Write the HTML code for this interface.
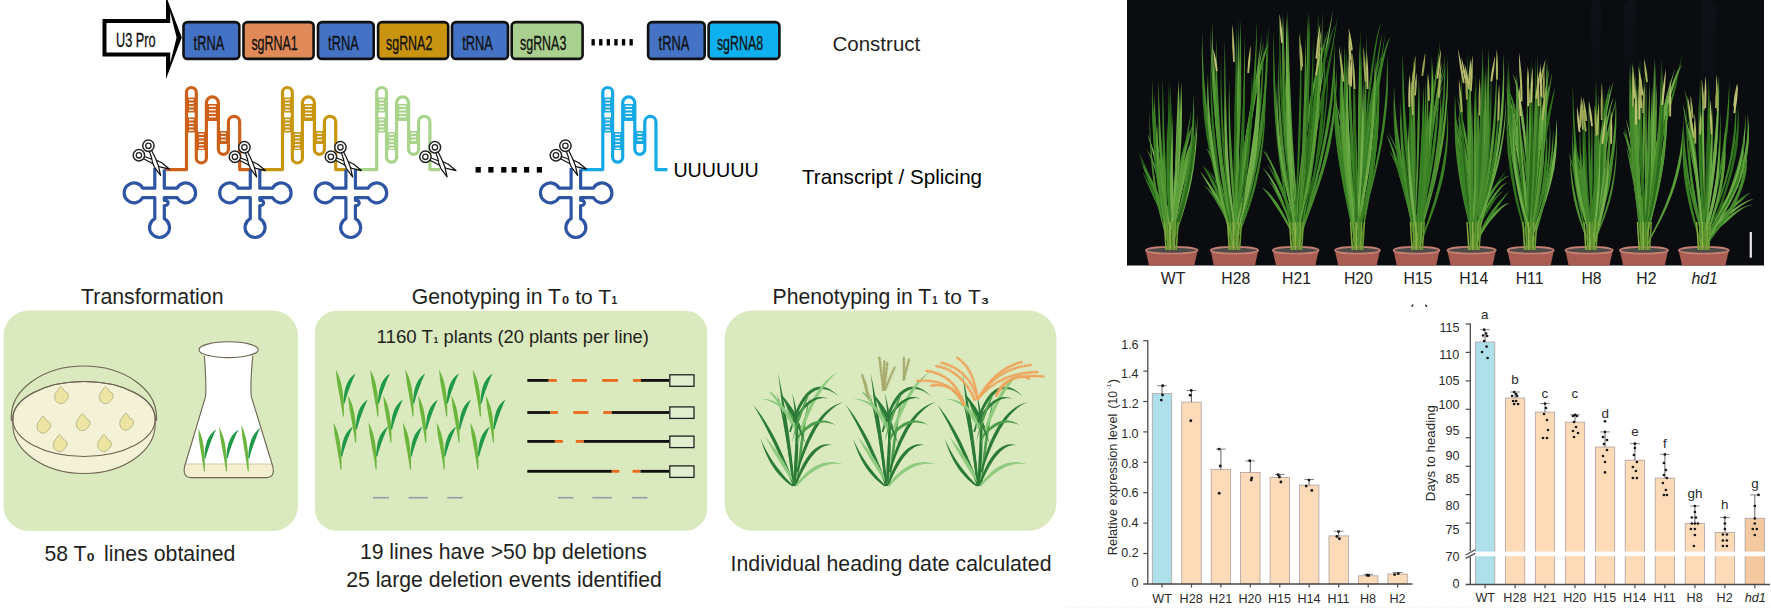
<!DOCTYPE html>
<html><head><meta charset="utf-8"><title>Figure</title>
<style>html,body{margin:0;padding:0;background:#fff;}body{width:1771px;height:610px;overflow:hidden;}svg{display:block;}</style>
</head><body>
<svg width="1771" height="610" viewBox="0 0 1771 610" font-family="'Liberation Sans', Arial, sans-serif">
<rect width="1771" height="610" fill="#fff"/>
<path d="M102.5,19 L166,19 L166,-4 L181.8,37.5 L166,79 L166,56.4 L102.5,56.4 Z" fill="#000"/>
<path d="M106.5,23 L170.2,23 L170.2,12 L176.6,37.5 L170.2,63 L170.2,52.4 L106.5,52.4 Z" fill="#fff"/>
<text x="116" y="47.2" font-size="21" fill="#111" textLength="39.6" lengthAdjust="spacingAndGlyphs" stroke="#111" stroke-width="0.35">U3 Pro</text>
<rect x="183.5" y="22.1" width="55.8" height="36.8" rx="4" ry="4" fill="#4472c4" stroke="#111" stroke-width="2.6"/>
<text x="193.6" y="49.8" font-size="21" fill="#111" textLength="30.6" lengthAdjust="spacingAndGlyphs" stroke="#111" stroke-width="0.35">tRNA</text>
<rect x="243.5" y="22.1" width="70.1" height="36.8" rx="4" ry="4" fill="#e08a5a" stroke="#111" stroke-width="2.6"/>
<text x="251.4" y="49.8" font-size="21" fill="#111" textLength="46.3" lengthAdjust="spacingAndGlyphs" stroke="#111" stroke-width="0.35">sgRNA1</text>
<rect x="318" y="22.1" width="55.7" height="36.8" rx="4" ry="4" fill="#4472c4" stroke="#111" stroke-width="2.6"/>
<text x="328.1" y="49.8" font-size="21" fill="#111" textLength="30.6" lengthAdjust="spacingAndGlyphs" stroke="#111" stroke-width="0.35">tRNA</text>
<rect x="378.1" y="22.1" width="70.1" height="36.8" rx="4" ry="4" fill="#c99510" stroke="#111" stroke-width="2.6"/>
<text x="386" y="49.8" font-size="21" fill="#111" textLength="46.3" lengthAdjust="spacingAndGlyphs" stroke="#111" stroke-width="0.35">sgRNA2</text>
<rect x="452" y="22.1" width="56" height="36.8" rx="4" ry="4" fill="#4472c4" stroke="#111" stroke-width="2.6"/>
<text x="462.2" y="49.8" font-size="21" fill="#111" textLength="30.6" lengthAdjust="spacingAndGlyphs" stroke="#111" stroke-width="0.35">tRNA</text>
<rect x="511.7" y="22.1" width="70.9" height="36.8" rx="4" ry="4" fill="#a9d08e" stroke="#111" stroke-width="2.6"/>
<text x="520" y="49.8" font-size="21" fill="#111" textLength="46.3" lengthAdjust="spacingAndGlyphs" stroke="#111" stroke-width="0.35">sgRNA3</text>
<rect x="648.1" y="22.1" width="56.6" height="36.8" rx="4" ry="4" fill="#4472c4" stroke="#111" stroke-width="2.6"/>
<text x="658.6" y="49.8" font-size="21" fill="#111" textLength="30.6" lengthAdjust="spacingAndGlyphs" stroke="#111" stroke-width="0.35">tRNA</text>
<rect x="708.6" y="22.1" width="70.8" height="36.8" rx="4" ry="4" fill="#0fb0ee" stroke="#111" stroke-width="2.6"/>
<text x="716.9" y="49.8" font-size="21" fill="#111" textLength="46.3" lengthAdjust="spacingAndGlyphs" stroke="#111" stroke-width="0.35">sgRNA8</text>
<rect x="591.5" y="39.1" width="3.3" height="6.4" fill="#000"/>
<rect x="599.1" y="39.1" width="3.3" height="6.4" fill="#000"/>
<rect x="606.7" y="39.1" width="3.3" height="6.4" fill="#000"/>
<rect x="614.3" y="39.1" width="3.3" height="6.4" fill="#000"/>
<rect x="621.9" y="39.1" width="3.3" height="6.4" fill="#000"/>
<rect x="629.5" y="39.1" width="3.3" height="6.4" fill="#000"/>
<text x="832.5" y="50.5" font-size="20.5" fill="#231f20">Construct</text>
<rect x="186.5" y="97.5" width="9.8" height="15" fill="#cd611a"/>
<rect x="189.1" y="99.1" width="4.6" height="1.3" fill="#fff"/>
<rect x="189.1" y="102.6" width="4.6" height="1.3" fill="#fff"/>
<rect x="189.1" y="106.1" width="4.6" height="1.3" fill="#fff"/>
<rect x="189.1" y="109.6" width="4.6" height="1.3" fill="#fff"/>
<rect x="186.5" y="117.5" width="9.8" height="15" fill="#cd611a"/>
<rect x="189.1" y="119.1" width="4.6" height="1.3" fill="#fff"/>
<rect x="189.1" y="122.6" width="4.6" height="1.3" fill="#fff"/>
<rect x="189.1" y="126.1" width="4.6" height="1.3" fill="#fff"/>
<rect x="189.1" y="129.6" width="4.6" height="1.3" fill="#fff"/>
<rect x="196.3" y="132" width="10.1" height="18" fill="#cd611a"/>
<rect x="198.9" y="133.6" width="4.9" height="1.3" fill="#fff"/>
<rect x="198.9" y="137.1" width="4.9" height="1.3" fill="#fff"/>
<rect x="198.9" y="140.6" width="4.9" height="1.3" fill="#fff"/>
<rect x="198.9" y="144.1" width="4.9" height="1.3" fill="#fff"/>
<rect x="198.9" y="147.6" width="4.9" height="1.3" fill="#fff"/>
<rect x="206.4" y="104" width="12" height="17" fill="#cd611a"/>
<rect x="209" y="105.6" width="6.8" height="1.3" fill="#fff"/>
<rect x="209" y="109.1" width="6.8" height="1.3" fill="#fff"/>
<rect x="209" y="112.6" width="6.8" height="1.3" fill="#fff"/>
<rect x="209" y="116.1" width="6.8" height="1.3" fill="#fff"/>
<rect x="218.4" y="131" width="10" height="13" fill="#cd611a"/>
<rect x="221" y="132.6" width="4.8" height="1.3" fill="#fff"/>
<rect x="221" y="136.1" width="4.8" height="1.3" fill="#fff"/>
<rect x="221" y="139.6" width="4.8" height="1.3" fill="#fff"/>
<path d="M164.3,169.6 H186.5 V92.4 A4.9,4.9 0 0 1 196.3,92.4 V157.9 A5,5 0 0 0 206.4,157.9 V102.9 A6,6 0 0 1 218.4,102.9 V149.3 A5,5 0 0 0 228.4,149.3 V122 A5.6,5.6 0 0 1 239.7,122 V169.6 H250.3" fill="none" stroke="#cd611a" stroke-width="3.2" stroke-linejoin="round"/>
<rect x="282.5" y="97.5" width="9.8" height="15" fill="#c8960f"/>
<rect x="285.1" y="99.1" width="4.6" height="1.3" fill="#fff"/>
<rect x="285.1" y="102.6" width="4.6" height="1.3" fill="#fff"/>
<rect x="285.1" y="106.1" width="4.6" height="1.3" fill="#fff"/>
<rect x="285.1" y="109.6" width="4.6" height="1.3" fill="#fff"/>
<rect x="282.5" y="117.5" width="9.8" height="15" fill="#c8960f"/>
<rect x="285.1" y="119.1" width="4.6" height="1.3" fill="#fff"/>
<rect x="285.1" y="122.6" width="4.6" height="1.3" fill="#fff"/>
<rect x="285.1" y="126.1" width="4.6" height="1.3" fill="#fff"/>
<rect x="285.1" y="129.6" width="4.6" height="1.3" fill="#fff"/>
<rect x="292.3" y="132" width="10.1" height="18" fill="#c8960f"/>
<rect x="294.9" y="133.6" width="4.9" height="1.3" fill="#fff"/>
<rect x="294.9" y="137.1" width="4.9" height="1.3" fill="#fff"/>
<rect x="294.9" y="140.6" width="4.9" height="1.3" fill="#fff"/>
<rect x="294.9" y="144.1" width="4.9" height="1.3" fill="#fff"/>
<rect x="294.9" y="147.6" width="4.9" height="1.3" fill="#fff"/>
<rect x="302.4" y="104" width="12.1" height="17" fill="#c8960f"/>
<rect x="305" y="105.6" width="6.9" height="1.3" fill="#fff"/>
<rect x="305" y="109.1" width="6.9" height="1.3" fill="#fff"/>
<rect x="305" y="112.6" width="6.9" height="1.3" fill="#fff"/>
<rect x="305" y="116.1" width="6.9" height="1.3" fill="#fff"/>
<rect x="314.4" y="131" width="10" height="13" fill="#c8960f"/>
<rect x="317.1" y="132.6" width="4.8" height="1.3" fill="#fff"/>
<rect x="317.1" y="136.1" width="4.8" height="1.3" fill="#fff"/>
<rect x="317.1" y="139.6" width="4.8" height="1.3" fill="#fff"/>
<path d="M259.8,169.6 H282.5 V92.4 A4.9,4.9 0 0 1 292.3,92.4 V157.9 A5,5 0 0 0 302.4,157.9 V102.9 A6,6 0 0 1 314.4,102.9 V149.3 A5,5 0 0 0 324.4,149.3 V122 A5.6,5.6 0 0 1 335.7,122 V169.6 H345.9" fill="none" stroke="#c8960f" stroke-width="3.2" stroke-linejoin="round"/>
<rect x="376.7" y="97.5" width="9.8" height="15" fill="#a8d48c"/>
<rect x="379.3" y="99.1" width="4.6" height="1.3" fill="#fff"/>
<rect x="379.3" y="102.6" width="4.6" height="1.3" fill="#fff"/>
<rect x="379.3" y="106.1" width="4.6" height="1.3" fill="#fff"/>
<rect x="379.3" y="109.6" width="4.6" height="1.3" fill="#fff"/>
<rect x="376.7" y="117.5" width="9.8" height="15" fill="#a8d48c"/>
<rect x="379.3" y="119.1" width="4.6" height="1.3" fill="#fff"/>
<rect x="379.3" y="122.6" width="4.6" height="1.3" fill="#fff"/>
<rect x="379.3" y="126.1" width="4.6" height="1.3" fill="#fff"/>
<rect x="379.3" y="129.6" width="4.6" height="1.3" fill="#fff"/>
<rect x="386.5" y="132" width="10.1" height="18" fill="#a8d48c"/>
<rect x="389.1" y="133.6" width="4.9" height="1.3" fill="#fff"/>
<rect x="389.1" y="137.1" width="4.9" height="1.3" fill="#fff"/>
<rect x="389.1" y="140.6" width="4.9" height="1.3" fill="#fff"/>
<rect x="389.1" y="144.1" width="4.9" height="1.3" fill="#fff"/>
<rect x="389.1" y="147.6" width="4.9" height="1.3" fill="#fff"/>
<rect x="396.6" y="104" width="12" height="17" fill="#a8d48c"/>
<rect x="399.2" y="105.6" width="6.8" height="1.3" fill="#fff"/>
<rect x="399.2" y="109.1" width="6.8" height="1.3" fill="#fff"/>
<rect x="399.2" y="112.6" width="6.8" height="1.3" fill="#fff"/>
<rect x="399.2" y="116.1" width="6.8" height="1.3" fill="#fff"/>
<rect x="408.6" y="131" width="10" height="13" fill="#a8d48c"/>
<rect x="411.2" y="132.6" width="4.8" height="1.3" fill="#fff"/>
<rect x="411.2" y="136.1" width="4.8" height="1.3" fill="#fff"/>
<rect x="411.2" y="139.6" width="4.8" height="1.3" fill="#fff"/>
<path d="M355.4,169.6 H376.7 V92.4 A4.9,4.9 0 0 1 386.5,92.4 V157.8 A5.1,5.1 0 0 0 396.6,157.8 V102.9 A6,6 0 0 1 408.6,102.9 V149.3 A5,5 0 0 0 418.6,149.3 V122 A5.6,5.6 0 0 1 429.9,122 V169.6 H440" fill="none" stroke="#a8d48c" stroke-width="3.2" stroke-linejoin="round"/>
<rect x="602.8" y="97.5" width="9.8" height="15" fill="#14a9e6"/>
<rect x="605.4" y="99.1" width="4.6" height="1.3" fill="#fff"/>
<rect x="605.4" y="102.6" width="4.6" height="1.3" fill="#fff"/>
<rect x="605.4" y="106.1" width="4.6" height="1.3" fill="#fff"/>
<rect x="605.4" y="109.6" width="4.6" height="1.3" fill="#fff"/>
<rect x="602.8" y="117.5" width="9.8" height="15" fill="#14a9e6"/>
<rect x="605.4" y="119.1" width="4.6" height="1.3" fill="#fff"/>
<rect x="605.4" y="122.6" width="4.6" height="1.3" fill="#fff"/>
<rect x="605.4" y="126.1" width="4.6" height="1.3" fill="#fff"/>
<rect x="605.4" y="129.6" width="4.6" height="1.3" fill="#fff"/>
<rect x="612.6" y="132" width="10.1" height="18" fill="#14a9e6"/>
<rect x="615.2" y="133.6" width="4.9" height="1.3" fill="#fff"/>
<rect x="615.2" y="137.1" width="4.9" height="1.3" fill="#fff"/>
<rect x="615.2" y="140.6" width="4.9" height="1.3" fill="#fff"/>
<rect x="615.2" y="144.1" width="4.9" height="1.3" fill="#fff"/>
<rect x="615.2" y="147.6" width="4.9" height="1.3" fill="#fff"/>
<rect x="622.7" y="104" width="12" height="17" fill="#14a9e6"/>
<rect x="625.3" y="105.6" width="6.8" height="1.3" fill="#fff"/>
<rect x="625.3" y="109.1" width="6.8" height="1.3" fill="#fff"/>
<rect x="625.3" y="112.6" width="6.8" height="1.3" fill="#fff"/>
<rect x="625.3" y="116.1" width="6.8" height="1.3" fill="#fff"/>
<rect x="634.8" y="131" width="10" height="13" fill="#14a9e6"/>
<rect x="637.4" y="132.6" width="4.8" height="1.3" fill="#fff"/>
<rect x="637.4" y="136.1" width="4.8" height="1.3" fill="#fff"/>
<rect x="637.4" y="139.6" width="4.8" height="1.3" fill="#fff"/>
<path d="M580.6,169.6 H602.8 V92.4 A4.9,4.9 0 0 1 612.6,92.4 V157.8 A5.1,5.1 0 0 0 622.7,157.8 V102.9 A6,6 0 0 1 634.8,102.9 V149.3 A5,5 0 0 0 644.8,149.3 V122 A5.6,5.6 0 0 1 656,122 V169.6 H667.4" fill="none" stroke="#14a9e6" stroke-width="3.2" stroke-linejoin="round"/>
<path d="M154.8,168 V188.2 H142.8 A9.9,9.9 0 1 0 142.8,197.6 H154.8 V218.7 A10.0,10.0 0 1 0 164.3,218.7 V205.5 h1.2 a2.6,2.6 0 0 0 0,-5.2 h-1.2 V197.6 H177 A9.9,9.9 0 1 0 177,188.2 H164.3 V169.6" fill="none" stroke="#2d55a4" stroke-width="3.2" stroke-linejoin="round"/>
<path d="M250.3,169.6 V188.2 H238.3 A9.9,9.9 0 1 0 238.3,197.6 H250.3 V218.7 A10.0,10.0 0 1 0 259.8,218.7 V205.5 h1.2 a2.6,2.6 0 0 0 0,-5.2 h-1.2 V197.6 H272.5 A9.9,9.9 0 1 0 272.5,188.2 H259.8 V169.6" fill="none" stroke="#2d55a4" stroke-width="3.2" stroke-linejoin="round"/>
<path d="M345.9,169.6 V188.2 H333.8 A9.9,9.9 0 1 0 333.8,197.6 H345.9 V218.7 A10.0,10.0 0 1 0 355.4,218.7 V205.5 h1.2 a2.6,2.6 0 0 0 0,-5.2 h-1.2 V197.6 H368.1 A9.9,9.9 0 1 0 368.1,188.2 H355.4 V169.6" fill="none" stroke="#2d55a4" stroke-width="3.2" stroke-linejoin="round"/>
<path d="M571.1,168 V188.2 H559.1 A9.9,9.9 0 1 0 559.1,197.6 H571.1 V218.7 A10.0,10.0 0 1 0 580.6,218.7 V205.5 h1.2 a2.6,2.6 0 0 0 0,-5.2 h-1.2 V197.6 H593.3 A9.9,9.9 0 1 0 593.3,188.2 H580.6 V169.6" fill="none" stroke="#2d55a4" stroke-width="3.2" stroke-linejoin="round"/>
<defs><g id="sc"><path d="M143.0,158.5 149.2,161.7 154.5,164.5 160.0,166.8 169.6,169.2 161.8,162.8 156.5,160.2 150.5,158.8 143.9,156.3Z" fill="#fff" stroke="#111" stroke-width="1.2" stroke-linejoin="round"/><path d="M149.2,150.9 151.5,157.5 152.5,162.5 154.4,167.1 160.6,175.4 158.3,165.5 156.5,160.8 154.5,156.3 151.4,150.0Z" fill="#fff" stroke="#111" stroke-width="1.2" stroke-linejoin="round"/><circle cx="148.4" cy="145.8" r="5.7" fill="#fff" stroke="#222" stroke-width="1.5"/><circle cx="148.4" cy="145.8" r="2.7" fill="#fff" stroke="#222" stroke-width="1.3"/><circle cx="138.9" cy="155.3" r="5.7" fill="#fff" stroke="#222" stroke-width="1.5"/><circle cx="138.9" cy="155.3" r="2.7" fill="#fff" stroke="#222" stroke-width="1.3"/></g></defs>
<use href="#sc" transform="translate(0,0)"/>
<use href="#sc" transform="translate(96,1.5)"/>
<use href="#sc" transform="translate(192,1.5)"/>
<use href="#sc" transform="translate(286.5,1.5)"/>
<use href="#sc" transform="translate(417,0)"/>
<rect x="475.6" y="167" width="5.2" height="5.6" fill="#000"/>
<rect x="488.3" y="167" width="5.2" height="5.6" fill="#000"/>
<rect x="501.2" y="167" width="5.2" height="5.6" fill="#000"/>
<rect x="511.6" y="167" width="5.2" height="5.6" fill="#000"/>
<rect x="524" y="167" width="5.2" height="5.6" fill="#000"/>
<rect x="536.8" y="167" width="5.2" height="5.6" fill="#000"/>
<text x="673.4" y="176.5" font-size="19.7" fill="#000">UUUUUU</text>
<text x="802" y="184.2" font-size="20.6" fill="#000">Transcript / Splicing</text>
<rect x="3.6" y="310.6" width="294.4" height="220.3" rx="25" fill="#dae9be"/>
<rect x="314.8" y="310.7" width="392.4" height="220.1" rx="22" fill="#dae9be"/>
<rect x="724.6" y="310.6" width="331.8" height="220.2" rx="28" fill="#dae9be"/>
<text x="81.1" y="303.5" font-size="21.3" fill="#231f20">Transformation</text>
<text x="411.8" y="303.7" font-size="21.2" fill="#231f20">Genotyping in T</text>
<text transform="translate(562.1,303.7) scale(1.243,1)" font-size="10.3" font-weight="bold" fill="#231f20">0</text>
<text x="575.2" y="303.7" font-size="21.1" fill="#231f20">to T</text>
<text transform="translate(611.4,303.7) scale(0.988,1)" font-size="10.3" font-weight="bold" fill="#231f20">1</text>
<text x="772.5" y="303.7" font-size="21.2" fill="#231f20">Phenotyping in T</text>
<text transform="translate(932.3,303.9) scale(0.902,1)" font-size="10.6" font-weight="bold" fill="#231f20">1</text>
<text x="944.3" y="303.7" font-size="21" fill="#231f20">to</text>
<text x="967.9" y="303.7" font-size="21" fill="#231f20">T</text>
<text transform="translate(981.3,304.1) scale(1.492,1)" font-size="8.9" font-weight="bold" fill="#231f20">3</text>
<text x="44.4" y="561.3" font-size="21.2" fill="#231f20">58 T</text>
<text transform="translate(86.8,561.3) scale(1.292,1)" font-size="10.8" font-weight="bold" fill="#231f20">0</text>
<text x="104" y="561.3" font-size="21.3" fill="#231f20">lines obtained</text>
<text x="359.9" y="559" font-size="21.2" fill="#231f20">19 lines have &gt;50 bp deletions</text>
<text x="346.2" y="586.8" font-size="21.2" fill="#231f20">25 large deletion events identified</text>
<text x="730.6" y="570.7" font-size="21.3" fill="#231f20">Individual heading date calculated</text>
<text x="376.5" y="342.9" font-size="18.7" fill="#231f20">1160 T</text>
<text transform="translate(433.7,342.9) scale(0.819,1)" font-size="9.4" font-weight="bold" fill="#231f20">1</text>
<text x="443.6" y="342.9" font-size="18.3" fill="#231f20">plants (20 plants per line)</text>
<path d="M12.8,419 A71.2,37.5 0 0 1 155.2,419 L155.2,424 A71.2,49.5 0 0 1 12.8,424 Z" fill="#f4f2d6" stroke="#6e6354" stroke-width="1.1"/>
<ellipse cx="84" cy="419" rx="71.2" ry="37.5" fill="none" stroke="#6e6354" stroke-width="1.1"/>
<path d="M11.3,421 L11.3,417 A72.6,51 0 0 1 156.5,417 L156.5,421" fill="none" stroke="#6e6354" stroke-width="1.1"/>
<path d="M60.8,386.6 63,388.7 64.5,391.4 67,392.7 68.5,395.2 68,398.2 66.1,400.7 63.5,403 60.8,403.8 57.5,402.7 55.5,400.7 54.6,397.2 55.3,393.7 57.5,390.7 59.5,387.7Z" fill="#ece4a0" stroke="#b9b98e" stroke-width="1.0" stroke-linejoin="round"/>
<path d="M105.5,386.6 107.7,388.7 109.2,391.4 111.7,392.7 113.2,395.2 112.7,398.2 110.8,400.7 108.2,403 105.5,403.8 102.2,402.7 100.2,400.7 99.3,397.2 100,393.7 102.2,390.7 104.2,387.7Z" fill="#ece4a0" stroke="#b9b98e" stroke-width="1.0" stroke-linejoin="round"/>
<path d="M43.1,416.1 45.3,418.2 46.8,420.9 49.3,422.2 50.8,424.7 50.3,427.7 48.4,430.2 45.8,432.5 43.1,433.3 39.8,432.2 37.8,430.2 36.9,426.7 37.6,423.2 39.8,420.2 41.8,417.2Z" fill="#ece4a0" stroke="#b9b98e" stroke-width="1.0" stroke-linejoin="round"/>
<path d="M82.4,413.6 84.6,415.7 86.1,418.4 88.6,419.7 90.1,422.2 89.6,425.2 87.7,427.7 85.1,430 82.4,430.8 79.1,429.7 77.1,427.7 76.2,424.2 76.9,420.7 79.1,417.7 81.1,414.7Z" fill="#ece4a0" stroke="#b9b98e" stroke-width="1.0" stroke-linejoin="round"/>
<path d="M125.9,413.1 128.1,415.2 129.6,417.9 132.1,419.2 133.6,421.7 133.1,424.7 131.2,427.2 128.6,429.5 125.9,430.3 122.6,429.2 120.6,427.2 119.7,423.7 120.4,420.2 122.6,417.2 124.6,414.2Z" fill="#ece4a0" stroke="#b9b98e" stroke-width="1.0" stroke-linejoin="round"/>
<path d="M59.5,434.5 61.7,436.6 63.2,439.3 65.7,440.6 67.2,443.1 66.7,446.1 64.8,448.6 62.2,450.9 59.5,451.7 56.2,450.6 54.2,448.6 53.3,445.1 54,441.6 56.2,438.6 58.2,435.6Z" fill="#ece4a0" stroke="#b9b98e" stroke-width="1.0" stroke-linejoin="round"/>
<path d="M103.8,434.5 106,436.6 107.5,439.3 110,440.6 111.5,443.1 111,446.1 109.1,448.6 106.5,450.9 103.8,451.7 100.5,450.6 98.5,448.6 97.6,445.1 98.3,441.6 100.5,438.6 102.5,435.6Z" fill="#ece4a0" stroke="#b9b98e" stroke-width="1.0" stroke-linejoin="round"/>
<path d="M204.4,356 C205.6,372 206.4,386 205.6,396.4 L184.6,466.5 Q182.4,477.6 191,477.6 L266.5,477.6 Q275.2,477.6 272.8,466.5 L251.2,396.4 C250.4,386 251.2,372 252.8,356 Z" fill="#fff" stroke="none"/>
<path d="M185.9,464 L271.5,464 L272.8,466.5 Q275.2,477.6 266.5,477.6 L191,477.6 Q182.4,477.6 184.6,466.5 Z" fill="#f3efcf"/>
<line x1="185.9" y1="464" x2="271.5" y2="464" stroke="#cfc9a8" stroke-width="1"/>
<path d="M204.9,471.3 204.9,467.3 204.8,463.3 204.7,459.5 204.5,455.7 204.2,452 203.8,448.3 203.4,444.7 202.8,441.2 201.9,437.8 200.9,434.5 199.6,431.4 198.3,428.3 198.3,428.3 198.5,431.6 198.6,435 198.9,438.4 199.3,441.8 199.8,445.3 200.4,448.8 201,452.4 201.6,456 202.2,459.7 202.8,463.5 203.4,467.4 203.9,471.3Z" fill="#6cb53c"/>
<path d="M205.6,458.4 206.4,455.2 207.3,452.2 208.2,449.4 209.1,446.7 210,444.2 210.9,441.8 211.7,439.5 212.6,437.4 213.4,435.3 214.3,433.3 215.2,431.4 216.2,429.5 216.2,429.5 214.4,430.7 212.7,432.2 211.1,433.9 209.7,435.8 208.4,438 207.3,440.4 206.4,443 205.7,445.7 205.2,448.6 204.8,451.7 204.6,454.9 204.4,458.2Z" fill="#1f9848"/>
<path d="M227,471.3 227,467.3 226.9,463.3 226.7,459.4 226.5,455.5 226.1,451.7 225.6,447.9 225.1,444.2 224.3,440.6 223.3,437 222.1,433.6 220.7,430.3 219.2,427 219.2,427 219.5,430.6 219.9,434.1 220.3,437.7 220.9,441.3 221.5,444.9 222.2,448.5 222.9,452.2 223.6,455.9 224.2,459.7 224.9,463.5 225.5,467.4 226,471.3Z" fill="#6cb53c"/>
<path d="M227.7,458.4 228.5,455.2 229.4,452.2 230.3,449.4 231.2,446.7 232.1,444.2 233.1,441.8 234,439.6 234.9,437.4 235.8,435.3 236.7,433.3 237.7,431.4 238.8,429.5 238.8,429.5 237,430.7 235.2,432.2 233.5,433.9 232,435.8 230.7,438 229.6,440.4 228.6,443 227.9,445.7 227.3,448.6 226.9,451.7 226.7,454.9 226.5,458.2Z" fill="#1f9848"/>
<path d="M248.7,471.3 248.7,467.3 248.6,463.2 248.5,459.2 248.2,455.3 247.9,451.3 247.4,447.4 246.9,443.5 246.2,439.6 245.3,435.7 244.1,432 242.8,428.3 241.3,424.6 241.3,424.6 241.6,428.5 241.9,432.4 242.2,436.3 242.7,440.2 243.4,444 244,447.9 244.7,451.7 245.3,455.6 245.9,459.5 246.6,463.4 247.2,467.4 247.7,471.3Z" fill="#6cb53c"/>
<path d="M249.4,458.4 250.2,455.2 251.1,452.1 252,449.2 252.9,446.5 253.8,443.9 254.8,441.4 255.7,438.9 256.6,436.6 257.5,434.3 258.4,432.1 259.3,429.9 260.4,427.8 260.4,427.8 258.6,429.3 256.8,431 255.1,433 253.6,435.1 252.3,437.5 251.2,440 250.3,442.7 249.6,445.6 249,448.5 248.6,451.7 248.4,454.9 248.2,458.2Z" fill="#1f9848"/>
<path d="M204.4,356 C205.6,372 206.4,386 205.6,396.4 L184.6,466.5 Q182.4,477.6 191,477.6 L266.5,477.6 Q275.2,477.6 272.8,466.5 L251.2,396.4 C250.4,386 251.2,372 252.8,356" fill="none" stroke="#6e6354" stroke-width="1.1"/>
<ellipse cx="228.6" cy="349.7" rx="29.6" ry="7.9" fill="#fff" stroke="#6e6354" stroke-width="1.1"/>
<path d="M343.9,416.5 343.9,412.1 343.9,407.9 343.7,403.7 343.5,399.5 343.1,395.5 342.6,391.4 342,387.5 341.2,383.7 340.2,379.9 338.9,376.3 337.4,372.9 335.8,369.5 335.8,369.5 336.1,373.2 336.5,376.9 336.9,380.7 337.5,384.4 338.2,388.2 338.9,392.1 339.6,396 340.3,399.9 341,404 341.7,408.1 342.3,412.3 342.9,416.5Z" fill="#6cb53c"/><path d="M344.6,403.6 345.5,400.2 346.4,397.1 347.4,394.1 348.3,391.3 349.3,388.7 350.2,386.2 351.1,383.9 352,381.6 352.8,379.5 353.7,377.4 354.6,375.4 355.6,373.5 355.6,373.5 353.8,374.8 352,376.3 350.4,378 348.9,380 347.6,382.3 346.5,384.8 345.6,387.5 344.8,390.3 344.3,393.4 343.9,396.6 343.6,399.9 343.4,403.4Z" fill="#1f9848"/>
<path d="M378.4,416.5 378.4,412.1 378.4,407.9 378.2,403.7 378,399.5 377.6,395.5 377.1,391.4 376.5,387.5 375.7,383.7 374.7,379.9 373.4,376.3 371.9,372.9 370.3,369.5 370.3,369.5 370.6,373.2 371,376.9 371.4,380.7 372,384.4 372.7,388.2 373.4,392.1 374.1,396 374.8,399.9 375.5,404 376.2,408.1 376.8,412.3 377.4,416.5Z" fill="#6cb53c"/><path d="M379.1,403.6 380,400.2 380.9,397.1 381.9,394.1 382.8,391.3 383.8,388.7 384.7,386.2 385.6,383.9 386.5,381.6 387.3,379.5 388.2,377.4 389.1,375.4 390.1,373.5 390.1,373.5 388.3,374.8 386.5,376.3 384.9,378 383.4,380 382.1,382.3 381,384.8 380.1,387.5 379.3,390.3 378.8,393.4 378.4,396.6 378.1,399.9 377.9,403.4Z" fill="#1f9848"/>
<path d="M413.5,416.5 413.5,412.1 413.5,407.9 413.3,403.7 413.1,399.5 412.7,395.5 412.2,391.4 411.6,387.5 410.8,383.7 409.8,379.9 408.5,376.3 407,372.9 405.4,369.5 405.4,369.5 405.7,373.2 406.1,376.9 406.5,380.7 407.1,384.4 407.8,388.2 408.5,392.1 409.2,396 409.9,399.9 410.6,404 411.3,408.1 411.9,412.3 412.5,416.5Z" fill="#6cb53c"/><path d="M414.2,403.6 415.1,400.2 416,397.1 417,394.1 417.9,391.3 418.9,388.7 419.8,386.2 420.7,383.9 421.6,381.6 422.4,379.5 423.3,377.4 424.2,375.4 425.2,373.5 425.2,373.5 423.4,374.8 421.6,376.3 420,378 418.5,380 417.2,382.3 416.1,384.8 415.2,387.5 414.4,390.3 413.9,393.4 413.5,396.6 413.2,399.9 413,403.4Z" fill="#1f9848"/>
<path d="M447.2,416.5 447.2,412.1 447.2,407.9 447,403.7 446.8,399.5 446.4,395.5 445.9,391.4 445.3,387.5 444.5,383.7 443.5,379.9 442.2,376.3 440.7,372.9 439.1,369.5 439.1,369.5 439.4,373.2 439.8,376.9 440.2,380.7 440.8,384.4 441.5,388.2 442.2,392.1 442.9,396 443.6,399.9 444.3,404 445,408.1 445.6,412.3 446.2,416.5Z" fill="#6cb53c"/><path d="M447.9,403.6 448.8,400.2 449.7,397.1 450.7,394.1 451.6,391.3 452.6,388.7 453.5,386.2 454.4,383.9 455.3,381.6 456.1,379.5 457,377.4 457.9,375.4 458.9,373.5 458.9,373.5 457.1,374.8 455.3,376.3 453.7,378 452.2,380 450.9,382.3 449.8,384.8 448.9,387.5 448.1,390.3 447.6,393.4 447.2,396.6 446.9,399.9 446.7,403.4Z" fill="#1f9848"/>
<path d="M480.9,416.5 480.9,412.1 480.9,407.9 480.7,403.7 480.5,399.5 480.1,395.5 479.6,391.4 479,387.5 478.2,383.7 477.2,379.9 475.9,376.3 474.4,372.9 472.8,369.5 472.8,369.5 473.1,373.2 473.5,376.9 473.9,380.7 474.5,384.4 475.2,388.2 475.9,392.1 476.6,396 477.3,399.9 478,404 478.7,408.1 479.3,412.3 479.9,416.5Z" fill="#6cb53c"/><path d="M481.6,403.6 482.5,400.2 483.4,397.1 484.4,394.1 485.3,391.3 486.3,388.7 487.2,386.2 488.1,383.9 489,381.6 489.8,379.5 490.7,377.4 491.6,375.4 492.6,373.5 492.6,373.5 490.8,374.8 489,376.3 487.4,378 485.9,380 484.6,382.3 483.5,384.8 482.6,387.5 481.8,390.3 481.3,393.4 480.9,396.6 480.6,399.9 480.4,403.4Z" fill="#1f9848"/>
<path d="M356.2,442.4 356.2,438 356.2,433.8 356,429.6 355.8,425.4 355.4,421.4 354.9,417.3 354.3,413.4 353.5,409.6 352.5,405.8 351.2,402.2 349.7,398.8 348.1,395.4 348.1,395.4 348.4,399.1 348.8,402.8 349.2,406.6 349.8,410.3 350.5,414.1 351.2,418 351.9,421.9 352.6,425.8 353.3,429.9 354,434 354.6,438.2 355.2,442.4Z" fill="#6cb53c"/><path d="M356.9,429.5 357.8,426.1 358.7,423 359.7,420 360.6,417.2 361.6,414.6 362.5,412.1 363.4,409.8 364.3,407.5 365.1,405.4 366,403.3 366.9,401.3 367.9,399.4 367.9,399.4 366.1,400.7 364.3,402.2 362.7,403.9 361.2,405.9 359.9,408.2 358.8,410.7 357.9,413.4 357.1,416.2 356.6,419.3 356.2,422.5 355.9,425.8 355.7,429.3Z" fill="#1f9848"/>
<path d="M391.4,442.4 391.4,438 391.4,433.8 391.2,429.6 391,425.4 390.6,421.4 390.1,417.3 389.5,413.4 388.7,409.6 387.7,405.8 386.4,402.2 384.9,398.8 383.3,395.4 383.3,395.4 383.6,399.1 384,402.8 384.4,406.6 385,410.3 385.7,414.1 386.4,418 387.1,421.9 387.8,425.8 388.5,429.9 389.2,434 389.8,438.2 390.4,442.4Z" fill="#6cb53c"/><path d="M392.1,429.5 393,426.1 393.9,423 394.9,420 395.8,417.2 396.8,414.6 397.7,412.1 398.6,409.8 399.5,407.5 400.3,405.4 401.2,403.3 402.1,401.3 403.1,399.4 403.1,399.4 401.3,400.7 399.5,402.2 397.9,403.9 396.4,405.9 395.1,408.2 394,410.7 393.1,413.4 392.3,416.2 391.8,419.3 391.4,422.5 391.1,425.8 390.9,429.3Z" fill="#1f9848"/>
<path d="M426.3,442.4 426.3,438 426.3,433.8 426.1,429.6 425.9,425.4 425.5,421.4 425,417.3 424.4,413.4 423.6,409.6 422.6,405.8 421.3,402.2 419.8,398.8 418.2,395.4 418.2,395.4 418.5,399.1 418.9,402.8 419.3,406.6 419.9,410.3 420.6,414.1 421.3,418 422,421.9 422.7,425.8 423.4,429.9 424.1,434 424.7,438.2 425.3,442.4Z" fill="#6cb53c"/><path d="M427,429.5 427.9,426.1 428.8,423 429.8,420 430.7,417.2 431.7,414.6 432.6,412.1 433.5,409.8 434.4,407.5 435.2,405.4 436.1,403.3 437,401.3 438,399.4 438,399.4 436.2,400.7 434.4,402.2 432.8,403.9 431.3,405.9 430,408.2 428.9,410.7 428,413.4 427.2,416.2 426.7,419.3 426.3,422.5 426,425.8 425.8,429.3Z" fill="#1f9848"/>
<path d="M459.5,442.4 459.5,438 459.5,433.8 459.3,429.6 459.1,425.4 458.7,421.4 458.2,417.3 457.6,413.4 456.8,409.6 455.8,405.8 454.5,402.2 453,398.8 451.4,395.4 451.4,395.4 451.7,399.1 452.1,402.8 452.5,406.6 453.1,410.3 453.8,414.1 454.5,418 455.2,421.9 455.9,425.8 456.6,429.9 457.3,434 457.9,438.2 458.5,442.4Z" fill="#6cb53c"/><path d="M460.2,429.5 461.1,426.1 462,423 463,420 463.9,417.2 464.9,414.6 465.8,412.1 466.7,409.8 467.6,407.5 468.4,405.4 469.3,403.3 470.2,401.3 471.2,399.4 471.2,399.4 469.4,400.7 467.6,402.2 466,403.9 464.5,405.9 463.2,408.2 462.1,410.7 461.2,413.4 460.4,416.2 459.9,419.3 459.5,422.5 459.2,425.8 459,429.3Z" fill="#1f9848"/>
<path d="M493.9,442.4 493.9,438 493.9,433.8 493.7,429.6 493.5,425.4 493.1,421.4 492.6,417.3 492,413.4 491.2,409.6 490.2,405.8 488.9,402.2 487.4,398.8 485.8,395.4 485.8,395.4 486.1,399.1 486.5,402.8 486.9,406.6 487.5,410.3 488.2,414.1 488.9,418 489.6,421.9 490.3,425.8 491,429.9 491.7,434 492.3,438.2 492.9,442.4Z" fill="#6cb53c"/><path d="M494.6,429.5 495.5,426.1 496.4,423 497.4,420 498.3,417.2 499.3,414.6 500.2,412.1 501.1,409.8 502,407.5 502.8,405.4 503.7,403.3 504.6,401.3 505.6,399.4 505.6,399.4 503.8,400.7 502,402.2 500.4,403.9 498.9,405.9 497.6,408.2 496.5,410.7 495.6,413.4 494.8,416.2 494.3,419.3 493.9,422.5 493.6,425.8 493.4,429.3Z" fill="#1f9848"/>
<path d="M341.5,469.4 341.5,465 341.5,460.8 341.3,456.6 341.1,452.4 340.7,448.4 340.2,444.3 339.6,440.4 338.8,436.6 337.8,432.8 336.5,429.2 335,425.8 333.4,422.4 333.4,422.4 333.7,426.1 334.1,429.8 334.5,433.6 335.1,437.3 335.8,441.1 336.5,445 337.2,448.9 337.9,452.8 338.6,456.9 339.3,461 339.9,465.2 340.5,469.4Z" fill="#6cb53c"/><path d="M342.2,456.5 343.1,453.1 344,450 345,447 345.9,444.2 346.9,441.6 347.8,439.1 348.7,436.8 349.6,434.5 350.4,432.4 351.3,430.3 352.2,428.3 353.2,426.4 353.2,426.4 351.4,427.7 349.6,429.2 348,430.9 346.5,432.9 345.2,435.2 344.1,437.7 343.2,440.4 342.4,443.2 341.9,446.3 341.5,449.5 341.2,452.8 341,456.3Z" fill="#1f9848"/>
<path d="M376.6,469.4 376.6,465 376.6,460.8 376.4,456.6 376.2,452.4 375.8,448.4 375.3,444.3 374.7,440.4 373.9,436.6 372.9,432.8 371.6,429.2 370.1,425.8 368.5,422.4 368.5,422.4 368.8,426.1 369.2,429.8 369.6,433.6 370.2,437.3 370.9,441.1 371.6,445 372.3,448.9 373,452.8 373.7,456.9 374.4,461 375,465.2 375.6,469.4Z" fill="#6cb53c"/><path d="M377.3,456.5 378.2,453.1 379.1,450 380.1,447 381,444.2 382,441.6 382.9,439.1 383.8,436.8 384.7,434.5 385.5,432.4 386.4,430.3 387.3,428.3 388.3,426.4 388.3,426.4 386.5,427.7 384.7,429.2 383.1,430.9 381.6,432.9 380.3,435.2 379.2,437.7 378.3,440.4 377.5,443.2 377,446.3 376.6,449.5 376.3,452.8 376.1,456.3Z" fill="#1f9848"/>
<path d="M411,469.4 411,465 411,460.8 410.8,456.6 410.6,452.4 410.2,448.4 409.7,444.3 409.1,440.4 408.3,436.6 407.3,432.8 406,429.2 404.5,425.8 402.9,422.4 402.9,422.4 403.2,426.1 403.6,429.8 404,433.6 404.6,437.3 405.3,441.1 406,445 406.7,448.9 407.4,452.8 408.1,456.9 408.8,461 409.4,465.2 410,469.4Z" fill="#6cb53c"/><path d="M411.7,456.5 412.6,453.1 413.5,450 414.5,447 415.4,444.2 416.4,441.6 417.3,439.1 418.2,436.8 419.1,434.5 419.9,432.4 420.8,430.3 421.7,428.3 422.7,426.4 422.7,426.4 420.9,427.7 419.1,429.2 417.5,430.9 416,432.9 414.7,435.2 413.6,437.7 412.7,440.4 411.9,443.2 411.4,446.3 411,449.5 410.7,452.8 410.5,456.3Z" fill="#1f9848"/>
<path d="M444.7,469.4 444.7,465 444.7,460.8 444.5,456.6 444.3,452.4 443.9,448.4 443.4,444.3 442.8,440.4 442,436.6 441,432.8 439.7,429.2 438.2,425.8 436.6,422.4 436.6,422.4 436.9,426.1 437.3,429.8 437.7,433.6 438.3,437.3 439,441.1 439.7,445 440.4,448.9 441.1,452.8 441.8,456.9 442.5,461 443.1,465.2 443.7,469.4Z" fill="#6cb53c"/><path d="M445.4,456.5 446.3,453.1 447.2,450 448.2,447 449.1,444.2 450.1,441.6 451,439.1 451.9,436.8 452.8,434.5 453.6,432.4 454.5,430.3 455.4,428.3 456.4,426.4 456.4,426.4 454.6,427.7 452.8,429.2 451.2,430.9 449.7,432.9 448.4,435.2 447.3,437.7 446.4,440.4 445.6,443.2 445.1,446.3 444.7,449.5 444.4,452.8 444.2,456.3Z" fill="#1f9848"/>
<path d="M478.4,469.4 478.4,465 478.4,460.8 478.2,456.6 478,452.4 477.6,448.4 477.1,444.3 476.5,440.4 475.7,436.6 474.7,432.8 473.4,429.2 471.9,425.8 470.3,422.4 470.3,422.4 470.6,426.1 471,429.8 471.4,433.6 472,437.3 472.7,441.1 473.4,445 474.1,448.9 474.8,452.8 475.5,456.9 476.2,461 476.8,465.2 477.4,469.4Z" fill="#6cb53c"/><path d="M479.1,456.5 480,453.1 480.9,450 481.9,447 482.8,444.2 483.8,441.6 484.7,439.1 485.6,436.8 486.5,434.5 487.3,432.4 488.2,430.3 489.1,428.3 490.1,426.4 490.1,426.4 488.3,427.7 486.5,429.2 484.9,430.9 483.4,432.9 482.1,435.2 481,437.7 480.1,440.4 479.3,443.2 478.8,446.3 478.4,449.5 478.1,452.8 477.9,456.3Z" fill="#1f9848"/>
<line x1="373" y1="497.7" x2="389" y2="497.7" stroke="#9a9aae" stroke-width="1.6"/>
<line x1="408.6" y1="497.7" x2="427.8" y2="497.7" stroke="#9a9aae" stroke-width="1.6"/>
<line x1="447.2" y1="497.7" x2="462.7" y2="497.7" stroke="#9a9aae" stroke-width="1.6"/>
<line x1="557.9" y1="497.7" x2="573.3" y2="497.7" stroke="#9a9aae" stroke-width="1.6"/>
<line x1="592.3" y1="497.7" x2="611.8" y2="497.7" stroke="#9a9aae" stroke-width="1.6"/>
<line x1="631.8" y1="497.7" x2="647.4" y2="497.7" stroke="#9a9aae" stroke-width="1.6"/>
<rect x="527.3" y="379" width="21.4" height="2.8" fill="#111"/>
<rect x="548.7" y="379" width="8" height="2.8" fill="#e86a1c"/>
<rect x="571.9" y="379" width="15.1" height="2.8" fill="#e86a1c"/>
<rect x="602.2" y="379" width="15.8" height="2.8" fill="#e86a1c"/>
<rect x="633" y="379" width="8" height="2.8" fill="#e86a1c"/>
<rect x="641" y="379" width="28.2" height="2.8" fill="#111"/>
<rect x="669.8" y="374.8" width="24.2" height="11.5" fill="#e2eed0" stroke="#222" stroke-width="1.3"/>
<rect x="527.3" y="411.1" width="23" height="2.8" fill="#111"/>
<rect x="550.3" y="411.1" width="7.6" height="2.8" fill="#e86a1c"/>
<rect x="573.3" y="411.1" width="15.1" height="2.8" fill="#e86a1c"/>
<rect x="603.3" y="411.1" width="8.5" height="2.8" fill="#e86a1c"/>
<rect x="611.8" y="411.1" width="57.4" height="2.8" fill="#111"/>
<rect x="669.8" y="406.9" width="24.2" height="11.5" fill="#e2eed0" stroke="#222" stroke-width="1.3"/>
<rect x="527.3" y="440" width="27.6" height="2.8" fill="#111"/>
<rect x="554.9" y="440" width="8" height="2.8" fill="#e86a1c"/>
<rect x="575.8" y="440" width="8" height="2.8" fill="#e86a1c"/>
<rect x="583.8" y="440" width="85.4" height="2.8" fill="#111"/>
<rect x="669.8" y="436.1" width="24.2" height="11.5" fill="#e2eed0" stroke="#222" stroke-width="1.3"/>
<rect x="527.3" y="469.9" width="84.5" height="2.8" fill="#111"/>
<rect x="611.8" y="469.9" width="7.6" height="2.8" fill="#e86a1c"/>
<rect x="632.5" y="469.9" width="8" height="2.8" fill="#e86a1c"/>
<rect x="640.5" y="469.9" width="28.7" height="2.8" fill="#111"/>
<rect x="669.8" y="465.9" width="24.2" height="11.5" fill="#e2eed0" stroke="#222" stroke-width="1.3"/>
<path d="M793.7,486 793.4,479.4 793,472.7 792.5,466.1 791.8,459.5 790.9,452.8 790,446.2 788.8,439.5 787.5,432.9 786.1,426.2 784.5,419.6 782.8,412.9 781,406.3 779.1,399.6 777,393 777,393 778.6,399.8 780,406.5 781.4,413.3 782.7,420 783.9,426.7 785.1,433.3 786.2,440 787.2,446.6 788.2,453.2 789.2,459.8 790.1,466.4 790.9,472.9 791.6,479.5 792.3,486Z" fill="#2b7b37"/><path d="M795.7,486.1 796.5,476.8 797.2,468 797.8,459.6 798.1,451.5 798.3,443.8 798.3,436.6 798.1,429.7 797.7,423.2 797.2,417.2 796.4,411.5 795.6,406.3 794.5,401.4 793.3,397 792,393 792,393 792.8,397.1 793.5,401.6 794.1,406.5 794.6,411.7 794.9,417.4 795.2,423.4 795.4,429.8 795.5,436.6 795.5,443.8 795.5,451.4 795.3,459.5 795.1,467.9 794.7,476.7 794.3,485.9Z" fill="#2b7b37"/><path d="M797.7,486.1 798.6,478.2 799.5,470.6 800.4,463.1 801.4,455.9 802.3,449 803.1,442.2 804,435.7 804.9,429.4 805.7,423.3 806.6,417.4 807.4,411.7 808.2,406.3 809.1,401 810,396 810,396 808.6,400.9 807.3,406.1 806,411.5 804.8,417.1 803.6,422.9 802.5,429 801.5,435.3 800.5,441.9 799.7,448.6 798.9,455.6 798.1,462.9 797.5,470.3 796.9,478 796.3,485.9Z" fill="#4f9e4c"/><path d="M780.5,395.4 782.3,398 784.1,400.5 785.8,403.2 787.5,405.8 789.2,408.5 790.8,411.1 792.4,413.9 794,416.6 795.6,419.4 797.2,422.2 798.7,425.1 800.2,428 801.6,431 803,434 803,434 802,430.8 801,427.6 799.9,424.5 798.7,421.5 797.4,418.5 796,415.5 794.6,412.6 793,409.8 791.3,407.1 789.5,404.5 787.6,401.9 785.7,399.4 783.6,396.9 781.5,394.6Z" fill="#2b7b37"/><path d="M785.5,404.2 786.3,406.6 787.2,409 788.1,411.5 789,414 789.9,416.6 790.9,419.2 792,421.9 793,424.6 794.1,427.4 795.3,430.2 796.4,433 797.6,436 798.8,439 800,442 800,442 799.2,438.8 798.4,435.7 797.6,432.7 796.7,429.7 795.9,426.7 795,423.9 794,421.1 793.1,418.4 792.1,415.8 791,413.2 789.9,410.8 788.8,408.4 787.7,406 786.5,403.8Z" fill="#4f9e4c"/><path d="M794.8,485.7 791.9,477.7 789,470.1 786,462.8 783.1,455.8 780.1,449.2 777.2,442.8 774.1,436.8 771.1,431.2 768,425.9 765,420.9 761.9,416.2 758.9,411.9 755.8,407.9 752.8,404.3 752.8,404.3 755.3,408.3 757.8,412.6 760.4,417.2 763,422 765.7,427.2 768.4,432.6 771.3,438.3 774.2,444.3 777.1,450.6 780.2,457.1 783.4,464 786.6,471.1 789.9,478.6 793.2,486.3Z" fill="#2b7b37"/><path d="M793.5,485.4 790.7,482.9 788,480.2 785.4,477.5 782.9,474.6 780.4,471.6 778,468.5 775.6,465.3 773.3,461.9 771,458.4 768.8,454.8 766.6,451 764.5,447 762.5,442.9 760.5,438.6 760.5,438.6 761.9,443.1 763.5,447.5 765.1,451.7 766.9,455.8 768.8,459.7 770.9,463.4 773.1,467 775.5,470.4 778,473.6 780.7,476.6 783.5,479.4 786.4,482 789.4,484.4 792.5,486.6Z" fill="#2b7b37"/><path d="M795.8,483.5 793.6,479.3 791.4,475.2 789.2,471.2 787.1,467.4 784.9,463.7 782.7,460.1 780.5,456.7 778.2,453.4 776,450.2 773.8,447.2 771.5,444.3 769.3,441.6 767.2,438.9 765,436.4 765,436.4 766.6,439.3 768.3,442.3 770,445.4 771.7,448.5 773.6,451.8 775.5,455.1 777.5,458.5 779.7,462 781.9,465.5 784.2,469.2 786.6,472.9 789,476.6 791.6,480.5 794.2,484.5Z" fill="#8ecb7e"/><path d="M794.8,485.9 793.9,476.5 792.9,467.4 791.9,458.4 790.9,449.7 789.8,441.1 788.7,432.8 787.5,424.6 786.3,416.7 785,408.9 783.7,401.4 782.4,394.1 781,386.9 779.6,380 778.2,373.3 778.2,373.3 779,380.1 779.9,387.1 780.7,394.3 781.6,401.7 782.6,409.3 783.5,417.1 784.6,425 785.6,433.2 786.8,441.5 788,450.1 789.2,458.8 790.5,467.7 791.9,476.8 793.2,486.1Z" fill="#2b7b37"/><path d="M790.8,432.2 793.6,423.6 796.5,416 799.5,409.4 802.6,403.7 805.8,399 808.9,395.2 812.1,392.4 815.4,390.4 818.7,389.2 822.3,388.9 826.1,389.4 830.1,390.8 834.5,393.2 839,396.6 839,396.6 834.8,392.8 830.7,389.8 826.6,387.8 822.4,386.8 818.3,386.8 814.3,387.8 810.4,389.9 806.7,393.1 803.3,397.2 800.1,402.2 797.1,408.2 794.3,415.2 791.7,423 789.2,431.8Z" fill="#2b7b37"/><path d="M796.9,445.3 799.8,437 802.8,429.3 805.7,422 808.7,415.2 811.6,408.9 814.5,403 817.4,397.6 820.3,392.7 823.2,388.2 826.1,384.1 829,380.5 831.9,377.3 834.9,374.5 838,372.2 838,372.2 834.5,374 831.1,376.3 827.7,379.2 824.3,382.6 821,386.5 817.7,391 814.6,396 811.5,401.4 808.5,407.4 805.7,413.9 802.9,420.9 800.3,428.4 797.7,436.3 795.1,444.7Z" fill="#8ecb7e"/><path d="M792.6,425.3 795.3,420.9 798,416.9 800.6,413.3 803.2,410.2 805.8,407.4 808.3,405 810.7,402.9 813.1,401.3 815.5,400 817.9,399 820.4,398.4 822.8,398.1 825.4,398.3 828,398.8 828,398.8 825.5,397.8 822.9,397.2 820.2,397 817.5,397.3 814.8,398.1 812,399.3 809.3,401 806.6,403.1 803.9,405.6 801.4,408.6 798.8,412 796.3,415.8 793.9,420.1 791.4,424.7Z" fill="#2b7b37"/><path d="M797.8,472.2 800.7,463.8 803.6,455.8 806.6,448.5 809.6,441.6 812.7,435.4 815.8,429.6 819,424.4 822.2,419.7 825.5,415.5 828.9,411.9 832.4,408.7 835.9,406 839.7,403.8 843.6,402.1 843.6,402.1 839.4,403.2 835.3,404.9 831.3,407.3 827.4,410.2 823.5,413.7 819.8,417.9 816.3,422.6 812.9,428 809.7,433.9 806.7,440.3 803.8,447.4 801.1,455 798.6,463.1 796.2,471.8Z" fill="#2b7b37"/><path d="M796.6,440.4 799.5,437 802.3,433.9 805.1,431.2 807.9,428.9 810.6,427 813.3,425.4 815.9,424.2 818.6,423.3 821.3,422.8 824,422.5 826.8,422.7 829.7,423.2 832.7,424.1 835.8,425.4 835.8,425.4 833,423.6 830.1,422.1 827.1,421.1 824.1,420.5 821.1,420.4 818,420.7 815,421.5 811.9,422.8 809,424.5 806.1,426.7 803.3,429.3 800.6,432.3 798,435.7 795.4,439.6Z" fill="#4f9e4c"/><path d="M795.8,486.3 798.5,480.1 801.1,474.4 803.8,469.3 806.4,464.7 809,460.6 811.5,457 814.1,453.9 816.6,451.3 819.1,449.2 821.6,447.5 824.1,446.2 826.8,445.4 829.6,445.1 832.5,445.3 832.5,445.3 829.6,444.5 826.7,444.2 823.6,444.5 820.6,445.4 817.6,446.9 814.6,449.1 811.7,451.7 808.9,455 806.2,458.8 803.6,463.1 801.1,468 798.7,473.4 796.4,479.3 794.2,485.7Z" fill="#2b7b37"/><path d="M796.7,486.6 800,482.9 803.3,479.7 806.6,476.7 809.8,474.1 813,471.8 816.2,469.8 819.4,468.1 822.5,466.6 825.7,465.5 828.9,464.6 832.2,464 835.5,463.7 839,463.7 842.5,464.1 842.5,464.1 839.1,463.1 835.6,462.4 832.1,462.1 828.5,462.2 825,462.7 821.4,463.6 817.9,465 814.4,466.7 811,468.9 807.7,471.5 804.5,474.4 801.3,477.7 798.3,481.4 795.3,485.4Z" fill="#8ecb7e"/><path d="M796.7,429.8 795.2,425.5 793.5,421.5 791.7,417.9 789.7,414.5 787.5,411.4 785.1,408.6 782.5,406.2 779.7,404.1 776.8,402.4 773.8,401 770.6,399.9 767.3,399.2 764,398.9 760.5,398.8 760.5,398.8 763.9,399.4 767.1,400.2 770.1,401.3 773,402.7 775.7,404.3 778.3,406.1 780.7,408.2 783.1,410.5 785.4,413.1 787.5,415.9 789.6,419.1 791.6,422.5 793.5,426.2 795.3,430.2Z" fill="#8ecb7e"/><path d="M794.6,486 795,480.8 795.5,475.6 795.9,470.2 796.3,464.7 796.7,459.1 797,453.4 797.4,447.6 797.6,441.7 797.9,435.6 798.1,429.5 798.4,423.3 798.6,417 798.8,410.5 799,404 799,404 798.4,410.5 797.7,416.9 797.1,423.2 796.6,429.4 796.1,435.5 795.6,441.5 795.1,447.4 794.8,453.2 794.4,458.9 794.1,464.5 793.9,470.1 793.7,475.5 793.5,480.8 793.4,486Z" fill="#2b7b37"/><path d="M782.5,398.3 784.3,401.6 786.1,404.8 787.9,408.1 789.6,411.3 791.4,414.6 793.1,417.9 794.8,421.2 796.4,424.6 798.1,427.9 799.7,431.3 801.3,434.7 802.9,438.1 804.5,441.5 806,445 806,445 804.9,441.4 803.7,437.8 802.5,434.2 801.2,430.6 799.8,427.1 798.3,423.7 796.7,420.3 795.1,416.9 793.4,413.6 791.6,410.3 789.6,407.1 787.7,403.9 785.6,400.8 783.5,397.7Z" fill="#2b7b37"/><path d="M807.5,395.8 806,398.6 804.6,401.5 803.3,404.5 802,407.5 800.8,410.7 799.6,413.9 798.5,417.1 797.4,420.5 796.4,423.9 795.4,427.4 794.5,431 793.6,434.6 792.8,438.3 792,442 792,442 793.2,438.4 794.4,434.8 795.7,431.3 796.9,427.9 798.1,424.5 799.3,421.1 800.5,417.9 801.7,414.6 802.9,411.5 804,408.3 805.2,405.2 806.3,402.2 807.4,399.2 808.5,396.2Z" fill="#4f9e4c"/><path d="M769.6,392.5 771.3,394.4 773,396.4 774.7,398.6 776.4,400.9 778.1,403.3 779.9,405.9 781.7,408.6 783.5,411.5 785.4,414.5 787.3,417.7 789.2,421 791.1,424.5 793.1,428.2 795,432 795,432 793.5,428 792,424.1 790.4,420.4 788.8,416.9 787.2,413.5 785.5,410.4 783.8,407.4 782,404.5 780.2,401.9 778.3,399.4 776.4,397.2 774.4,395.1 772.4,393.2 770.4,391.5Z" fill="#8ecb7e"/><path d="M886.2,486 885.9,479.4 885.5,472.7 885,466.1 884.3,459.5 883.4,452.8 882.5,446.2 881.3,439.5 880,432.9 878.6,426.2 877,419.6 875.3,412.9 873.5,406.3 871.6,399.6 869.5,393 869.5,393 871.1,399.8 872.5,406.5 873.9,413.3 875.2,420 876.4,426.7 877.6,433.3 878.7,440 879.7,446.6 880.7,453.2 881.7,459.8 882.6,466.4 883.4,472.9 884.1,479.5 884.8,486Z" fill="#2b7b37"/><path d="M888.2,486.1 889,476.8 889.7,468 890.3,459.6 890.6,451.5 890.8,443.8 890.8,436.6 890.6,429.7 890.2,423.2 889.7,417.2 888.9,411.5 888.1,406.3 887,401.4 885.8,397 884.5,393 884.5,393 885.3,397.1 886,401.6 886.6,406.5 887.1,411.7 887.4,417.4 887.7,423.4 887.9,429.8 888,436.6 888,443.8 888,451.4 887.8,459.5 887.6,467.9 887.2,476.7 886.8,485.9Z" fill="#2b7b37"/><path d="M890.2,486.1 891.1,478.2 892,470.6 892.9,463.1 893.9,455.9 894.8,449 895.6,442.2 896.5,435.7 897.4,429.4 898.2,423.3 899.1,417.4 899.9,411.7 900.7,406.3 901.6,401 902.5,396 902.5,396 901.1,400.9 899.8,406.1 898.5,411.5 897.3,417.1 896.1,422.9 895,429 894,435.3 893,441.9 892.2,448.6 891.4,455.6 890.6,462.9 890,470.3 889.4,478 888.8,485.9Z" fill="#4f9e4c"/><path d="M873,395.4 874.8,398 876.6,400.5 878.3,403.2 880,405.8 881.7,408.5 883.3,411.1 884.9,413.9 886.5,416.6 888.1,419.4 889.7,422.2 891.2,425.1 892.7,428 894.1,431 895.5,434 895.5,434 894.5,430.8 893.5,427.6 892.4,424.5 891.2,421.5 889.9,418.5 888.5,415.5 887.1,412.6 885.5,409.8 883.8,407.1 882,404.5 880.1,401.9 878.2,399.4 876.1,396.9 874,394.6Z" fill="#2b7b37"/><path d="M878,404.2 878.8,406.6 879.7,409 880.6,411.5 881.5,414 882.4,416.6 883.4,419.2 884.5,421.9 885.5,424.6 886.6,427.4 887.8,430.2 888.9,433 890.1,436 891.3,439 892.5,442 892.5,442 891.7,438.8 890.9,435.7 890.1,432.7 889.2,429.7 888.4,426.7 887.5,423.9 886.5,421.1 885.6,418.4 884.6,415.8 883.5,413.2 882.4,410.8 881.3,408.4 880.2,406 879,403.8Z" fill="#4f9e4c"/><path d="M887.3,485.7 884.4,477.7 881.5,470.1 878.5,462.8 875.6,455.8 872.6,449.2 869.7,442.8 866.6,436.8 863.6,431.2 860.5,425.9 857.5,420.9 854.4,416.2 851.4,411.9 848.3,407.9 845.3,404.3 845.3,404.3 847.8,408.3 850.3,412.6 852.9,417.2 855.5,422 858.2,427.2 860.9,432.6 863.8,438.3 866.7,444.3 869.6,450.6 872.7,457.1 875.9,464 879.1,471.1 882.4,478.6 885.7,486.3Z" fill="#2b7b37"/><path d="M886,485.4 883.2,482.9 880.5,480.2 877.9,477.5 875.4,474.6 872.9,471.6 870.5,468.5 868.1,465.3 865.8,461.9 863.5,458.4 861.3,454.8 859.1,451 857,447 855,442.9 853,438.6 853,438.6 854.4,443.1 856,447.5 857.6,451.7 859.4,455.8 861.3,459.7 863.4,463.4 865.6,467 868,470.4 870.5,473.6 873.2,476.6 876,479.4 878.9,482 881.9,484.4 885,486.6Z" fill="#2b7b37"/><path d="M888.3,483.5 886.1,479.3 883.9,475.2 881.7,471.2 879.6,467.4 877.4,463.7 875.2,460.1 873,456.7 870.7,453.4 868.5,450.2 866.3,447.2 864,444.3 861.8,441.6 859.7,438.9 857.5,436.4 857.5,436.4 859.1,439.3 860.8,442.3 862.5,445.4 864.2,448.5 866.1,451.8 868,455.1 870,458.5 872.2,462 874.4,465.5 876.7,469.2 879.1,472.9 881.5,476.6 884.1,480.5 886.7,484.5Z" fill="#8ecb7e"/><path d="M887.3,485.9 886.4,476.5 885.4,467.4 884.4,458.4 883.4,449.7 882.3,441.1 881.2,432.8 880,424.6 878.8,416.7 877.5,408.9 876.2,401.4 874.9,394.1 873.5,386.9 872.1,380 870.7,373.3 870.7,373.3 871.5,380.1 872.4,387.1 873.2,394.3 874.1,401.7 875.1,409.3 876,417.1 877.1,425 878.1,433.2 879.3,441.5 880.5,450.1 881.7,458.8 883,467.7 884.4,476.8 885.7,486.1Z" fill="#2b7b37"/><path d="M883.3,432.2 886.1,423.6 889,416 892,409.4 895.1,403.7 898.3,399 901.4,395.2 904.6,392.4 907.9,390.4 911.2,389.2 914.8,388.9 918.6,389.4 922.6,390.8 927,393.2 931.5,396.6 931.5,396.6 927.3,392.8 923.2,389.8 919.1,387.8 914.9,386.8 910.8,386.8 906.8,387.8 902.9,389.9 899.2,393.1 895.8,397.2 892.6,402.2 889.6,408.2 886.8,415.2 884.2,423 881.7,431.8Z" fill="#2b7b37"/><path d="M889.4,445.3 892.3,437 895.3,429.3 898.2,422 901.2,415.2 904.1,408.9 907,403 909.9,397.6 912.8,392.7 915.7,388.2 918.6,384.1 921.5,380.5 924.4,377.3 927.4,374.5 930.5,372.2 930.5,372.2 927,374 923.6,376.3 920.2,379.2 916.8,382.6 913.5,386.5 910.2,391 907.1,396 904,401.4 901,407.4 898.2,413.9 895.4,420.9 892.8,428.4 890.2,436.3 887.6,444.7Z" fill="#8ecb7e"/><path d="M885.1,425.3 887.8,420.9 890.5,416.9 893.1,413.3 895.7,410.2 898.3,407.4 900.8,405 903.2,402.9 905.6,401.3 908,400 910.4,399 912.9,398.4 915.3,398.1 917.9,398.3 920.5,398.8 920.5,398.8 918,397.8 915.4,397.2 912.7,397 910,397.3 907.3,398.1 904.5,399.3 901.8,401 899.1,403.1 896.4,405.6 893.9,408.6 891.3,412 888.8,415.8 886.4,420.1 883.9,424.7Z" fill="#2b7b37"/><path d="M890.3,472.2 893.2,463.8 896.1,455.8 899.1,448.5 902.1,441.6 905.2,435.4 908.3,429.6 911.5,424.4 914.7,419.7 918,415.5 921.4,411.9 924.9,408.7 928.4,406 932.2,403.8 936.1,402.1 936.1,402.1 931.9,403.2 927.8,404.9 923.8,407.3 919.9,410.2 916,413.7 912.3,417.9 908.8,422.6 905.4,428 902.2,433.9 899.2,440.3 896.3,447.4 893.6,455 891.1,463.1 888.7,471.8Z" fill="#2b7b37"/><path d="M889.1,440.4 892,437 894.8,433.9 897.6,431.2 900.4,428.9 903.1,427 905.8,425.4 908.4,424.2 911.1,423.3 913.8,422.8 916.5,422.5 919.3,422.7 922.2,423.2 925.2,424.1 928.3,425.4 928.3,425.4 925.5,423.6 922.6,422.1 919.6,421.1 916.6,420.5 913.6,420.4 910.5,420.7 907.5,421.5 904.4,422.8 901.5,424.5 898.6,426.7 895.8,429.3 893.1,432.3 890.5,435.7 887.9,439.6Z" fill="#4f9e4c"/><path d="M888.3,486.3 891,480.1 893.6,474.4 896.3,469.3 898.9,464.7 901.5,460.6 904,457 906.6,453.9 909.1,451.3 911.6,449.2 914.1,447.5 916.6,446.2 919.3,445.4 922.1,445.1 925,445.3 925,445.3 922.1,444.5 919.2,444.2 916.1,444.5 913.1,445.4 910.1,446.9 907.1,449.1 904.2,451.7 901.4,455 898.7,458.8 896.1,463.1 893.6,468 891.2,473.4 888.9,479.3 886.7,485.7Z" fill="#2b7b37"/><path d="M889.2,486.6 892.5,482.9 895.8,479.7 899.1,476.7 902.3,474.1 905.5,471.8 908.7,469.8 911.9,468.1 915,466.6 918.2,465.5 921.4,464.6 924.7,464 928,463.7 931.5,463.7 935,464.1 935,464.1 931.6,463.1 928.1,462.4 924.6,462.1 921,462.2 917.5,462.7 913.9,463.6 910.4,465 906.9,466.7 903.5,468.9 900.2,471.5 897,474.4 893.8,477.7 890.8,481.4 887.8,485.4Z" fill="#8ecb7e"/><path d="M889.2,429.8 887.7,425.5 886,421.5 884.2,417.9 882.2,414.5 880,411.4 877.6,408.6 875,406.2 872.2,404.1 869.3,402.4 866.3,401 863.1,399.9 859.8,399.2 856.5,398.9 853,398.8 853,398.8 856.4,399.4 859.6,400.2 862.6,401.3 865.5,402.7 868.2,404.3 870.8,406.1 873.2,408.2 875.6,410.5 877.9,413.1 880,415.9 882.1,419.1 884.1,422.5 886,426.2 887.8,430.2Z" fill="#8ecb7e"/><path d="M887.1,486 887.5,480.8 888,475.6 888.4,470.2 888.8,464.7 889.2,459.1 889.5,453.4 889.9,447.6 890.1,441.7 890.4,435.6 890.6,429.5 890.9,423.3 891.1,417 891.3,410.5 891.5,404 891.5,404 890.9,410.5 890.2,416.9 889.6,423.2 889.1,429.4 888.6,435.5 888.1,441.5 887.6,447.4 887.3,453.2 886.9,458.9 886.6,464.5 886.4,470.1 886.2,475.5 886,480.8 885.9,486Z" fill="#2b7b37"/><path d="M875,398.3 876.8,401.6 878.6,404.8 880.4,408.1 882.1,411.3 883.9,414.6 885.6,417.9 887.3,421.2 888.9,424.6 890.6,427.9 892.2,431.3 893.8,434.7 895.4,438.1 897,441.5 898.5,445 898.5,445 897.4,441.4 896.2,437.8 895,434.2 893.7,430.6 892.3,427.1 890.8,423.7 889.2,420.3 887.6,416.9 885.9,413.6 884.1,410.3 882.1,407.1 880.2,403.9 878.1,400.8 876,397.7Z" fill="#2b7b37"/><path d="M900,395.8 898.5,398.6 897.1,401.5 895.8,404.5 894.5,407.5 893.3,410.7 892.1,413.9 891,417.1 889.9,420.5 888.9,423.9 887.9,427.4 887,431 886.1,434.6 885.3,438.3 884.5,442 884.5,442 885.7,438.4 886.9,434.8 888.2,431.3 889.4,427.9 890.6,424.5 891.8,421.1 893,417.9 894.2,414.6 895.4,411.5 896.5,408.3 897.7,405.2 898.8,402.2 899.9,399.2 901,396.2Z" fill="#4f9e4c"/><path d="M862.1,392.5 863.8,394.4 865.5,396.4 867.2,398.6 868.9,400.9 870.6,403.3 872.4,405.9 874.2,408.6 876,411.5 877.9,414.5 879.8,417.7 881.7,421 883.6,424.5 885.6,428.2 887.5,432 887.5,432 886,428 884.5,424.1 882.9,420.4 881.3,416.9 879.7,413.5 878,410.4 876.3,407.4 874.5,404.5 872.7,401.9 870.8,399.4 868.9,397.2 866.9,395.1 864.9,393.2 862.9,391.5Z" fill="#8ecb7e"/><path d="M867.8,396 C866,388 864,380 862,374.7" fill="none" stroke="#a7ab6c" stroke-width="1.80" stroke-linecap="round"/><path d="M867.8,396 C866,388 864,380 862,374.7" fill="none" stroke="#a7ab6c" stroke-width="3.48" stroke-dasharray="1.1 1.4" opacity="0.65"/><path d="M883.3,390.2 C882,378 880.5,366 879.3,357.5" fill="none" stroke="#a7ab6c" stroke-width="1.80" stroke-linecap="round"/><path d="M883.3,390.2 C882,378 880.5,366 879.3,357.5" fill="none" stroke="#a7ab6c" stroke-width="3.48" stroke-dasharray="1.1 1.4" opacity="0.65"/><path d="M883.3,390.2 C883.5,378 884,368 884.4,360.9" fill="none" stroke="#a7ab6c" stroke-width="1.80" stroke-linecap="round"/><path d="M883.3,390.2 C883.5,378 884,368 884.4,360.9" fill="none" stroke="#a7ab6c" stroke-width="3.48" stroke-dasharray="1.1 1.4" opacity="0.65"/><path d="M884,389 C885.5,378 886.5,370 887.3,362.6" fill="none" stroke="#a7ab6c" stroke-width="1.80" stroke-linecap="round"/><path d="M884,389 C885.5,378 886.5,370 887.3,362.6" fill="none" stroke="#a7ab6c" stroke-width="3.48" stroke-dasharray="1.1 1.4" opacity="0.65"/><path d="M885,390 C889,380 892,373 894.8,367.2" fill="none" stroke="#a7ab6c" stroke-width="1.80" stroke-linecap="round"/><path d="M885,390 C889,380 892,373 894.8,367.2" fill="none" stroke="#a7ab6c" stroke-width="3.48" stroke-dasharray="1.1 1.4" opacity="0.65"/><path d="M903.9,380 C904,370 904,362 903.9,357.5" fill="none" stroke="#a7ab6c" stroke-width="1.80" stroke-linecap="round"/><path d="M903.9,380 C904,370 904,362 903.9,357.5" fill="none" stroke="#a7ab6c" stroke-width="3.48" stroke-dasharray="1.1 1.4" opacity="0.65"/><path d="M904,378 C906,370 908,364 909.1,359.2" fill="none" stroke="#a7ab6c" stroke-width="1.80" stroke-linecap="round"/><path d="M904,378 C906,370 908,364 909.1,359.2" fill="none" stroke="#a7ab6c" stroke-width="3.48" stroke-dasharray="1.1 1.4" opacity="0.65"/><path d="M869,398 C867,392 866,386 864.5,381" fill="none" stroke="#a7ab6c" stroke-width="1.80" stroke-linecap="round"/><path d="M869,398 C867,392 866,386 864.5,381" fill="none" stroke="#a7ab6c" stroke-width="3.48" stroke-dasharray="1.1 1.4" opacity="0.65"/><path d="M977.9,486 977.6,479.4 977.2,472.7 976.7,466.1 976,459.5 975.1,452.8 974.2,446.2 973,439.5 971.7,432.9 970.3,426.2 968.7,419.6 967,412.9 965.2,406.3 963.3,399.6 961.2,393 961.2,393 962.8,399.8 964.2,406.5 965.6,413.3 966.9,420 968.1,426.7 969.3,433.3 970.4,440 971.4,446.6 972.4,453.2 973.4,459.8 974.3,466.4 975.1,472.9 975.8,479.5 976.5,486Z" fill="#2b7b37"/><path d="M979.9,486.1 980.7,476.8 981.4,468 982,459.6 982.3,451.5 982.5,443.8 982.5,436.6 982.3,429.7 981.9,423.2 981.4,417.2 980.6,411.5 979.8,406.3 978.7,401.4 977.5,397 976.2,393 976.2,393 977,397.1 977.7,401.6 978.3,406.5 978.8,411.7 979.1,417.4 979.4,423.4 979.6,429.8 979.7,436.6 979.7,443.8 979.7,451.4 979.5,459.5 979.3,467.9 978.9,476.7 978.5,485.9Z" fill="#2b7b37"/><path d="M981.9,486.1 982.8,478.2 983.7,470.6 984.6,463.1 985.6,455.9 986.5,449 987.3,442.2 988.2,435.7 989.1,429.4 989.9,423.3 990.8,417.4 991.6,411.7 992.4,406.3 993.3,401 994.2,396 994.2,396 992.8,400.9 991.5,406.1 990.2,411.5 989,417.1 987.8,422.9 986.7,429 985.7,435.3 984.7,441.9 983.9,448.6 983.1,455.6 982.3,462.9 981.7,470.3 981.1,478 980.5,485.9Z" fill="#4f9e4c"/><path d="M964.7,395.4 966.5,398 968.3,400.5 970,403.2 971.7,405.8 973.4,408.5 975,411.1 976.6,413.9 978.2,416.6 979.8,419.4 981.4,422.2 982.9,425.1 984.4,428 985.8,431 987.2,434 987.2,434 986.2,430.8 985.2,427.6 984.1,424.5 982.9,421.5 981.6,418.5 980.2,415.5 978.8,412.6 977.2,409.8 975.5,407.1 973.7,404.5 971.8,401.9 969.9,399.4 967.8,396.9 965.7,394.6Z" fill="#2b7b37"/><path d="M969.7,404.2 970.5,406.6 971.4,409 972.3,411.5 973.2,414 974.1,416.6 975.1,419.2 976.2,421.9 977.2,424.6 978.3,427.4 979.5,430.2 980.6,433 981.8,436 983,439 984.2,442 984.2,442 983.4,438.8 982.6,435.7 981.8,432.7 980.9,429.7 980.1,426.7 979.2,423.9 978.2,421.1 977.3,418.4 976.3,415.8 975.2,413.2 974.1,410.8 973,408.4 971.9,406 970.7,403.8Z" fill="#4f9e4c"/><path d="M979,485.7 976.1,477.7 973.2,470.1 970.2,462.8 967.3,455.8 964.3,449.2 961.4,442.8 958.3,436.8 955.3,431.2 952.2,425.9 949.2,420.9 946.1,416.2 943.1,411.9 940,407.9 937,404.3 937,404.3 939.5,408.3 942,412.6 944.6,417.2 947.2,422 949.9,427.2 952.6,432.6 955.5,438.3 958.4,444.3 961.3,450.6 964.4,457.1 967.6,464 970.8,471.1 974.1,478.6 977.4,486.3Z" fill="#2b7b37"/><path d="M977.7,485.4 974.9,482.9 972.2,480.2 969.6,477.5 967.1,474.6 964.6,471.6 962.2,468.5 959.8,465.3 957.5,461.9 955.2,458.4 953,454.8 950.8,451 948.7,447 946.7,442.9 944.7,438.6 944.7,438.6 946.1,443.1 947.7,447.5 949.3,451.7 951.1,455.8 953,459.7 955.1,463.4 957.3,467 959.7,470.4 962.2,473.6 964.9,476.6 967.7,479.4 970.6,482 973.6,484.4 976.7,486.6Z" fill="#2b7b37"/><path d="M980,483.5 977.8,479.3 975.6,475.2 973.4,471.2 971.3,467.4 969.1,463.7 966.9,460.1 964.7,456.7 962.4,453.4 960.2,450.2 958,447.2 955.7,444.3 953.5,441.6 951.4,438.9 949.2,436.4 949.2,436.4 950.8,439.3 952.5,442.3 954.2,445.4 955.9,448.5 957.8,451.8 959.7,455.1 961.7,458.5 963.9,462 966.1,465.5 968.4,469.2 970.8,472.9 973.2,476.6 975.8,480.5 978.4,484.5Z" fill="#8ecb7e"/><path d="M979,485.9 978.1,476.5 977.1,467.4 976.1,458.4 975.1,449.7 974,441.1 972.9,432.8 971.7,424.6 970.5,416.7 969.2,408.9 967.9,401.4 966.6,394.1 965.2,386.9 963.8,380 962.4,373.3 962.4,373.3 963.2,380.1 964.1,387.1 964.9,394.3 965.8,401.7 966.8,409.3 967.7,417.1 968.8,425 969.8,433.2 971,441.5 972.2,450.1 973.4,458.8 974.7,467.7 976.1,476.8 977.4,486.1Z" fill="#2b7b37"/><path d="M975,432.2 977.8,423.6 980.7,416 983.7,409.4 986.8,403.7 990,399 993.1,395.2 996.3,392.4 999.6,390.4 1002.9,389.2 1006.5,388.9 1010.3,389.4 1014.3,390.8 1018.7,393.2 1023.2,396.6 1023.2,396.6 1019,392.8 1014.9,389.8 1010.8,387.8 1006.6,386.8 1002.5,386.8 998.5,387.8 994.6,389.9 990.9,393.1 987.5,397.2 984.3,402.2 981.3,408.2 978.5,415.2 975.9,423 973.4,431.8Z" fill="#2b7b37"/><path d="M981.1,445.3 984,437 987,429.3 989.9,422 992.9,415.2 995.8,408.9 998.7,403 1001.6,397.6 1004.5,392.7 1007.4,388.2 1010.3,384.1 1013.2,380.5 1016.1,377.3 1019.1,374.5 1022.2,372.2 1022.2,372.2 1018.7,374 1015.3,376.3 1011.9,379.2 1008.5,382.6 1005.2,386.5 1001.9,391 998.8,396 995.7,401.4 992.7,407.4 989.9,413.9 987.1,420.9 984.5,428.4 981.9,436.3 979.3,444.7Z" fill="#8ecb7e"/><path d="M976.8,425.3 979.5,420.9 982.2,416.9 984.8,413.3 987.4,410.2 990,407.4 992.5,405 994.9,402.9 997.3,401.3 999.7,400 1002.1,399 1004.6,398.4 1007,398.1 1009.6,398.3 1012.2,398.8 1012.2,398.8 1009.7,397.8 1007.1,397.2 1004.4,397 1001.7,397.3 999,398.1 996.2,399.3 993.5,401 990.8,403.1 988.1,405.6 985.6,408.6 983,412 980.5,415.8 978.1,420.1 975.6,424.7Z" fill="#2b7b37"/><path d="M982,472.2 984.9,463.8 987.8,455.8 990.8,448.5 993.8,441.6 996.9,435.4 1000,429.6 1003.2,424.4 1006.4,419.7 1009.7,415.5 1013.1,411.9 1016.6,408.7 1020.1,406 1023.9,403.8 1027.8,402.1 1027.8,402.1 1023.6,403.2 1019.5,404.9 1015.5,407.3 1011.6,410.2 1007.7,413.7 1004,417.9 1000.5,422.6 997.1,428 993.9,433.9 990.9,440.3 988,447.4 985.3,455 982.8,463.1 980.4,471.8Z" fill="#2b7b37"/><path d="M980.8,440.4 983.7,437 986.5,433.9 989.3,431.2 992.1,428.9 994.8,427 997.5,425.4 1000.1,424.2 1002.8,423.3 1005.5,422.8 1008.2,422.5 1011,422.7 1013.9,423.2 1016.9,424.1 1020,425.4 1020,425.4 1017.2,423.6 1014.3,422.1 1011.3,421.1 1008.3,420.5 1005.3,420.4 1002.2,420.7 999.2,421.5 996.1,422.8 993.2,424.5 990.3,426.7 987.5,429.3 984.8,432.3 982.2,435.7 979.6,439.6Z" fill="#4f9e4c"/><path d="M980,486.3 982.7,480.1 985.3,474.4 988,469.3 990.6,464.7 993.2,460.6 995.7,457 998.3,453.9 1000.8,451.3 1003.3,449.2 1005.8,447.5 1008.3,446.2 1011,445.4 1013.8,445.1 1016.7,445.3 1016.7,445.3 1013.8,444.5 1010.9,444.2 1007.8,444.5 1004.8,445.4 1001.8,446.9 998.8,449.1 995.9,451.7 993.1,455 990.4,458.8 987.8,463.1 985.3,468 982.9,473.4 980.6,479.3 978.4,485.7Z" fill="#2b7b37"/><path d="M980.9,486.6 984.2,482.9 987.5,479.7 990.8,476.7 994,474.1 997.2,471.8 1000.4,469.8 1003.6,468.1 1006.7,466.6 1009.9,465.5 1013.1,464.6 1016.4,464 1019.7,463.7 1023.2,463.7 1026.7,464.1 1026.7,464.1 1023.3,463.1 1019.8,462.4 1016.3,462.1 1012.7,462.2 1009.2,462.7 1005.6,463.6 1002.1,465 998.6,466.7 995.2,468.9 991.9,471.5 988.7,474.4 985.5,477.7 982.5,481.4 979.5,485.4Z" fill="#8ecb7e"/><path d="M980.9,429.8 979.4,425.5 977.7,421.5 975.9,417.9 973.9,414.5 971.7,411.4 969.3,408.6 966.7,406.2 963.9,404.1 961,402.4 958,401 954.8,399.9 951.5,399.2 948.2,398.9 944.7,398.8 944.7,398.8 948.1,399.4 951.3,400.2 954.3,401.3 957.2,402.7 959.9,404.3 962.5,406.1 964.9,408.2 967.3,410.5 969.6,413.1 971.7,415.9 973.8,419.1 975.8,422.5 977.7,426.2 979.5,430.2Z" fill="#8ecb7e"/><path d="M978.8,486 979.2,480.8 979.7,475.6 980.1,470.2 980.5,464.7 980.9,459.1 981.2,453.4 981.6,447.6 981.8,441.7 982.1,435.6 982.3,429.5 982.6,423.3 982.8,417 983,410.5 983.2,404 983.2,404 982.6,410.5 981.9,416.9 981.3,423.2 980.8,429.4 980.3,435.5 979.8,441.5 979.3,447.4 979,453.2 978.6,458.9 978.3,464.5 978.1,470.1 977.9,475.5 977.7,480.8 977.6,486Z" fill="#2b7b37"/><path d="M966.7,398.3 968.5,401.6 970.3,404.8 972.1,408.1 973.8,411.3 975.6,414.6 977.3,417.9 979,421.2 980.6,424.6 982.3,427.9 983.9,431.3 985.5,434.7 987.1,438.1 988.7,441.5 990.2,445 990.2,445 989.1,441.4 987.9,437.8 986.7,434.2 985.4,430.6 984,427.1 982.5,423.7 980.9,420.3 979.3,416.9 977.6,413.6 975.8,410.3 973.8,407.1 971.9,403.9 969.8,400.8 967.7,397.7Z" fill="#2b7b37"/><path d="M991.7,395.8 990.2,398.6 988.8,401.5 987.5,404.5 986.2,407.5 985,410.7 983.8,413.9 982.7,417.1 981.6,420.5 980.6,423.9 979.6,427.4 978.7,431 977.8,434.6 977,438.3 976.2,442 976.2,442 977.4,438.4 978.6,434.8 979.9,431.3 981.1,427.9 982.3,424.5 983.5,421.1 984.7,417.9 985.9,414.6 987.1,411.5 988.2,408.3 989.4,405.2 990.5,402.2 991.6,399.2 992.7,396.2Z" fill="#4f9e4c"/><path d="M953.8,392.5 955.5,394.4 957.2,396.4 958.9,398.6 960.6,400.9 962.3,403.3 964.1,405.9 965.9,408.6 967.7,411.5 969.6,414.5 971.5,417.7 973.4,421 975.3,424.5 977.3,428.2 979.2,432 979.2,432 977.7,428 976.2,424.1 974.6,420.4 973,416.9 971.4,413.5 969.7,410.4 968,407.4 966.2,404.5 964.4,401.9 962.5,399.4 960.6,397.2 958.6,395.1 956.6,393.2 954.6,391.5Z" fill="#8ecb7e"/><path d="M977.7,399.3 C974.3,378.7 969.7,366.1 957,357.5" fill="none" stroke="#eea55e" stroke-width="1.88" stroke-linecap="round"/><path d="M977.7,399.3 C974.3,378.7 969.7,366.1 957,357.5" fill="none" stroke="#eea55e" stroke-width="3.62" stroke-dasharray="1.1 1.4" opacity="0.65"/><path d="M977.7,399.3 C972,379.8 960.5,367.2 941,362.6" fill="none" stroke="#eea55e" stroke-width="1.88" stroke-linecap="round"/><path d="M977.7,399.3 C972,379.8 960.5,367.2 941,362.6" fill="none" stroke="#eea55e" stroke-width="3.62" stroke-dasharray="1.1 1.4" opacity="0.65"/><path d="M963.9,405.1 C958.2,384.4 944.4,373 926,370.7" fill="none" stroke="#eea55e" stroke-width="1.88" stroke-linecap="round"/><path d="M963.9,405.1 C958.2,384.4 944.4,373 926,370.7" fill="none" stroke="#eea55e" stroke-width="3.62" stroke-dasharray="1.1 1.4" opacity="0.65"/><path d="M963.9,405.1 C955.9,386.7 938.7,378.7 916.9,381" fill="none" stroke="#eea55e" stroke-width="1.88" stroke-linecap="round"/><path d="M963.9,405.1 C955.9,386.7 938.7,378.7 916.9,381" fill="none" stroke="#eea55e" stroke-width="3.62" stroke-dasharray="1.1 1.4" opacity="0.65"/><path d="M963.9,405.1 C958.2,387.9 944.4,383.3 930.7,385.6" fill="none" stroke="#eea55e" stroke-width="1.88" stroke-linecap="round"/><path d="M963.9,405.1 C958.2,387.9 944.4,383.3 930.7,385.6" fill="none" stroke="#eea55e" stroke-width="3.62" stroke-dasharray="1.1 1.4" opacity="0.65"/><path d="M975,400 C966,380 952,368 936,366" fill="none" stroke="#eea55e" stroke-width="1.88" stroke-linecap="round"/><path d="M975,400 C966,380 952,368 936,366" fill="none" stroke="#eea55e" stroke-width="3.62" stroke-dasharray="1.1 1.4" opacity="0.65"/><path d="M978.9,398.2 C990.3,378.7 1007.5,367.2 1031.6,364.9" fill="none" stroke="#eea55e" stroke-width="1.88" stroke-linecap="round"/><path d="M978.9,398.2 C990.3,378.7 1007.5,367.2 1031.6,364.9" fill="none" stroke="#eea55e" stroke-width="3.62" stroke-dasharray="1.1 1.4" opacity="0.65"/><path d="M996,395.9 C1001.8,381 1013.3,374.1 1043.7,376.4" fill="none" stroke="#eea55e" stroke-width="1.88" stroke-linecap="round"/><path d="M996,395.9 C1001.8,381 1013.3,374.1 1043.7,376.4" fill="none" stroke="#eea55e" stroke-width="3.62" stroke-dasharray="1.1 1.4" opacity="0.65"/><path d="M996,395.9 C1006.4,378.7 1019,373 1029.3,378.7" fill="none" stroke="#eea55e" stroke-width="1.88" stroke-linecap="round"/><path d="M996,395.9 C1006.4,378.7 1019,373 1029.3,378.7" fill="none" stroke="#eea55e" stroke-width="3.62" stroke-dasharray="1.1 1.4" opacity="0.65"/><path d="M981,394 C992,376 1008,365 1022,362" fill="none" stroke="#eea55e" stroke-width="1.88" stroke-linecap="round"/><path d="M981,394 C992,376 1008,365 1022,362" fill="none" stroke="#eea55e" stroke-width="3.62" stroke-dasharray="1.1 1.4" opacity="0.65"/><path d="M980,396 C995,380 1015,372 1038,372" fill="none" stroke="#eea55e" stroke-width="1.88" stroke-linecap="round"/><path d="M980,396 C995,380 1015,372 1038,372" fill="none" stroke="#eea55e" stroke-width="3.62" stroke-dasharray="1.1 1.4" opacity="0.65"/>
<rect x="1127" y="0" width="637" height="265.5" fill="#0a0c10"/>
<defs><linearGradient id="stk" x1="0" y1="0" x2="0" y2="1"><stop offset="0" stop-color="#1c2130" stop-opacity="0.9"/><stop offset="1" stop-color="#1c2130" stop-opacity="0"/></linearGradient></defs>
<rect x="1702" y="0" width="14" height="130" rx="7.0" fill="url(#stk)" opacity="0.3"/>
<rect x="1624" y="0" width="12" height="100" rx="6.0" fill="url(#stk)" opacity="0.3"/>
<rect x="1591" y="0" width="10" height="90" rx="5.0" fill="url(#stk)" opacity="0.3"/>
<path d="M1171.2,247 1171.6,241.6 1172.3,234.5 1173.4,226.1 1174.8,216.4 1176.4,205.9 1178.2,194.7 1180.2,183 1182.2,171.2 1184.3,159.4 1186.1,147.9 1187.8,136.9 1189.3,126.8 1190.6,117.6 1191.5,109.8 1191.5,109.8 1191.5,109.8 1190,117.5 1188.2,126.6 1186.3,136.7 1184.3,147.6 1182.2,159.1 1180.3,170.9 1178.4,182.7 1176.6,194.4 1174.9,205.7 1173.5,216.3 1172.2,225.9 1171.3,234.4 1170.8,241.5 1170.6,247Z" fill="#3a8024"/>
<path d="M1170.2,247 1170.5,238.8 1171.2,229.6 1172.2,219.6 1173.6,209 1175.2,198.1 1177,187.1 1179.1,176.3 1181.3,165.8 1183.6,156 1185.8,147 1188,139.1 1190.2,132.5 1192.3,127.4 1194.3,124.1 1194.3,124.1 1194.3,124.1 1191.7,127.1 1189.1,132 1186.4,138.6 1183.8,146.4 1181.3,155.4 1179.1,165.4 1177.1,175.9 1175.2,186.8 1173.5,197.9 1172.1,208.8 1170.9,219.5 1170.1,229.5 1169.6,238.8 1169.5,247Z" fill="#3a8024"/>
<path d="M1169.6,247 1169.9,242.1 1170.6,235.4 1171.7,227.2 1173.2,217.8 1174.9,207.6 1176.8,196.8 1178.9,185.7 1181.1,174.7 1183.4,164 1185.5,154 1187.6,145 1189.6,137.2 1191.4,131.1 1193.1,126.8 1193.1,126.8 1193.1,126.8 1190.9,130.8 1188.6,136.9 1186.2,144.6 1183.7,153.6 1181.3,163.6 1179.2,174.3 1177.1,185.3 1175.1,196.5 1173.4,207.3 1171.8,217.6 1170.6,227.1 1169.7,235.3 1169.1,242.1 1168.9,247Z" fill="#5a9e38"/>
<path d="M1172.5,247 1172.8,240 1173.6,231.9 1174.6,222.9 1176.1,213.1 1177.8,202.9 1179.7,192.6 1181.9,182.3 1184.2,172.4 1186.6,163 1188.9,154.4 1191.1,146.8 1193.3,140.6 1195.5,135.8 1197.6,132.8 1197.6,132.8 1197.6,132.8 1194.8,135.4 1192,140 1189.2,146.1 1186.4,153.6 1183.8,162.3 1181.5,171.8 1179.4,181.8 1177.5,192.2 1175.8,202.6 1174.3,212.9 1173.1,222.7 1172.2,231.8 1171.7,240 1171.6,247Z" fill="#5a9e38"/>
<path d="M1173.8,247 1173.6,242.3 1172.9,236 1171.8,228.4 1170.2,219.8 1168.4,210.3 1166.3,200.3 1164.1,190.1 1161.7,179.9 1159.3,169.9 1156.7,160.5 1154.1,151.9 1151.6,144.4 1149.3,138.2 1147.2,133.6 1147.2,133.6 1147.2,133.6 1148.7,138.4 1150.5,144.7 1152.6,152.3 1154.8,161 1157.1,170.5 1159.7,180.4 1162.2,190.6 1164.6,200.7 1166.9,210.6 1168.9,220 1170.6,228.6 1171.9,236.1 1172.7,242.4 1173.1,247Z" fill="#72ae4c"/>
<path d="M1171.5,247 1171.8,239.7 1172.5,231.9 1173.6,223.8 1174.9,215.3 1176.6,206.6 1178.5,197.9 1180.6,189.1 1182.9,180.4 1185.4,171.9 1187.7,163.5 1190.1,155.6 1192.5,148.1 1195,141.1 1197.3,134.7 1197.3,134.7 1197.3,134.7 1194.3,140.8 1191.4,147.6 1188.5,155 1185.7,162.9 1183,171.2 1180.7,179.8 1178.6,188.6 1176.6,197.5 1174.9,206.3 1173.4,215.1 1172.2,223.6 1171.4,231.8 1170.9,239.7 1170.8,247Z" fill="#5a9e38"/>
<path d="M1173.3,247 1173.2,242.7 1172.7,237.1 1171.8,230.4 1170.6,223 1169,214.8 1167.3,206.3 1165.2,197.6 1163,188.8 1160.7,180.3 1157.9,172.3 1155.1,164.9 1152.2,158.3 1149.2,152.9 1146.2,148.8 1146.2,148.8 1146.2,148.8 1148.5,153.2 1150.9,158.9 1153.4,165.5 1155.7,173 1158.1,181.1 1160.6,189.5 1163,198.1 1165.2,206.8 1167.2,215.2 1168.9,223.3 1170.4,230.7 1171.5,237.2 1172.2,242.7 1172.5,247Z" fill="#4c8c30"/>
<path d="M1173,247 1173.3,242.8 1173.9,237.2 1174.8,230.6 1176,223.1 1177.5,214.9 1179.1,206.3 1180.8,197.6 1182.7,188.9 1184.7,180.5 1186.3,172.5 1187.9,165.1 1189.5,158.8 1190.9,153.5 1192.1,149.6 1192.1,149.6 1192.1,149.6 1190.1,153.3 1188.1,158.4 1186,164.6 1183.9,171.9 1181.8,179.8 1180.1,188.4 1178.5,197.1 1176.9,206 1175.5,214.6 1174.3,222.8 1173.3,230.4 1172.6,237.1 1172.2,242.7 1172.1,247Z" fill="#66a742"/>
<path d="M1169.2,247 1168.9,241.8 1168.1,235.7 1166.8,229 1165,221.7 1162.9,214 1160.5,206.1 1157.9,198 1155.1,190 1152.3,182.2 1149.2,174.7 1146.2,167.8 1143.3,161.4 1140.6,155.9 1138.2,151.2 1138.2,151.2 1138.2,151.2 1140.1,156.1 1142.4,161.8 1144.9,168.3 1147.6,175.4 1150.3,182.9 1153.3,190.7 1156.2,198.6 1159,206.6 1161.5,214.4 1163.8,222 1165.7,229.2 1167.2,235.9 1168.2,241.9 1168.5,247Z" fill="#30741e"/>
<path d="M1174.3,247 1174,242.2 1173,236.8 1171.4,230.7 1169.2,224.2 1166.6,217.4 1163.8,210.3 1160.7,203 1157.5,195.7 1154.3,188.4 1150.9,181.5 1147.8,174.8 1144.8,168.6 1142.3,162.8 1140.2,157.6 1140.2,157.6 1140.2,157.6 1141.6,163 1143.6,169.1 1146,175.6 1148.7,182.5 1151.7,189.6 1155.1,196.8 1158.5,204 1161.8,211.1 1164.8,218.1 1167.6,224.8 1169.9,231.2 1171.7,237.1 1173,242.4 1173.5,247Z" fill="#30741e"/>
<path d="M1171.7,247 1171.5,241.8 1170.9,236.2 1169.8,230.1 1168.4,223.8 1166.6,217.2 1164.6,210.4 1162.3,203.7 1159.8,197 1157.3,190.5 1154.3,184.4 1151.3,178.6 1148.3,173.3 1145.4,168.6 1142.5,164.6 1142.5,164.6 1142.5,164.6 1144.6,169 1147,174 1149.5,179.5 1152,185.4 1154.6,191.7 1157.3,198 1160,204.6 1162.4,211.2 1164.7,217.8 1166.6,224.2 1168.3,230.5 1169.6,236.4 1170.4,242 1170.8,247Z" fill="#458a2c"/>
<path d="M1170.4,247 1170.2,242.1 1169.4,236.8 1168.1,231.1 1166.4,225.2 1164.4,219.1 1162.1,213 1159.7,206.8 1157.1,200.8 1154.5,194.9 1151.8,189.4 1149.2,184.2 1146.7,179.4 1144.5,175.2 1142.6,171.5 1142.6,171.5 1142.6,171.5 1144,175.4 1145.8,179.9 1147.9,184.8 1150.2,190.1 1152.7,195.8 1155.4,201.6 1158.1,207.5 1160.7,213.6 1163.1,219.6 1165.2,225.6 1167.1,231.4 1168.5,237 1169.4,242.2 1169.8,247Z" fill="#378024"/>
<path d="M1168.7,247 1168.6,240.5 1168.4,233.2 1168.1,225 1167.7,216 1167.3,206.2 1166.9,195.4 1166.4,183.8 1166,171.3 1165.5,157.9 1164.8,143.6 1164.2,128.4 1163.7,112.2 1163.2,95.1 1162.8,77 1162.8,77 1162.8,77 1162.5,95.1 1162.4,112.2 1162.5,128.4 1162.6,143.7 1162.9,158 1163.4,171.4 1164.1,183.9 1164.7,195.5 1165.4,206.3 1166,216.1 1166.6,225.1 1167.1,233.2 1167.6,240.5 1167.9,247Z" fill="#378024"/>
<path d="M1174.8,246.9 1174,241.6 1172.7,235.1 1171,227.5 1169,218.7 1166.9,208.9 1164.7,198 1162.5,186.2 1160.3,173.4 1158.4,159.7 1156.5,145.1 1154.8,129.8 1153.5,113.6 1152.7,96.6 1152.4,78.9 1152.4,78.9 1152.4,78.9 1151.9,96.6 1152,113.7 1152.7,129.9 1153.9,145.4 1155.6,160.1 1157.8,173.8 1160.2,186.6 1162.6,198.5 1165,209.3 1167.4,219.1 1169.5,227.8 1171.4,235.4 1172.9,241.8 1174,247.1Z" fill="#3a8024"/>
<path d="M1171.3,247 1171.7,241.6 1172.3,235 1173,227 1173.8,217.9 1174.6,207.8 1175.5,196.6 1176.4,184.4 1177.3,171.5 1178.1,157.7 1178.8,143.2 1179.4,128.1 1179.4,112.4 1179.1,96.2 1178.5,79.7 1178.5,79.7 1178.5,79.7 1177.8,96.2 1177.1,112.4 1176.4,128 1175.9,143.1 1175.4,157.6 1174.8,171.3 1174.1,184.3 1173.4,196.4 1172.7,207.6 1172.1,217.8 1171.5,226.9 1171,234.9 1170.6,241.6 1170.4,247Z" fill="#72ae4c"/>
<path d="M1170.7,247 1170.3,240 1169.8,232.8 1169.1,225.2 1168.3,217 1167.3,208.3 1166.4,198.7 1165.4,188.3 1164.4,176.9 1163.4,164.4 1162.1,150.6 1161,135.4 1160,118.7 1159.2,100.3 1158.5,80.1 1158.5,80.1 1158.5,80.1 1158.3,100.3 1158.4,118.7 1158.7,135.5 1159.3,150.8 1160,164.6 1161.1,177.2 1162.3,188.7 1163.6,199.1 1164.9,208.6 1166.1,217.3 1167.2,225.4 1168.2,232.9 1169,240.1 1169.6,247Z" fill="#4f9532"/>
<path d="M1170.1,247 1170.2,239.8 1170.3,232.2 1170.4,224.3 1170.5,215.7 1170.5,206.6 1170.6,196.7 1170.7,186 1170.7,174.4 1170.8,161.8 1170.4,148.1 1170.1,133.2 1169.8,117 1169.4,99.4 1168.9,80.4 1168.9,80.4 1168.9,80.4 1168.5,99.4 1168.1,117 1167.8,133.2 1167.6,148.1 1167.4,161.8 1167.5,174.4 1167.7,186 1167.9,196.7 1168.1,206.6 1168.3,215.7 1168.5,224.3 1168.7,232.3 1168.9,239.8 1169.1,247Z" fill="#30741e"/>
<path d="M1171.1,247 1171.7,240.1 1172.4,232.3 1173.4,223.7 1174.4,214.4 1175.6,204.2 1176.8,193.3 1178,181.7 1179.2,169.4 1180.2,156.3 1181.2,142.6 1181.9,128.1 1182,113 1181.8,97.3 1181.1,81 1181.1,81 1181.1,81 1180.6,97.3 1180,113 1179.2,128 1178.6,142.4 1177.8,156.2 1177,169.2 1176,181.5 1174.9,193.2 1173.9,204.1 1172.9,214.2 1172,223.6 1171.3,232.2 1170.7,240 1170.3,247Z" fill="#72ae4c"/>
<path d="M1175.1,247 1175,239.7 1174.8,231.9 1174.6,223.4 1174.3,214.4 1174,204.6 1173.7,194.3 1173.4,183.2 1173.1,171.3 1172.8,158.7 1172.5,145.3 1172,131.1 1171.5,116.1 1171.1,100.1 1170.7,83.3 1170.7,83.3 1170.7,83.3 1170.3,100.1 1170,116.1 1169.9,131.2 1169.9,145.4 1170.3,158.8 1170.8,171.4 1171.3,183.2 1171.8,194.3 1172.3,204.7 1172.8,214.4 1173.3,223.5 1173.7,231.9 1174,239.7 1174.3,247Z" fill="#30741e"/>
<path d="M1172.3,247 1172.7,241 1173.3,234.2 1173.9,226.7 1174.7,218.4 1175.5,209.3 1176.3,199.4 1177.1,188.7 1177.9,177.1 1178.7,164.8 1179.4,151.7 1179.8,137.7 1179.7,122.9 1179.5,107.3 1179,90.9 1179,90.9 1179,90.9 1178.2,107.3 1177.5,122.9 1176.6,137.6 1175.9,151.6 1175.5,164.7 1174.9,177 1174.3,188.5 1173.8,199.2 1173.2,209.1 1172.6,218.2 1172.1,226.6 1171.7,234.1 1171.4,240.9 1171.2,247Z" fill="#66a742"/>
<path d="M1174.8,246.9 1174,240.7 1172.7,234 1171.2,226.9 1169.4,219.1 1167.5,210.6 1165.4,201.4 1163.3,191.4 1161.3,180.5 1159.4,168.6 1157.6,155.7 1155.8,141.6 1154.3,126.3 1153.2,109.7 1152.4,91.7 1152.4,91.7 1152.4,91.7 1152.4,109.7 1153,126.4 1154,141.8 1155.4,155.9 1157.2,168.9 1159.3,180.9 1161.5,191.8 1163.7,201.8 1166,211 1168.1,219.4 1170,227.1 1171.7,234.3 1173.1,240.9 1174.1,247.1Z" fill="#3a8024"/>
<path d="M1173,247.1 1174,240.6 1175.5,233.6 1177.3,226.2 1179.4,218.2 1181.7,209.6 1184,200.3 1186.4,190.2 1188.6,179.3 1190.7,167.5 1192.6,154.7 1193.6,140.9 1194.2,126 1194.2,110 1193.4,92.9 1193.4,92.9 1193.4,92.9 1193.1,110 1192.3,125.9 1191,140.7 1189.3,154.3 1187.7,167 1185.8,178.8 1183.8,189.6 1181.7,199.7 1179.6,209.1 1177.5,217.8 1175.7,225.8 1174.1,233.3 1172.8,240.4 1172,246.9Z" fill="#378024"/>
<path d="M1174.4,246.9 1173.6,240.1 1172.5,232.7 1171.1,224.8 1169.4,216.3 1167.6,207.2 1165.7,197.4 1163.8,187 1161.9,175.8 1160.2,164 1158.7,151.4 1157.2,138.1 1155.9,123.9 1155.1,108.9 1154.6,92.9 1154.6,92.9 1154.6,92.9 1154.1,108.9 1154.2,124 1154.7,138.3 1155.8,151.7 1157.5,164.4 1159.4,176.3 1161.4,187.4 1163.6,197.8 1165.7,207.6 1167.7,216.6 1169.6,225.1 1171.2,233 1172.5,240.3 1173.5,247.1Z" fill="#4f9532"/>
<path d="M1170.5,247.1 1171.6,242.1 1173.1,236.3 1174.8,229.7 1176.9,222.1 1179.1,213.7 1181.4,204.5 1183.8,194.4 1186.2,183.6 1188.4,171.9 1190.4,159.4 1192,146.1 1193.1,132.1 1193.8,117.2 1193.8,101.7 1193.8,101.7 1193.8,101.7 1192.9,117.2 1191.6,131.9 1190,145.9 1188.2,159.1 1186.3,171.5 1184.3,183.2 1182.1,194.1 1179.9,204.1 1177.7,213.4 1175.6,221.8 1173.7,229.4 1172.1,236.1 1170.8,242 1169.9,246.9Z" fill="#458a2c"/>
<path d="M1174.5,247 1174.5,241.8 1174.3,235.8 1174.1,229 1173.9,221.5 1173.6,213.2 1173.3,204.1 1173,194.2 1172.8,183.6 1172.5,172.2 1172.2,160 1171.7,147 1171.3,133.2 1170.9,118.7 1170.5,103.3 1170.5,103.3 1170.5,103.3 1170.1,118.7 1169.9,133.2 1169.9,147 1169.9,160 1170.2,172.2 1170.6,183.7 1171.1,194.3 1171.5,204.2 1172,213.2 1172.4,221.5 1172.9,229.1 1173.2,235.8 1173.6,241.8 1173.8,247Z" fill="#2b6c1a"/>
<path d="M1170,246.9 1169.4,241.2 1168.6,234.9 1167.5,228.1 1166.2,220.7 1164.8,212.7 1163.3,204 1161.8,194.5 1160.4,184.3 1159.1,173.3 1157.5,161.4 1156.1,148.6 1155,134.9 1154.1,120.1 1153.5,104.2 1153.5,104.2 1153.5,104.2 1153.1,120.1 1153.3,134.9 1153.8,148.8 1154.6,161.7 1155.7,173.7 1157.3,184.8 1159,195 1160.8,204.4 1162.5,213.1 1164.2,221.1 1165.7,228.4 1167,235.2 1168.2,241.4 1169,247.1Z" fill="#378024"/>
<path d="M1168.8,246.9 1168.1,242.8 1167,237.9 1165.7,232.4 1164.1,226 1162.4,218.9 1160.7,210.8 1158.9,201.9 1157.1,191.9 1155.3,181 1153.6,169.1 1152.1,156 1150.9,141.7 1150.1,126.2 1149.6,109.5 1149.6,109.5 1149.6,109.5 1149.5,126.3 1149.9,141.8 1150.8,156.1 1151.9,169.2 1153.3,181.3 1155,192.3 1156.9,202.2 1158.9,211.2 1160.9,219.2 1162.8,226.4 1164.5,232.7 1166,238.2 1167.2,243 1168.1,247.1Z" fill="#4c8c30"/>
<path d="M1171.8,246.9 1171.2,241.3 1170.3,235 1169.2,228 1167.9,220.3 1166.4,212 1164.9,203.1 1163.4,193.6 1161.9,183.5 1160.6,172.8 1159.1,161.7 1157.7,150 1156.6,137.9 1155.8,125.2 1155.2,112.2 1155.2,112.2 1155.2,112.2 1154.9,125.3 1155.1,137.9 1155.7,150.2 1156.6,161.9 1157.8,173.2 1159.4,183.8 1161.1,193.9 1162.8,203.5 1164.5,212.4 1166.2,220.7 1167.7,228.3 1169,235.2 1170.1,241.5 1170.9,247.1Z" fill="#30741e"/>
<path d="M1172.1,247.1 1173.2,243.1 1174.8,238.3 1176.8,232.6 1179,226 1181.5,218.5 1184.1,210.1 1186.7,200.9 1189.3,190.9 1191.7,180 1193.7,168.3 1195.3,155.7 1196.6,142.3 1197.3,128.2 1197.4,113.2 1197.4,113.2 1197.4,113.2 1196.7,128.1 1195.4,142.2 1193.8,155.5 1191.8,167.9 1189.6,179.6 1187.3,190.4 1184.9,200.5 1182.5,209.7 1180.1,218 1177.8,225.6 1175.7,232.2 1173.9,238 1172.4,242.9 1171.4,246.9Z" fill="#72ae4c"/>
<path d="M1169.4,247 1169.7,242 1170,236.3 1170.4,229.8 1170.8,222.6 1171.2,214.6 1171.7,206 1172.2,196.6 1172.6,186.6 1172.9,176 1173,164.7 1172.9,152.9 1172.8,140.4 1172.6,127.4 1172.2,113.8 1172.2,113.8 1172.2,113.8 1171.9,127.4 1171.6,140.4 1171.2,152.8 1170.7,164.7 1170.3,175.9 1170,186.6 1169.8,196.6 1169.5,205.9 1169.3,214.5 1169.1,222.5 1168.9,229.7 1168.7,236.2 1168.6,242 1168.6,247Z" fill="#66a742"/>
<path d="M1172.3,247.1 1173.4,243 1174.9,238.1 1176.7,232.4 1178.7,225.8 1181,218.4 1183.3,210.3 1185.7,201.3 1188,191.6 1190.3,181.1 1192.3,169.8 1194.1,157.8 1195.2,145.1 1195.8,131.6 1195.9,117.5 1195.9,117.5 1195.9,117.5 1194.9,131.6 1193.6,144.9 1191.9,157.6 1190.2,169.5 1188.3,180.7 1186.2,191.2 1184,200.9 1181.8,209.9 1179.6,218 1177.5,225.4 1175.6,232 1173.9,237.8 1172.6,242.8 1171.7,246.9Z" fill="#30741e"/>
<path d="M1172.3,247 1172.2,242.5 1172,237.7 1171.8,232.2 1171.5,226.2 1171.1,219.6 1170.8,212.3 1170.4,204.1 1170.1,195.2 1169.8,185.3 1169.3,174.5 1168.7,162.7 1168.2,149.8 1167.8,135.7 1167.3,120.4 1167.3,120.4 1167.3,120.4 1166.8,135.7 1166.6,149.8 1166.4,162.8 1166.4,174.6 1166.6,185.5 1167.2,195.3 1167.8,204.3 1168.4,212.4 1169,219.8 1169.5,226.4 1170.1,232.4 1170.6,237.7 1171,242.6 1171.3,247Z" fill="#3a8024"/>
<path d="M1168.6,246.9 1168.3,242.7 1167.7,237.6 1166.9,231.6 1166,224.8 1165,217.3 1163.9,208.9 1162.9,200 1161.8,190.3 1160.9,180.1 1159.7,169.4 1158.7,158.2 1157.8,146.5 1157.2,134.4 1156.8,121.9 1156.8,121.9 1156.8,121.9 1156.4,134.4 1156.4,146.6 1156.7,158.3 1157.2,169.6 1157.9,180.4 1159,190.7 1160.3,200.3 1161.6,209.3 1162.9,217.6 1164.1,225.1 1165.3,231.9 1166.3,237.8 1167.1,242.9 1167.7,247.1Z" fill="#5a9e38"/>
<path d="M1174.7,246.9 1174.1,242.8 1173.1,237.8 1171.9,231.8 1170.4,225.1 1168.7,217.6 1167.1,209.3 1165.4,200.4 1163.8,190.9 1162.1,180.8 1160.5,170.2 1159.2,159.2 1158.2,147.7 1157.7,135.8 1157.5,123.6 1157.5,123.6 1157.5,123.6 1156.9,135.8 1156.9,147.8 1157.3,159.3 1158.2,170.5 1159.3,181.2 1160.9,191.4 1162.8,200.9 1164.7,209.8 1166.6,218 1168.5,225.5 1170.2,232.2 1171.7,238.1 1173,243 1173.8,247.1Z" fill="#66a742"/>
<path d="M1170.4,247 1170.8,242.5 1171.3,237.5 1172,232 1172.8,226 1173.6,219.3 1174.4,212.1 1175.3,204.1 1176.1,195.4 1176.9,185.9 1177.7,175.6 1178,164.3 1178.2,152.1 1178.1,138.9 1177.8,124.6 1177.8,124.6 1177.8,124.6 1177.2,138.9 1176.6,152.1 1175.9,164.2 1175.1,175.5 1174.6,185.8 1173.9,195.3 1173.3,204 1172.6,211.9 1171.9,219.2 1171.3,225.8 1170.7,231.8 1170.2,237.3 1169.8,242.4 1169.6,247Z" fill="#3a8024"/>
<path d="M1168.6,247.1 1169.7,243 1171.3,238.4 1173.3,233.4 1175.5,227.7 1178,221.5 1180.6,214.5 1183.2,206.8 1185.7,198.2 1188.1,188.8 1190.3,178.4 1191.8,166.9 1192.9,154.4 1193.5,140.8 1193.4,126 1193.4,126 1193.4,126 1192.6,140.8 1191.4,154.3 1189.8,166.7 1187.8,177.9 1185.8,188.3 1183.6,197.7 1181.2,206.2 1178.8,213.9 1176.4,220.9 1174.1,227.2 1172,232.9 1170.2,238.1 1168.8,242.7 1167.8,246.9Z" fill="#2b6c1a"/>
<path d="M1169,247 1169.5,243 1170.1,238.4 1170.9,233.3 1171.8,227.5 1172.7,221.1 1173.7,214.1 1174.7,206.3 1175.6,197.8 1176.5,188.6 1177.1,178.6 1177.4,167.7 1177.6,156.1 1177.5,143.5 1177.2,130.1 1177.2,130.1 1177.2,130.1 1176.8,143.5 1176.4,156 1175.7,167.7 1174.9,178.4 1174,188.4 1173.3,197.6 1172.6,206.1 1171.8,213.9 1171,220.9 1170.3,227.3 1169.6,233.1 1169,238.3 1168.5,242.9 1168.3,247Z" fill="#72ae4c"/>
<path d="M1174,247 1174,243.2 1174,238.8 1174,233.7 1173.9,228 1173.8,221.7 1173.7,214.8 1173.6,207.3 1173.5,199.3 1173.4,190.7 1173.2,181.5 1172.8,171.9 1172.4,161.6 1171.9,150.9 1171.4,139.7 1171.4,139.7 1171.4,139.7 1170.9,150.9 1170.6,161.7 1170.4,171.9 1170.2,181.6 1170.4,190.7 1170.7,199.4 1171,207.4 1171.4,214.9 1171.7,221.8 1172,228.1 1172.3,233.7 1172.6,238.8 1172.8,243.2 1173,247Z" fill="#72ae4c"/>
<path d="M1171.4,246.9 1171,242.4 1170.4,237.7 1169.5,232.8 1168.5,227.6 1167.4,222.1 1166.3,216.1 1165.2,209.5 1164,202.3 1163,194.5 1161.8,185.8 1160.7,176.3 1159.7,165.8 1159,154.3 1158.5,141.6 1158.5,141.6 1158.5,141.6 1158.1,154.3 1158.2,165.9 1158.6,176.5 1159.2,186.1 1160,194.9 1161.3,202.8 1162.6,210 1164,216.5 1165.4,222.5 1166.7,228 1167.9,233.1 1169,238 1169.9,242.6 1170.5,247.1Z" fill="#4c8c30"/>
<path d="M1168.7,247 1168.6,243.3 1168.5,239 1168.2,234.1 1167.9,228.7 1167.6,222.8 1167.2,216.4 1166.9,209.6 1166.5,202.3 1166.2,194.5 1166,186.4 1165.6,177.9 1165,169.1 1164.5,159.9 1163.9,150.5 1163.9,150.5 1163.9,150.5 1163.3,159.9 1162.9,169.1 1162.7,178 1162.9,186.5 1163.4,194.7 1163.9,202.4 1164.4,209.7 1165,216.6 1165.6,223 1166.1,228.9 1166.6,234.2 1167.1,239.1 1167.4,243.3 1167.7,247Z" fill="#4f9532"/>
<path d="M1145.8,251 L1149,265.5 L1194.3,265.5 L1197.5,251 Z" fill="#a95d52"/>
<ellipse cx="1171.7" cy="250.3" rx="25.8" ry="3.4" fill="#4d4a48" stroke="#c47f72" stroke-width="1.7"/>
<path d="M1165.3,250 L1163.5,222 L1164.9,222 L1167.1,250 Z" fill="#7fa83c"/>
<path d="M1167.3,250 L1166.3,222 L1167.7,222 L1169.1,250 Z" fill="#6a9a32"/>
<path d="M1169.3,250 L1169.1,222 L1170.5,222 L1171.1,250 Z" fill="#8cb046"/>
<path d="M1171.3,250 L1171.9,222 L1173.3,222 L1173.1,250 Z" fill="#5f922c"/>
<path d="M1173.3,250 L1174.7,222 L1176.1,222 L1175.1,250 Z" fill="#79a43a"/>
<path d="M1175.3,250 L1177.5,222 L1178.9,222 L1177.1,250 Z" fill="#6b9c34"/>
<path d="M1237.7,247 1238,233.3 1238.9,218.9 1240.2,203.8 1241.9,188.2 1243.9,172.2 1246.1,156 1248.4,139.6 1250.9,123.2 1253.3,106.9 1255.5,90.8 1257.6,75.1 1259.4,59.9 1261,45.3 1262.1,31.4 1262.1,31.4 1262.1,31.4 1260.4,45.2 1258.4,59.8 1256.2,74.9 1253.8,90.6 1251.3,106.6 1249,122.9 1246.7,139.3 1244.5,155.7 1242.5,172 1240.6,188 1239.1,203.7 1238,218.8 1237.3,233.3 1237.1,247Z" fill="#5a9e38"/>
<path d="M1233.6,247 1234,238 1235.1,226.3 1236.7,212.4 1238.8,196.7 1241.3,179.7 1244.2,161.7 1247.3,143.3 1250.6,124.9 1254.1,106.9 1257.3,89.8 1260.5,73.9 1263.5,59.8 1266.4,47.9 1269,38.6 1269,38.6 1269,38.6 1265.8,47.7 1262.4,59.6 1259,73.6 1255.4,89.4 1251.8,106.5 1248.5,124.5 1245.4,143 1242.4,161.4 1239.8,179.4 1237.4,196.5 1235.5,212.2 1234,226.2 1233.1,237.9 1232.9,247Z" fill="#2b6c1a"/>
<path d="M1235.4,247 1235.8,233.8 1236.8,219.6 1238.2,204.6 1240,188.9 1242.2,172.7 1244.6,156.3 1247.2,139.9 1250,123.7 1252.8,107.8 1255.3,92.5 1257.7,78 1260,64.4 1262,52 1263.6,41 1263.6,41 1263.6,41 1261.3,51.9 1258.8,64.2 1256,77.7 1253.2,92.1 1250.3,107.4 1247.7,123.3 1245.1,139.6 1242.7,156.1 1240.5,172.5 1238.5,188.7 1236.9,204.4 1235.6,219.5 1234.9,233.8 1234.7,247Z" fill="#5a9e38"/>
<path d="M1235.8,247 1236.2,233.2 1237.2,218.2 1238.6,202.2 1240.5,185.6 1242.8,168.5 1245.4,151.3 1248.3,134.3 1251.3,117.7 1254.5,101.8 1257.5,86.8 1260.5,73.1 1263.5,60.9 1266.3,50.4 1268.9,42 1268.9,42 1268.9,42 1265.6,50.2 1262.2,60.5 1258.7,72.6 1255.2,86.3 1251.8,101.3 1248.8,117.2 1246,133.9 1243.3,151 1240.9,168.2 1238.9,185.4 1237.2,202.1 1235.9,218.1 1235.2,233.2 1235,247Z" fill="#4f9532"/>
<path d="M1236.8,247 1237.2,238.6 1238.1,226.8 1239.5,212.4 1241.4,195.8 1243.6,177.7 1246.1,158.7 1248.8,139.3 1251.8,120.2 1254.9,102 1257.8,85.1 1260.7,70.2 1263.6,57.9 1266.4,48.8 1269,43.5 1269,43.5 1269,43.5 1265.7,48.6 1262.4,57.6 1259,69.8 1255.7,84.6 1252.4,101.5 1249.4,119.9 1246.7,139 1244.1,158.5 1241.8,177.5 1239.8,195.7 1238.2,212.3 1237,226.7 1236.2,238.5 1236.1,247Z" fill="#5a9e38"/>
<path d="M1234.2,247 1234.5,236.7 1235.4,224.7 1236.8,211.1 1238.5,196.5 1240.6,180.9 1243.1,164.8 1245.7,148.4 1248.7,132 1251.7,116 1254.6,100.5 1257.6,85.9 1260.5,72.6 1263.4,60.7 1266.1,50.6 1266.1,50.6 1266.1,50.6 1262.6,60.5 1259.2,72.2 1255.8,85.5 1252.3,100 1249.1,115.5 1246.2,131.6 1243.5,148 1241,164.5 1238.8,180.7 1236.9,196.3 1235.3,211 1234.2,224.6 1233.5,236.7 1233.3,247Z" fill="#458a2c"/>
<path d="M1232.2,247 1232.1,242.3 1231.5,236.3 1230.6,229.2 1229.4,221.3 1227.9,212.7 1226.1,203.8 1224.1,194.7 1222,185.7 1219.7,177.1 1217,169.1 1214.3,162 1211.5,156 1208.8,151.3 1206.1,148.3 1206.1,148.3 1206.1,148.3 1208.1,151.8 1210.2,156.6 1212.4,162.7 1214.7,169.9 1216.9,177.9 1219.4,186.4 1221.7,195.3 1223.9,204.3 1225.9,213.1 1227.6,221.6 1229.1,229.5 1230.2,236.5 1231,242.4 1231.3,247Z" fill="#4f9532"/>
<path d="M1233.5,247 1233.3,242.1 1232.5,236.5 1231.3,230.3 1229.5,223.6 1227.5,216.7 1225.1,209.6 1222.5,202.5 1219.7,195.5 1216.9,188.8 1213.7,182.6 1210.6,176.9 1207.6,172 1204.8,168 1202.1,165 1202.1,165 1202.1,165 1204.1,168.4 1206.5,172.7 1209.1,177.8 1211.7,183.5 1214.5,189.8 1217.5,196.4 1220.4,203.3 1223.2,210.3 1225.8,217.3 1228,224.1 1229.9,230.6 1231.4,236.7 1232.3,242.2 1232.7,247Z" fill="#30741e"/>
<path d="M1232.5,247 1232.3,241.9 1231.8,236.4 1230.9,230.6 1229.6,224.6 1228.1,218.4 1226.2,212.1 1224.2,205.8 1221.9,199.5 1219.4,193.2 1216.6,187.1 1213.6,181.3 1210.5,175.7 1207.4,170.4 1204.3,165.5 1204.3,165.5 1204.3,165.5 1206.8,170.7 1209.4,176.2 1212,182 1214.6,188 1217.1,194.2 1219.7,200.3 1222.1,206.5 1224.4,212.8 1226.4,218.9 1228.1,225 1229.6,230.9 1230.7,236.5 1231.4,241.9 1231.7,247Z" fill="#378024"/>
<path d="M1235.9,247 1235.7,242.8 1235.1,237.9 1234.1,232.2 1232.7,226.1 1231.1,219.5 1229.1,212.7 1226.9,205.9 1224.6,199.1 1222,192.5 1219.2,186.4 1216.3,180.9 1213.3,176 1210.4,172.1 1207.6,169.1 1207.6,169.1 1207.6,169.1 1209.9,172.5 1212.3,176.7 1214.8,181.6 1217.3,187.3 1219.8,193.4 1222.5,199.9 1225,206.5 1227.3,213.3 1229.5,220 1231.3,226.4 1232.9,232.5 1234,238.1 1234.8,242.9 1235.1,247Z" fill="#2b6c1a"/>
<path d="M1236.8,247 1236.6,242.2 1235.5,236.8 1233.9,231.1 1231.7,225 1229.1,218.8 1226.2,212.4 1223,206.1 1219.6,199.8 1216.2,193.8 1212.6,188.2 1209.1,183.1 1205.8,178.5 1202.8,174.4 1200.2,171.2 1200.2,171.2 1200.2,171.2 1202.2,174.9 1204.7,179.2 1207.5,184.1 1210.6,189.5 1213.9,195.2 1217.4,201.1 1220.9,207.2 1224.3,213.4 1227.4,219.6 1230.2,225.7 1232.5,231.5 1234.3,237.1 1235.5,242.3 1236,247Z" fill="#66a742"/>
<path d="M1233.8,247 1233.7,242.9 1233,238.4 1231.9,233.5 1230.5,228.4 1228.7,223 1226.6,217.6 1224.3,212.3 1221.7,207.1 1219,202.1 1216,197.5 1212.9,193.5 1209.7,190 1206.6,187.2 1203.5,185.2 1203.5,185.2 1203.5,185.2 1206.2,187.7 1208.9,190.7 1211.6,194.4 1214.3,198.6 1217,203.2 1219.8,208.1 1222.5,213.1 1225,218.3 1227.2,223.6 1229.1,228.8 1230.7,233.9 1232,238.6 1232.8,243 1233.1,247Z" fill="#458a2c"/>
<path d="M1237.8,247 1237.9,238.6 1238,229.4 1238.2,219.3 1238.4,208.3 1238.6,196.1 1238.7,182.7 1238.9,167.9 1239.1,151.7 1239.2,133.8 1239,114.3 1238.9,92.9 1238.7,69.5 1238.5,44.1 1238.2,16.5 1238.2,16.5 1238.2,16.5 1237.9,44.1 1237.7,69.5 1237.5,92.9 1237.2,114.3 1237,133.8 1236.9,151.7 1236.9,167.9 1236.9,182.7 1236.9,196.1 1236.9,208.3 1236.9,219.3 1237,229.4 1237,238.6 1237.1,247Z" fill="#4f9532"/>
<path d="M1232.8,247 1233.3,239.5 1233.9,230.1 1234.7,219.1 1235.6,206.4 1236.5,192.4 1237.5,177 1238.5,160.4 1239.4,142.7 1240.3,124 1241.1,104.4 1241.2,84.1 1241.2,63.2 1240.9,41.7 1240.3,19.9 1240.3,19.9 1240.3,19.9 1239.8,41.7 1239.2,63.2 1238.5,84 1237.6,104.3 1237,123.9 1236.4,142.5 1235.7,160.2 1235,176.8 1234.3,192.2 1233.6,206.3 1232.9,218.9 1232.4,230 1232,239.4 1231.8,247Z" fill="#458a2c"/>
<path d="M1233.4,247 1232.7,237.9 1231.5,227.9 1230.1,217 1228.4,205.1 1226.5,192.2 1224.6,178.2 1222.6,163 1220.7,146.7 1218.8,129.1 1216.9,110.2 1215.2,90 1213.8,68.3 1212.8,45.1 1212.1,20.4 1212.1,20.4 1212.1,20.4 1212,45.1 1212.4,68.3 1213.3,90.1 1214.5,110.4 1216,129.4 1218,147 1220.1,163.4 1222.3,178.5 1224.5,192.5 1226.6,205.4 1228.5,217.2 1230.2,228.1 1231.6,238 1232.6,247Z" fill="#72ae4c"/>
<path d="M1235.5,247 1236.5,237.7 1237.9,227.2 1239.5,215.5 1241.4,202.6 1243.4,188.7 1245.5,173.8 1247.7,157.8 1249.9,140.9 1251.9,123.1 1253.7,104.3 1255.4,84.7 1256.3,64.2 1256.8,43 1256.7,21.1 1256.7,21.1 1256.7,21.1 1255.8,43 1254.5,64.1 1253,84.5 1251.5,104.1 1249.8,122.8 1247.9,140.7 1245.9,157.6 1243.9,173.6 1241.9,188.5 1240,202.5 1238.3,215.3 1236.8,227 1235.6,237.6 1234.8,247Z" fill="#378024"/>
<path d="M1235.6,247.1 1237.1,238.1 1239.2,228.4 1241.7,217.8 1244.7,206.2 1247.9,193.7 1251.2,180.1 1254.6,165.3 1257.9,149.2 1261,131.8 1263.8,113 1265.9,92.8 1267.5,70.9 1268.3,47.5 1268.3,22.4 1268.3,22.4 1268.3,22.4 1267.5,47.5 1266.1,70.9 1264.1,92.6 1261.6,112.8 1258.9,131.5 1256,148.9 1252.8,164.9 1249.6,179.7 1246.4,193.4 1243.4,205.9 1240.6,217.5 1238.2,228.1 1236.3,237.9 1235,246.9Z" fill="#30741e"/>
<path d="M1232.8,247 1233.1,238.8 1233.4,229.6 1233.8,219.4 1234.2,208.2 1234.7,195.8 1235.2,182.2 1235.7,167.3 1236.2,151.2 1236.7,133.7 1237.1,114.8 1237.1,94.4 1237,72.5 1236.8,49 1236.3,23.8 1236.3,23.8 1236.3,23.8 1235.8,49 1235.4,72.5 1234.8,94.4 1234.3,114.8 1234.1,133.7 1233.8,151.2 1233.5,167.3 1233.2,182.1 1232.9,195.7 1232.6,208.1 1232.4,219.4 1232.2,229.6 1232,238.8 1232,247Z" fill="#2b6c1a"/>
<path d="M1236.5,246.9 1235.5,239.5 1234.1,230.5 1232.4,220.1 1230.3,208.2 1228.1,195 1225.8,180.5 1223.4,164.9 1221.1,148.1 1218.8,130.3 1216.5,111.6 1214.5,91.9 1212.8,71.4 1211.5,50.2 1210.6,28.2 1210.6,28.2 1210.6,28.2 1210.7,50.2 1211.4,71.5 1212.6,92.1 1214.2,111.8 1216.1,130.6 1218.5,148.5 1221.1,165.2 1223.7,180.9 1226.2,195.3 1228.7,208.5 1230.9,220.3 1232.9,230.8 1234.5,239.7 1235.7,247.1Z" fill="#4f9532"/>
<path d="M1236.4,247.1 1237.9,240.8 1239.9,233.3 1242.4,224.6 1245.3,214.5 1248.4,203.1 1251.6,190.3 1254.9,176 1258.1,160.2 1261.1,142.8 1263.7,123.7 1265.5,102.9 1266.8,80.3 1267.3,56 1267,29.9 1267,29.9 1267,29.9 1266.2,56 1264.9,80.2 1262.9,102.6 1260.4,123.3 1257.9,142.3 1255.2,159.7 1252.3,175.5 1249.2,189.8 1246.2,202.6 1243.4,214 1240.7,224.1 1238.5,232.9 1236.7,240.5 1235.4,246.9Z" fill="#418629"/>
<path d="M1233.4,246.9 1232.1,239.5 1230.3,231 1228,221.3 1225.3,210.4 1222.4,198.3 1219.4,185 1216.3,170.4 1213.3,154.5 1210.6,137.4 1208.2,118.8 1205.9,99 1204,77.8 1202.8,55.1 1202.2,31 1202.2,31 1202.2,31 1201.8,55.1 1202.3,77.9 1203.4,99.2 1205.3,119.2 1207.9,137.8 1210.9,155 1214.1,170.8 1217.3,185.4 1220.6,198.7 1223.7,210.8 1226.6,221.6 1229.1,231.3 1231.1,239.7 1232.5,247.1Z" fill="#458a2c"/>
<path d="M1238.1,247 1238.2,237.9 1238.3,228.1 1238.4,217.7 1238.5,206.5 1238.6,194.4 1238.8,181.4 1238.9,167.4 1239,152.3 1239.1,136 1239.3,118.5 1239.4,99.6 1239.1,79.4 1238.7,57.6 1238.2,34.3 1238.2,34.3 1238.2,34.3 1237.8,57.6 1237.4,79.4 1237,99.6 1237,118.5 1237.1,136 1237.1,152.3 1237.1,167.4 1237.1,181.4 1237.2,194.4 1237.2,206.5 1237.2,217.7 1237.2,228.1 1237.3,237.9 1237.3,247Z" fill="#66a742"/>
<path d="M1236.2,247 1236.7,240.7 1237.4,233 1238.2,224 1239.1,213.6 1240.1,201.8 1241.1,188.7 1242.1,174.3 1243.1,158.4 1243.9,141.3 1244.4,122.7 1244.8,102.9 1245,81.7 1245,59.1 1244.7,35.3 1244.7,35.3 1244.7,35.3 1244.2,59.1 1243.6,81.6 1242.9,102.8 1242,122.6 1241,141.1 1240.2,158.3 1239.5,174.1 1238.7,188.6 1237.9,201.7 1237.2,213.5 1236.6,223.9 1236,232.9 1235.6,240.6 1235.3,247Z" fill="#418629"/>
<path d="M1232.6,247 1232,240.6 1231.1,232.8 1230,223.6 1228.6,213 1227.1,201.1 1225.6,187.9 1224,173.4 1222.5,157.6 1221.1,140.6 1219.8,122.3 1218.6,102.8 1217.5,82.1 1216.7,60.3 1216.2,37.2 1216.2,37.2 1216.2,37.2 1215.8,60.3 1215.9,82.2 1216.4,102.9 1217.4,122.5 1218.8,140.8 1220.4,157.8 1222.1,173.6 1223.8,188.1 1225.5,201.3 1227.2,213.2 1228.7,223.7 1230,232.9 1231.1,240.7 1231.9,247Z" fill="#458a2c"/>
<path d="M1231.5,247 1231.3,239.8 1231,231.3 1230.6,221.7 1230.1,210.8 1229.6,198.8 1229,185.6 1228.5,171.3 1227.9,155.8 1227.4,139.2 1226.8,121.5 1226.1,102.7 1225.6,82.9 1225.2,62 1224.8,40 1224.8,40 1224.8,40 1224.4,62 1224.3,82.9 1224.4,102.8 1224.6,121.6 1224.9,139.3 1225.6,155.9 1226.4,171.3 1227.1,185.7 1227.9,198.9 1228.6,210.9 1229.2,221.7 1229.8,231.4 1230.3,239.8 1230.7,247Z" fill="#4c8c30"/>
<path d="M1234.9,247.1 1236.2,238.1 1238.1,228.5 1240.4,218.3 1243,207.3 1245.9,195.5 1248.9,182.8 1251.9,169.1 1254.8,154.4 1257.6,138.6 1259.7,121.6 1261.4,103.4 1262.7,83.8 1263.4,62.9 1263.3,40.6 1263.3,40.6 1263.3,40.6 1262.4,62.9 1261.1,83.7 1259.2,103.1 1256.9,121.3 1254.2,138.1 1251.6,153.9 1248.9,168.5 1246.2,182.2 1243.5,194.9 1240.9,206.8 1238.6,217.9 1236.5,228.2 1234.9,237.9 1233.8,246.9Z" fill="#378024"/>
<path d="M1235.6,247.1 1236.7,240.1 1238.4,232.3 1240.4,223.5 1242.7,213.8 1245.2,203 1247.8,191.1 1250.5,178 1253,163.7 1255.4,148.1 1257.4,131.1 1258.8,112.7 1259.8,92.9 1260.2,71.5 1259.9,48.6 1259.9,48.6 1259.9,48.6 1259.4,71.5 1258.4,92.8 1256.8,112.5 1254.9,130.8 1252.8,147.7 1250.6,163.3 1248.2,177.6 1245.8,190.7 1243.4,202.6 1241.1,213.4 1239,223.2 1237.2,232 1235.7,239.9 1234.8,246.9Z" fill="#5a9e38"/>
<path d="M1232.6,247.1 1233.9,239.9 1235.7,232.1 1238,223.3 1240.5,213.6 1243.4,203 1246.3,191.2 1249.2,178.3 1252,164.2 1254.6,148.8 1256.5,132 1257.9,113.8 1258.8,94 1258.9,72.8 1258.2,49.9 1258.2,49.9 1258.2,49.9 1258.1,72.8 1257.3,94 1255.9,113.6 1253.9,131.7 1251.5,148.3 1249.2,163.7 1246.6,177.8 1243.9,190.7 1241.3,202.4 1238.7,213.2 1236.3,222.9 1234.3,231.7 1232.7,239.7 1231.7,246.9Z" fill="#72ae4c"/>
<path d="M1233.9,247 1233.2,239.2 1232.1,230.9 1230.8,222.1 1229.3,212.6 1227.6,202.2 1225.8,190.9 1224.1,178.5 1222.3,165 1220.7,150.1 1219.3,133.8 1217.9,115.9 1216.5,96.4 1215.4,75 1214.5,51.6 1214.5,51.6 1214.5,51.6 1214.1,75 1214.3,96.5 1214.9,116.1 1216.2,134.1 1217.8,150.4 1219.7,165.3 1221.6,178.9 1223.6,191.3 1225.6,202.5 1227.5,212.9 1229.2,222.3 1230.8,231.1 1232,239.3 1232.9,247Z" fill="#4f9532"/>
<path d="M1235.3,247 1234.7,240.7 1233.9,233.4 1232.9,225.1 1231.7,215.8 1230.3,205.4 1228.9,193.9 1227.6,181.2 1226.2,167.3 1225,152.2 1223.9,135.8 1222.8,118.1 1221.9,99 1221.3,78.6 1221,56.6 1221,56.6 1221,56.6 1220.6,78.6 1220.6,99.1 1221,118.2 1221.7,135.9 1222.9,152.4 1224.3,167.5 1225.8,181.4 1227.4,194.1 1228.9,205.6 1230.4,216 1231.7,225.3 1232.9,233.5 1233.9,240.8 1234.6,247Z" fill="#30741e"/>
<path d="M1231.9,246.9 1231.1,241.2 1230,234.3 1228.4,226.3 1226.7,217.1 1224.8,206.7 1222.8,195.1 1220.8,182.4 1218.8,168.5 1217,153.5 1215.3,137.3 1213.6,120 1212.3,101.5 1211.3,81.9 1210.7,61.2 1210.7,61.2 1210.7,61.2 1210.4,82 1210.7,101.6 1211.5,120.2 1212.7,137.5 1214.5,153.8 1216.5,168.8 1218.7,182.7 1220.9,195.4 1223.1,207 1225.2,217.4 1227.1,226.6 1228.8,234.6 1230.2,241.4 1231.1,247.1Z" fill="#30741e"/>
<path d="M1237.3,246.9 1235.9,240.9 1233.9,233.7 1231.3,225.2 1228.3,215.5 1225.1,204.7 1221.7,192.8 1218.2,179.9 1214.9,165.9 1211.8,151.1 1209.1,135.4 1206.5,118.9 1204.4,101.6 1203,83.6 1202.4,64.8 1202.4,64.8 1202.4,64.8 1202.1,83.6 1202.8,101.7 1204.2,119.2 1206.4,135.8 1209.3,151.6 1212.6,166.5 1216.1,180.4 1219.8,193.3 1223.4,205.2 1226.8,216 1230,225.6 1232.7,234 1234.9,241.2 1236.5,247.1Z" fill="#30741e"/>
<path d="M1232.1,247 1232.7,240.2 1233.6,232.4 1234.6,223.6 1235.8,213.9 1237.1,203.2 1238.5,191.6 1239.9,179.1 1241.2,165.8 1242.5,151.7 1243.6,136.7 1244.3,121 1244.6,104.6 1244.7,87.5 1244.3,69.7 1244.3,69.7 1244.3,69.7 1243.8,87.4 1243,104.5 1242,120.9 1240.9,136.6 1240,151.5 1238.9,165.6 1237.8,178.9 1236.6,191.4 1235.4,203 1234.3,213.7 1233.3,223.5 1232.4,232.3 1231.7,240.1 1231.3,247Z" fill="#2b6c1a"/>
<path d="M1237.7,247 1238.4,241 1239.4,233.6 1240.6,225.1 1241.9,215.5 1243.4,204.8 1244.9,193.1 1246.5,180.5 1248,167.1 1249.5,152.9 1250.8,137.9 1251.8,122.4 1252.3,106.2 1252.4,89.5 1252,72.5 1252,72.5 1252,72.5 1251.4,89.5 1250.5,106.1 1249.4,122.2 1248.4,137.8 1247.3,152.7 1246,166.9 1244.6,180.3 1243.2,192.9 1241.9,204.6 1240.5,215.3 1239.3,225 1238.3,233.5 1237.5,240.9 1236.9,247Z" fill="#30741e"/>
<path d="M1233.8,246.9 1232.8,241.4 1231.3,234.5 1229.3,226.3 1227,216.9 1224.6,206.3 1222,194.6 1219.4,182 1216.9,168.4 1214.7,154.1 1212.7,139 1210.7,123.3 1209.2,107 1208.3,90.2 1208,72.9 1208,72.9 1208,72.9 1207.2,90.2 1207.2,107.1 1208,123.5 1209.3,139.4 1211.5,154.6 1214,169 1216.7,182.5 1219.6,195.2 1222.4,206.8 1225.1,217.3 1227.6,226.7 1229.8,234.9 1231.5,241.7 1232.8,247.1Z" fill="#66a742"/>
<path d="M1235.2,247 1235.5,241.4 1235.8,234.8 1236.2,227 1236.6,218.3 1237,208.4 1237.5,197.6 1237.9,185.7 1238.4,172.9 1238.8,159 1238.9,144.2 1238.9,128.4 1238.8,111.7 1238.6,94 1238.2,75.4 1238.2,75.4 1238.2,75.4 1237.7,94 1237.3,111.7 1236.8,128.4 1236.3,144.2 1235.8,159 1235.6,172.8 1235.4,185.7 1235.2,197.5 1234.9,208.4 1234.7,218.2 1234.5,227 1234.4,234.7 1234.3,241.4 1234.3,247Z" fill="#4f9532"/>
<path d="M1237.6,247 1237.3,240.3 1236.9,232.7 1236.4,224.3 1235.8,215.1 1235.1,205.1 1234.3,194.3 1233.6,182.7 1232.9,170.3 1232.1,157.2 1231.3,143.2 1230.5,128.5 1229.9,113.1 1229.5,96.8 1229.2,79.8 1229.2,79.8 1229.2,79.8 1228.8,96.8 1228.7,113.1 1228.8,128.6 1229.1,143.3 1229.5,157.3 1230.3,170.5 1231.2,182.9 1232.2,194.5 1233.1,205.3 1234,215.3 1234.9,224.4 1235.7,232.8 1236.3,240.3 1236.7,247Z" fill="#4f9532"/>
<path d="M1235,247.1 1236.5,242.4 1238.4,236.9 1240.9,230.5 1243.7,223.3 1246.8,215 1250,205.8 1253.2,195.4 1256.3,183.9 1259.1,171.1 1261.5,157.1 1263.4,141.7 1264.8,125 1265.5,106.9 1265.3,87.2 1265.3,87.2 1265.3,87.2 1264.8,106.8 1263.6,124.9 1261.8,141.5 1259.5,156.8 1256.8,170.7 1253.9,183.3 1251,194.8 1248,205.1 1245,214.4 1242.2,222.7 1239.6,230 1237.3,236.5 1235.5,242.1 1234.3,246.9Z" fill="#3a8024"/>
<path d="M1235.1,247.1 1236.2,241.2 1237.8,234.7 1239.8,227.4 1242,219.3 1244.4,210.4 1247,200.7 1249.6,190.2 1252.1,178.8 1254.5,166.6 1256.4,153.4 1257.9,139.4 1259,124.4 1259.6,108.5 1259.5,91.7 1259.5,91.7 1259.5,91.7 1258.7,108.5 1257.5,124.3 1255.9,139.1 1253.8,153.1 1251.7,166.1 1249.5,178.3 1247.2,189.7 1244.9,200.2 1242.6,209.9 1240.3,218.8 1238.3,227 1236.6,234.4 1235.2,241 1234.2,246.9Z" fill="#72ae4c"/>
<path d="M1237.3,247 1236.9,240.7 1236.3,234.2 1235.5,227.3 1234.5,219.9 1233.5,211.9 1232.4,203.1 1231.3,193.5 1230.2,182.9 1229.2,171.2 1228.3,158.4 1227.2,144.2 1226.2,128.6 1225.5,111.4 1224.9,92.5 1224.9,92.5 1224.9,92.5 1224.5,111.4 1224.4,128.6 1224.7,144.3 1225.2,158.6 1226.2,171.5 1227.4,183.2 1228.7,193.8 1230,203.4 1231.4,212.2 1232.6,220.2 1233.8,227.6 1234.9,234.4 1235.7,240.9 1236.3,247Z" fill="#72ae4c"/>
<path d="M1234.9,61.8 1234.7,57.1 1234.6,52.4 1234.5,47.7 1234.2,43 1233.8,38.4 1233.4,33.7 1232.9,29 1232.4,24.3 1232.4,24.3 1232.4,24.3 1232.2,29 1232.2,33.7 1232.2,38.4 1232.2,43.1 1232.3,47.8 1232.6,52.5 1232.9,57.2 1233.1,61.9Z" fill="#b8bd6c"/>
<path d="M1217.7,70.9 1217.3,68.1 1217,65.3 1216.6,62.5 1216.1,59.7 1215.4,56.9 1214.8,54.1 1214.1,51.4 1213.3,48.6 1213.3,48.6 1213.3,48.6 1213.4,51.5 1213.6,54.3 1213.8,57.2 1214.1,60 1214.5,62.8 1215,65.6 1215.5,68.4 1216,71.2Z" fill="#c2c278"/>
<path d="M1249.1,73 1249.4,69.5 1249.8,66.1 1250.1,62.6 1250.4,59.1 1250.5,55.6 1250.6,52.1 1250.6,48.6 1250.6,45.1 1250.6,45.1 1250.6,45.1 1250,48.5 1249.4,52 1248.9,55.4 1248.4,58.9 1248,62.4 1247.8,65.9 1247.5,69.4 1247.3,72.9Z" fill="#b8bd6c"/>
<path d="M1210.7,251 L1213.9,265.5 L1255,265.5 L1258.2,251 Z" fill="#a95d52"/>
<ellipse cx="1234.5" cy="250.3" rx="23.7" ry="3.4" fill="#4d4a48" stroke="#c47f72" stroke-width="1.7"/>
<path d="M1228.6,250 L1226.8,222 L1228.2,222 L1230.4,250 Z" fill="#7fa83c"/>
<path d="M1230.6,250 L1229.6,222 L1231,222 L1232.4,250 Z" fill="#6a9a32"/>
<path d="M1232.6,250 L1232.4,222 L1233.8,222 L1234.4,250 Z" fill="#8cb046"/>
<path d="M1234.6,250 L1235.2,222 L1236.6,222 L1236.4,250 Z" fill="#5f922c"/>
<path d="M1236.6,250 L1238,222 L1239.4,222 L1238.4,250 Z" fill="#79a43a"/>
<path d="M1238.6,250 L1240.8,222 L1242.2,222 L1240.4,250 Z" fill="#6b9c34"/>
<path d="M1297.8,247 1298.3,237.6 1299.4,225.6 1301.2,211.2 1303.5,194.9 1306.1,177 1309.2,157.9 1312.4,138.1 1315.9,117.9 1319.4,97.7 1322.6,77.8 1325.6,58.7 1328.4,40.7 1331,24.2 1333.1,9.6 1333.1,9.6 1333.1,9.6 1330.2,24 1327,40.4 1323.6,58.3 1320.1,77.4 1316.5,97.2 1313.2,117.5 1310,137.7 1306.9,157.6 1304.1,176.7 1301.7,194.6 1299.6,211 1298.1,225.4 1297.2,237.6 1296.9,247Z" fill="#72ae4c"/>
<path d="M1296.7,247 1297.3,237.4 1298.8,225.2 1301,211 1303.8,195.1 1307.2,177.7 1310.9,159.3 1314.9,140.2 1319,120.7 1323.2,101.2 1326.9,82 1330.3,63.6 1333.3,46.2 1335.8,30.2 1337.6,15.9 1337.6,15.9 1337.6,15.9 1335,30 1331.9,45.9 1328.4,63.2 1324.4,81.6 1320.3,100.6 1316.4,120.1 1312.5,139.7 1308.8,158.8 1305.2,177.3 1302.1,194.8 1299.5,210.8 1297.5,225.1 1296.2,237.3 1295.8,247Z" fill="#2b6c1a"/>
<path d="M1296.3,247 1296.8,235.1 1298.1,220.4 1300,203.4 1302.4,184.6 1305.3,164.7 1308.6,144.1 1312.2,123.5 1316,103.3 1320,84.3 1323.6,66.7 1327.2,51.3 1330.6,38.6 1333.7,29.1 1336.5,23.3 1336.5,23.3 1336.5,23.3 1333.1,28.8 1329.4,38.2 1325.5,50.9 1321.5,66.2 1317.5,83.7 1313.8,102.9 1310.1,123.1 1306.7,143.8 1303.6,164.4 1300.9,184.4 1298.6,203.2 1296.9,220.3 1295.9,235.1 1295.6,247Z" fill="#2b6c1a"/>
<path d="M1298.2,247 1298.6,235.7 1299.6,221.6 1301.1,205.3 1303.1,187.2 1305.4,168 1308,148 1310.8,128 1313.8,108.2 1316.9,89.4 1319.8,72 1322.6,56.4 1325.3,43.4 1327.7,33.2 1329.8,26.6 1329.8,26.6 1329.8,26.6 1327.1,33.1 1324.3,43.1 1321.3,56.2 1318.1,71.7 1315,89.1 1312,108 1309.2,127.7 1306.5,147.8 1304,167.8 1301.8,187.1 1300,205.2 1298.7,221.5 1297.9,235.6 1297.6,247Z" fill="#30741e"/>
<path d="M1295.7,247 1296.1,235.1 1297,221.8 1298.5,207.3 1300.4,191.8 1302.8,175.4 1305.5,158.6 1308.5,141.4 1311.9,124.1 1315.4,107 1318.9,90.1 1322.5,73.8 1326.1,58.3 1329.8,43.9 1333.4,30.6 1333.4,30.6 1333.4,30.6 1329.2,43.7 1325,58 1320.9,73.4 1316.9,89.7 1313.1,106.5 1309.7,123.7 1306.5,141 1303.7,158.3 1301.1,175.2 1299,191.6 1297.2,207.1 1295.9,221.7 1295.2,235.1 1295,247Z" fill="#2b6c1a"/>
<path d="M1295.7,247 1296,233.2 1296.9,217.9 1298.3,201.5 1300.1,184.3 1302.2,166.5 1304.6,148.5 1307.3,130.6 1310.3,113.1 1313.3,96.4 1316.2,80.6 1319.1,66.2 1322,53.5 1324.8,42.8 1327.4,34.2 1327.4,34.2 1327.4,34.2 1324.1,42.5 1320.7,53.2 1317.2,65.8 1313.9,80.2 1310.6,95.9 1307.7,112.7 1305,130.2 1302.5,148.2 1300.3,166.2 1298.4,184.1 1296.8,201.4 1295.7,217.9 1295,233.2 1294.8,247Z" fill="#4f9532"/>
<path d="M1297,247 1296.8,242.8 1296,237.4 1294.7,231 1293,223.8 1290.9,216 1288.5,207.8 1285.8,199.3 1283,190.8 1280,182.3 1276.7,174.2 1273.4,166.6 1270.1,159.7 1267,153.6 1264,148.7 1264,148.7 1264,148.7 1266.5,153.9 1269.2,160.1 1272.1,167.2 1275,174.9 1278,183 1281.1,191.4 1284.1,199.9 1286.9,208.3 1289.5,216.5 1291.7,224.2 1293.6,231.3 1295,237.6 1296,242.9 1296.3,247Z" fill="#30741e"/>
<path d="M1299.3,247 1299,242.5 1298,236.6 1296.4,229.5 1294.2,221.5 1291.6,212.8 1288.6,203.8 1285.4,194.6 1282,185.6 1278.6,177 1275,169.2 1271.4,162.3 1268.1,156.7 1265,152.5 1262.4,150.2 1262.4,150.2 1262.4,150.2 1264.5,152.9 1267.1,157.3 1270,163 1273.2,170 1276.5,177.9 1280,186.4 1283.6,195.3 1286.9,204.4 1290,213.3 1292.8,221.9 1295.2,229.8 1297,236.8 1298.2,242.6 1298.6,247Z" fill="#4f9532"/>
<path d="M1299.2,247 1299,241.6 1298.2,235.7 1296.9,229.4 1295.2,222.9 1293,216.1 1290.6,209.3 1288,202.5 1285.2,195.8 1282.3,189.3 1279.2,183.3 1276.1,177.6 1273.1,172.5 1270.3,168 1267.6,164.3 1267.6,164.3 1267.6,164.3 1269.7,168.3 1272.1,173 1274.7,178.3 1277.5,184.1 1280.3,190.3 1283.3,196.7 1286.2,203.3 1289,209.9 1291.6,216.7 1293.8,223.3 1295.7,229.7 1297.2,235.9 1298.1,241.7 1298.5,247Z" fill="#378024"/>
<path d="M1294,247 1293.8,241.8 1293.1,236 1292,229.8 1290.4,223.3 1288.5,216.6 1286.3,209.7 1283.9,203 1281.2,196.4 1278.4,190.1 1275.3,184.3 1272.1,179 1268.9,174.5 1265.7,170.8 1262.7,168 1262.7,168 1262.7,168 1265.2,171.2 1267.9,175.2 1270.7,179.9 1273.5,185.3 1276.3,191.1 1279.2,197.3 1282,203.7 1284.6,210.4 1287,217.1 1289,223.7 1290.7,230.1 1292.1,236.2 1292.9,241.9 1293.3,247Z" fill="#66a742"/>
<path d="M1298.5,247 1298.3,244 1297.6,240.2 1296.4,235.8 1294.8,230.8 1292.9,225.3 1290.6,219.6 1288.2,213.7 1285.6,207.8 1282.9,202 1279.9,196.5 1276.9,191.5 1274,186.9 1271.2,183 1268.5,180 1268.5,180 1268.5,180 1270.6,183.4 1273,187.5 1275.5,192.2 1278.2,197.5 1280.8,203 1283.7,208.7 1286.4,214.5 1289,220.3 1291.4,225.9 1293.5,231.2 1295.2,236.2 1296.6,240.5 1297.4,244.2 1297.8,247Z" fill="#458a2c"/>
<path d="M1296.7,246.9 1296.4,243.8 1295.4,239.8 1293.9,235.2 1291.8,230.1 1289.3,224.7 1286.5,219.1 1283.5,213.5 1280.3,208 1277.1,202.8 1273.6,198.2 1270.3,194.2 1267.1,191 1264.2,188.7 1261.8,187.6 1261.8,187.6 1261.8,187.6 1263.7,189.3 1266,192 1268.7,195.5 1271.6,199.7 1274.6,204.4 1278,209.4 1281.3,214.7 1284.5,220.2 1287.5,225.6 1290.2,230.8 1292.4,235.7 1294.1,240.2 1295.3,244 1295.8,247.1Z" fill="#4f9532"/>
<path d="M1296.8,247 1298,237.5 1299.6,227.4 1301.7,216.6 1304.1,204.9 1306.6,192.2 1309.3,178.3 1312,163.3 1314.7,146.8 1317.2,128.7 1319.1,109 1320.7,87.4 1321.8,63.9 1322.4,38.4 1322.3,10.7 1322.3,10.7 1322.3,10.7 1321.6,38.4 1320.5,63.9 1318.9,87.3 1316.8,108.7 1314.5,128.4 1312.2,146.4 1309.8,162.9 1307.3,178 1304.8,191.8 1302.5,204.5 1300.3,216.3 1298.4,227.2 1297,237.4 1296,247Z" fill="#72ae4c"/>
<path d="M1298.9,247 1299.4,240 1300.2,230.9 1301.1,220 1302.1,207.4 1303.3,193.2 1304.4,177.5 1305.6,160.4 1306.7,142 1307.7,122.4 1308.4,101.8 1308.7,80.2 1308.8,57.8 1308.7,34.8 1308.1,11.1 1308.1,11.1 1308.1,11.1 1307.7,34.8 1307.1,57.8 1306.4,80.2 1305.4,101.7 1304.5,122.3 1303.7,141.8 1302.8,160.2 1301.9,177.3 1301,193.1 1300.1,207.3 1299.4,219.9 1298.7,230.8 1298.2,239.9 1297.9,247Z" fill="#458a2c"/>
<path d="M1300.1,247 1299.7,237.3 1299,226.7 1298.2,215.2 1297.3,202.7 1296.2,189.2 1295.1,174.7 1294,158.9 1292.9,142 1291.9,123.7 1291,104.2 1290.1,83.3 1289.2,60.9 1288.4,37 1287.7,11.5 1287.7,11.5 1287.7,11.5 1287.3,37 1287.3,60.9 1287.5,83.4 1288.2,104.3 1289.3,123.9 1290.5,142.1 1291.8,159.1 1293.1,174.8 1294.4,189.4 1295.6,202.9 1296.8,215.3 1297.8,226.8 1298.6,237.3 1299.2,247Z" fill="#5a9e38"/>
<path d="M1296.2,247.1 1297.3,238.4 1298.9,228.3 1300.8,216.8 1303,203.9 1305.5,189.7 1308,174.3 1310.5,157.6 1312.9,139.8 1315.1,120.9 1317,100.9 1318.5,80 1319,58 1318.9,35.3 1318,11.7 1318,11.7 1318,11.7 1317.7,35.3 1316.9,58 1315.5,79.8 1314.1,100.7 1312.4,120.6 1310.4,139.5 1308.2,157.3 1305.9,174 1303.5,189.4 1301.3,203.6 1299.3,216.5 1297.5,228.1 1296.2,238.3 1295.3,246.9Z" fill="#3a8024"/>
<path d="M1300.4,246.9 1299.7,238.6 1298.5,229.3 1297,218.7 1295.3,207.1 1293.4,194.1 1291.4,179.9 1289.4,164.4 1287.5,147.4 1285.7,129 1283.8,109.1 1282.2,87.6 1281,64.4 1280.2,39.5 1279.9,12.9 1279.9,12.9 1279.9,12.9 1279.3,39.5 1279.4,64.4 1280.1,87.7 1281.1,109.3 1282.5,129.3 1284.4,147.7 1286.6,164.7 1288.8,180.3 1291.1,194.5 1293.2,207.4 1295.2,219 1297,229.5 1298.4,238.8 1299.4,247.1Z" fill="#2b6c1a"/>
<path d="M1295.7,247 1296.4,239.1 1297.3,229.6 1298.4,218.7 1299.7,206.3 1301.1,192.5 1302.6,177.4 1304,161 1305.5,143.4 1306.9,124.5 1308.1,104.5 1309.2,83.3 1309.7,61.1 1309.8,37.9 1309.6,13.7 1309.6,13.7 1309.6,13.7 1308.8,37.9 1307.8,61.1 1306.7,83.2 1305.7,104.4 1304.6,124.4 1303.4,143.2 1302.1,160.9 1300.8,177.3 1299.5,192.4 1298.3,206.2 1297.2,218.6 1296.2,229.5 1295.5,239 1294.9,247Z" fill="#2b6c1a"/>
<path d="M1298.2,247 1297.7,237.7 1296.9,227.6 1295.9,216.6 1294.7,204.7 1293.4,191.6 1292.1,177.4 1290.7,162 1289.3,145.3 1288,127.2 1286.9,107.7 1285.6,86.7 1284.4,64.1 1283.4,39.8 1282.5,13.7 1282.5,13.7 1282.5,13.7 1282.2,39.8 1282.3,64.2 1282.7,86.8 1283.6,107.9 1285,127.5 1286.5,145.5 1288.1,162.2 1289.7,177.6 1291.3,191.8 1292.8,204.9 1294.2,216.8 1295.5,227.8 1296.5,237.8 1297.2,247Z" fill="#72ae4c"/>
<path d="M1298.3,247 1297.9,238.4 1297.3,228.6 1296.5,217.6 1295.6,205.3 1294.5,191.8 1293.4,177 1292.3,161.1 1291.3,143.8 1290.4,125.4 1289.6,105.7 1288.7,84.8 1287.8,62.6 1287.2,39.3 1286.7,14.7 1286.7,14.7 1286.7,14.7 1286,39.3 1285.8,62.7 1285.9,84.8 1286.4,105.8 1287.4,125.5 1288.6,144 1289.9,161.2 1291.2,177.2 1292.5,192 1293.7,205.5 1294.9,217.7 1295.9,228.8 1296.8,238.5 1297.4,247Z" fill="#72ae4c"/>
<path d="M1295.7,247 1295.3,239.3 1294.7,230.2 1293.8,219.8 1292.9,208 1291.8,194.8 1290.7,180.3 1289.5,164.4 1288.4,147.1 1287.5,128.6 1286.3,108.6 1285.3,87.4 1284.5,64.8 1283.9,40.9 1283.6,15.7 1283.6,15.7 1283.6,15.7 1283,40.9 1282.9,64.9 1283.2,87.5 1283.7,108.8 1284.4,128.7 1285.6,147.3 1286.9,164.6 1288.3,180.4 1289.7,195 1291,208.1 1292.2,219.9 1293.3,230.3 1294.2,239.4 1294.8,247Z" fill="#72ae4c"/>
<path d="M1299.6,247 1300,238.8 1300.6,229.6 1301.4,219.3 1302.3,207.9 1303.2,195.3 1304.2,181.4 1305.2,166.2 1306.1,149.6 1307,131.6 1307.8,112 1308.4,90.8 1308.5,67.9 1308.3,43.3 1307.7,16.9 1307.7,16.9 1307.7,16.9 1307.3,43.3 1306.7,67.9 1306,90.7 1305.5,111.9 1304.9,131.5 1304.1,149.5 1303.4,166.1 1302.5,181.3 1301.7,195.2 1300.9,207.8 1300.2,219.2 1299.6,229.5 1299.1,238.7 1298.8,247Z" fill="#4f9532"/>
<path d="M1296.9,247 1297.6,239.7 1298.5,230.6 1299.6,219.8 1300.8,207.3 1302.2,193.4 1303.6,178.1 1305,161.6 1306.4,143.9 1307.7,125.3 1308.8,105.9 1309.3,85.6 1309.6,64.8 1309.5,43.5 1309,21.8 1309,21.8 1309,21.8 1308.6,43.5 1307.9,64.8 1307,85.6 1305.9,105.7 1305,125.2 1303.9,143.8 1302.7,161.4 1301.5,177.9 1300.3,193.2 1299.2,207.2 1298.1,219.6 1297.2,230.5 1296.5,239.7 1296.1,247Z" fill="#30741e"/>
<path d="M1293.6,247 1293.3,237.6 1292.8,227.3 1292.2,216.2 1291.4,204.2 1290.6,191.2 1289.8,177.1 1288.9,162.1 1288.1,145.9 1287.2,128.5 1286.2,109.9 1285.4,90.1 1284.6,68.9 1284.1,46.4 1283.7,22.5 1283.7,22.5 1283.7,22.5 1283.4,46.4 1283.4,69 1283.7,90.1 1284.1,110 1284.7,128.6 1285.6,146 1286.6,162.2 1287.7,177.3 1288.8,191.3 1289.8,204.3 1290.7,216.3 1291.6,227.4 1292.3,237.6 1292.8,247Z" fill="#2b6c1a"/>
<path d="M1294.4,247 1294.8,238.2 1295.3,228.7 1296,218.3 1296.7,207.1 1297.5,194.8 1298.3,181.5 1299.1,167.1 1299.9,151.4 1300.7,134.4 1301.1,116 1301.4,96.1 1301.4,74.7 1301.2,51.6 1300.8,26.8 1300.8,26.8 1300.8,26.8 1300.5,51.6 1300.1,74.7 1299.6,96.1 1298.9,115.9 1298.3,134.3 1297.8,151.3 1297.2,167 1296.5,181.4 1295.9,194.7 1295.3,207 1294.7,218.3 1294.2,228.6 1293.9,238.2 1293.7,247Z" fill="#30741e"/>
<path d="M1299.9,247.1 1301.1,240.6 1302.8,232.9 1305,223.9 1307.4,213.6 1310.1,202 1312.9,188.9 1315.7,174.5 1318.4,158.5 1320.9,141.1 1323,122 1324.3,101.4 1325.2,79.1 1325.3,55.2 1324.6,29.6 1324.6,29.6 1324.6,29.6 1324.4,55.2 1323.5,79.1 1322.1,101.2 1320.1,121.8 1318.1,140.7 1315.8,158.2 1313.4,174.1 1310.8,188.5 1308.2,201.6 1305.7,213.2 1303.5,223.6 1301.5,232.6 1300,240.4 1299,246.9Z" fill="#2b6c1a"/>
<path d="M1294,247 1293.3,239.3 1292.1,230.9 1290.6,221.7 1288.9,211.5 1287,200.3 1285.1,187.8 1283.1,174 1281.2,158.8 1279.4,141.9 1277.9,123.4 1276.5,103.1 1275.1,80.8 1274.2,56.4 1273.7,29.8 1273.7,29.8 1273.7,29.8 1273.2,56.4 1273.3,80.8 1274,103.2 1275.3,123.6 1277,142.2 1279,159 1281.1,174.3 1283.2,188.1 1285.3,200.6 1287.4,211.8 1289.3,221.9 1290.9,231.1 1292.3,239.4 1293.2,247Z" fill="#3a8024"/>
<path d="M1295.6,247.1 1296.7,240.3 1298.4,231.9 1300.5,221.8 1302.9,210.3 1305.5,197.3 1308.2,183.1 1310.9,167.6 1313.5,151 1316,133.3 1318.1,114.7 1319.8,95.3 1320.4,75 1320.4,54.2 1319.6,32.8 1319.6,32.8 1319.6,32.8 1319.1,54.2 1318,75 1316.5,95.1 1314.9,114.4 1313,133 1310.8,150.6 1308.4,167.2 1305.9,182.7 1303.4,197 1301.1,209.9 1298.9,221.5 1297,231.6 1295.5,240.1 1294.6,246.9Z" fill="#30741e"/>
<path d="M1299.9,247.1 1300.8,239.8 1302.2,231.6 1303.9,222.2 1305.8,211.6 1307.9,199.9 1310,186.9 1312.2,172.6 1314.4,157 1316.3,140.1 1318.1,121.8 1319.3,102 1319.9,80.8 1320.1,58.1 1319.6,33.8 1319.6,33.8 1319.6,33.8 1318.9,58.1 1317.9,80.7 1316.5,101.8 1314.9,121.5 1313.3,139.8 1311.6,156.7 1309.7,172.3 1307.7,186.5 1305.8,199.5 1303.9,211.3 1302.2,221.9 1300.8,231.3 1299.6,239.7 1298.9,246.9Z" fill="#418629"/>
<path d="M1298.5,247 1299,238.6 1299.6,229.5 1300.3,219.5 1301.2,208.6 1302.1,196.7 1303,183.8 1303.9,169.8 1304.8,154.6 1305.6,138.1 1306.1,120.3 1306.3,101.2 1306.3,80.6 1306,58.5 1305.4,34.9 1305.4,34.9 1305.4,34.9 1305,58.5 1304.5,80.6 1303.9,101.2 1303.1,120.3 1302.4,138 1301.8,154.4 1301.1,169.6 1300.5,183.7 1299.8,196.6 1299.2,208.5 1298.6,219.4 1298.1,229.4 1297.7,238.6 1297.5,247Z" fill="#4c8c30"/>
<path d="M1299.7,247 1300.4,238.6 1301.3,229.1 1302.5,218.6 1303.7,207 1305.2,194.4 1306.6,180.8 1308.1,166.2 1309.6,150.5 1311,133.9 1312,116.2 1312.7,97.5 1313.2,77.9 1313.5,57.2 1313.3,35.6 1313.3,35.6 1313.3,35.6 1312.6,57.2 1311.7,77.8 1310.7,97.4 1309.4,116 1308.1,133.7 1306.9,150.3 1305.7,165.9 1304.4,180.6 1303.2,194.2 1302,206.8 1300.9,218.4 1300,229 1299.3,238.5 1298.8,247Z" fill="#2b6c1a"/>
<path d="M1294.6,247.1 1296.1,238.9 1298.4,230.1 1301.2,220.6 1304.5,210.3 1308,199.1 1311.7,186.9 1315.4,173.6 1318.9,159.1 1322.1,143.3 1324.6,126.1 1326.6,107.4 1327.9,87.1 1328.3,65.2 1327.7,41.6 1327.7,41.6 1327.7,41.6 1327.8,65.2 1326.9,87.1 1325.3,107.2 1322.9,125.8 1320,142.9 1316.8,158.6 1313.5,173.1 1310,186.4 1306.5,198.6 1303.1,209.9 1300,220.2 1297.4,229.8 1295.3,238.7 1293.9,246.9Z" fill="#2b6c1a"/>
<path d="M1299.4,247.1 1301.1,239.5 1303.4,230.5 1306.2,220.2 1309.4,208.7 1313,196.1 1316.7,182.4 1320.4,167.7 1324,152 1327.4,135.5 1330.4,118.1 1332.5,100 1334,81.2 1334.8,61.9 1334.5,42 1334.5,42 1334.5,42 1333.8,61.8 1332.3,81.1 1330.2,99.7 1327.4,117.7 1324.5,135 1321.3,151.5 1317.9,167.1 1314.4,181.9 1311,195.6 1307.7,208.3 1304.6,219.8 1302,230.1 1299.9,239.2 1298.5,246.9Z" fill="#458a2c"/>
<path d="M1295.1,247.1 1296.2,240.7 1297.9,233.3 1299.9,224.8 1302.2,215.2 1304.7,204.3 1307.3,192.2 1310,178.7 1312.6,163.9 1315,147.6 1317.3,129.8 1318.8,110.5 1319.8,89.6 1320.2,67 1319.9,42.7 1319.9,42.7 1319.9,42.7 1319.1,66.9 1317.8,89.5 1316.1,110.3 1314,129.5 1312.1,147.2 1309.9,163.5 1307.5,178.3 1305.1,191.7 1302.7,203.9 1300.4,214.8 1298.3,224.5 1296.5,233 1295.1,240.5 1294.1,246.9Z" fill="#5a9e38"/>
<path d="M1300,247 1299.4,238.8 1298.4,229.7 1297.2,219.6 1295.8,208.6 1294.2,196.7 1292.5,183.8 1290.9,170 1289.3,155.3 1287.9,139.7 1286.3,123.1 1285,105.6 1284.1,87.2 1283.5,67.8 1283.3,47.5 1283.3,47.5 1283.3,47.5 1282.6,67.8 1282.6,87.2 1283,105.7 1283.8,123.3 1284.9,139.9 1286.6,155.6 1288.4,170.3 1290.3,184.1 1292.2,197 1294,208.9 1295.6,219.8 1297.1,229.8 1298.3,238.9 1299.1,247Z" fill="#458a2c"/>
<path d="M1295.7,247 1295.4,238.6 1295,229.6 1294.4,219.8 1293.7,209.3 1292.9,198 1292.1,185.8 1291.3,172.9 1290.5,159.1 1289.7,144.4 1288.7,128.8 1287.9,112.2 1287.2,94.7 1286.7,76.2 1286.4,56.7 1286.4,56.7 1286.4,56.7 1286,76.2 1286,94.7 1286.2,112.3 1286.6,128.8 1287.1,144.5 1288,159.2 1289,173 1290,186 1291,198.1 1292,209.4 1292.9,219.9 1293.7,229.7 1294.4,238.7 1294.9,247Z" fill="#66a742"/>
<path d="M1299.8,246.9 1299,241.3 1297.8,234.6 1296.3,226.9 1294.5,218.1 1292.6,208.2 1290.6,197 1288.5,184.6 1286.6,170.9 1284.8,155.9 1283,139.5 1281.4,121.6 1280,102.3 1279.2,81.4 1278.7,58.9 1278.7,58.9 1278.7,58.9 1278.2,81.4 1278.3,102.3 1279,121.8 1280.1,139.7 1281.7,156.2 1283.7,171.3 1285.9,185 1288.2,197.4 1290.5,208.6 1292.6,218.5 1294.6,227.3 1296.4,234.9 1297.8,241.5 1298.8,247.1Z" fill="#4c8c30"/>
<path d="M1298,247.1 1299.7,240.2 1302.1,232.7 1305.1,224.4 1308.5,215.3 1312.2,205.3 1316,194.4 1319.9,182.4 1323.8,169.4 1327.5,155.2 1330.8,139.8 1333.4,123.2 1335.4,105.2 1336.7,85.9 1337.1,65.1 1337.1,65.1 1337.1,65.1 1335.9,85.8 1334,105 1331.4,122.9 1328.3,139.4 1325,154.6 1321.5,168.8 1317.9,181.8 1314.1,193.7 1310.5,204.7 1307,214.8 1303.8,224 1301,232.3 1298.8,240 1297.2,246.9Z" fill="#4c8c30"/>
<path d="M1299.6,246.9 1298.7,239.9 1297.4,232.3 1295.6,224.1 1293.6,215.3 1291.4,205.8 1289.1,195.5 1286.9,184.5 1284.7,172.6 1282.7,159.7 1280.9,145.9 1279.3,131 1278,115 1277.3,97.8 1277.2,79.3 1277.2,79.3 1277.2,79.3 1276.5,97.8 1276.6,115.1 1277.2,131.2 1278.4,146.2 1280.3,160.1 1282.5,173 1284.9,184.9 1287.4,195.9 1289.8,206.2 1292.2,215.6 1294.4,224.4 1296.3,232.5 1297.8,240 1298.9,247.1Z" fill="#66a742"/>
<path d="M1295.7,247.1 1297.5,241.3 1300.1,234.2 1303.3,226.1 1307,217 1311,206.9 1315.2,195.9 1319.4,184.1 1323.5,171.5 1327.3,158.3 1330.5,144.3 1332.9,129.8 1334.5,114.9 1335.3,99.6 1334.8,84 1334.8,84 1334.8,84 1334.3,99.5 1332.9,114.7 1330.7,129.5 1327.7,143.8 1324.3,157.5 1320.8,170.7 1316.9,183.3 1313,195.1 1309,206.2 1305.2,216.3 1301.7,225.5 1298.7,233.8 1296.4,240.9 1294.8,246.9Z" fill="#458a2c"/>
<path d="M1316.9,75.6 1317.5,72 1318.1,68.3 1318.8,64.6 1319.3,60.9 1319.7,57.1 1320,53.4 1320.4,49.7 1320.6,45.9 1320.6,45.9 1320.6,45.9 1319.7,49.6 1318.9,53.2 1318.1,56.9 1317.3,60.6 1316.7,64.2 1316.2,68 1315.6,71.7 1315.1,75.4Z" fill="#b8bd6c"/>
<path d="M1302.3,70.3 1302.1,65.6 1301.9,61 1301.7,56.4 1301.4,51.7 1301,47.1 1300.5,42.5 1300,37.9 1299.4,33.3 1299.4,33.3 1299.4,33.3 1299.3,37.9 1299.3,42.6 1299.4,47.2 1299.4,51.9 1299.6,56.5 1299.9,61.1 1300.2,65.7 1300.5,70.4Z" fill="#9aa854"/>
<path d="M1317.2,58.8 1317.7,54.5 1318.3,50.1 1318.8,45.8 1319.3,41.4 1319.5,37 1319.8,32.6 1320,28.3 1320.2,23.9 1320.2,23.9 1320.2,23.9 1319.4,28.2 1318.6,32.5 1317.9,36.8 1317.2,41.2 1316.7,45.5 1316.3,49.9 1315.9,54.3 1315.4,58.6Z" fill="#c2c278"/>
<path d="M1303,66.7 1302.9,63.7 1302.8,60.8 1302.7,57.8 1302.5,54.9 1302.1,51.9 1301.7,49 1301.3,46.1 1300.8,43.1 1300.8,43.1 1300.8,43.1 1300.6,46.1 1300.6,49.1 1300.5,52 1300.5,55 1300.6,57.9 1300.8,60.9 1301.1,63.8 1301.3,66.8Z" fill="#a9b45e"/>
<path d="M1318.5,59.4 1319,55.7 1319.5,52.1 1320,48.4 1320.4,44.8 1320.7,41.1 1320.9,37.4 1321.1,33.7 1321.2,30 1321.2,30 1321.2,30 1320.4,33.7 1319.7,37.3 1319.1,40.9 1318.4,44.5 1317.9,48.2 1317.6,51.9 1317.2,55.5 1316.8,59.2Z" fill="#9aa854"/>
<path d="M1282.9,42.9 1282.7,39.2 1282.4,35.6 1282.2,31.9 1281.8,28.3 1281.3,24.7 1280.7,21.1 1280.2,17.5 1279.5,13.9 1279.5,13.9 1279.5,13.9 1279.5,17.5 1279.6,21.2 1279.7,24.8 1279.8,28.5 1280,32.1 1280.4,35.8 1280.8,39.4 1281.2,43Z" fill="#c2c278"/>
<path d="M1272.8,251 L1276,265.5 L1315.4,265.5 L1318.6,251 Z" fill="#a95d52"/>
<ellipse cx="1295.7" cy="250.3" rx="22.9" ry="3.4" fill="#4d4a48" stroke="#c47f72" stroke-width="1.7"/>
<path d="M1290.6,250 L1288.8,222 L1290.2,222 L1292.4,250 Z" fill="#7fa83c"/>
<path d="M1292.6,250 L1291.6,222 L1293,222 L1294.4,250 Z" fill="#6a9a32"/>
<path d="M1294.6,250 L1294.4,222 L1295.8,222 L1296.4,250 Z" fill="#8cb046"/>
<path d="M1296.6,250 L1297.2,222 L1298.6,222 L1298.4,250 Z" fill="#5f922c"/>
<path d="M1298.6,250 L1300,222 L1301.4,222 L1300.4,250 Z" fill="#79a43a"/>
<path d="M1300.6,250 L1302.8,222 L1304.2,222 L1302.4,250 Z" fill="#6b9c34"/>
<path d="M1357.9,247 1358.2,235.7 1358.9,221.3 1359.9,204.3 1361.3,185.3 1363,164.9 1364.9,143.8 1367,122.6 1369.2,101.9 1371.6,82.3 1373.7,64.3 1375.9,48.7 1377.9,36 1379.9,26.9 1381.8,21.8 1381.8,21.8 1381.8,21.8 1379.4,26.7 1376.9,35.8 1374.4,48.5 1371.9,64.1 1369.4,82 1367.3,101.7 1365.2,122.4 1363.3,143.7 1361.5,164.8 1360,185.2 1358.8,204.2 1357.9,221.2 1357.4,235.7 1357.2,247Z" fill="#30741e"/>
<path d="M1360.2,247 1360.5,238.5 1361.4,227.4 1362.6,214.2 1364.3,199.2 1366.2,182.7 1368.4,165.2 1370.7,147 1373.2,128.5 1375.7,110.1 1377.9,92.1 1380.1,74.9 1382.1,58.9 1383.9,44.5 1385.3,32.1 1385.3,32.1 1385.3,32.1 1383.3,44.5 1381.1,58.8 1378.7,74.7 1376.2,91.9 1373.6,109.8 1371.3,128.3 1369,146.8 1366.8,165 1364.8,182.5 1363,199 1361.5,214.1 1360.4,227.4 1359.8,238.5 1359.6,247Z" fill="#3a8024"/>
<path d="M1358.5,247 1358.9,237.5 1359.8,225 1361,210 1362.7,193 1364.6,174.6 1366.8,155.4 1369.1,135.8 1371.5,116.3 1373.9,97.6 1376.1,80.2 1378,64.5 1379.8,51.1 1381.3,40.6 1382.4,33.5 1382.4,33.5 1382.4,33.5 1380.6,40.5 1378.6,50.9 1376.4,64.2 1374,79.9 1371.5,97.3 1369.2,116.1 1367,135.5 1364.9,155.2 1362.9,174.5 1361.2,192.9 1359.7,209.9 1358.6,224.9 1358,237.5 1357.8,247Z" fill="#3a8024"/>
<path d="M1357.2,247 1357.6,233.5 1358.6,218.4 1360,201.8 1361.9,184.3 1364.2,166.2 1366.8,147.8 1369.7,129.6 1372.8,111.9 1376.1,95.1 1379.1,79.4 1382.1,65.4 1385.1,53.3 1388,43.6 1390.7,36.6 1390.7,36.6 1390.7,36.6 1387.3,43.3 1383.8,52.9 1380.2,64.9 1376.7,78.9 1373.2,94.5 1370.2,111.4 1367.3,129.2 1364.7,147.5 1362.3,165.9 1360.2,184.1 1358.5,201.7 1357.3,218.3 1356.5,233.5 1356.3,247Z" fill="#458a2c"/>
<path d="M1359.2,247 1359.6,235.4 1360.7,221.2 1362.2,205.1 1364.2,187.4 1366.5,168.8 1369.2,149.6 1372,130.4 1375,111.7 1378,94 1380.7,77.8 1383.2,63.6 1385.6,51.8 1387.6,43.1 1389.2,37.8 1389.2,37.8 1389.2,37.8 1386.9,42.8 1384.2,51.5 1381.4,63.2 1378.3,77.4 1375.2,93.6 1372.4,111.3 1369.7,130.1 1367,149.3 1364.6,168.5 1362.5,187.2 1360.7,204.9 1359.4,221.1 1358.6,235.3 1358.4,247Z" fill="#378024"/>
<path d="M1357.1,247 1357.4,234.9 1358.1,221.1 1359.2,205.8 1360.6,189.5 1362.3,172.6 1364.3,155.4 1366.5,138.4 1368.8,121.8 1371.3,106.1 1373.6,91.6 1375.9,78.8 1378.2,68 1380.5,59.5 1382.6,53.7 1382.6,53.7 1382.6,53.7 1379.9,59.3 1377.2,67.7 1374.5,78.5 1371.8,91.3 1369.2,105.8 1366.9,121.5 1364.7,138.1 1362.7,155.2 1360.9,172.4 1359.3,189.4 1358.1,205.7 1357.1,221 1356.6,234.9 1356.4,247Z" fill="#378024"/>
<path d="M1356.6,247 1356.6,238 1356.3,227.9 1355.7,216.9 1354.9,205.2 1353.9,193 1352.8,180.5 1351.6,167.9 1350.2,155.5 1348.8,143.4 1347.1,131.8 1345.3,121 1343.5,111.2 1341.8,102.5 1340,95.2 1340,95.2 1340,95.2 1341,102.7 1342.1,111.4 1343.4,121.3 1344.7,132.2 1346,143.7 1347.6,155.8 1349.2,168.2 1350.7,180.7 1352,193.2 1353.2,205.3 1354.2,217 1355,228 1355.5,238 1355.8,247Z" fill="#30741e"/>
<path d="M1360.2,247 1360.1,238.9 1359.7,229.3 1359.1,218.5 1358.2,206.8 1357,194.4 1355.7,181.8 1354.3,169 1352.7,156.5 1351,144.5 1349.1,133.3 1347,123.2 1345,114.5 1342.9,107.4 1340.9,102.4 1340.9,102.4 1340.9,102.4 1342.3,107.6 1343.9,114.8 1345.6,123.5 1347.2,133.7 1348.9,144.9 1350.7,156.8 1352.5,169.3 1354.1,182 1355.5,194.6 1356.8,206.9 1357.9,218.6 1358.7,229.3 1359.3,238.9 1359.5,247Z" fill="#378024"/>
<path d="M1356.8,247 1356.8,239.5 1356.5,230.9 1355.9,221.4 1355.2,211.1 1354.3,200.2 1353.2,188.9 1352,177.4 1350.7,165.8 1349.3,154.2 1347.7,143 1345.9,132.2 1344.2,122 1342.4,112.6 1340.6,104.2 1340.6,104.2 1340.6,104.2 1341.7,112.7 1343,122.2 1344.3,132.4 1345.6,143.3 1347,154.5 1348.5,166 1350,177.6 1351.4,189.1 1352.7,200.4 1353.8,211.2 1354.7,221.5 1355.4,231 1355.9,239.5 1356.1,247Z" fill="#378024"/>
<path d="M1357.4,247 1357.2,240.1 1356.7,231.2 1355.8,220.7 1354.6,209 1353.1,196.5 1351.5,183.4 1349.7,170.2 1347.9,157.3 1346,145 1343.9,133.6 1341.9,123.7 1340,115.4 1338.2,109.2 1336.7,105.5 1336.7,105.5 1336.7,105.5 1337.6,109.4 1338.8,115.7 1340.3,124 1341.9,134 1343.7,145.3 1345.7,157.6 1347.8,170.5 1349.7,183.6 1351.5,196.7 1353.1,209.2 1354.5,220.8 1355.6,231.3 1356.3,240.1 1356.6,247Z" fill="#66a742"/>
<path d="M1356.7,247 1356.6,239.5 1356,231.2 1355,222.1 1353.8,212.5 1352.2,202.4 1350.5,192.1 1348.7,181.6 1346.8,171.2 1344.8,160.9 1342.7,150.9 1340.6,141.4 1338.6,132.6 1336.9,124.4 1335.3,117.1 1335.3,117.1 1335.3,117.1 1336.1,124.5 1337.3,132.8 1338.8,141.8 1340.4,151.4 1342.2,161.4 1344.4,171.6 1346.5,182.1 1348.5,192.5 1350.4,202.7 1352.2,212.7 1353.6,222.3 1354.8,231.3 1355.5,239.6 1355.9,247Z" fill="#4c8c30"/>
<path d="M1358.2,247 1358.1,239.5 1357.7,231.1 1357.1,221.9 1356.2,212.1 1355.1,201.9 1353.7,191.4 1352.2,180.9 1350.5,170.4 1348.7,160.2 1346.6,150.6 1344.3,141.5 1341.9,133.3 1339.5,126.1 1336.9,120.1 1336.9,120.1 1336.9,120.1 1338.8,126.3 1340.8,133.6 1342.7,141.9 1344.6,151 1346.4,160.7 1348.4,170.8 1350.3,181.2 1352,191.7 1353.5,202.1 1354.8,212.2 1355.8,222 1356.7,231.2 1357.2,239.6 1357.5,247Z" fill="#458a2c"/>
<path d="M1358.4,247 1358.6,238.5 1358.9,228.9 1359.3,218.2 1359.7,206.5 1360.1,193.7 1360.5,179.9 1360.9,164.9 1361.3,148.8 1361.7,131.7 1361.8,113.4 1361.7,93.9 1361.5,73.4 1361.2,51.7 1360.8,28.8 1360.8,28.8 1360.8,28.8 1360.3,51.7 1359.9,73.4 1359.4,93.9 1358.9,113.3 1358.5,131.6 1358.3,148.8 1358.2,164.9 1358,179.8 1357.8,193.7 1357.7,206.5 1357.5,218.2 1357.4,228.9 1357.4,238.4 1357.4,247Z" fill="#2b6c1a"/>
<path d="M1355.9,247 1356.5,237.8 1357.3,228 1358.3,217.5 1359.3,206.3 1360.5,194.3 1361.7,181.4 1362.9,167.5 1364.1,152.4 1365.1,136.2 1365.8,118.7 1366.3,99.8 1366.6,79.5 1366.7,57.7 1366.5,34.2 1366.5,34.2 1366.5,34.2 1365.8,57.7 1365,79.5 1364.1,99.7 1363,118.5 1361.8,136 1360.9,152.2 1359.9,167.2 1359,181.2 1358.1,194.1 1357.2,206.2 1356.4,217.4 1355.7,227.9 1355.2,237.7 1354.9,247Z" fill="#418629"/>
<path d="M1360,247 1359.6,240.4 1359.1,232.2 1358.4,222.4 1357.5,211.2 1356.6,198.6 1355.6,184.7 1354.6,169.6 1353.7,153.3 1352.8,135.9 1352,117.5 1351.1,98.2 1350.2,78 1349.5,57 1348.9,35.2 1348.9,35.2 1348.9,35.2 1348.6,57 1348.6,78 1348.9,98.3 1349.5,117.6 1350.5,136 1351.6,153.4 1352.7,169.7 1353.8,184.9 1355,198.8 1356.1,211.3 1357.1,222.5 1358,232.3 1358.7,240.4 1359.2,247Z" fill="#5a9e38"/>
<path d="M1358.6,247 1358.8,238.7 1359,229.6 1359.2,219.7 1359.4,209 1359.7,197.3 1359.9,184.6 1360.2,170.9 1360.5,156.2 1360.7,140.2 1360.9,123.1 1361,104.8 1360.7,85.1 1360.3,64.1 1359.7,41.6 1359.7,41.6 1359.7,41.6 1359.1,64.1 1358.6,85.1 1358.1,104.7 1358,123.1 1358,140.2 1357.9,156.1 1357.9,170.9 1357.8,184.6 1357.8,197.3 1357.7,208.9 1357.7,219.7 1357.7,229.6 1357.7,238.7 1357.7,247Z" fill="#4f9532"/>
<path d="M1354.8,247 1354.5,239.1 1354,230.5 1353.3,221.2 1352.5,211 1351.6,200 1350.7,187.9 1349.7,174.7 1348.8,160.4 1348,144.7 1347.2,127.8 1346.5,109.3 1345.7,89.3 1345,67.7 1344.6,44.3 1344.6,44.3 1344.6,44.3 1344.2,67.7 1344.2,89.3 1344.5,109.4 1345.1,127.8 1346,144.9 1347,160.5 1348,174.9 1349.1,188 1350.2,200.1 1351.2,211.1 1352.2,221.3 1353,230.6 1353.7,239.1 1354.2,247Z" fill="#4f9532"/>
<path d="M1356.6,247 1356.1,240 1355.4,232.3 1354.4,223.8 1353.3,214.4 1352.1,203.9 1350.8,192.3 1349.4,179.5 1348.1,165.3 1346.9,149.7 1345.4,132.5 1344,113.7 1342.8,93 1341.9,70.4 1341.1,45.8 1341.1,45.8 1341.1,45.8 1340.9,70.5 1341.1,93.1 1341.6,113.8 1342.4,132.7 1343.4,150 1344.9,165.7 1346.4,179.8 1348,192.7 1349.6,204.2 1351.1,214.7 1352.5,224 1353.8,232.5 1354.8,240.1 1355.5,247Z" fill="#72ae4c"/>
<path d="M1357.7,247 1357.3,239 1356.6,230.2 1355.7,220.5 1354.7,209.9 1353.5,198.3 1352.3,185.8 1351.1,172.3 1350,157.7 1348.9,142 1347.9,125.2 1346.9,107.3 1346,88.1 1345.3,67.8 1344.8,46.1 1344.8,46.1 1344.8,46.1 1344.3,67.8 1344.4,88.2 1344.7,107.4 1345.3,125.3 1346.5,142.2 1347.7,157.8 1349.1,172.4 1350.5,186 1351.8,198.5 1353.2,210 1354.4,220.6 1355.5,230.3 1356.3,239.1 1357,247Z" fill="#378024"/>
<path d="M1359.8,247 1359.4,238.9 1358.6,230.3 1357.6,221.1 1356.5,211.2 1355.2,200.4 1353.9,188.6 1352.6,175.8 1351.4,161.9 1350.2,146.7 1349.3,130.1 1348.4,112 1347.4,92.4 1346.7,71.1 1346.2,47.9 1346.2,47.9 1346.2,47.9 1345.6,71.1 1345.4,92.4 1345.7,112.1 1346.5,130.2 1347.7,146.9 1349,162.1 1350.5,176.1 1352,188.9 1353.5,200.6 1354.9,211.4 1356.2,221.3 1357.4,230.5 1358.3,239 1359,247Z" fill="#30741e"/>
<path d="M1355.8,247.1 1357.3,240.4 1359.4,232.4 1362.1,223 1365.2,212.4 1368.5,200.6 1372,187.7 1375.5,173.7 1378.9,158.8 1382,143 1384.6,126.4 1386.7,109.1 1387.8,91 1387.9,72.4 1387.1,53.3 1387.1,53.3 1387.1,53.3 1386.9,72.4 1386,90.9 1384.3,108.8 1382.3,126.1 1379.8,142.7 1376.9,158.4 1373.7,173.3 1370.4,187.3 1367.1,200.2 1363.9,212 1360.9,222.7 1358.4,232.1 1356.4,240.2 1355.1,246.9Z" fill="#418629"/>
<path d="M1354.7,247 1355.7,240.5 1357.1,233.2 1358.8,225.1 1360.7,216.2 1362.8,206.2 1365,195 1367.2,182.7 1369.4,169.1 1371.4,154 1373,137.4 1374.3,119.2 1375.2,99.3 1375.7,77.6 1375.7,54.1 1375.7,54.1 1375.7,54.1 1375.1,77.6 1374.1,99.3 1372.7,119.1 1371,137.2 1369.1,153.7 1367.2,168.7 1365.2,182.4 1363.2,194.7 1361.2,205.8 1359.3,215.9 1357.5,224.9 1356,233 1354.8,240.3 1354,247Z" fill="#72ae4c"/>
<path d="M1359,247 1359.3,240.9 1359.6,234 1359.9,226.1 1360.3,217.2 1360.7,207.2 1361.1,196 1361.5,183.5 1361.9,169.7 1362.2,154.5 1362.2,137.8 1362.2,119.5 1362,99.6 1361.8,77.9 1361.5,54.5 1361.5,54.5 1361.5,54.5 1361,77.9 1360.6,99.6 1360.1,119.5 1359.6,137.8 1359.1,154.5 1358.9,169.7 1358.8,183.5 1358.6,195.9 1358.4,207.1 1358.3,217.2 1358.2,226.1 1358.1,234 1358.1,240.9 1358.1,247Z" fill="#418629"/>
<path d="M1357.4,247 1356.5,239.9 1355.2,231.7 1353.6,222.4 1351.7,211.9 1349.6,200.4 1347.4,187.9 1345.3,174.3 1343.1,159.8 1341.1,144.4 1339.3,128.2 1337.5,111.1 1336,93.2 1334.9,74.6 1334.3,55.2 1334.3,55.2 1334.3,55.2 1334.2,74.6 1334.7,93.3 1335.7,111.2 1337,128.4 1339,144.7 1341.2,160.1 1343.5,174.6 1345.8,188.1 1348.1,200.7 1350.4,212.2 1352.4,222.6 1354.2,231.9 1355.7,240.1 1356.7,247Z" fill="#4f9532"/>
<path d="M1356.1,247 1355.8,240.1 1355.4,232.4 1354.8,223.8 1354.1,214.3 1353.3,203.7 1352.5,192.1 1351.7,179.4 1350.9,165.6 1350.2,150.6 1349.3,134.4 1348.5,116.9 1347.9,98.1 1347.5,78 1347.2,56.4 1347.2,56.4 1347.2,56.4 1346.7,78 1346.6,98.2 1346.7,117 1347.1,134.5 1347.5,150.7 1348.4,165.7 1349.4,179.6 1350.4,192.2 1351.5,203.8 1352.4,214.4 1353.4,223.9 1354.2,232.5 1354.8,240.2 1355.3,247Z" fill="#72ae4c"/>
<path d="M1361.5,246.9 1360.8,239.3 1359.7,230.6 1358.4,221 1356.8,210.4 1355,198.9 1353.2,186.6 1351.4,173.5 1349.6,159.5 1348,144.8 1346.5,129.3 1344.9,113.2 1343.6,96.3 1342.7,78.8 1342.1,60.6 1342.1,60.6 1342.1,60.6 1341.6,78.8 1341.7,96.4 1342.3,113.3 1343.2,129.6 1344.8,145.1 1346.6,159.9 1348.7,173.9 1350.7,187 1352.8,199.3 1354.8,210.7 1356.6,221.2 1358.2,230.8 1359.5,239.4 1360.5,247.1Z" fill="#4f9532"/>
<path d="M1355.3,247 1356.2,239.4 1357.5,230.6 1359.1,220.9 1361,210.3 1363,198.7 1365.1,186.3 1367.2,173 1369.3,159 1371.2,144.2 1372.9,128.8 1374.3,112.6 1375,95.9 1375.2,78.6 1374.8,60.8 1374.8,60.8 1374.8,60.8 1374.4,78.6 1373.5,95.8 1372.2,112.5 1370.9,128.6 1369.3,144 1367.5,158.8 1365.6,172.8 1363.6,186.1 1361.7,198.5 1359.8,210.1 1358.1,220.8 1356.6,230.5 1355.4,239.3 1354.6,247Z" fill="#66a742"/>
<path d="M1360.7,247 1360.6,240.1 1360.3,232.6 1360,224.3 1359.6,215.1 1359.1,205.1 1358.6,194.2 1358.1,182.2 1357.6,169.2 1357.2,155 1356.4,139.6 1355.6,122.9 1354.9,104.9 1354.4,85.5 1353.8,64.6 1353.8,64.6 1353.8,64.6 1353.4,85.5 1353.3,104.9 1353.3,123 1353.4,139.7 1353.7,155.1 1354.4,169.3 1355.2,182.4 1355.9,194.3 1356.7,205.3 1357.4,215.3 1358.1,224.4 1358.7,232.6 1359.3,240.2 1359.7,247Z" fill="#4c8c30"/>
<path d="M1361.4,247.1 1362.3,239.7 1363.5,231.6 1365,222.7 1366.7,213 1368.6,202.5 1370.5,191.1 1372.5,178.7 1374.4,165.5 1376.2,151.3 1377.8,136.1 1378.7,119.8 1379.2,102.5 1379.3,84.2 1378.8,64.8 1378.8,64.8 1378.8,64.8 1378.2,84.2 1377.3,102.5 1376,119.6 1374.5,135.8 1373.2,150.9 1371.6,165.1 1369.9,178.4 1368.2,190.7 1366.5,202.1 1364.9,212.7 1363.4,222.4 1362.1,231.4 1361.1,239.6 1360.4,246.9Z" fill="#458a2c"/>
<path d="M1359.4,246.9 1358.5,240.2 1357,232.9 1355.2,224.8 1353.1,215.9 1350.8,206.1 1348.4,195.4 1346,183.7 1343.6,170.9 1341.5,157 1339.5,141.8 1337.6,125.3 1336,107.4 1334.8,88 1334.2,67.1 1334.2,67.1 1334.2,67.1 1333.6,88.1 1333.9,107.5 1334.7,125.5 1336.1,142.2 1338.3,157.5 1340.7,171.5 1343.3,184.3 1345.9,196 1348.6,206.7 1351.1,216.4 1353.5,225.2 1355.5,233.2 1357.2,240.5 1358.4,247.1Z" fill="#3a8024"/>
<path d="M1357.8,246.9 1357.1,241.6 1356.2,235.4 1354.9,228.2 1353.4,220 1351.8,210.6 1350.2,200.2 1348.5,188.5 1346.9,175.6 1345.4,161.4 1344.2,145.8 1342.8,128.8 1341.7,110.2 1341,90.2 1340.6,68.5 1340.6,68.5 1340.6,68.5 1339.8,90.2 1339.7,110.3 1340,128.9 1340.8,146 1342.2,161.7 1343.9,176 1345.8,188.9 1347.7,200.6 1349.6,211 1351.5,220.3 1353.2,228.5 1354.7,235.7 1355.9,241.8 1356.7,247.1Z" fill="#3a8024"/>
<path d="M1356,247 1355.5,241 1354.7,234.2 1353.6,226.5 1352.4,217.8 1351.1,208.2 1349.7,197.5 1348.3,185.7 1346.9,172.9 1345.7,158.9 1344.6,143.7 1343.6,127.4 1342.5,109.8 1341.7,90.9 1341.1,70.7 1341.1,70.7 1341.1,70.7 1340.6,90.9 1340.6,109.8 1341,127.5 1342.1,143.9 1343.4,159.1 1344.8,173.1 1346.3,186 1347.9,197.7 1349.5,208.4 1350.9,218.1 1352.3,226.7 1353.5,234.4 1354.5,241.2 1355.2,247Z" fill="#4f9532"/>
<path d="M1356.1,247 1356.5,241.8 1357,235.8 1357.7,228.9 1358.4,221.1 1359.2,212.3 1360,202.3 1360.9,191.3 1361.7,179 1362.5,165.4 1363.2,150.5 1363.6,134.2 1363.7,116.4 1363.6,97.1 1363.2,76.2 1363.2,76.2 1363.2,76.2 1362.6,97.1 1362,116.4 1361.3,134.1 1360.6,150.4 1360.1,165.3 1359.5,178.9 1358.9,191.1 1358.2,202.2 1357.5,212.1 1356.9,221 1356.4,228.8 1355.9,235.7 1355.5,241.8 1355.3,247Z" fill="#72ae4c"/>
<path d="M1357.9,247 1358.8,240.5 1360,233.3 1361.6,225.4 1363.3,216.8 1365.2,207.3 1367.2,197 1369.3,185.8 1371.2,173.5 1373,160.3 1374.7,146 1375.8,130.5 1376.4,113.8 1376.6,96 1376.2,76.8 1376.2,76.8 1376.2,76.8 1375.7,96 1374.9,113.8 1373.6,130.4 1372.2,145.7 1370.7,160 1369.1,173.2 1367.3,185.4 1365.5,196.7 1363.6,207 1361.9,216.5 1360.3,225.2 1358.9,233.1 1357.8,240.4 1357.1,247Z" fill="#378024"/>
<path d="M1355,247.1 1356.1,241.3 1357.8,234.9 1359.8,227.6 1362.1,219.5 1364.6,210.6 1367.2,200.6 1369.8,189.7 1372.4,177.7 1374.7,164.5 1376.4,150.1 1377.9,134.5 1378.8,117.6 1379.3,99.4 1379,79.7 1379,79.7 1379,79.7 1378.3,99.3 1377.2,117.5 1375.6,134.3 1373.6,149.8 1371.3,164 1369.1,177.1 1366.8,189.1 1364.5,200 1362.2,210 1359.9,219 1357.9,227.1 1356.2,234.5 1354.8,241 1353.9,246.9Z" fill="#3a8024"/>
<path d="M1361.1,247 1360.8,241.3 1360.2,234.4 1359.5,226.4 1358.7,217.3 1357.7,207.2 1356.8,196.2 1355.8,184.2 1354.8,171.5 1353.9,158 1353,143.7 1352,128.9 1351.2,113.5 1350.6,97.5 1350.1,81.1 1350.1,81.1 1350.1,81.1 1349.8,97.5 1349.8,113.5 1350.1,129 1350.6,143.9 1351.4,158.1 1352.5,171.7 1353.6,184.4 1354.8,196.4 1356,207.4 1357.1,217.5 1358.1,226.5 1359,234.5 1359.8,241.4 1360.3,247Z" fill="#378024"/>
<path d="M1355.5,246.9 1354.7,239.8 1353.5,231.8 1352,223.1 1350.3,213.6 1348.4,203.5 1346.4,192.6 1344.4,181.1 1342.4,168.9 1340.7,156 1339.1,142.4 1337.8,128.3 1336.5,113.5 1335.5,98.1 1334.9,82.1 1334.9,82.1 1334.9,82.1 1334.2,98.1 1334.3,113.6 1334.8,128.5 1336.3,142.7 1338.1,156.3 1340,169.2 1342.2,181.5 1344.4,193 1346.6,203.9 1348.6,214 1350.6,223.4 1352.3,232 1353.6,239.9 1354.6,247.1Z" fill="#3a8024"/>
<path d="M1357,247 1357,240.3 1357,233.2 1357,225.4 1356.9,217 1356.8,207.9 1356.7,198 1356.6,187.3 1356.5,175.6 1356.5,163 1356.4,149.3 1356.2,134.5 1355.8,118.5 1355.4,101.2 1354.9,82.6 1354.9,82.6 1354.9,82.6 1354.5,101.2 1354.2,118.5 1354,134.5 1354,149.3 1354.3,163 1354.5,175.7 1354.8,187.3 1355,198.1 1355.3,207.9 1355.5,217 1355.7,225.4 1356,233.2 1356.1,240.3 1356.3,247Z" fill="#2b6c1a"/>
<path d="M1355.3,247 1355.1,239.8 1354.7,232.2 1354.1,224.2 1353.5,215.6 1352.8,206.4 1352,196.5 1351.3,185.8 1350.5,174.4 1349.9,162 1349,148.7 1348.2,134.3 1347.5,118.9 1347,102.2 1346.5,84.3 1346.5,84.3 1346.5,84.3 1346,102.2 1345.8,118.9 1345.8,134.4 1346.1,148.8 1346.6,162.2 1347.5,174.6 1348.5,186.1 1349.5,196.7 1350.5,206.6 1351.5,215.8 1352.4,224.3 1353.2,232.4 1353.8,239.9 1354.3,247Z" fill="#66a742"/>
<path d="M1355.3,247 1354.9,240.6 1354.2,233.4 1353.4,225.5 1352.4,216.8 1351.4,207.4 1350.3,197.1 1349.1,186.2 1348,174.4 1347,161.9 1346.1,148.6 1345.2,134.5 1344.1,119.7 1343.3,104.1 1342.6,87.7 1342.6,87.7 1342.6,87.7 1342.2,104.1 1342.2,119.8 1342.5,134.7 1343.3,148.8 1344.4,162.1 1345.6,174.6 1346.9,186.4 1348.2,197.4 1349.5,207.6 1350.8,217 1352,225.7 1353,233.6 1353.8,240.7 1354.4,247Z" fill="#5a9e38"/>
<path d="M1351.3,59.8 1351.1,56.6 1351,53.4 1350.9,50.2 1350.7,47 1350.3,43.8 1349.9,40.7 1349.4,37.5 1348.9,34.3 1348.9,34.3 1348.9,34.3 1348.7,37.5 1348.7,40.7 1348.6,43.9 1348.6,47.1 1348.8,50.3 1349,53.5 1349.3,56.7 1349.5,59.9Z" fill="#c2c278"/>
<path d="M1344.4,81.4 1343.9,76.9 1343.4,72.4 1342.8,68 1342.2,63.5 1341.4,59.1 1340.7,54.7 1339.8,50.3 1338.9,45.9 1338.9,45.9 1338.9,45.9 1339.2,50.4 1339.5,54.9 1339.8,59.3 1340.2,63.8 1340.7,68.3 1341.4,72.7 1342,77.1 1342.6,81.6Z" fill="#a9b45e"/>
<path d="M1366.4,81.7 1366.2,77.3 1366,72.8 1365.8,68.4 1365.5,64 1365,59.6 1364.5,55.2 1364,50.8 1363.4,46.4 1363.4,46.4 1363.4,46.4 1363.3,50.9 1363.4,55.3 1363.4,59.7 1363.4,64.1 1363.7,68.6 1364,73 1364.3,77.4 1364.6,81.8Z" fill="#9aa854"/>
<path d="M1352.8,50.3 1352.5,47.5 1352.1,44.7 1351.8,41.9 1351.3,39.2 1350.7,36.4 1350.1,33.6 1349.4,30.9 1348.7,28.2 1348.7,28.2 1348.7,28.2 1348.7,31 1348.9,33.8 1349.1,36.6 1349.3,39.5 1349.7,42.3 1350.1,45 1350.6,47.8 1351.1,50.6Z" fill="#b8bd6c"/>
<path d="M1368.5,88.9 1368.4,84.2 1368.4,79.5 1368.3,74.8 1368.2,70.2 1367.9,65.5 1367.6,60.8 1367.2,56.1 1366.8,51.5 1366.8,51.5 1366.8,51.5 1366.6,56.1 1366.4,60.8 1366.3,65.5 1366.2,70.2 1366.2,74.9 1366.4,79.5 1366.5,84.2 1366.7,88.9Z" fill="#b8bd6c"/>
<path d="M1351.9,86.5 1352,82.1 1352.1,77.7 1352.2,73.4 1352.2,69 1352,64.7 1351.8,60.3 1351.6,55.9 1351.3,51.6 1351.3,51.6 1351.3,51.6 1350.9,55.9 1350.6,60.3 1350.4,64.6 1350.1,69 1350,73.4 1350.1,77.7 1350.1,82.1 1350.1,86.4Z" fill="#c2c278"/>
<path d="M1350.1,84.5 1350.2,80.7 1350.3,76.9 1350.4,73.1 1350.4,69.2 1350.2,65.4 1350,61.6 1349.8,57.8 1349.5,54 1349.5,54 1349.5,54 1349.1,57.8 1348.8,61.6 1348.6,65.4 1348.3,69.2 1348.2,73 1348.3,76.9 1348.3,80.7 1348.3,84.5Z" fill="#b8bd6c"/>
<path d="M1355.5,88.9 1355.3,84.3 1355,79.7 1354.8,75.1 1354.5,70.5 1354,66 1353.5,61.4 1353,56.8 1352.3,52.2 1352.3,52.2 1352.3,52.2 1352.3,56.9 1352.3,61.5 1352.4,66.1 1352.5,70.6 1352.7,75.2 1353,79.8 1353.4,84.4 1353.7,89Z" fill="#a9b45e"/>
<path d="M1335,251 L1338.2,265.5 L1376.7,265.5 L1379.9,251 Z" fill="#a95d52"/>
<ellipse cx="1357.5" cy="250.3" rx="22.4" ry="3.4" fill="#4d4a48" stroke="#c47f72" stroke-width="1.7"/>
<path d="M1351.6,250 L1349.8,222 L1351.2,222 L1353.4,250 Z" fill="#7fa83c"/>
<path d="M1353.6,250 L1352.6,222 L1354,222 L1355.4,250 Z" fill="#6a9a32"/>
<path d="M1355.6,250 L1355.4,222 L1356.8,222 L1357.4,250 Z" fill="#8cb046"/>
<path d="M1357.6,250 L1358.2,222 L1359.6,222 L1359.4,250 Z" fill="#5f922c"/>
<path d="M1359.6,250 L1361,222 L1362.4,222 L1361.4,250 Z" fill="#79a43a"/>
<path d="M1361.6,250 L1363.8,222 L1365.2,222 L1363.4,250 Z" fill="#6b9c34"/>
<path d="M1417.3,247 1417.7,234.8 1418.5,221.5 1419.8,207.4 1421.3,192.5 1423.2,177.1 1425.3,161.3 1427.5,145.2 1429.9,129.2 1432.2,113.2 1434.2,97.4 1436.1,82.1 1437.8,67.4 1439.2,53.4 1440.2,40.4 1440.2,40.4 1440.2,40.4 1438.5,53.3 1436.6,67.2 1434.4,81.9 1432.1,97.1 1429.8,112.8 1427.6,128.8 1425.5,145 1423.4,161 1421.5,176.9 1419.8,192.3 1418.4,207.2 1417.4,221.4 1416.7,234.7 1416.6,247Z" fill="#3a8024"/>
<path d="M1418.4,247 1418.6,237.9 1419.2,227.1 1420.1,214.8 1421.2,201.4 1422.6,186.9 1424.2,171.7 1426,156 1427.9,140.1 1430,124.1 1432,108.4 1434.1,93 1436.2,78.4 1438.3,64.7 1440.4,52.2 1440.4,52.2 1440.4,52.2 1437.7,64.6 1435.1,78.2 1432.6,92.8 1430.2,108.1 1427.9,123.8 1425.9,139.8 1424.1,155.8 1422.5,171.5 1421.1,186.8 1419.9,201.3 1418.9,214.8 1418.2,227 1417.8,237.9 1417.7,247Z" fill="#418629"/>
<path d="M1420.3,247 1420.7,238 1421.4,227.2 1422.6,214.9 1424,201.5 1425.7,187.1 1427.6,172 1429.7,156.6 1431.9,141 1434.1,125.6 1436,110.6 1437.9,96.3 1439.5,83 1441,70.9 1442.2,60.3 1442.2,60.3 1442.2,60.3 1440.3,70.8 1438.3,82.8 1436.1,96 1433.9,110.3 1431.6,125.2 1429.6,140.7 1427.6,156.3 1425.7,171.8 1424,186.9 1422.5,201.3 1421.2,214.8 1420.3,227.1 1419.7,237.9 1419.6,247Z" fill="#5a9e38"/>
<path d="M1417.4,247 1417.7,239.5 1418.5,229.7 1419.8,218 1421.4,204.8 1423.3,190.4 1425.6,175.1 1428,159.3 1430.5,143.3 1433.2,127.4 1435.7,111.9 1438.1,97.3 1440.5,83.8 1442.7,71.7 1444.7,61.5 1444.7,61.5 1444.7,61.5 1442.1,71.6 1439.3,83.5 1436.5,97 1433.7,111.6 1430.8,127 1428.3,142.9 1425.9,159 1423.7,174.8 1421.7,190.2 1419.9,204.6 1418.5,217.9 1417.4,229.6 1416.8,239.4 1416.6,247Z" fill="#5a9e38"/>
<path d="M1415.9,247 1416.3,238.3 1417.2,227.5 1418.5,214.8 1420.3,200.7 1422.4,185.6 1424.9,169.9 1427.5,153.9 1430.3,138 1433.3,122.7 1436.1,108.2 1438.8,95 1441.5,83.4 1444.1,73.9 1446.4,66.8 1446.4,66.8 1446.4,66.8 1443.5,73.7 1440.6,83.2 1437.5,94.6 1434.4,107.8 1431.3,122.3 1428.5,137.7 1425.8,153.6 1423.3,169.7 1421.1,185.4 1419.1,200.6 1417.5,214.7 1416.3,227.4 1415.5,238.3 1415.3,247Z" fill="#4c8c30"/>
<path d="M1417,247 1417.4,236.7 1418.3,224.9 1419.6,211.9 1421.4,198.1 1423.4,183.8 1425.7,169.3 1428.2,154.9 1430.7,141 1433.4,127.8 1435.7,115.7 1437.9,105.1 1439.9,96.1 1441.7,89.3 1443.1,84.7 1443.1,84.7 1443.1,84.7 1440.9,89 1438.5,95.7 1435.9,104.6 1433.2,115.2 1430.5,127.3 1428.1,140.5 1425.7,154.5 1423.5,168.9 1421.4,183.5 1419.6,197.9 1418.1,211.8 1417,224.8 1416.3,236.6 1416.1,247Z" fill="#4c8c30"/>
<path d="M1420,247 1419.9,239.8 1419.2,231.9 1418,223.4 1416.5,214.4 1414.6,205 1412.4,195.5 1409.9,186 1407.1,176.5 1404.2,167.3 1401,158.6 1397.6,150.4 1394.1,143 1390.7,136.3 1387.2,130.7 1387.2,130.7 1387.2,130.7 1390.2,136.6 1393.2,143.4 1396.3,151 1399.3,159.2 1402.3,168 1405.3,177.1 1408.2,186.5 1410.8,195.9 1413.2,205.4 1415.2,214.6 1416.9,223.6 1418.2,232 1419.1,239.9 1419.4,247Z" fill="#3a8024"/>
<path d="M1415.9,247 1415.7,242.3 1415.1,236.2 1414.1,228.9 1412.6,220.6 1410.9,211.6 1408.8,202 1406.5,192.2 1404.1,182.3 1401.5,172.5 1398.5,163.1 1395.4,154.4 1392.3,146.5 1389.3,139.6 1386.3,134 1386.3,134 1386.3,134 1388.6,139.9 1391.1,146.9 1393.8,155 1396.4,163.8 1399,173.2 1401.8,182.9 1404.4,192.7 1406.9,202.5 1409.1,212 1411.1,220.9 1412.7,229.1 1413.9,236.3 1414.8,242.4 1415.1,247Z" fill="#5a9e38"/>
<path d="M1415.7,247 1415.5,242.3 1414.8,236.3 1413.6,229.2 1412.1,221.1 1410.3,212.4 1408.2,203.2 1405.9,193.7 1403.5,184.2 1401,175 1398.4,166.2 1395.7,158 1393.2,150.8 1390.9,144.6 1388.8,139.7 1388.8,139.7 1388.8,139.7 1390.4,144.8 1392.3,151.1 1394.4,158.5 1396.6,166.7 1399,175.5 1401.6,184.8 1404.2,194.2 1406.6,203.6 1408.8,212.7 1410.8,221.4 1412.5,229.4 1413.8,236.5 1414.7,242.4 1415.1,247Z" fill="#458a2c"/>
<path d="M1417.4,247 1417.2,241.5 1416.5,235.3 1415.3,228.3 1413.8,220.9 1412,213.1 1410,205 1407.8,196.7 1405.5,188.4 1403.2,180.2 1400.7,172.3 1398.3,164.7 1396,157.6 1394,151.1 1392.3,145.4 1392.3,145.4 1392.3,145.4 1393.4,151.3 1395,157.9 1396.8,165.2 1398.8,172.8 1401,180.8 1403.5,189 1406,197.2 1408.3,205.4 1410.5,213.5 1412.5,221.2 1414.2,228.6 1415.5,235.4 1416.3,241.6 1416.7,247Z" fill="#4c8c30"/>
<path d="M1420.4,247 1420.2,242.9 1419.5,237.7 1418.4,231.6 1416.9,224.6 1415.1,217 1413,209 1410.8,200.6 1408.4,192.2 1406,183.8 1403.3,175.7 1400.6,167.9 1398.1,160.8 1395.7,154.4 1393.5,148.8 1393.5,148.8 1393.5,148.8 1395,154.6 1396.9,161.2 1399,168.5 1401.3,176.3 1403.6,184.5 1406.2,192.8 1408.8,201.2 1411.2,209.5 1413.5,217.4 1415.4,225 1417.1,231.8 1418.4,237.9 1419.3,243 1419.6,247Z" fill="#30741e"/>
<path d="M1415.2,247 1415.1,240.4 1414.5,233.2 1413.6,225.5 1412.4,217.4 1410.9,209.1 1409.1,200.8 1407.2,192.6 1405,184.6 1402.7,176.9 1400,169.9 1397.2,163.5 1394.4,158 1391.5,153.4 1388.7,150.1 1388.7,150.1 1388.7,150.1 1390.9,153.9 1393.1,158.6 1395.4,164.3 1397.7,170.7 1400,177.8 1402.5,185.3 1404.8,193.2 1407,201.3 1409,209.6 1410.7,217.7 1412.1,225.7 1413.2,233.3 1414,240.5 1414.3,247Z" fill="#30741e"/>
<path d="M1418.4,247 1417.9,239.6 1417.1,231.3 1416.1,222.2 1414.9,212.1 1413.6,201 1412.2,189 1410.8,175.9 1409.4,161.7 1408.2,146.4 1406.8,130 1405.4,112.4 1404.3,93.6 1403.4,73.5 1402.7,52 1402.7,52 1402.7,52 1402.3,73.5 1402.4,93.6 1402.9,112.5 1403.6,130.2 1404.8,146.7 1406.3,162 1408,176.2 1409.6,189.3 1411.3,201.3 1412.8,212.3 1414.3,222.4 1415.6,231.5 1416.6,239.7 1417.4,247Z" fill="#378024"/>
<path d="M1414.5,247 1414.6,240.3 1414.7,232.9 1414.9,224.7 1415,215.6 1415.1,205.4 1415.2,194.1 1415.3,181.6 1415.4,167.9 1415.3,152.7 1415,136.1 1414.7,118 1414.4,98.1 1414.1,76.6 1413.6,53.2 1413.6,53.2 1413.6,53.2 1413.2,76.6 1412.8,98.1 1412.6,118 1412.3,136.1 1412.1,152.7 1412,167.9 1412.2,181.6 1412.4,194.1 1412.6,205.4 1412.7,215.6 1412.9,224.7 1413.1,233 1413.3,240.3 1413.4,247Z" fill="#30741e"/>
<path d="M1420.2,247 1421.3,238.6 1423,229.5 1425,219.7 1427.4,209.1 1429.9,197.7 1432.6,185.4 1435.2,172.3 1437.8,158.3 1440.3,143.4 1442.4,127.4 1444,110.5 1444.9,92.5 1445.3,73.4 1444.8,53.2 1444.8,53.2 1444.8,53.2 1444.3,73.4 1443.3,92.4 1441.7,110.3 1439.9,127.1 1438,143 1435.7,158 1433.3,172 1430.8,185.1 1428.3,197.3 1425.9,208.8 1423.8,219.4 1421.9,229.3 1420.4,238.5 1419.4,247Z" fill="#3a8024"/>
<path d="M1416.1,247 1416.9,239.5 1418,231.4 1419.5,222.5 1421.1,212.8 1422.9,202.2 1424.7,190.6 1426.6,178 1428.3,164.2 1430,149.3 1431.3,133.1 1432.1,115.5 1432.6,96.6 1432.5,76.1 1431.9,54.1 1431.9,54.1 1431.9,54.1 1431.8,76.1 1431.2,96.5 1430.2,115.4 1428.9,132.9 1427.7,149.1 1426.2,164 1424.6,177.7 1422.9,190.4 1421.3,201.9 1419.7,212.6 1418.2,222.3 1417,231.2 1416,239.4 1415.3,247Z" fill="#418629"/>
<path d="M1416.5,247.1 1418,241.5 1420,234.5 1422.6,226.3 1425.6,216.8 1428.8,206 1432.1,194 1435.5,180.8 1438.7,166.3 1441.8,150.8 1444.4,134 1446.3,116.1 1447.6,97.1 1448.1,77 1447.7,55.9 1447.7,55.9 1447.7,55.9 1447.3,77 1446.1,97 1444.3,115.9 1441.9,133.6 1439.2,150.3 1436.4,165.9 1433.3,180.3 1430.2,193.5 1427,205.5 1424,216.3 1421.3,225.9 1418.9,234.2 1417,241.2 1415.7,246.9Z" fill="#5a9e38"/>
<path d="M1414.5,247 1414.6,241.3 1414.6,234.5 1414.6,226.5 1414.6,217.3 1414.6,207 1414.6,195.4 1414.5,182.5 1414.5,168.5 1414.5,153.1 1414.4,136.5 1414.1,118.6 1413.8,99.4 1413.5,78.9 1413.2,57 1413.2,57 1413.2,57 1412.9,78.9 1412.6,99.4 1412.5,118.6 1412.3,136.5 1412.3,153.1 1412.5,168.5 1412.6,182.5 1412.8,195.4 1413,207 1413.2,217.3 1413.4,226.5 1413.5,234.5 1413.7,241.3 1413.8,247Z" fill="#4f9532"/>
<path d="M1420.6,247 1421.2,241.5 1422,234.9 1423,227.2 1424.2,218.2 1425.4,208 1426.8,196.6 1428.1,183.9 1429.3,170 1430.5,154.7 1431.5,138 1432.1,120 1432.3,100.6 1432.3,79.8 1431.9,57.6 1431.9,57.6 1431.9,57.6 1431.4,79.8 1430.8,100.6 1429.9,119.9 1428.9,137.9 1428,154.5 1427,169.8 1425.9,183.7 1424.8,196.4 1423.7,207.8 1422.6,218 1421.6,227 1420.8,234.8 1420.2,241.4 1419.8,247Z" fill="#418629"/>
<path d="M1416.6,247 1417.4,239.4 1418.6,230.9 1420,221.5 1421.6,211.2 1423.4,200.1 1425.3,188 1427.1,175.1 1428.9,161.4 1430.5,146.8 1432,131.5 1432.8,115.3 1433.2,98.3 1433.1,80.5 1432.5,62.1 1432.5,62.1 1432.5,62.1 1432.1,80.5 1431.4,98.2 1430.3,115.1 1429,131.2 1427.8,146.6 1426.4,161.1 1424.8,174.8 1423.1,187.7 1421.5,199.8 1419.9,211 1418.5,221.3 1417.3,230.8 1416.3,239.3 1415.7,247Z" fill="#66a742"/>
<path d="M1419.8,247 1420.5,239.4 1421.5,230.8 1422.7,221.3 1424.1,211 1425.6,199.8 1427.2,187.8 1428.8,175.1 1430.3,161.6 1431.7,147.4 1432.8,132.5 1433.5,117 1434,100.9 1434,84.2 1433.5,67.1 1433.5,67.1 1433.5,67.1 1433.3,84.2 1432.7,100.9 1431.8,116.9 1430.7,132.4 1429.5,147.2 1428.2,161.4 1426.9,174.9 1425.5,187.6 1424.1,199.6 1422.7,210.8 1421.5,221.2 1420.4,230.7 1419.6,239.3 1419.1,247Z" fill="#378024"/>
<path d="M1418.2,247 1418.7,241.6 1419.5,234.9 1420.4,227 1421.4,217.9 1422.5,207.8 1423.7,196.5 1424.9,184.2 1426,171 1427,156.8 1427.8,141.7 1428.2,125.7 1428.3,109 1428.2,91.6 1427.7,73.4 1427.7,73.4 1427.7,73.4 1427.3,91.6 1426.8,109 1426.1,125.7 1425.1,141.5 1424.3,156.6 1423.5,170.8 1422.6,184 1421.6,196.3 1420.7,207.6 1419.8,217.8 1418.9,226.9 1418.2,234.8 1417.7,241.5 1417.4,247Z" fill="#4c8c30"/>
<path d="M1414.3,247 1414.2,241.6 1414.1,235.4 1413.9,228.5 1413.6,220.6 1413.3,211.7 1413,201.8 1412.7,190.7 1412.4,178.5 1412.2,164.9 1412,150 1411.7,133.6 1411.1,115.7 1410.7,96.2 1410.2,75 1410.2,75 1410.2,75 1409.5,96.2 1409.2,115.7 1409,133.6 1409.2,150 1409.6,165 1410,178.5 1410.5,190.8 1411,201.9 1411.5,211.8 1412,220.7 1412.4,228.5 1412.8,235.5 1413.2,241.6 1413.4,247Z" fill="#30741e"/>
<path d="M1414.5,247 1414.8,239.4 1415.2,231.1 1415.6,222 1416.2,212.3 1416.7,201.8 1417.3,190.6 1417.9,178.7 1418.4,166.1 1418.9,152.8 1419.4,138.8 1419.7,124.1 1419.6,108.7 1419.4,92.6 1418.9,75.9 1418.9,75.9 1418.9,75.9 1418.5,92.6 1418,108.7 1417.5,124 1417.2,138.7 1416.9,152.7 1416.5,166 1416.1,178.6 1415.7,190.5 1415.2,201.7 1414.8,212.2 1414.5,222 1414.2,231 1413.9,239.4 1413.8,247Z" fill="#4f9532"/>
<path d="M1416.9,247.1 1417.9,240.6 1419.4,233 1421.1,224.4 1423.1,214.9 1425.3,204.4 1427.6,193.1 1429.9,180.9 1432.1,167.9 1434.3,154.2 1436.2,139.8 1437.5,124.7 1438.5,109 1439.1,92.8 1439.1,76.1 1439.1,76.1 1439.1,76.1 1438.2,92.7 1437,108.9 1435.3,124.5 1433.4,139.4 1431.5,153.8 1429.6,167.5 1427.5,180.5 1425.4,192.7 1423.4,204 1421.4,214.6 1419.6,224.1 1418.1,232.8 1416.8,240.4 1416,246.9Z" fill="#378024"/>
<path d="M1420.8,247 1421.2,241.6 1421.6,234.8 1422.2,226.8 1422.8,217.5 1423.4,207.2 1424.1,195.9 1424.8,183.7 1425.5,170.7 1426.1,156.9 1426.2,142.5 1426.3,127.6 1426.3,112.2 1426.2,96.4 1425.7,80.4 1425.7,80.4 1425.7,80.4 1425.3,96.4 1424.8,112.2 1424.2,127.5 1423.6,142.4 1422.9,156.8 1422.5,170.6 1422.1,183.6 1421.6,195.8 1421.2,207.1 1420.8,217.4 1420.4,226.7 1420.2,234.7 1419.9,241.5 1419.8,247Z" fill="#418629"/>
<path d="M1420.8,246.9 1419.8,239.8 1418.3,232.1 1416.4,223.7 1414.3,214.8 1411.9,205.2 1409.4,195 1406.9,184 1404.5,172.3 1402.1,159.9 1400,146.6 1398,132.6 1396.2,117.7 1394.8,101.9 1393.9,85.2 1393.9,85.2 1393.9,85.2 1393.8,101.9 1394.5,117.8 1395.6,132.9 1397.3,147 1399.6,160.3 1402.1,172.8 1404.8,184.5 1407.5,195.4 1410.2,205.7 1412.7,215.2 1415.1,224.1 1417.1,232.3 1418.8,240 1420,247.1Z" fill="#4c8c30"/>
<path d="M1418.7,247 1419.1,241.5 1419.5,234.9 1420.1,227.1 1420.7,218.3 1421.4,208.5 1422.1,197.8 1422.8,186.2 1423.4,173.8 1424,160.6 1424.6,146.8 1424.6,132.3 1424.4,117.2 1424,101.6 1423.4,85.5 1423.4,85.5 1423.4,85.5 1422.9,101.6 1422.3,117.1 1421.7,132.2 1421,146.7 1420.7,160.5 1420.3,173.7 1419.9,186.1 1419.5,197.6 1419,208.4 1418.6,218.2 1418.3,227 1417.9,234.8 1417.7,241.5 1417.6,247Z" fill="#378024"/>
<path d="M1415.1,247 1415.2,241.9 1415.3,235.5 1415.3,228 1415.4,219.4 1415.4,209.8 1415.4,199.2 1415.5,187.8 1415.5,175.5 1415.6,162.5 1415.6,148.8 1415.5,134.5 1415.1,119.6 1414.8,104.2 1414.4,88.5 1414.4,88.5 1414.4,88.5 1413.9,104.2 1413.6,119.6 1413.3,134.5 1413.2,148.8 1413.3,162.5 1413.4,175.5 1413.6,187.8 1413.7,199.2 1413.8,209.8 1414,219.4 1414.1,228 1414.2,235.5 1414.3,241.9 1414.4,247Z" fill="#418629"/>
<path d="M1415.8,247.1 1417,240.9 1418.7,234.4 1420.7,227.3 1423.1,219.7 1425.6,211.3 1428.3,202.2 1431,192.1 1433.7,181.1 1436.1,169 1438.3,155.8 1439.9,141.2 1440.9,125.3 1441.3,108.1 1440.9,89.3 1440.9,89.3 1440.9,89.3 1440.2,108 1439.1,125.2 1437.4,141 1435.4,155.4 1433.4,168.5 1431.2,180.6 1428.8,191.6 1426.3,201.6 1423.8,210.8 1421.4,219.2 1419.3,226.9 1417.4,234.1 1415.9,240.7 1414.9,246.9Z" fill="#4c8c30"/>
<path d="M1415.6,247 1415.6,240.8 1415.4,234 1415.2,226.4 1415,218.2 1414.7,209.3 1414.4,199.6 1414.1,189.2 1413.9,178.1 1413.6,166.2 1413.1,153.6 1412.6,140.2 1412.2,126.1 1411.8,111.1 1411.5,95.3 1411.5,95.3 1411.5,95.3 1411.2,111.1 1411,126.1 1411,140.3 1411.1,153.7 1411.2,166.3 1411.6,178.2 1412.1,189.3 1412.5,199.7 1413,209.3 1413.5,218.3 1413.9,226.5 1414.3,234 1414.7,240.8 1414.9,247Z" fill="#458a2c"/>
<path d="M1416.1,246.9 1415.5,242.2 1414.7,236.4 1413.6,229.6 1412.4,221.9 1411,213.2 1409.6,203.7 1408.1,193.3 1406.7,182 1405.3,169.9 1403.8,157.1 1402.5,143.4 1401.4,129 1400.6,113.9 1400,98.1 1400,98.1 1400,98.1 1399.9,113.9 1400.2,129.1 1400.8,143.5 1401.7,157.3 1402.8,170.2 1404.3,182.3 1405.9,193.6 1407.6,204 1409.2,213.5 1410.8,222.2 1412.2,229.9 1413.5,236.6 1414.5,242.3 1415.3,247.1Z" fill="#4c8c30"/>
<path d="M1418.8,246.9 1417.9,240.5 1416.5,233.6 1414.8,226.1 1412.8,218.1 1410.6,209.4 1408.3,200.1 1406,190.1 1403.7,179.4 1401.6,168 1399.6,155.8 1397.8,142.8 1396.1,129 1394.7,114.3 1393.7,98.7 1393.7,98.7 1393.7,98.7 1393.6,114.4 1394.2,129.2 1395.3,143.1 1397.1,156.2 1399.2,168.4 1401.6,179.9 1404,190.6 1406.5,200.5 1409,209.8 1411.3,218.4 1413.5,226.4 1415.4,233.9 1416.9,240.7 1418,247.1Z" fill="#378024"/>
<path d="M1415.2,247 1415.7,242.2 1416.2,236.2 1416.9,229.2 1417.7,221.1 1418.6,212 1419.5,202.1 1420.4,191.4 1421.3,180 1422.1,167.8 1422.8,155.1 1423.1,141.8 1423.3,128.1 1423.4,114 1423.1,99.6 1423.1,99.6 1423.1,99.6 1422.6,114 1422,128.1 1421.2,141.8 1420.4,155 1419.7,167.7 1419,179.8 1418.3,191.3 1417.6,202 1416.9,211.9 1416.2,220.9 1415.6,229 1415.1,236.1 1414.7,242.1 1414.4,247Z" fill="#378024"/>
<path d="M1421.2,246.9 1420.5,241.9 1419.4,236.1 1418.1,229.6 1416.5,222.4 1414.8,214.4 1413.1,205.6 1411.2,196 1409.5,185.6 1407.6,174.2 1405.8,162 1404.1,148.7 1402.7,134.5 1401.6,119.2 1400.8,102.9 1400.8,102.9 1400.8,102.9 1400.8,119.3 1401.3,134.6 1402.2,148.9 1403.4,162.2 1404.9,174.6 1406.7,186 1408.7,196.5 1410.7,206.1 1412.8,214.9 1414.7,222.8 1416.5,230 1418.1,236.4 1419.3,242.1 1420.3,247.1Z" fill="#2b6c1a"/>
<path d="M1420.5,247.1 1421.8,242.4 1423.7,237 1426,230.7 1428.7,223.6 1431.7,215.7 1434.8,207 1437.8,197.5 1440.8,187.1 1443.5,175.9 1445.5,163.9 1447,151 1448,137.4 1448.2,122.9 1447.5,107.7 1447.5,107.7 1447.5,107.7 1447.3,122.9 1446.5,137.3 1445,150.8 1442.9,163.5 1440.5,175.3 1437.9,186.4 1435.2,196.7 1432.4,206.3 1429.6,215 1426.9,223 1424.4,230.1 1422.3,236.5 1420.6,242.1 1419.5,246.9Z" fill="#3a8024"/>
<path d="M1414.6,247.1 1415.8,242.6 1417.6,237.1 1419.7,230.7 1422.2,223.5 1424.9,215.4 1427.7,206.5 1430.6,196.9 1433.3,186.5 1435.9,175.5 1437.9,163.8 1439.5,151.5 1440.6,138.7 1441.1,125.4 1440.7,111.6 1440.7,111.6 1440.7,111.6 1440.3,125.3 1439.2,138.6 1437.7,151.3 1435.6,163.4 1433.2,175 1430.9,185.9 1428.4,196.3 1425.7,205.9 1423.1,214.8 1420.6,223 1418.3,230.3 1416.4,236.7 1414.8,242.3 1413.8,246.9Z" fill="#4c8c30"/>
<path d="M1416.1,247 1415.6,241.9 1414.8,236.3 1413.8,230.1 1412.7,223.3 1411.4,215.8 1410.1,207.6 1408.8,198.7 1407.5,189 1406.3,178.5 1405.1,167.2 1403.9,155.1 1402.8,142 1402,128 1401.5,113 1401.5,113 1401.5,113 1401.2,128 1401.4,142.1 1401.9,155.2 1402.6,167.4 1403.8,178.8 1405.2,189.3 1406.7,199 1408.2,207.9 1409.7,216.1 1411.2,223.5 1412.5,230.3 1413.6,236.5 1414.6,242 1415.3,247Z" fill="#458a2c"/>
<path d="M1419.9,247 1420.4,241.5 1421.1,235.3 1421.9,228.5 1422.8,221 1423.7,212.8 1424.8,204.1 1425.8,194.8 1426.8,185 1427.7,174.6 1428.5,163.8 1429,152.5 1429.2,140.8 1429.2,128.7 1428.8,116.3 1428.8,116.3 1428.8,116.3 1428.4,128.7 1427.8,140.8 1427.1,152.4 1426.3,163.7 1425.6,174.5 1424.9,184.8 1424,194.6 1423.2,203.9 1422.3,212.7 1421.5,220.8 1420.7,228.3 1420.1,235.2 1419.6,241.5 1419.3,247Z" fill="#3a8024"/>
<path d="M1418.7,247 1418.4,242.6 1417.9,237.8 1417.3,232.6 1416.5,226.7 1415.7,220.3 1414.9,213.1 1414,205.3 1413.2,196.6 1412.3,187 1411.2,176.5 1410.3,165 1409.5,152.4 1408.8,138.7 1408.3,123.7 1408.3,123.7 1408.3,123.7 1408,138.7 1408,152.5 1408.3,165.1 1408.7,176.7 1409.3,187.3 1410.2,196.9 1411.3,205.6 1412.4,213.5 1413.5,220.6 1414.6,227 1415.6,232.8 1416.5,238 1417.2,242.7 1417.7,247Z" fill="#72ae4c"/>
<path d="M1410.1,107.1 1410.2,103 1410.3,98.9 1410.4,94.8 1410.4,90.7 1410.3,86.6 1410.1,82.5 1409.9,78.4 1409.6,74.3 1409.6,74.3 1409.6,74.3 1409.2,78.4 1408.9,82.5 1408.6,86.6 1408.4,90.7 1408.3,94.8 1408.3,98.9 1408.4,102.9 1408.4,107Z" fill="#c2c278"/>
<path d="M1413.6,106.1 1413.6,101.6 1413.7,97.1 1413.7,92.6 1413.7,88.2 1413.5,83.7 1413.2,79.2 1413,74.7 1412.6,70.2 1412.6,70.2 1412.6,70.2 1412.3,74.7 1412.1,79.2 1411.8,83.7 1411.6,88.2 1411.6,92.6 1411.7,97.1 1411.7,101.6 1411.8,106.1Z" fill="#9aa854"/>
<path d="M1413.7,114.9 1413.6,110.4 1413.5,106 1413.4,101.5 1413.1,97.1 1412.7,92.6 1412.3,88.2 1411.9,83.8 1411.4,79.3 1411.4,79.3 1411.4,79.3 1411.2,83.8 1411.2,88.2 1411.1,92.7 1411.1,97.2 1411.2,101.6 1411.5,106.1 1411.7,110.5 1412,115Z" fill="#a9b45e"/>
<path d="M1413.8,89.6 1414.2,85.3 1414.6,80.9 1415,76.6 1415.3,72.3 1415.4,67.9 1415.5,63.6 1415.6,59.2 1415.5,54.9 1415.5,54.9 1415.5,54.9 1414.9,59.2 1414.3,63.5 1413.8,67.8 1413.2,72.1 1412.8,76.4 1412.6,80.8 1412.3,85.1 1412,89.4Z" fill="#a9b45e"/>
<path d="M1429.8,100.7 1429.8,97.3 1429.7,93.9 1429.6,90.4 1429.5,87 1429.1,83.5 1428.8,80.1 1428.4,76.7 1427.9,73.3 1427.9,73.3 1427.9,73.3 1427.7,76.7 1427.6,80.2 1427.5,83.6 1427.4,87.1 1427.5,90.5 1427.7,93.9 1427.9,97.4 1428.1,100.8Z" fill="#a9b45e"/>
<path d="M1423.2,76 1423.6,73.1 1424.1,70.2 1424.5,67.3 1424.8,64.4 1425,61.5 1425.1,58.6 1425.3,55.7 1425.3,52.7 1425.3,52.7 1425.3,52.7 1424.6,55.6 1424,58.4 1423.4,61.3 1422.8,64.2 1422.4,67.1 1422.1,70 1421.7,72.9 1421.4,75.8Z" fill="#9aa854"/>
<path d="M1415.9,95.6 1416.1,92.7 1416.4,89.9 1416.6,87 1416.8,84.1 1416.8,81.2 1416.7,78.4 1416.7,75.5 1416.5,72.6 1416.5,72.6 1416.5,72.6 1416,75.4 1415.6,78.3 1415.2,81.1 1414.7,84 1414.5,86.9 1414.4,89.7 1414.2,92.6 1414.1,95.5Z" fill="#a9b45e"/>
<path d="M1439.6,97.6 1439.9,93.2 1440.2,88.8 1440.5,84.4 1440.7,80 1440.8,75.6 1440.8,71.2 1440.8,66.7 1440.7,62.3 1440.7,62.3 1440.7,62.3 1440.2,66.7 1439.6,71.1 1439.2,75.5 1438.7,79.9 1438.4,84.3 1438.2,88.7 1438,93.1 1437.8,97.5Z" fill="#a9b45e"/>
<path d="M1438.3,78.7 1438.8,75 1439.3,71.3 1439.8,67.7 1440.2,64 1440.4,60.3 1440.7,56.6 1440.9,52.9 1441,49.2 1441,49.2 1441,49.2 1440.2,52.8 1439.5,56.4 1438.8,60.1 1438.2,63.7 1437.7,67.4 1437.3,71.1 1436.9,74.8 1436.5,78.5Z" fill="#b8bd6c"/>
<path d="M1393.6,251 L1396.8,265.5 L1436.2,265.5 L1439.4,251 Z" fill="#a95d52"/>
<ellipse cx="1416.5" cy="250.3" rx="22.9" ry="3.4" fill="#4d4a48" stroke="#c47f72" stroke-width="1.7"/>
<path d="M1411.4,250 L1409.6,222 L1411,222 L1413.2,250 Z" fill="#7fa83c"/>
<path d="M1413.4,250 L1412.4,222 L1413.8,222 L1415.2,250 Z" fill="#6a9a32"/>
<path d="M1415.4,250 L1415.2,222 L1416.6,222 L1417.2,250 Z" fill="#8cb046"/>
<path d="M1417.4,250 L1418,222 L1419.4,222 L1419.2,250 Z" fill="#5f922c"/>
<path d="M1419.4,250 L1420.8,222 L1422.2,222 L1421.2,250 Z" fill="#79a43a"/>
<path d="M1421.4,250 L1423.6,222 L1425,222 L1423.2,250 Z" fill="#6b9c34"/>
<path d="M1477,247 1476.9,237 1476.5,226.2 1475.8,214.7 1474.9,202.8 1473.7,190.6 1472.4,178.3 1470.9,166 1469.2,154 1467.5,142.2 1465.4,131.1 1463.2,120.6 1461.1,111 1458.8,102.5 1456.6,95.1 1456.6,95.1 1456.6,95.1 1458.2,102.6 1459.9,111.3 1461.7,120.9 1463.4,131.4 1465.2,142.6 1467.1,154.3 1468.9,166.3 1470.6,178.5 1472.1,190.8 1473.5,203 1474.6,214.8 1475.4,226.2 1476,237 1476.2,247Z" fill="#4f9532"/>
<path d="M1476.4,247 1476.3,239.9 1476,231.9 1475.4,223.1 1474.6,213.7 1473.6,203.7 1472.4,193.4 1471.1,182.9 1469.6,172.2 1468.1,161.6 1466.1,151.3 1464,141.2 1461.9,131.7 1459.8,122.7 1457.6,114.5 1457.6,114.5 1457.6,114.5 1459,122.9 1460.6,131.9 1462.2,141.6 1463.8,151.7 1465.3,162.1 1467.1,172.6 1468.8,183.2 1470.3,193.7 1471.7,203.9 1472.9,213.8 1473.9,223.2 1474.7,232 1475.3,239.9 1475.5,247Z" fill="#4f9532"/>
<path d="M1475.5,247 1475.4,241.4 1474.9,234.1 1474.1,225.2 1473,215.2 1471.7,204.2 1470.1,192.7 1468.5,180.9 1466.7,169.2 1464.9,157.8 1462.8,147.1 1460.7,137.3 1458.7,128.8 1456.8,121.9 1455,116.8 1455,116.8 1455,116.8 1456,122.1 1457.3,129.1 1458.7,137.7 1460.3,147.5 1462,158.3 1464,169.6 1466,181.3 1467.9,193 1469.7,204.5 1471.2,215.4 1472.6,225.4 1473.6,234.2 1474.3,241.5 1474.6,247Z" fill="#458a2c"/>
<path d="M1474.3,247 1474.2,239.8 1473.8,231.7 1473.1,223 1472.2,213.7 1471,204 1469.6,194.1 1468.1,184.1 1466.5,174 1464.7,164.1 1462.7,154.6 1460.6,145.5 1458.5,136.9 1456.4,129.1 1454.3,122.1 1454.3,122.1 1454.3,122.1 1455.7,129.3 1457.2,137.2 1458.8,145.8 1460.5,155 1462.2,164.6 1464.1,174.4 1465.9,184.4 1467.6,194.4 1469.2,204.3 1470.6,213.9 1471.7,223.1 1472.6,231.8 1473.2,239.8 1473.5,247Z" fill="#5a9e38"/>
<path d="M1472.6,247 1472.6,241.8 1472.3,235.2 1471.7,227.4 1471,218.6 1470,209.1 1469,199.2 1467.8,189.1 1466.6,179.1 1465.3,169.3 1463.8,160.2 1462.3,151.8 1460.8,144.5 1459.4,138.6 1458,134.2 1458,134.2 1458,134.2 1458.8,138.7 1459.8,144.7 1460.9,152.1 1462,160.4 1463.3,169.6 1464.7,179.3 1466.1,189.3 1467.4,199.4 1468.6,209.3 1469.7,218.7 1470.6,227.5 1471.3,235.3 1471.8,241.9 1472,247Z" fill="#30741e"/>
<path d="M1477.3,247 1477.2,242.4 1476.8,236.5 1476,229.6 1474.9,221.9 1473.5,213.5 1471.9,204.5 1470.2,195.3 1468.3,185.9 1466.4,176.5 1464,167.3 1461.6,158.6 1459.3,150.4 1456.9,143 1454.6,136.5 1454.6,136.5 1454.6,136.5 1456.1,143.2 1457.9,150.8 1459.7,159.1 1461.6,167.9 1463.6,177.1 1465.7,186.4 1467.8,195.8 1469.8,204.9 1471.6,213.8 1473.1,222.2 1474.4,229.8 1475.5,236.7 1476.1,242.4 1476.5,247Z" fill="#4c8c30"/>
<path d="M1472.1,247 1472.5,243 1473.4,238.4 1474.9,233.3 1476.8,227.7 1479,221.8 1481.6,215.6 1484.5,209.4 1487.6,203.1 1490.8,197 1494,190.9 1497.2,185.2 1500.3,179.8 1503.4,174.9 1506.3,170.6 1506.3,170.6 1506.3,170.6 1502.9,174.6 1499.4,179.2 1495.8,184.3 1492.3,190 1488.9,195.9 1485.7,202.2 1482.8,208.6 1480,215 1477.6,221.2 1475.5,227.3 1473.7,233 1472.4,238.2 1471.7,242.9 1471.4,247Z" fill="#2b6c1a"/>
<path d="M1472.8,247 1473.2,242.2 1474.1,236.8 1475.6,230.9 1477.5,224.7 1479.8,218.3 1482.5,211.9 1485.5,205.6 1488.8,199.6 1492.2,193.9 1495.6,188.7 1499,184.1 1502.5,180.3 1506.1,177.4 1509.7,175.4 1509.7,175.4 1509.7,175.4 1505.7,176.7 1501.7,179.3 1497.7,182.9 1493.8,187.3 1490,192.5 1486.6,198.4 1483.5,204.6 1480.7,211.1 1478.1,217.7 1476,224.2 1474.2,230.6 1473,236.6 1472.2,242.1 1472,247Z" fill="#458a2c"/>
<path d="M1471.9,247 1472.3,243.5 1473.4,239.2 1475.1,234.3 1477.3,228.8 1479.9,223 1482.8,217.1 1486.1,211.1 1489.5,205.4 1492.9,199.9 1496.2,194.8 1499.4,190.4 1502.4,186.7 1505.3,184 1507.8,182.3 1507.8,182.3 1507.8,182.3 1504.9,183.4 1501.6,185.8 1498.1,189.3 1494.5,193.6 1490.8,198.5 1487.4,204.2 1484.2,210.1 1481.1,216.2 1478.3,222.3 1475.8,228.2 1473.8,233.8 1472.3,238.9 1471.4,243.4 1471.1,247Z" fill="#4f9532"/>
<path d="M1477,247 1477.3,243.7 1478.2,240.2 1479.6,236.5 1481.4,232.6 1483.6,228.5 1486,224.3 1488.7,220.1 1491.7,215.8 1494.8,211.6 1497.7,207.3 1500.7,203 1503.7,198.8 1506.6,194.8 1509.3,191 1509.3,191 1509.3,191 1505.9,194.3 1502.6,197.9 1499.1,201.8 1495.7,205.8 1492.4,209.9 1489.5,214.3 1486.7,218.8 1484.1,223.2 1481.8,227.5 1479.8,231.8 1478.2,235.9 1477,239.9 1476.2,243.6 1476.1,247Z" fill="#418629"/>
<path d="M1471.8,247.1 1472.2,244.7 1473.2,241.6 1474.7,237.6 1476.7,233 1479,228.1 1481.6,222.9 1484.5,217.6 1487.5,212.4 1490.6,207.5 1493.4,202.8 1496.2,198.7 1498.8,195.4 1501.3,192.9 1503.5,191.3 1503.5,191.3 1503.5,191.3 1500.8,192.3 1497.9,194.4 1494.8,197.6 1491.6,201.5 1488.3,206.1 1485.4,211.2 1482.5,216.5 1479.8,222 1477.3,227.3 1475.2,232.4 1473.4,237.1 1472,241.2 1471.2,244.5 1471,246.9Z" fill="#2b6c1a"/>
<path d="M1476.9,247 1477.3,244.4 1478.3,241.4 1479.7,238 1481.6,234.2 1483.9,230.4 1486.4,226.4 1489.2,222.5 1492.3,218.7 1495.4,215.2 1498.4,211.8 1501.3,208.8 1504.3,206.2 1507.1,204.3 1509.9,203 1509.9,203 1509.9,203 1506.8,203.6 1503.6,205.1 1500.2,207.3 1496.8,210.1 1493.4,213.4 1490.3,217.2 1487.4,221.2 1484.7,225.3 1482.3,229.4 1480.1,233.5 1478.4,237.4 1477.1,241 1476.3,244.2 1476.1,247Z" fill="#5a9e38"/>
<path d="M1471.8,247 1472.4,240.2 1473.2,232.2 1474.3,222.9 1475.5,212.4 1476.7,200.7 1478.1,187.8 1479.4,173.8 1480.7,158.8 1481.8,142.6 1482.6,125.4 1483,107.1 1483.2,87.8 1483,67.6 1482.3,46.4 1482.3,46.4 1482.3,46.4 1482,67.6 1481.4,87.8 1480.6,107 1479.6,125.2 1478.6,142.4 1477.6,158.6 1476.6,173.6 1475.6,187.6 1474.5,200.5 1473.5,212.2 1472.5,222.7 1471.7,232 1471.1,240.1 1470.8,247Z" fill="#3a8024"/>
<path d="M1476.4,247 1477,241.1 1477.9,233.7 1479.1,225 1480.3,215 1481.7,203.6 1483.1,191 1484.5,177.1 1485.9,162.1 1487.2,145.9 1488.4,128.5 1489,110 1489.2,90.5 1489.1,70 1488.4,48.5 1488.4,48.5 1488.4,48.5 1487.8,70 1487,90.5 1486,109.9 1485,128.3 1484.1,145.7 1483,161.9 1481.9,176.9 1480.7,190.7 1479.5,203.4 1478.3,214.7 1477.3,224.8 1476.4,233.6 1475.8,241 1475.3,247Z" fill="#4c8c30"/>
<path d="M1476.7,247 1476.5,240.1 1476,232.2 1475.4,223.3 1474.7,213.4 1473.9,202.3 1473.1,190.2 1472.2,176.9 1471.4,162.4 1470.7,146.8 1469.7,129.9 1468.8,111.9 1468.1,92.6 1467.6,72 1467.2,50 1467.2,50 1467.2,50 1466.8,72 1466.7,92.6 1466.8,111.9 1467.2,130 1467.7,146.9 1468.6,162.6 1469.6,177 1470.7,190.3 1471.8,202.5 1472.8,213.5 1473.8,223.5 1474.6,232.4 1475.3,240.2 1475.8,247Z" fill="#2b6c1a"/>
<path d="M1476.4,247.1 1477.7,240.2 1479.5,232.4 1481.8,223.7 1484.5,214 1487.4,203.2 1490.4,191.3 1493.4,178.4 1496.3,164.2 1499,148.9 1501.3,132.3 1503.1,114.4 1504,95.2 1504.2,74.6 1503.5,52.7 1503.5,52.7 1503.5,52.7 1503.2,74.6 1502.1,95.1 1500.5,114.2 1498.6,132 1496.5,148.5 1494,163.8 1491.3,177.9 1488.5,190.9 1485.7,202.8 1483,213.6 1480.5,223.3 1478.3,232.1 1476.7,240 1475.6,246.9Z" fill="#66a742"/>
<path d="M1474.6,247 1474.5,239.3 1474.3,230.6 1474,220.8 1473.7,210 1473.3,198.3 1472.9,185.6 1472.5,172 1472.1,157.6 1471.8,142.3 1471.5,126.3 1471.2,109.5 1470.7,92 1470.1,73.8 1469.6,54.9 1469.6,54.9 1469.6,54.9 1469.1,73.8 1468.8,92 1468.7,109.5 1469.1,126.3 1469.6,142.4 1470.1,157.7 1470.7,172.1 1471.2,185.7 1471.8,198.3 1472.3,210.1 1472.8,220.9 1473.2,230.6 1473.6,239.4 1473.9,247Z" fill="#2b6c1a"/>
<path d="M1473,247 1473.7,240.1 1474.7,232.4 1475.8,224 1477.1,214.7 1478.5,204.6 1480,193.5 1481.5,181.4 1482.9,168.1 1484.3,153.8 1485.5,138.2 1486.3,121.3 1486.6,103.1 1486.5,83.4 1486,62.3 1486,62.3 1486,62.3 1485.5,83.4 1484.7,103 1483.7,121.2 1482.7,138 1481.7,153.6 1480.5,167.9 1479.3,181.1 1478,193.2 1476.7,204.3 1475.5,214.5 1474.4,223.8 1473.4,232.2 1472.7,239.9 1472.2,247Z" fill="#2b6c1a"/>
<path d="M1472.7,247 1472.7,239.8 1472.7,231.4 1472.6,222 1472.5,211.5 1472.4,200 1472.3,187.7 1472.2,174.4 1472.1,160.4 1472,145.6 1471.9,130.1 1471.4,114 1471,97.4 1470.6,80.2 1470.1,62.5 1470.1,62.5 1470.1,62.5 1469.6,80.2 1469.3,97.4 1469.1,114 1468.9,130.2 1469.2,145.6 1469.5,160.4 1469.8,174.5 1470.1,187.7 1470.4,200.1 1470.8,211.5 1471.1,222 1471.3,231.4 1471.6,239.8 1471.8,247Z" fill="#4f9532"/>
<path d="M1472.5,247 1473.1,241.5 1473.9,234.8 1474.8,227.1 1475.9,218.2 1477.1,208.2 1478.3,197 1479.5,184.6 1480.7,171.1 1481.8,156.3 1482.8,140.3 1483.3,123 1483.6,104.5 1483.6,84.7 1483.2,63.7 1483.2,63.7 1483.2,63.7 1482.7,84.7 1482,104.5 1481.1,123 1480,140.2 1479.1,156.1 1478.2,170.9 1477.2,184.4 1476.2,196.8 1475.2,208 1474.2,218 1473.3,226.9 1472.6,234.7 1472,241.4 1471.6,247Z" fill="#30741e"/>
<path d="M1476.4,247.1 1477.2,241.6 1478.3,235.1 1479.6,227.7 1481.1,219.1 1482.8,209.5 1484.5,198.6 1486.2,186.6 1487.9,173.3 1489.2,158.7 1490.2,142.7 1491,125.4 1491.4,106.7 1491.5,86.5 1491,64.8 1491,64.8 1491,64.8 1490.7,86.5 1490.1,106.7 1489.2,125.3 1487.9,142.6 1486.5,158.5 1485,173 1483.6,186.3 1482.1,198.3 1480.6,209.1 1479.2,218.8 1478,227.4 1476.9,234.9 1476,241.4 1475.5,246.9Z" fill="#30741e"/>
<path d="M1473.5,247 1473.1,239.6 1472.4,231.8 1471.6,223.6 1470.6,214.7 1469.5,205.1 1468.4,194.7 1467.3,183.3 1466.2,170.8 1465.2,157.1 1464.4,142 1463.3,125.5 1462.5,107.4 1462,87.6 1461.7,65.9 1461.7,65.9 1461.7,65.9 1461.1,87.6 1461,107.4 1461.2,125.6 1461.6,142.2 1462.6,157.3 1463.8,171 1465.1,183.5 1466.4,194.9 1467.7,205.3 1469,214.9 1470.2,223.7 1471.2,231.9 1472,239.7 1472.6,247Z" fill="#2b6c1a"/>
<path d="M1475.5,247.1 1476.5,241 1477.9,234 1479.6,226.1 1481.5,217.2 1483.6,207.3 1485.8,196.4 1488,184.3 1490.2,171.1 1492.3,156.8 1494.1,141.2 1495.4,124.4 1496.3,106.2 1496.7,86.8 1496.6,66 1496.6,66 1496.6,66 1495.8,86.8 1494.6,106.2 1493.1,124.2 1491.2,140.9 1489.5,156.4 1487.7,170.8 1485.7,183.9 1483.7,196 1481.7,206.9 1479.8,216.9 1478.1,225.8 1476.6,233.7 1475.4,240.8 1474.6,246.9Z" fill="#4f9532"/>
<path d="M1477.7,247 1478.2,241.1 1478.8,234.3 1479.5,226.7 1480.3,218.2 1481.2,208.6 1482.1,198 1483,186.4 1483.9,173.6 1484.7,159.6 1485.4,144.4 1485.7,127.9 1485.8,110 1485.7,90.8 1485.2,70.1 1485.2,70.1 1485.2,70.1 1484.8,90.8 1484.3,110 1483.7,127.8 1482.9,144.3 1482.3,159.5 1481.7,173.5 1481,186.3 1480.2,197.9 1479.5,208.5 1478.8,218 1478.2,226.6 1477.6,234.3 1477.2,241 1477,247Z" fill="#66a742"/>
<path d="M1477.2,247 1477.6,240.8 1478.2,233.4 1478.9,225.1 1479.6,215.6 1480.4,205.2 1481.3,193.8 1482.1,181.5 1483,168.3 1483.7,154.2 1484.1,139.2 1484.4,123.4 1484.6,106.8 1484.6,89.5 1484.3,71.5 1484.3,71.5 1484.3,71.5 1483.9,89.5 1483.4,106.8 1482.8,123.4 1482.1,139.1 1481.2,154.1 1480.6,168.2 1479.9,181.4 1479.3,193.7 1478.6,205.1 1478,215.5 1477.5,225 1477,233.4 1476.7,240.7 1476.4,247Z" fill="#418629"/>
<path d="M1473.7,247 1473.9,241.6 1474.2,235 1474.5,227.2 1474.8,218.3 1475.1,208.3 1475.5,197.2 1475.9,185.1 1476.2,172 1476.6,157.9 1476.9,142.8 1477.1,126.9 1476.8,110.2 1476.4,92.5 1475.9,74.1 1475.9,74.1 1475.9,74.1 1475.2,92.5 1474.6,110.1 1474.1,126.9 1473.9,142.8 1473.8,157.8 1473.6,171.9 1473.5,185 1473.3,197.1 1473.2,208.2 1473,218.3 1472.9,227.2 1472.8,235 1472.7,241.6 1472.7,247Z" fill="#2b6c1a"/>
<path d="M1474.5,247 1474.9,240.1 1475.5,232.9 1476.3,225.3 1477.1,217.1 1477.9,208.1 1478.9,198.4 1479.8,187.8 1480.7,176.1 1481.4,163.3 1481.8,149.1 1482,133.6 1482.1,116.6 1482,98 1481.6,77.7 1481.6,77.7 1481.6,77.7 1481.1,98 1480.6,116.6 1479.9,133.6 1479.1,149 1478.2,163.1 1477.6,175.9 1477,187.6 1476.3,198.2 1475.7,208 1475,216.9 1474.5,225.1 1474,232.8 1473.7,240.1 1473.5,247Z" fill="#3a8024"/>
<path d="M1476.2,247.1 1476.9,241.6 1477.8,235 1479,227.3 1480.4,218.6 1481.8,208.9 1483.3,198.3 1484.9,186.7 1486.3,174.2 1487.7,160.9 1488.7,146.7 1489.3,131.8 1489.5,116.2 1489.4,99.9 1488.8,83 1488.8,83 1488.8,83 1488.4,99.9 1487.8,116.1 1486.8,131.7 1485.7,146.5 1484.5,160.6 1483.4,173.9 1482.2,186.4 1480.9,198 1479.7,208.6 1478.4,218.4 1477.3,227.1 1476.4,234.8 1475.7,241.4 1475.2,246.9Z" fill="#458a2c"/>
<path d="M1473.6,247.1 1474.8,240.6 1476.5,233.6 1478.6,226 1481.1,217.7 1483.7,208.8 1486.4,199 1489.2,188.5 1491.9,177.2 1494.4,164.9 1496.3,151.6 1497.7,137.3 1498.6,122 1498.9,105.5 1498.4,88 1498.4,88 1498.4,88 1498,105.5 1497.1,121.9 1495.6,137.1 1493.7,151.2 1491.5,164.4 1489.2,176.6 1486.8,188 1484.3,198.5 1481.7,208.2 1479.3,217.2 1477.1,225.5 1475.2,233.2 1473.7,240.4 1472.7,246.9Z" fill="#378024"/>
<path d="M1472.4,247 1473.1,241.1 1474.2,234.5 1475.5,227.1 1477,218.9 1478.6,209.9 1480.3,200.1 1482,189.4 1483.6,177.8 1485.1,165.3 1486.4,151.8 1487.5,137.4 1487.9,122 1487.7,105.5 1487,88.1 1487,88.1 1487,88.1 1486.6,105.5 1485.9,121.9 1484.9,137.3 1484,151.6 1482.8,165.1 1481.5,177.5 1480,189.1 1478.5,199.8 1477,209.7 1475.5,218.7 1474.2,226.9 1473.1,234.3 1472.2,241 1471.6,247Z" fill="#4c8c30"/>
<path d="M1475.5,247 1475.5,242.2 1475.6,236.7 1475.7,230.2 1475.8,222.9 1475.9,214.6 1475.9,205.3 1476,194.9 1476.1,183.5 1476.1,170.8 1476.2,157 1476.2,141.9 1475.8,125.5 1475.5,107.8 1474.9,88.7 1474.9,88.7 1474.9,88.7 1474.4,107.8 1474,125.5 1473.7,141.9 1473.7,157 1473.8,170.8 1473.9,183.5 1474,194.9 1474.1,205.3 1474.2,214.6 1474.3,222.9 1474.4,230.2 1474.5,236.7 1474.6,242.2 1474.7,247Z" fill="#4f9532"/>
<path d="M1471.5,247 1471.5,240.1 1471.4,232.9 1471.3,225.3 1471.2,217.2 1471,208.5 1470.9,199.1 1470.7,188.9 1470.6,177.9 1470.5,165.9 1470.4,153 1470.1,138.9 1469.7,123.6 1469.3,107.1 1468.8,89.2 1468.8,89.2 1468.8,89.2 1468.3,107.1 1468,123.6 1467.7,138.9 1467.8,153 1468.1,166 1468.4,177.9 1468.7,188.9 1469.1,199.1 1469.4,208.5 1469.7,217.2 1470,225.3 1470.3,233 1470.5,240.1 1470.7,247Z" fill="#4f9532"/>
<path d="M1473.5,247 1474,241.1 1474.6,234.3 1475.4,226.8 1476.2,218.4 1477.2,209.3 1478.1,199.3 1479.1,188.6 1480.1,177.1 1481,164.8 1481.6,151.8 1482,137.9 1482.3,123.3 1482.3,107.9 1482.1,91.7 1482.1,91.7 1482.1,91.7 1481.5,107.9 1480.9,123.2 1480.1,137.8 1479.2,151.6 1478.4,164.7 1477.7,177 1476.9,188.5 1476.1,199.2 1475.4,209.1 1474.6,218.3 1474,226.6 1473.4,234.2 1473,241 1472.7,247Z" fill="#30741e"/>
<path d="M1475,246.9 1474.3,241.3 1473.2,235.1 1471.8,228.4 1470.3,221 1468.5,212.9 1466.7,203.9 1464.9,194.1 1463.1,183.3 1461.4,171.5 1459.9,158.6 1458.5,144.6 1457,129.3 1455.9,112.6 1455,94.4 1455,94.4 1455,94.4 1454.5,112.6 1454.7,129.4 1455.3,144.8 1456.6,159 1458.3,172 1460.2,183.8 1462.2,194.6 1464.3,204.4 1466.4,213.3 1468.3,221.4 1470.1,228.8 1471.7,235.4 1473,241.5 1474,247.1Z" fill="#418629"/>
<path d="M1471.7,247.1 1473.2,240.8 1475.4,233.8 1478.1,226.1 1481.2,217.7 1484.5,208.6 1488,198.9 1491.6,188.4 1495,177.3 1498.3,165.4 1501,152.8 1503.2,139.6 1504.9,125.7 1505.9,111.1 1506.1,95.8 1506.1,95.8 1506.1,95.8 1505.3,111 1503.8,125.5 1501.7,139.3 1499.1,152.5 1496.1,164.9 1492.9,176.7 1489.7,187.8 1486.3,198.3 1483,208.1 1479.8,217.2 1476.9,225.7 1474.4,233.4 1472.4,240.5 1471,246.9Z" fill="#66a742"/>
<path d="M1473,247 1472.5,241.6 1471.8,235.5 1470.9,228.7 1469.8,221.1 1468.7,212.8 1467.5,203.7 1466.2,193.8 1465,183.2 1463.9,171.7 1462.8,159.5 1461.6,146.5 1460.6,132.7 1459.8,118 1459.2,102.5 1459.2,102.5 1459.2,102.5 1459.1,118 1459.3,132.7 1459.8,146.6 1460.5,159.7 1461.7,172 1463,183.4 1464.3,194.1 1465.7,203.9 1467.1,213 1468.4,221.3 1469.7,228.9 1470.7,235.7 1471.6,241.7 1472.3,247Z" fill="#458a2c"/>
<path d="M1471.7,247 1472.1,240.9 1472.6,234.1 1473.2,226.6 1473.9,218.4 1474.7,209.5 1475.5,200 1476.3,189.9 1477.1,179.3 1477.8,168 1478.5,156.2 1478.8,143.9 1478.8,131.1 1478.7,117.9 1478.4,104.2 1478.4,104.2 1478.4,104.2 1477.8,117.9 1477.1,131.1 1476.4,143.9 1475.6,156.1 1475.1,167.9 1474.6,179.1 1474,189.8 1473.4,199.9 1472.8,209.4 1472.2,218.2 1471.7,226.5 1471.3,234 1471,240.8 1470.8,247Z" fill="#66a742"/>
<path d="M1472.5,247 1472.6,241.5 1472.7,235.2 1472.8,228 1472.9,220.1 1473.1,211.4 1473.2,202.1 1473.3,192 1473.4,181.4 1473.5,170.1 1473.5,158.3 1473.2,146 1472.9,133.2 1472.5,120 1472.1,106.3 1472.1,106.3 1472.1,106.3 1471.6,120 1471.2,133.2 1470.9,146 1470.6,158.3 1470.6,170.1 1470.7,181.4 1470.8,192 1470.9,202.1 1471,211.4 1471.1,220.1 1471.2,228 1471.3,235.2 1471.4,241.5 1471.5,247Z" fill="#418629"/>
<path d="M1476.1,247 1476.3,241.3 1476.5,235.3 1476.8,228.7 1477.1,221.7 1477.4,214.1 1477.8,205.8 1478.1,196.8 1478.4,187.1 1478.7,176.6 1479,165.2 1478.9,152.8 1478.6,139.5 1478.2,125.1 1477.6,109.5 1477.6,109.5 1477.6,109.5 1477,125.1 1476.5,139.5 1476,152.8 1475.7,165.1 1475.7,176.5 1475.6,187.1 1475.5,196.8 1475.4,205.7 1475.3,214 1475.2,221.6 1475.1,228.7 1475.1,235.2 1475.1,241.3 1475.1,247Z" fill="#458a2c"/>
<path d="M1474.3,246.9 1473.8,242.9 1473,238 1472.1,232.2 1471,225.6 1469.7,218.1 1468.4,209.7 1467.1,200.4 1465.9,190.3 1464.7,179.3 1463.6,167.5 1462.3,154.8 1461.3,141.2 1460.5,126.7 1459.9,111.4 1459.9,111.4 1459.9,111.4 1459.5,126.8 1459.5,141.3 1459.9,154.9 1460.6,167.7 1461.7,179.6 1463.1,190.6 1464.6,200.8 1466.2,210 1467.7,218.4 1469.1,225.9 1470.5,232.5 1471.7,238.2 1472.6,243.1 1473.3,247.1Z" fill="#378024"/>
<path d="M1492.2,81.6 1492.7,78.4 1493.2,75.2 1493.7,72 1494.2,68.8 1494.4,65.6 1494.7,62.4 1494.9,59.2 1495,55.9 1495,55.9 1495,55.9 1494.2,59.1 1493.5,62.2 1492.8,65.4 1492.2,68.5 1491.6,71.7 1491.2,74.9 1490.8,78.1 1490.4,81.3Z" fill="#b8bd6c"/>
<path d="M1499.3,120.5 1499.4,115.9 1499.6,111.3 1499.7,106.7 1499.8,102.1 1499.6,97.5 1499.5,92.9 1499.3,88.3 1499.1,83.7 1499.1,83.7 1499.1,83.7 1498.7,88.3 1498.3,92.9 1498,97.5 1497.7,102.1 1497.6,106.7 1497.6,111.3 1497.5,115.9 1497.5,120.5Z" fill="#a9b45e"/>
<path d="M1480.4,115.5 1480.5,110.7 1480.6,106 1480.7,101.2 1480.6,96.5 1480.5,91.8 1480.3,87 1480,82.3 1479.7,77.5 1479.7,77.5 1479.7,77.5 1479.4,82.3 1479.1,87 1478.8,91.7 1478.6,96.5 1478.5,101.2 1478.6,106 1478.6,110.7 1478.6,115.5Z" fill="#9aa854"/>
<path d="M1497.9,79.5 1497.9,75.7 1498,71.9 1498,68.1 1497.9,64.3 1497.7,60.5 1497.5,56.7 1497.2,52.9 1496.8,49.2 1496.8,49.2 1496.8,49.2 1496.5,52.9 1496.3,56.7 1496.1,60.5 1495.9,64.3 1495.9,68.1 1495.9,71.9 1496,75.7 1496.1,79.5Z" fill="#a9b45e"/>
<path d="M1467.5,84.3 1466.9,80.9 1466.3,77.5 1465.7,74.2 1465,70.8 1464.1,67.5 1463.3,64.2 1462.4,60.9 1461.4,57.6 1461.4,57.6 1461.4,57.6 1461.7,61 1462.1,64.4 1462.6,67.8 1463,71.2 1463.6,74.6 1464.3,77.9 1465.1,81.3 1465.8,84.6Z" fill="#c2c278"/>
<path d="M1462.7,111.8 1462.4,107.7 1462.1,103.6 1461.8,99.4 1461.4,95.3 1460.8,91.2 1460.2,87.1 1459.6,83 1458.9,78.9 1458.9,78.9 1458.9,78.9 1458.9,83 1459,87.2 1459.2,91.3 1459.3,95.5 1459.7,99.6 1460.1,103.7 1460.5,107.9 1460.9,112Z" fill="#a9b45e"/>
<path d="M1464.6,83 1463.9,78.6 1463.2,74.3 1462.6,69.9 1461.8,65.6 1460.9,61.3 1459.9,57 1458.9,52.7 1457.9,48.4 1457.9,48.4 1457.9,48.4 1458.3,52.8 1458.8,57.2 1459.3,61.6 1459.8,65.9 1460.5,70.3 1461.3,74.6 1462.1,78.9 1462.9,83.3Z" fill="#b8bd6c"/>
<path d="M1469.5,86.7 1469.9,83.3 1470.2,79.9 1470.6,76.4 1470.9,73 1470.9,69.5 1471,66.1 1471.1,62.6 1471,59.1 1471,59.1 1471,59.1 1470.4,62.5 1469.8,66 1469.3,69.4 1468.8,72.8 1468.5,76.2 1468.3,79.7 1468,83.1 1467.8,86.6Z" fill="#b8bd6c"/>
<path d="M1467.6,99.5 1467.6,95.7 1467.7,91.9 1467.7,88.1 1467.6,84.3 1467.3,80.5 1467,76.7 1466.7,72.9 1466.3,69.1 1466.3,69.1 1466.3,69.1 1466,72.9 1465.8,76.7 1465.7,80.5 1465.5,84.3 1465.5,88.2 1465.6,92 1465.8,95.8 1465.9,99.6Z" fill="#9aa854"/>
<path d="M1471.7,91.2 1472,86.7 1472.3,82.2 1472.6,77.7 1472.7,73.2 1472.7,68.7 1472.7,64.1 1472.7,59.6 1472.5,55.1 1472.5,55.1 1472.5,55.1 1472,59.6 1471.5,64.1 1471.1,68.6 1470.7,73.1 1470.4,77.6 1470.3,82.1 1470.1,86.6 1470,91.1Z" fill="#b8bd6c"/>
<path d="M1469.8,89.1 1469.3,85.9 1468.9,82.7 1468.4,79.5 1467.8,76.4 1467.1,73.2 1466.3,70 1465.5,66.9 1464.7,63.8 1464.7,63.8 1464.7,63.8 1464.9,67 1465.2,70.2 1465.5,73.5 1465.8,76.7 1466.3,79.9 1466.9,83.1 1467.5,86.3 1468.1,89.4Z" fill="#b8bd6c"/>
<path d="M1447.4,251 L1450.6,265.5 L1492.6,265.5 L1495.8,251 Z" fill="#a95d52"/>
<ellipse cx="1471.6" cy="250.3" rx="24.2" ry="3.4" fill="#4d4a48" stroke="#c47f72" stroke-width="1.7"/>
<path d="M1468.1,250 L1466.3,222 L1467.7,222 L1469.9,250 Z" fill="#7fa83c"/>
<path d="M1470.1,250 L1469.1,222 L1470.5,222 L1471.9,250 Z" fill="#6a9a32"/>
<path d="M1472.1,250 L1471.9,222 L1473.3,222 L1473.9,250 Z" fill="#8cb046"/>
<path d="M1474.1,250 L1474.7,222 L1476.1,222 L1475.9,250 Z" fill="#5f922c"/>
<path d="M1476.1,250 L1477.5,222 L1478.9,222 L1477.9,250 Z" fill="#79a43a"/>
<path d="M1478.1,250 L1480.3,222 L1481.7,222 L1479.9,250 Z" fill="#6b9c34"/>
<path d="M1529.3,247 1529.6,237.2 1530.4,225.5 1531.5,212.3 1533,197.9 1534.6,182.8 1536.5,167.2 1538.5,151.4 1540.6,136 1542.7,121.1 1544.4,107.1 1546,94.4 1547.5,83.4 1548.6,74.3 1549.4,67.6 1549.4,67.6 1549.4,67.6 1548,74.2 1546.3,83.2 1544.4,94.2 1542.4,106.8 1540.3,120.8 1538.4,135.7 1536.5,151.2 1534.7,167 1533,182.6 1531.5,197.8 1530.2,212.2 1529.3,225.4 1528.7,237.1 1528.6,247Z" fill="#66a742"/>
<path d="M1529.8,247 1530.1,237.3 1530.9,226.1 1532.1,213.7 1533.6,200.3 1535.4,186.2 1537.4,171.6 1539.6,156.9 1541.9,142.3 1544.2,128.1 1546.2,114.4 1548,101.7 1549.8,90.1 1551.3,79.9 1552.4,71.4 1552.4,71.4 1552.4,71.4 1550.5,79.8 1548.5,89.9 1546.3,101.4 1543.9,114.1 1541.6,127.7 1539.5,142 1537.4,156.6 1535.4,171.4 1533.6,185.9 1532,200.1 1530.7,213.5 1529.7,226 1529.1,237.3 1529,247Z" fill="#4c8c30"/>
<path d="M1533.1,247 1533.1,236.9 1532.7,224.7 1532,211 1531.1,196.1 1530,180.4 1528.7,164.4 1527.2,148.5 1525.5,133 1523.8,118.4 1521.6,105.2 1519.4,93.8 1517.1,84.5 1514.8,77.7 1512.5,74.1 1512.5,74.1 1512.5,74.1 1514.1,78 1515.8,84.8 1517.5,94.1 1519.3,105.6 1521,118.8 1523,133.3 1524.8,148.7 1526.5,164.6 1528.1,180.6 1529.4,196.2 1530.6,211.1 1531.4,224.8 1532,236.9 1532.3,247Z" fill="#72ae4c"/>
<path d="M1530,247 1530.3,239.9 1531,230.3 1532.2,218.7 1533.6,205.6 1535.2,191.3 1537,176.3 1539,161.1 1541,146.1 1543,131.7 1544.7,118.4 1546.2,106.6 1547.6,96.7 1548.7,89.2 1549.4,84.5 1549.4,84.5 1549.4,84.5 1548,89.1 1546.4,96.5 1544.6,106.3 1542.6,118.1 1540.6,131.4 1538.7,145.8 1536.9,160.8 1535.1,176.1 1533.5,191.1 1532,205.4 1530.8,218.6 1529.9,230.2 1529.4,239.8 1529.2,247Z" fill="#72ae4c"/>
<path d="M1528.7,247 1528.6,236.8 1528,226 1527.2,214.8 1526,203.2 1524.6,191.2 1522.9,179.1 1521.1,166.9 1519.2,154.6 1517.2,142.4 1514.9,130.4 1512.7,118.6 1510.5,107.1 1508.4,96 1506.3,85.4 1506.3,85.4 1506.3,85.4 1507.7,96.1 1509.3,107.3 1511,118.8 1512.9,130.7 1514.8,142.8 1517,155 1519.1,167.2 1521.1,179.4 1522.9,191.5 1524.5,203.3 1525.9,214.9 1526.9,226.1 1527.6,236.8 1527.9,247Z" fill="#72ae4c"/>
<path d="M1531.8,247 1532.1,237.8 1532.9,227.3 1534.1,215.8 1535.6,203.4 1537.4,190.4 1539.4,177.1 1541.6,163.6 1543.8,150.4 1546.2,137.5 1548.2,125.2 1550.1,113.8 1551.9,103.5 1553.5,94.6 1554.8,87.3 1554.8,87.3 1554.8,87.3 1552.9,94.5 1550.8,103.3 1548.5,113.5 1546.2,124.8 1543.8,137.1 1541.6,150 1539.6,163.3 1537.6,176.8 1535.7,190.1 1534.1,203.2 1532.8,215.6 1531.8,227.2 1531.2,237.8 1531,247Z" fill="#458a2c"/>
<path d="M1532.8,247 1532.6,236.3 1532.1,224.2 1531.2,211 1529.9,197 1528.3,182.6 1526.5,168 1524.5,153.6 1522.3,139.8 1520,126.8 1517.3,115.2 1514.6,105 1511.8,96.8 1509.1,90.8 1506.4,87.5 1506.4,87.5 1506.4,87.5 1508.4,91.1 1510.6,97.2 1512.9,105.5 1515.2,115.7 1517.4,127.4 1519.9,140.2 1522.3,154 1524.5,168.3 1526.5,182.8 1528.3,197.2 1529.8,211.1 1530.9,224.3 1531.6,236.4 1532,247Z" fill="#378024"/>
<path d="M1528.9,247 1529.3,238.6 1530.1,229.2 1531.4,218.8 1533,207.7 1534.9,195.9 1537.1,183.7 1539.5,171.2 1542,158.6 1544.6,145.9 1546.9,133.3 1549.2,121 1551.4,109.2 1553.4,98 1555.2,87.5 1555.2,87.5 1555.2,87.5 1552.6,97.8 1550,108.9 1547.3,120.6 1544.5,132.8 1541.8,145.3 1539.4,158.1 1537.1,170.8 1534.9,183.4 1533,195.6 1531.3,207.4 1529.9,218.6 1528.8,229.1 1528.2,238.6 1528,247Z" fill="#2b6c1a"/>
<path d="M1527.7,247 1527.6,238.2 1527.2,227.8 1526.5,216.2 1525.5,203.7 1524.3,190.4 1523,176.8 1521.4,163.1 1519.7,149.6 1517.9,136.5 1515.8,124.3 1513.6,113.1 1511.4,103.2 1509.2,94.9 1507,88.6 1507,88.6 1507,88.6 1508.5,95.1 1510.3,103.4 1512,113.4 1513.8,124.6 1515.6,136.9 1517.5,149.9 1519.4,163.4 1521.1,177 1522.7,190.6 1524.1,203.8 1525.2,216.3 1526.1,227.9 1526.7,238.2 1527,247Z" fill="#66a742"/>
<path d="M1532.7,247 1532.5,240.6 1531.9,232.2 1530.9,222.1 1529.6,210.7 1528,198.2 1526.1,185.1 1524,171.6 1521.8,158.1 1519.5,144.8 1516.9,132.2 1514.2,120.5 1511.6,110.1 1509,101.2 1506.6,94.3 1506.6,94.3 1506.6,94.3 1508.4,101.4 1510.4,110.3 1512.6,120.8 1514.8,132.6 1517.1,145.2 1519.6,158.4 1522,171.9 1524.3,185.4 1526.3,198.5 1528.1,210.9 1529.7,222.2 1530.8,232.3 1531.6,240.6 1531.9,247Z" fill="#4c8c30"/>
<path d="M1532.9,247 1533.2,237.3 1533.8,226.6 1534.7,215.1 1535.9,203 1537.4,190.5 1539,177.9 1540.8,165.4 1542.8,153.2 1544.8,141.4 1546.6,130.3 1548.4,120.1 1550.1,111.1 1551.8,103.3 1553.4,97.1 1553.4,97.1 1553.4,97.1 1551,103.1 1548.7,110.7 1546.4,119.7 1544.1,129.9 1541.9,140.9 1540,152.8 1538.3,165.1 1536.7,177.7 1535.3,190.3 1534.1,202.8 1533.1,214.9 1532.4,226.5 1532,237.2 1532,247Z" fill="#2b6c1a"/>
<path d="M1530.3,247 1530.2,240.2 1529.8,231.8 1529,222.1 1527.9,211.4 1526.7,199.9 1525.3,187.9 1523.8,175.6 1522.2,163.3 1520.7,151.2 1518.9,139.6 1517.1,128.7 1515.5,118.8 1514.1,110.1 1512.8,102.8 1512.8,102.8 1512.8,102.8 1513.4,110.1 1514.3,118.9 1515.5,128.9 1516.8,139.9 1518.3,151.5 1520,163.6 1521.8,175.9 1523.5,188.2 1525.1,200.1 1526.5,211.6 1527.7,222.2 1528.7,231.9 1529.3,240.2 1529.6,247Z" fill="#66a742"/>
<path d="M1527.7,247 1528.2,240.1 1528.9,232.1 1529.8,223 1530.8,212.8 1531.8,201.5 1533,189.2 1534.1,175.8 1535.2,161.5 1536.2,146.1 1537.1,129.8 1537.7,112.6 1537.9,94.4 1537.9,75.3 1537.6,55.4 1537.6,55.4 1537.6,55.4 1537.1,75.3 1536.5,94.4 1535.8,112.5 1534.9,129.7 1534.1,146 1533.3,161.4 1532.3,175.7 1531.4,189 1530.4,201.4 1529.5,212.6 1528.7,222.9 1528,232 1527.4,240.1 1527,247Z" fill="#5a9e38"/>
<path d="M1530.2,247 1531,240.2 1532.2,232.1 1533.6,222.7 1535.2,212.1 1536.9,200.4 1538.8,187.7 1540.6,173.9 1542.5,159.3 1544.2,143.8 1545.5,127.5 1546.6,110.5 1547.4,92.8 1547.9,74.6 1547.9,55.8 1547.9,55.8 1547.9,55.8 1547.2,74.6 1546.3,92.7 1545,110.4 1543.5,127.3 1541.8,143.6 1540.2,159 1538.6,173.7 1536.9,187.4 1535.3,200.2 1533.7,211.9 1532.3,222.5 1531.1,231.9 1530.1,240.1 1529.4,247Z" fill="#30741e"/>
<path d="M1533.3,247 1533.6,240.6 1533.8,232.9 1534.2,224 1534.5,213.9 1534.9,202.7 1535.3,190.4 1535.6,177 1536,162.6 1536.3,147.2 1536.3,130.8 1536.3,113.5 1536.2,95.3 1536.1,76.3 1535.8,56.4 1535.8,56.4 1535.8,56.4 1535.4,76.3 1535,95.3 1534.6,113.5 1534.2,130.8 1533.7,147.2 1533.5,162.6 1533.3,177 1533.2,190.4 1533,202.7 1532.8,213.9 1532.7,223.9 1532.6,232.8 1532.5,240.5 1532.5,247Z" fill="#2b6c1a"/>
<path d="M1528.9,247 1529.1,241 1529.4,233.5 1529.7,224.7 1530,214.6 1530.3,203.3 1530.7,190.9 1531,177.3 1531.4,162.8 1531.7,147.3 1531.7,131 1531.7,113.9 1531.6,96 1531.4,77.5 1531.1,58.4 1531.1,58.4 1531.1,58.4 1530.7,77.5 1530.3,96 1529.9,113.8 1529.5,131 1529.1,147.3 1528.9,162.8 1528.8,177.3 1528.7,190.8 1528.5,203.3 1528.4,214.6 1528.3,224.7 1528.2,233.5 1528.1,241 1528.1,247Z" fill="#3a8024"/>
<path d="M1532.7,246.9 1531.8,240.9 1530.5,233.5 1528.8,224.9 1526.8,215.1 1524.7,204.1 1522.4,191.9 1520.1,178.6 1517.9,164.3 1515.8,149 1514,132.7 1512.1,115.5 1510.5,97.4 1509.3,78.4 1508.6,58.6 1508.6,58.6 1508.6,58.6 1508.3,78.4 1508.8,97.5 1509.7,115.7 1511.1,133 1513.2,149.3 1515.5,164.7 1517.9,179 1520.4,192.3 1522.8,204.4 1525.2,215.4 1527.4,225.2 1529.2,233.8 1530.8,241.1 1531.9,247.1Z" fill="#30741e"/>
<path d="M1532.3,247 1533,240.6 1534,232.8 1535.2,223.7 1536.6,213.4 1538.1,201.9 1539.6,189.4 1541.2,175.9 1542.8,161.6 1544.2,146.3 1545.5,130.3 1546.4,113.6 1547,96.3 1547.2,78.5 1547,60.2 1547,60.2 1547,60.2 1546.4,78.5 1545.6,96.3 1544.6,113.5 1543.3,130.2 1542.2,146.2 1540.9,161.4 1539.5,175.8 1538.1,189.2 1536.7,201.7 1535.3,213.2 1534.1,223.5 1533.1,232.6 1532.2,240.5 1531.7,247Z" fill="#2b6c1a"/>
<path d="M1532.5,247 1533.3,239.3 1534.3,230.7 1535.5,221.2 1536.9,210.8 1538.4,199.5 1540,187.4 1541.6,174.4 1543.1,160.7 1544.6,146.2 1545.7,131 1546.5,115 1547,98.3 1547.2,80.9 1547,62.9 1547,62.9 1547,62.9 1546.3,80.9 1545.5,98.2 1544.4,114.8 1543.1,130.8 1541.8,146 1540.5,160.5 1539.2,174.2 1537.8,187.1 1536.5,199.3 1535.2,210.5 1534,221 1533,230.6 1532.2,239.2 1531.7,247Z" fill="#66a742"/>
<path d="M1531,246.9 1530.1,240.6 1528.8,233.2 1527.2,224.7 1525.2,215.2 1523.1,204.7 1520.9,193.2 1518.6,180.7 1516.5,167.2 1514.4,152.8 1512.3,137.4 1510.5,121.1 1509.1,103.8 1508.2,85.6 1507.7,66.4 1507.7,66.4 1507.7,66.4 1507.5,85.6 1507.9,103.8 1508.8,121.2 1510.2,137.6 1511.9,153.1 1514,167.6 1516.4,181.1 1518.9,193.6 1521.3,205.1 1523.6,215.6 1525.8,225 1527.6,233.4 1529.2,240.8 1530.2,247.1Z" fill="#418629"/>
<path d="M1531.2,246.9 1530.4,241.7 1529.2,235.6 1527.7,228.5 1525.9,220.4 1523.9,211.2 1521.9,200.9 1519.8,189.4 1517.8,176.6 1515.8,162.5 1513.7,147 1511.9,130 1510.4,111.5 1509.3,91.4 1508.5,69.6 1508.5,69.6 1508.5,69.6 1508.5,91.4 1509.1,111.6 1510,130.2 1511.4,147.2 1513,162.9 1515,177 1517.3,189.9 1519.6,201.4 1521.9,211.7 1524.1,220.8 1526.1,228.9 1527.8,235.9 1529.3,241.9 1530.3,247.1Z" fill="#3a8024"/>
<path d="M1533.8,246.9 1533.2,240.7 1532.3,233.3 1531.1,224.8 1529.8,215.2 1528.4,204.6 1526.8,193 1525.3,180.5 1523.8,167.2 1522.4,153.2 1521.2,138.4 1520.2,123 1518.9,107.1 1517.8,90.6 1516.9,73.6 1516.9,73.6 1516.9,73.6 1516.2,90.6 1516.2,107.2 1516.6,123.2 1517.9,138.7 1519.3,153.5 1521,167.6 1522.7,180.9 1524.4,193.3 1526.2,204.9 1527.9,215.5 1529.4,225 1530.8,233.5 1531.9,240.9 1532.7,247.1Z" fill="#66a742"/>
<path d="M1528.9,247 1529.5,240.4 1530.4,233.2 1531.4,225.4 1532.6,216.8 1533.9,207.5 1535.3,197.3 1536.6,186.1 1538,173.9 1539.3,160.6 1540.4,146.1 1541.3,130.3 1541.6,113.2 1541.6,94.6 1541.3,74.6 1541.3,74.6 1541.3,74.6 1540.4,94.6 1539.5,113.1 1538.3,130.1 1537.4,145.9 1536.4,160.4 1535.3,173.6 1534.2,185.8 1533.1,197 1531.9,207.2 1530.8,216.6 1529.8,225.2 1529,233 1528.3,240.3 1527.9,247Z" fill="#5a9e38"/>
<path d="M1533.4,246.9 1532.4,240.6 1531,233.7 1529.2,226.3 1527.1,218.3 1524.8,209.4 1522.4,199.7 1519.9,189 1517.5,177.2 1515.2,164.2 1512.9,149.8 1510.8,134.1 1509.1,116.8 1507.7,97.8 1506.9,77 1506.9,77 1506.9,77 1507,97.8 1507.7,116.9 1509,134.3 1510.6,150.1 1512.7,164.6 1515.1,177.6 1517.8,189.5 1520.4,200.2 1523,209.9 1525.5,218.7 1527.8,226.7 1529.8,234 1531.4,240.8 1532.6,247.1Z" fill="#4f9532"/>
<path d="M1529.5,247 1530,241.3 1530.7,234.9 1531.5,227.6 1532.5,219.6 1533.5,210.5 1534.5,200.5 1535.6,189.5 1536.6,177.3 1537.6,164 1538.2,149.4 1538.6,133.5 1538.8,116.2 1538.9,97.5 1538.6,77.4 1538.6,77.4 1538.6,77.4 1538,97.5 1537.2,116.2 1536.4,133.4 1535.4,149.2 1534.3,163.8 1533.6,177.1 1532.8,189.3 1532,200.3 1531.2,210.3 1530.5,219.4 1529.8,227.5 1529.2,234.7 1528.8,241.2 1528.5,247Z" fill="#30741e"/>
<path d="M1530.6,247 1530.8,240.1 1531.1,232.2 1531.4,223.5 1531.7,214 1532.1,203.7 1532.4,192.6 1532.8,180.7 1533.1,168.2 1533.3,155 1533.4,141.1 1533.3,126.6 1533.3,111.5 1533.1,95.9 1532.8,79.7 1532.8,79.7 1532.8,79.7 1532.5,95.9 1532.3,111.5 1531.9,126.6 1531.6,141.1 1531.2,154.9 1530.9,168.1 1530.7,180.7 1530.6,192.5 1530.4,203.6 1530.2,214 1530.1,223.5 1530,232.2 1529.9,240 1529.9,247Z" fill="#30741e"/>
<path d="M1529.7,247 1530.1,240.8 1530.6,233.6 1531.1,225.4 1531.8,216.4 1532.4,206.5 1533.1,195.8 1533.9,184.3 1534.6,172.2 1535.2,159.3 1535.8,145.9 1536.4,131.8 1536.3,117.2 1536.1,102.2 1535.6,86.6 1535.6,86.6 1535.6,86.6 1534.9,102.1 1534.2,117.2 1533.5,131.8 1533.1,145.8 1532.7,159.2 1532.2,172.1 1531.7,184.2 1531.2,195.7 1530.7,206.4 1530.2,216.3 1529.7,225.3 1529.3,233.5 1529,240.7 1528.9,247Z" fill="#4c8c30"/>
<path d="M1531.6,247 1531.7,241.3 1531.7,234.6 1531.8,226.8 1531.8,218.1 1531.9,208.5 1531.9,198 1531.9,186.8 1531.9,174.7 1531.9,161.9 1531.5,148.5 1531.1,134.4 1530.8,119.7 1530.4,104.5 1529.9,88.8 1529.9,88.8 1529.9,88.8 1529.5,104.5 1529.1,119.7 1528.9,134.4 1528.6,148.5 1528.5,162 1528.6,174.7 1528.8,186.8 1529.1,198.1 1529.4,208.5 1529.6,218.1 1529.9,226.8 1530.1,234.6 1530.3,241.3 1530.5,247Z" fill="#4f9532"/>
<path d="M1528.4,247 1528.5,240 1528.5,232.5 1528.6,224.2 1528.6,215.3 1528.7,205.8 1528.7,195.7 1528.8,184.9 1528.8,173.5 1528.9,161.4 1528.8,148.8 1528.5,135.5 1528.1,121.6 1527.7,107.1 1527.3,92 1527.3,92 1527.3,92 1526.8,107.1 1526.5,121.6 1526.2,135.5 1526,148.8 1526,161.4 1526.2,173.5 1526.4,184.9 1526.5,195.7 1526.7,205.8 1526.9,215.3 1527,224.2 1527.2,232.5 1527.3,240.1 1527.5,247Z" fill="#458a2c"/>
<path d="M1528.5,247 1528.2,241.1 1527.6,234.4 1527,226.7 1526.2,218.1 1525.3,208.7 1524.4,198.6 1523.5,187.6 1522.6,176 1521.7,163.6 1520.6,150.7 1519.7,137.1 1519,122.9 1518.4,108.2 1517.9,93 1517.9,93 1517.9,93 1517.7,108.2 1517.8,123 1518.2,137.2 1518.7,150.8 1519.4,163.8 1520.3,176.2 1521.4,187.8 1522.5,198.7 1523.6,208.9 1524.7,218.3 1525.6,226.8 1526.5,234.5 1527.2,241.2 1527.8,247Z" fill="#30741e"/>
<path d="M1529.7,247 1530.4,241.6 1531.4,235.2 1532.6,227.8 1534,219.6 1535.5,210.5 1537.1,200.6 1538.7,189.9 1540.2,178.4 1541.7,166.1 1543,153.1 1544.1,139.3 1544.6,124.9 1544.7,109.9 1544.3,94.2 1544.3,94.2 1544.3,94.2 1543.8,109.9 1542.9,124.9 1541.9,139.2 1540.9,152.9 1539.8,165.9 1538.4,178.2 1537,189.7 1535.6,200.4 1534.1,210.3 1532.8,219.4 1531.5,227.7 1530.4,235 1529.6,241.5 1529,247Z" fill="#5a9e38"/>
<path d="M1532.9,246.9 1532.1,240.9 1530.9,234.3 1529.3,227.1 1527.5,219.3 1525.5,210.8 1523.4,201.6 1521.4,191.6 1519.4,180.8 1517.6,169.2 1516.1,156.6 1514.9,143.2 1513.7,128.8 1512.9,113.3 1512.6,96.7 1512.6,96.7 1512.6,96.7 1511.8,113.3 1511.7,128.8 1512.2,143.4 1513.6,156.9 1515.3,169.5 1517.2,181.2 1519.4,192 1521.6,202 1523.9,211.2 1526,219.7 1528,227.4 1529.7,234.6 1531.1,241.1 1532.1,247.1Z" fill="#458a2c"/>
<path d="M1528.2,247 1528.5,242.7 1528.9,237.6 1529.3,231.6 1529.8,224.7 1530.3,216.9 1530.9,208.2 1531.4,198.3 1531.9,187.5 1532.4,175.5 1532.6,162.4 1532.6,148.1 1532.5,132.6 1532.3,115.8 1532,97.7 1532,97.7 1532,97.7 1531.5,115.8 1531,132.6 1530.5,148.1 1529.9,162.3 1529.3,175.4 1529,187.4 1528.8,198.2 1528.5,208 1528.2,216.8 1527.9,224.6 1527.6,231.5 1527.4,237.5 1527.3,242.7 1527.3,247Z" fill="#2b6c1a"/>
<path d="M1529.6,246.9 1528.7,242.7 1527.5,237.8 1526,232 1524.2,225.4 1522.2,217.9 1520.1,209.5 1518,200.2 1516,190 1514.1,178.7 1512.3,166.4 1510.9,153.1 1509.2,138.7 1507.9,123.2 1506.9,106.6 1506.9,106.6 1506.9,106.6 1506.5,123.3 1506.8,138.9 1507.7,153.4 1509.4,166.8 1511.3,179.1 1513.5,190.4 1515.7,200.7 1518,210.1 1520.3,218.4 1522.4,225.9 1524.4,232.4 1526.2,238.1 1527.6,243 1528.6,247.1Z" fill="#30741e"/>
<path d="M1531.3,247 1532,241.6 1532.9,235.6 1534.1,229.1 1535.4,222 1536.8,214.2 1538.3,205.7 1539.8,196.4 1541.2,186.4 1542.6,175.5 1543.8,163.8 1544.4,151.1 1544.7,137.5 1544.6,122.9 1544.1,107.3 1544.1,107.3 1544.1,107.3 1543.7,122.9 1543,137.5 1542.1,151 1540.9,163.6 1539.9,175.3 1538.8,186.1 1537.5,196.1 1536.2,205.3 1534.9,213.8 1533.7,221.7 1532.6,228.8 1531.6,235.4 1530.9,241.5 1530.4,247Z" fill="#4c8c30"/>
<path d="M1533.6,246.9 1532.8,241.8 1531.6,236.3 1530.1,230.4 1528.4,224 1526.5,217 1524.5,209.5 1522.5,201.2 1520.6,192.1 1518.8,182.1 1516.9,171.3 1515.4,159.3 1514.2,146.3 1513.5,132 1513.2,116.3 1513.2,116.3 1513.2,116.3 1512.8,132 1513,146.3 1513.7,159.5 1514.8,171.5 1516.3,182.6 1518.2,192.6 1520.3,201.7 1522.5,210 1524.7,217.6 1526.8,224.4 1528.8,230.8 1530.5,236.6 1531.8,242 1532.8,247.1Z" fill="#72ae4c"/>
<path d="M1527.8,247.1 1528.9,242.4 1530.4,237.2 1532.4,231.5 1534.6,225.1 1537,218 1539.5,210.3 1542,201.8 1544.5,192.5 1546.7,182.3 1548.3,171.3 1549.5,159.3 1550.3,146.4 1550.4,132.5 1549.7,117.6 1549.7,117.6 1549.7,117.6 1549.7,132.5 1549.1,146.3 1547.9,159.1 1546.3,171 1544.3,181.9 1542.3,192 1540.1,201.2 1537.7,209.8 1535.4,217.5 1533.2,224.6 1531.1,231.1 1529.4,236.9 1528,242.2 1527.1,246.9Z" fill="#418629"/>
<path d="M1529,247.1 1530.3,243 1532.2,237.9 1534.5,232 1537.2,225.2 1540.2,217.6 1543.2,209.1 1546.3,200 1549.2,190.1 1552,179.6 1554.4,168.4 1556,156.6 1556.9,144.2 1557.1,131.4 1556.4,118.2 1556.4,118.2 1556.4,118.2 1555.9,131.4 1554.8,144.1 1553,156.2 1550.9,167.8 1548.8,178.9 1546.3,189.3 1543.6,199.2 1540.8,208.3 1538,216.8 1535.3,224.5 1532.9,231.4 1530.7,237.4 1529.1,242.6 1528,246.9Z" fill="#72ae4c"/>
<path d="M1529.9,247.1 1530.7,242.5 1531.9,237.5 1533.4,231.9 1535,225.7 1536.9,218.9 1538.8,211.6 1540.7,203.5 1542.5,194.8 1544.2,185.4 1545.7,175.3 1546.9,164.4 1547.3,152.8 1547.3,140.3 1546.6,127.1 1546.6,127.1 1546.6,127.1 1546.2,140.3 1545.5,152.7 1544.4,164.2 1543.4,175 1542.1,185.1 1540.6,194.5 1538.9,203.1 1537.1,211.2 1535.4,218.6 1533.7,225.4 1532.2,231.6 1530.9,237.2 1529.8,242.3 1529.2,246.9Z" fill="#378024"/>
<path d="M1533.3,247.1 1534.3,242.4 1535.6,237 1537.2,231 1539.1,224.3 1541.1,217 1543.2,209.2 1545.3,200.8 1547.4,191.9 1549.4,182.6 1551,172.7 1552.1,162.4 1553,151.7 1553.4,140.6 1553.3,129.3 1553.3,129.3 1553.3,129.3 1552.5,140.6 1551.4,151.5 1550,162.1 1548.3,172.3 1546.4,182 1544.7,191.4 1542.8,200.3 1540.9,208.7 1539.1,216.5 1537.3,223.8 1535.6,230.6 1534.2,236.7 1533.1,242.1 1532.4,246.9Z" fill="#458a2c"/>
<path d="M1543.3,120.6 1543.8,116.6 1544.3,112.6 1544.7,108.6 1545.1,104.6 1545.3,100.5 1545.5,96.5 1545.6,92.4 1545.7,88.3 1545.7,88.3 1545.7,88.3 1544.9,92.3 1544.3,96.3 1543.7,100.3 1543.1,104.3 1542.6,108.4 1542.3,112.4 1541.9,116.4 1541.6,120.5Z" fill="#a9b45e"/>
<path d="M1521.4,116 1521.3,112.3 1521.2,108.5 1521.1,104.7 1521,101 1520.6,97.2 1520.2,93.4 1519.8,89.7 1519.4,85.9 1519.4,85.9 1519.4,85.9 1519.2,89.7 1519.1,93.5 1519,97.3 1518.9,101 1519,104.8 1519.2,108.6 1519.4,112.3 1519.6,116.1Z" fill="#c2c278"/>
<path d="M1541.7,81.7 1542.4,78.9 1543,76.1 1543.6,73.3 1544.2,70.4 1544.6,67.6 1544.9,64.7 1545.3,61.8 1545.5,59 1545.5,59 1545.5,59 1544.6,61.7 1543.8,64.5 1543,67.3 1542.2,70 1541.6,72.8 1541,75.7 1540.5,78.5 1540,81.3Z" fill="#9aa854"/>
<path d="M1528.8,94.9 1528.8,91.3 1528.9,87.7 1529,84 1528.9,80.4 1528.7,76.8 1528.5,73.2 1528.2,69.6 1527.9,65.9 1527.9,65.9 1527.9,65.9 1527.5,69.6 1527.3,73.2 1527.1,76.8 1526.9,80.4 1526.8,84.1 1526.9,87.7 1527,91.3 1527,94.9Z" fill="#9aa854"/>
<path d="M1522.3,88.1 1522.1,83.6 1521.8,79.1 1521.6,74.6 1521.2,70.1 1520.7,65.7 1520.2,61.2 1519.6,56.7 1519,52.2 1519,52.2 1519,52.2 1519,56.8 1519,61.3 1519.1,65.8 1519.2,70.3 1519.5,74.8 1519.8,79.3 1520.2,83.8 1520.6,88.3Z" fill="#a9b45e"/>
<path d="M1529,106.3 1529.1,101.8 1529.1,97.3 1529.2,92.8 1529.1,88.3 1528.9,83.8 1528.7,79.3 1528.5,74.8 1528.1,70.2 1528.1,70.2 1528.1,70.2 1527.8,74.8 1527.5,79.3 1527.3,83.8 1527.1,88.3 1527.1,92.8 1527.1,97.3 1527.2,101.8 1527.2,106.3Z" fill="#c2c278"/>
<path d="M1539.8,106.3 1539.6,101.9 1539.5,97.5 1539.4,93.2 1539.1,88.8 1538.7,84.5 1538.3,80.2 1537.9,75.8 1537.4,71.5 1537.4,71.5 1537.4,71.5 1537.2,75.8 1537.2,80.2 1537.1,84.6 1537.1,88.9 1537.2,93.3 1537.5,97.6 1537.7,102 1538,106.3Z" fill="#a9b45e"/>
<path d="M1542.2,96.7 1542.1,92.5 1542,88.3 1541.9,84.1 1541.7,79.9 1541.3,75.7 1540.9,71.5 1540.5,67.3 1540,63.2 1540,63.2 1540,63.2 1539.9,67.4 1539.8,71.6 1539.7,75.8 1539.6,80 1539.8,84.2 1540,88.4 1540.2,92.6 1540.4,96.8Z" fill="#c2c278"/>
<path d="M1530.3,103 1530.1,99.8 1529.9,96.6 1529.7,93.4 1529.4,90.2 1528.9,87 1528.5,83.8 1528,80.6 1527.4,77.4 1527.4,77.4 1527.4,77.4 1527.3,80.7 1527.3,83.9 1527.3,87.1 1527.4,90.3 1527.6,93.5 1527.9,96.7 1528.2,99.9 1528.5,103.1Z" fill="#9aa854"/>
<path d="M1532.1,102.4 1532.3,98 1532.5,93.6 1532.7,89.1 1532.9,84.7 1532.8,80.3 1532.7,75.8 1532.7,71.4 1532.5,67 1532.5,67 1532.5,67 1532,71.4 1531.6,75.8 1531.2,80.2 1530.8,84.6 1530.6,89.1 1530.5,93.5 1530.4,97.9 1530.3,102.4Z" fill="#c2c278"/>
<path d="M1522.5,101.3 1522.5,98.2 1522.4,95 1522.4,91.8 1522.2,88.6 1521.9,85.4 1521.6,82.2 1521.2,79 1520.8,75.8 1520.8,75.8 1520.8,75.8 1520.6,79 1520.4,82.2 1520.3,85.4 1520.2,88.6 1520.3,91.8 1520.4,95 1520.6,98.2 1520.8,101.4Z" fill="#b8bd6c"/>
<path d="M1537,98.7 1537.6,95 1538.2,91.3 1538.8,87.5 1539.2,83.8 1539.6,80 1539.9,76.2 1540.1,72.4 1540.3,68.6 1540.3,68.6 1540.3,68.6 1539.5,72.3 1538.7,76.1 1537.9,79.8 1537.2,83.5 1536.7,87.2 1536.2,91 1535.7,94.7 1535.3,98.5Z" fill="#b8bd6c"/>
<path d="M1544.3,98.4 1544.4,94.5 1544.6,90.6 1544.7,86.6 1544.8,82.7 1544.7,78.8 1544.5,74.8 1544.4,70.9 1544.1,67 1544.1,67 1544.1,67 1543.7,70.9 1543.4,74.8 1543,78.7 1542.7,82.6 1542.6,86.6 1542.6,90.5 1542.5,94.4 1542.5,98.4Z" fill="#9aa854"/>
<path d="M1507.5,251 L1510.7,265.5 L1550.6,265.5 L1553.8,251 Z" fill="#a95d52"/>
<ellipse cx="1530.7" cy="250.3" rx="23.1" ry="3.4" fill="#4d4a48" stroke="#c47f72" stroke-width="1.7"/>
<path d="M1523.9,250 L1522.1,222 L1523.5,222 L1525.7,250 Z" fill="#7fa83c"/>
<path d="M1525.9,250 L1524.9,222 L1526.3,222 L1527.7,250 Z" fill="#6a9a32"/>
<path d="M1527.9,250 L1527.7,222 L1529.1,222 L1529.7,250 Z" fill="#8cb046"/>
<path d="M1529.9,250 L1530.5,222 L1531.9,222 L1531.7,250 Z" fill="#5f922c"/>
<path d="M1531.9,250 L1533.3,222 L1534.7,222 L1533.7,250 Z" fill="#79a43a"/>
<path d="M1533.9,250 L1536.1,222 L1537.5,222 L1535.7,250 Z" fill="#6b9c34"/>
<path d="M1589.9,247 1590.2,239.8 1590.9,230.4 1592,219.1 1593.4,206.3 1595.1,192.5 1597,177.9 1599.1,163 1601.4,148.1 1603.8,133.7 1605.9,120 1608,107.6 1610.1,96.7 1612,87.7 1613.8,81.1 1613.8,81.1 1613.8,81.1 1611.3,87.6 1608.8,96.4 1606.3,107.2 1603.7,119.7 1601.2,133.3 1599.1,147.8 1597,162.7 1595.1,177.6 1593.4,192.3 1591.9,206.2 1590.7,219 1589.8,230.3 1589.3,239.8 1589.1,247Z" fill="#66a742"/>
<path d="M1588.5,247 1588.9,240.4 1589.6,231.8 1590.8,221.3 1592.3,209.4 1594.1,196.4 1596.1,182.6 1598.2,168.3 1600.4,153.9 1602.6,139.7 1604.5,126 1606.4,113.2 1608,101.5 1609.4,91.4 1610.4,83.1 1610.4,83.1 1610.4,83.1 1608.8,91.3 1607,101.4 1605,112.9 1602.8,125.7 1600.6,139.4 1598.5,153.6 1596.5,168 1594.5,182.3 1592.7,196.2 1591.1,209.2 1589.7,221.2 1588.7,231.7 1588.1,240.4 1587.9,247Z" fill="#3a8024"/>
<path d="M1592.2,247 1592.4,239.8 1593,230.5 1593.7,219.6 1594.7,207.2 1596,193.9 1597.3,179.9 1598.9,165.6 1600.5,151.3 1602.3,137.3 1603.9,124.1 1605.5,111.9 1607.1,101.1 1608.6,92 1610.1,85 1610.1,85 1610.1,85 1608,91.9 1605.9,100.9 1603.9,111.6 1601.9,123.8 1600,137 1598.4,151 1596.9,165.4 1595.5,179.7 1594.3,193.8 1593.3,207.1 1592.5,219.5 1591.9,230.5 1591.5,239.8 1591.5,247Z" fill="#4f9532"/>
<path d="M1591.2,247 1591.5,240.6 1592.3,231.9 1593.4,221.1 1594.8,208.8 1596.5,195.3 1598.4,181.2 1600.4,166.9 1602.6,152.8 1604.9,139.4 1607,127.1 1609,116.3 1610.8,107.4 1612.6,101 1614.1,97.4 1614.1,97.4 1614.1,97.4 1612,100.8 1609.8,107.2 1607.5,116 1605.2,126.7 1602.8,139.1 1600.7,152.5 1598.7,166.7 1596.8,181 1595,195.1 1593.5,208.6 1592.2,221 1591.3,231.8 1590.7,240.6 1590.6,247Z" fill="#66a742"/>
<path d="M1593.1,247 1593.4,237.7 1594.1,227.7 1595.2,216.9 1596.5,205.7 1598.1,194 1600,182.2 1602,170.4 1604.2,158.6 1606.5,147.2 1608.6,136.1 1610.7,125.5 1612.7,115.7 1614.7,106.8 1616.5,98.8 1616.5,98.8 1616.5,98.8 1614,106.6 1611.5,115.4 1608.9,125.1 1606.4,135.6 1603.9,146.6 1601.8,158.2 1599.8,170 1598,181.9 1596.3,193.8 1594.9,205.5 1593.8,216.8 1592.9,227.6 1592.4,237.7 1592.3,247Z" fill="#4f9532"/>
<path d="M1589,247 1589.4,239.6 1590.1,231.2 1591.3,222 1592.7,212.1 1594.4,201.8 1596.4,191.3 1598.4,180.8 1600.6,170.5 1602.9,160.7 1604.8,151.4 1606.6,143 1608.4,135.6 1609.9,129.5 1611.1,124.8 1611.1,124.8 1611.1,124.8 1609.1,129.3 1607,135.3 1604.8,142.5 1602.4,150.9 1600.1,160.1 1598.1,170 1596.1,180.3 1594.2,190.9 1592.5,201.5 1591,211.8 1589.8,221.8 1588.8,231.1 1588.3,239.6 1588.2,247Z" fill="#418629"/>
<path d="M1594.3,247 1594.1,240.6 1593.7,233.5 1592.8,226 1591.7,218.1 1590.4,210 1588.9,201.7 1587.2,193.3 1585.5,184.9 1583.7,176.7 1581.6,168.8 1579.6,161.3 1577.6,154.3 1575.7,147.9 1573.9,142.1 1573.9,142.1 1573.9,142.1 1575.1,148 1576.6,154.6 1578.1,161.7 1579.8,169.3 1581.6,177.2 1583.5,185.4 1585.5,193.6 1587.3,202 1589,210.2 1590.4,218.4 1591.7,226.2 1592.7,233.6 1593.3,240.6 1593.6,247Z" fill="#378024"/>
<path d="M1592.1,247 1591.9,242.2 1591.3,236.4 1590.2,229.8 1588.9,222.5 1587.2,214.7 1585.3,206.7 1583.3,198.5 1581.2,190.3 1579,182.4 1576.6,174.9 1574.3,168 1572,161.8 1570,156.6 1568.1,152.5 1568.1,152.5 1568.1,152.5 1569.5,156.8 1571.1,162.2 1572.9,168.4 1574.9,175.4 1577,182.9 1579.4,190.8 1581.6,198.9 1583.8,207 1585.8,215 1587.6,222.8 1589.2,230 1590.3,236.5 1591.1,242.3 1591.5,247Z" fill="#378024"/>
<path d="M1593.9,247 1593.8,242.8 1593.4,237.5 1592.6,231.2 1591.6,224.2 1590.4,216.6 1589,208.7 1587.4,200.5 1585.7,192.3 1584,184.4 1581.9,176.9 1579.8,169.9 1577.8,163.8 1575.8,158.6 1573.9,154.6 1573.9,154.6 1573.9,154.6 1575.1,158.9 1576.5,164.2 1578,170.4 1579.6,177.4 1581.3,185 1583.2,192.9 1585.1,201 1586.9,209.1 1588.5,217 1590,224.5 1591.2,231.5 1592.1,237.7 1592.8,242.9 1593.1,247Z" fill="#72ae4c"/>
<path d="M1590.6,247 1590.5,242 1590,236.5 1589.2,230.6 1588.1,224.4 1586.8,217.9 1585.3,211.3 1583.7,204.6 1582.1,197.8 1580.4,191 1578.5,184.4 1576.8,178 1575.1,171.8 1573.6,165.9 1572.3,160.4 1572.3,160.4 1572.3,160.4 1573,166 1574,172.1 1575.3,178.4 1576.7,184.9 1578.2,191.6 1580,198.3 1581.8,205 1583.6,211.7 1585.2,218.3 1586.7,224.7 1588,230.8 1588.9,236.6 1589.6,242 1589.9,247Z" fill="#5a9e38"/>
<path d="M1588.9,247 1588.8,243.4 1588.5,238.5 1587.9,232.4 1587.1,225.3 1586.2,217.7 1585,209.6 1583.8,201.4 1582.4,193.4 1581,185.7 1579.3,178.7 1577.5,172.6 1575.7,167.6 1574,164.1 1572.3,162.4 1572.3,162.4 1572.3,162.4 1573.5,164.4 1574.8,168 1576.2,172.9 1577.6,179.1 1579,186.1 1580.6,193.7 1582.1,201.7 1583.5,209.9 1584.8,217.9 1585.9,225.5 1586.8,232.5 1587.6,238.6 1588.1,243.5 1588.3,247Z" fill="#418629"/>
<path d="M1592,247 1591.9,242.1 1591.4,236.4 1590.5,230.2 1589.3,223.6 1587.9,216.7 1586.3,209.6 1584.6,202.6 1582.8,195.8 1580.9,189.2 1578.9,183.3 1576.9,177.9 1575,173.3 1573.2,169.7 1571.7,167.2 1571.7,167.2 1571.7,167.2 1572.7,169.9 1574,173.7 1575.5,178.4 1577.2,183.8 1579,189.8 1580.9,196.3 1582.9,203.1 1584.8,210 1586.5,217 1588.1,223.8 1589.4,230.4 1590.4,236.6 1591.1,242.1 1591.4,247Z" fill="#458a2c"/>
<path d="M1592.9,247 1593.2,242 1593.5,236.1 1593.9,229.1 1594.3,221.1 1594.7,212 1595.2,201.9 1595.7,190.7 1596.1,178.3 1596.5,164.8 1596.9,150.1 1596.9,134.2 1596.8,117.1 1596.5,98.7 1596,79.1 1596,79.1 1596,79.1 1595.5,98.7 1595,117.1 1594.5,134.2 1594.1,150.1 1593.9,164.7 1593.7,178.2 1593.4,190.6 1593.1,201.8 1592.9,212 1592.6,221 1592.4,229 1592.2,236 1592.1,242 1592,247Z" fill="#378024"/>
<path d="M1593.4,246.9 1592.7,242 1591.5,236.2 1590.1,229.7 1588.4,222.2 1586.6,213.8 1584.7,204.3 1582.8,193.8 1580.9,182.1 1579.2,169.2 1577.6,155 1576,139.5 1574.6,122.6 1573.5,104.2 1572.8,84.2 1572.8,84.2 1572.8,84.2 1572.7,104.2 1573.1,122.7 1573.9,139.7 1575.2,155.3 1577,169.5 1578.9,182.4 1580.9,194.1 1583,204.7 1585.1,214.1 1587.1,222.5 1588.9,229.9 1590.5,236.5 1591.8,242.1 1592.7,247.1Z" fill="#378024"/>
<path d="M1593.7,247 1594.2,241.6 1595,235.3 1595.9,228.2 1597,220.2 1598.1,211.3 1599.3,201.5 1600.5,190.8 1601.7,179.1 1602.8,166.5 1603.5,152.9 1604,138.3 1604.3,122.8 1604.4,106.2 1604.1,88.6 1604.1,88.6 1604.1,88.6 1603.5,106.2 1602.8,122.7 1601.9,138.2 1600.9,152.8 1599.8,166.3 1599,178.9 1598,190.5 1597,201.2 1596.1,211 1595.2,220 1594.4,228 1593.7,235.2 1593.1,241.5 1592.8,247Z" fill="#30741e"/>
<path d="M1593.2,247 1593.6,241.8 1594,235.7 1594.6,228.8 1595.2,220.9 1595.9,212.2 1596.6,202.6 1597.3,192.2 1597.9,180.8 1598.6,168.5 1599.1,155.2 1599.4,141.1 1599.4,126 1599.2,110 1598.7,93 1598.7,93 1598.7,93 1598.3,110 1597.9,126 1597.4,141 1596.9,155.2 1596.5,168.4 1596,180.7 1595.5,192.1 1595,202.6 1594.4,212.1 1593.9,220.9 1593.4,228.7 1593,235.7 1592.7,241.7 1592.5,247Z" fill="#378024"/>
<path d="M1594.6,247 1595.2,241.3 1596,234.7 1596.9,227.4 1598,219.3 1599.2,210.4 1600.4,200.7 1601.7,190.2 1602.9,178.9 1604.1,166.9 1605.2,154 1605.9,140.3 1606.3,125.8 1606.4,110.4 1606.1,94.3 1606.1,94.3 1606.1,94.3 1605.4,110.4 1604.6,125.7 1603.6,140.1 1602.7,153.8 1601.8,166.7 1600.8,178.7 1599.7,190 1598.6,200.5 1597.6,210.2 1596.6,219.1 1595.6,227.3 1594.9,234.6 1594.2,241.2 1593.8,247Z" fill="#30741e"/>
<path d="M1593.7,247 1594,242.1 1594.3,236.4 1594.7,230 1595.1,222.8 1595.6,214.6 1596.1,205.6 1596.5,195.6 1597,184.6 1597.4,172.5 1597.5,159.3 1597.5,145 1597.4,129.5 1597.2,112.7 1596.7,94.7 1596.7,94.7 1596.7,94.7 1596.4,112.7 1596,129.5 1595.5,145 1595.1,159.3 1594.6,172.4 1594.3,184.5 1594.1,195.5 1593.8,205.5 1593.6,214.5 1593.4,222.7 1593.1,229.9 1593,236.4 1592.9,242.1 1592.8,247Z" fill="#3a8024"/>
<path d="M1593.4,247 1593.3,241.2 1593.1,234.6 1592.9,227.4 1592.6,219.4 1592.3,210.6 1592,201.1 1591.6,190.9 1591.3,179.9 1590.9,168.1 1590.4,155.4 1589.9,142 1589.5,127.8 1589.2,112.7 1588.9,96.8 1588.9,96.8 1588.9,96.8 1588.5,112.7 1588.4,127.8 1588.4,142.1 1588.4,155.5 1588.6,168.1 1589,179.9 1589.5,191 1590,201.2 1590.6,210.7 1591.1,219.4 1591.6,227.4 1592,234.7 1592.4,241.2 1592.6,247Z" fill="#3a8024"/>
<path d="M1592.4,247 1592.2,242.5 1591.8,236.9 1591.3,230.4 1590.7,222.9 1590,214.3 1589.3,204.9 1588.6,194.4 1587.9,183.1 1587.2,170.9 1586.7,157.8 1585.9,143.9 1585.2,129.2 1584.6,113.6 1584.1,97.3 1584.1,97.3 1584.1,97.3 1583.7,113.6 1583.6,129.2 1583.6,144 1584,158 1584.7,171.1 1585.6,183.3 1586.5,194.6 1587.4,205 1588.3,214.5 1589.1,223 1589.9,230.5 1590.6,237.1 1591.2,242.6 1591.6,247Z" fill="#2b6c1a"/>
<path d="M1591,247.1 1592.3,241.7 1594,235.3 1596.1,227.9 1598.6,219.6 1601.3,210.5 1604.1,200.6 1606.9,189.9 1609.6,178.5 1612.1,166.4 1614.1,153.6 1615.5,140.3 1616.3,126.5 1616.4,112.3 1615.7,97.6 1615.7,97.6 1615.7,97.6 1615.4,112.2 1614.6,126.4 1613.1,140.1 1611.2,153.2 1609.1,165.8 1606.9,177.9 1604.4,189.3 1601.9,200 1599.3,210 1596.8,219.1 1594.6,227.5 1592.6,234.9 1591.1,241.4 1590.1,246.9Z" fill="#4f9532"/>
<path d="M1591.5,247.1 1592.5,242.2 1593.8,236.4 1595.5,229.7 1597.4,222.1 1599.5,213.7 1601.6,204.4 1603.8,194.4 1605.9,183.6 1607.8,172.1 1609.3,159.9 1610.3,147 1610.8,133.5 1610.8,119.4 1610.1,104.9 1610.1,104.9 1610.1,104.9 1609.9,119.4 1609.2,133.4 1608,146.8 1606.5,159.6 1604.9,171.7 1603.2,183.2 1601.4,193.9 1599.4,204 1597.5,213.2 1595.6,221.7 1594,229.4 1592.5,236.1 1591.4,242 1590.6,246.9Z" fill="#4c8c30"/>
<path d="M1591.7,247.1 1592.5,242.2 1593.6,236.6 1595,230.2 1596.5,223.1 1598.1,215.2 1599.9,206.5 1601.6,197 1603.2,186.6 1604.7,175.3 1605.7,163.2 1606.4,150.1 1606.7,136.2 1606.7,121.3 1606.1,105.5 1606.1,105.5 1606.1,105.5 1605.8,121.3 1605.1,136.1 1604.1,150 1602.9,162.9 1601.4,175 1600,186.2 1598.7,196.5 1597.2,206 1595.8,214.8 1594.4,222.7 1593.1,229.9 1592.1,236.3 1591.2,242 1590.7,246.9Z" fill="#72ae4c"/>
<path d="M1590.9,247 1591.1,242.9 1591.2,237.9 1591.4,231.9 1591.6,225 1591.9,217.2 1592.1,208.5 1592.3,198.9 1592.5,188.5 1592.8,177.1 1592.7,164.9 1592.6,151.9 1592.5,138 1592.3,123.2 1592,107.6 1592,107.6 1592,107.6 1591.7,123.2 1591.4,138 1591.1,151.9 1590.8,164.9 1590.5,177.1 1590.5,188.4 1590.4,198.9 1590.4,208.5 1590.3,217.2 1590.3,225 1590.2,231.9 1590.2,237.8 1590.2,242.9 1590.2,247Z" fill="#3a8024"/>
<path d="M1589.8,247.1 1590.6,241.7 1591.7,235.9 1593.1,229.4 1594.7,222.3 1596.4,214.6 1598.2,206.3 1600,197.2 1601.7,187.4 1603.3,176.9 1604.8,165.6 1605.8,153.6 1606.1,140.7 1606.1,127 1605.4,112.4 1605.4,112.4 1605.4,112.4 1604.7,126.9 1603.8,140.6 1602.6,153.3 1601.4,165.3 1600.2,176.5 1598.8,187 1597.3,196.7 1595.7,205.8 1594.2,214.2 1592.7,221.9 1591.4,229.1 1590.2,235.6 1589.3,241.5 1588.7,246.9Z" fill="#4f9532"/>
<path d="M1592.8,247 1592.5,242.7 1592.1,237.8 1591.4,232.2 1590.7,226 1589.9,219.1 1589.1,211.4 1588.2,203 1587.4,193.8 1586.7,183.7 1585.7,172.8 1584.8,161.1 1584,148.4 1583.5,134.8 1583,120.1 1583,120.1 1583,120.1 1582.6,134.8 1582.6,148.4 1582.8,161.2 1583.2,173 1583.7,183.9 1584.7,194 1585.8,203.2 1586.8,211.7 1587.9,219.3 1588.9,226.2 1589.9,232.4 1590.7,237.9 1591.4,242.8 1591.9,247Z" fill="#418629"/>
<path d="M1593.7,247 1594.2,242.7 1594.9,237.8 1595.7,232.2 1596.7,226 1597.7,219.1 1598.7,211.5 1599.8,203.1 1600.8,194 1601.8,184.1 1602.7,173.3 1603,161.8 1603.2,149.3 1603.2,136 1602.8,121.8 1602.8,121.8 1602.8,121.8 1602.2,136 1601.6,149.3 1600.7,161.6 1599.8,173.2 1599,183.9 1598.3,193.8 1597.5,202.9 1596.6,211.2 1595.8,218.9 1595,225.8 1594.2,232.1 1593.6,237.6 1593.2,242.6 1592.9,247Z" fill="#3a8024"/>
<path d="M1592.8,246.9 1592.4,242.8 1591.7,238.1 1590.8,232.8 1589.8,226.8 1588.6,220.2 1587.4,212.9 1586.2,204.9 1585.1,196 1583.9,186.4 1582.6,175.9 1581.6,164.5 1580.8,152.2 1580.3,138.8 1580.1,124.5 1580.1,124.5 1580.1,124.5 1579.6,138.8 1579.6,152.2 1579.9,164.6 1580.4,176.1 1581.2,186.7 1582.3,196.4 1583.7,205.2 1585.2,213.3 1586.6,220.6 1588,227.2 1589.3,233.1 1590.4,238.3 1591.3,243 1592,247.1Z" fill="#418629"/>
<path d="M1588.3,247 1587.7,241.9 1586.8,236.3 1585.6,230.3 1584.3,223.8 1582.9,216.8 1581.3,209.2 1579.8,201.1 1578.3,192.4 1577,183 1575.8,173 1574.5,162.4 1573.5,151 1572.7,138.9 1572.3,126 1572.3,126 1572.3,126 1572,138.9 1572.1,151.1 1572.6,162.5 1573.5,173.3 1574.8,183.3 1576.4,192.7 1578,201.4 1579.7,209.6 1581.4,217.1 1583,224.1 1584.5,230.6 1585.8,236.5 1586.8,242 1587.6,247Z" fill="#3a8024"/>
<path d="M1591.2,247.1 1591.9,242.8 1592.8,237.7 1593.9,231.9 1595.1,225.3 1596.5,218 1597.9,210.1 1599.3,201.5 1600.6,192.4 1601.7,182.6 1602.5,172.4 1603,161.7 1603.3,150.5 1603.3,139 1602.8,127.2 1602.8,127.2 1602.8,127.2 1602.3,139 1601.7,150.5 1600.8,161.5 1599.6,172.1 1598.4,182.3 1597.2,191.9 1596.2,201.1 1595.1,209.6 1594,217.6 1592.9,224.9 1592,231.5 1591.1,237.4 1590.5,242.6 1590.1,246.9Z" fill="#30741e"/>
<path d="M1591.6,247 1592,243.7 1592.6,239.6 1593.3,234.8 1594,229.3 1594.8,223 1595.7,216 1596.5,208.2 1597.4,199.6 1598.1,190.3 1598.3,180.2 1598.5,169.4 1598.5,157.8 1598.3,145.5 1597.8,132.4 1597.8,132.4 1597.8,132.4 1597.3,145.5 1596.8,157.8 1596.2,169.3 1595.5,180.1 1594.6,190.1 1594.1,199.4 1593.5,207.9 1593,215.7 1592.4,222.7 1591.9,229.1 1591.4,234.6 1591,239.5 1590.7,243.6 1590.5,247Z" fill="#418629"/>
<path d="M1589.9,247.1 1591,243 1592.6,238.4 1594.6,233.2 1596.8,227.4 1599.2,221 1601.7,213.9 1604.3,206.3 1606.8,198 1609.1,189.1 1610.8,179.5 1612.2,169.3 1613.2,158.4 1613.7,146.9 1613.5,134.8 1613.5,134.8 1613.5,134.8 1612.9,146.9 1611.8,158.3 1610.3,169 1608.4,179.1 1606.2,188.5 1604,197.3 1601.8,205.6 1599.5,213.2 1597.2,220.3 1595,226.7 1593,232.6 1591.3,237.9 1589.9,242.7 1589,246.9Z" fill="#418629"/>
<path d="M1593,246.9 1592.3,243.2 1591.2,238.6 1589.8,233.4 1588.2,227.5 1586.5,220.9 1584.7,213.7 1582.9,205.8 1581.1,197.4 1579.5,188.4 1578,178.8 1576.7,168.7 1575.5,158.1 1574.7,147 1574.2,135.4 1574.2,135.4 1574.2,135.4 1573.8,147 1574,158.2 1574.6,168.9 1575.9,179.1 1577.5,188.7 1579.3,197.8 1581.2,206.2 1583.2,214.1 1585.2,221.3 1587,227.8 1588.8,233.7 1590.3,238.9 1591.5,243.3 1592.3,247.1Z" fill="#5a9e38"/>
<path d="M1594.1,247.1 1595.2,242.8 1596.7,238.3 1598.5,233.4 1600.5,228.1 1602.8,222.3 1605.2,216 1607.6,209.1 1609.9,201.5 1612,193.1 1613.7,183.8 1615.1,173.7 1616.2,162.7 1616.7,150.6 1616.7,137.5 1616.7,137.5 1616.7,137.5 1616.2,150.6 1615.2,162.6 1613.8,173.5 1612,183.5 1610,192.6 1607.9,200.9 1605.7,208.5 1603.5,215.5 1601.3,221.8 1599.2,227.6 1597.3,233 1595.7,237.9 1594.4,242.6 1593.5,246.9Z" fill="#4c8c30"/>
<path d="M1592.5,247 1592.9,243.5 1593.5,239.5 1594.2,234.8 1595,229.6 1595.9,223.7 1596.8,217.3 1597.7,210.2 1598.6,202.4 1599.3,194 1599.7,185 1600,175.2 1600.1,164.9 1600.1,153.8 1599.7,142.1 1599.7,142.1 1599.7,142.1 1599.4,153.8 1599.1,164.8 1598.5,175.2 1597.8,184.8 1597,193.8 1596.3,202.2 1595.6,209.9 1594.9,217 1594.2,223.5 1593.5,229.4 1592.9,234.7 1592.4,239.3 1592,243.4 1591.8,247Z" fill="#72ae4c"/>
<path d="M1593.6,246.9 1593,242.7 1591.9,238.1 1590.6,233.1 1589.1,227.7 1587.4,221.8 1585.7,215.4 1584,208.4 1582.3,201 1580.8,192.9 1579.5,184.2 1578,175 1576.8,165 1575.9,154.3 1575.4,142.8 1575.4,142.8 1575.4,142.8 1574.7,154.3 1574.7,165.1 1575.1,175.3 1575.9,184.7 1577.5,193.5 1579.3,201.6 1581.2,209.1 1583.2,216.1 1585.2,222.4 1587.1,228.3 1588.9,233.6 1590.4,238.5 1591.7,243 1592.6,247.1Z" fill="#66a742"/>
<path d="M1592.6,247 1592.3,243.9 1591.9,240.3 1591.3,236.1 1590.6,231.3 1589.9,225.9 1589.1,219.8 1588.3,213.1 1587.5,205.6 1586.8,197.5 1586.1,188.7 1585.4,179.2 1584.6,169 1583.9,157.9 1583.3,146.1 1583.3,146.1 1583.3,146.1 1583,158 1582.9,169 1583.1,179.3 1583.6,188.9 1584.4,197.8 1585.3,205.9 1586.3,213.3 1587.3,220 1588.2,226.1 1589.2,231.6 1590,236.3 1590.8,240.5 1591.4,244.1 1591.8,247Z" fill="#4c8c30"/>
<path d="M1589.9,246.9 1589.2,244 1588.1,240.5 1586.7,236.4 1585.1,231.6 1583.4,226.2 1581.5,220.2 1579.7,213.6 1577.9,206.4 1576.1,198.6 1574.4,190.2 1572.8,181.3 1571.6,171.7 1570.7,161.5 1570.3,150.7 1570.3,150.7 1570.3,150.7 1570.1,161.5 1570.5,171.8 1571.3,181.5 1572.4,190.6 1573.8,199.1 1575.7,206.9 1577.7,214.2 1579.7,220.8 1581.8,226.8 1583.7,232.1 1585.5,236.8 1587.1,240.9 1588.3,244.3 1589.2,247.1Z" fill="#4f9532"/>
<path d="M1591.7,247 1591.4,243.4 1591,239.2 1590.3,234.5 1589.6,229.3 1588.8,223.6 1588,217.4 1587.1,210.7 1586.3,203.6 1585.5,196 1584.8,188.1 1583.8,179.8 1583,171.1 1582.3,162.1 1581.8,152.8 1581.8,152.8 1581.8,152.8 1581.4,162.2 1581.4,171.2 1581.6,179.9 1581.9,188.3 1582.8,196.3 1583.8,203.9 1584.8,211 1585.9,217.7 1586.9,223.9 1587.9,229.6 1588.9,234.8 1589.7,239.4 1590.4,243.5 1590.9,247Z" fill="#458a2c"/>
<path d="M1594.5,247.1 1595.2,243.6 1596.2,239.6 1597.4,235.2 1598.7,230.3 1600.2,224.9 1601.7,219.1 1603.3,212.8 1604.8,206 1606.1,198.8 1607.1,191 1607.9,182.9 1608.4,174.3 1608.7,165.3 1608.5,155.8 1608.5,155.8 1608.5,155.8 1607.8,165.2 1606.8,174.1 1605.7,182.6 1604.4,190.6 1602.9,198.2 1601.6,205.4 1600.3,212.1 1599,218.5 1597.8,224.3 1596.6,229.8 1595.5,234.7 1594.6,239.3 1593.9,243.3 1593.4,246.9Z" fill="#72ae4c"/>
<path d="M1602.6,119.9 1602.6,115.2 1602.7,110.5 1602.8,105.8 1602.8,101 1602.6,96.3 1602.4,91.6 1602.2,86.9 1601.8,82.2 1601.8,82.2 1601.8,82.2 1601.5,86.9 1601.2,91.6 1601,96.3 1600.7,101 1600.7,105.8 1600.7,110.5 1600.8,115.2 1600.8,119.9Z" fill="#9aa854"/>
<path d="M1597.3,135.9 1597.2,132 1597,128.1 1596.8,124.2 1596.6,120.3 1596.2,116.4 1595.7,112.5 1595.3,108.7 1594.7,104.8 1594.7,104.8 1594.7,104.8 1594.6,108.7 1594.5,112.6 1594.5,116.5 1594.5,120.4 1594.7,124.3 1595,128.2 1595.3,132.1 1595.6,136Z" fill="#9aa854"/>
<path d="M1612,143.8 1612.1,139.7 1612.2,135.6 1612.3,131.6 1612.3,127.5 1612.1,123.5 1611.9,119.4 1611.7,115.3 1611.4,111.3 1611.4,111.3 1611.4,111.3 1611,115.3 1610.7,119.4 1610.5,123.4 1610.2,127.5 1610.2,131.6 1610.2,135.6 1610.2,139.7 1610.2,143.8Z" fill="#b8bd6c"/>
<path d="M1587.2,120.9 1586.9,118 1586.6,115 1586.2,112.1 1585.8,109.2 1585.2,106.3 1584.6,103.4 1584,100.5 1583.2,97.6 1583.2,97.6 1583.2,97.6 1583.3,100.5 1583.4,103.5 1583.6,106.5 1583.8,109.4 1584.1,112.4 1584.6,115.3 1585,118.2 1585.5,121.1Z" fill="#a9b45e"/>
<path d="M1592.9,126.1 1592.5,122.9 1592.2,119.7 1591.9,116.6 1591.5,113.4 1590.9,110.3 1590.2,107.1 1589.6,104 1588.9,100.9 1588.9,100.9 1588.9,100.9 1588.9,104.1 1589.1,107.3 1589.2,110.5 1589.4,113.6 1589.8,116.8 1590.2,120 1590.7,123.1 1591.1,126.3Z" fill="#c2c278"/>
<path d="M1586.7,131.2 1586.1,126.7 1585.6,122.3 1585.1,117.8 1584.4,113.3 1583.6,108.9 1582.8,104.5 1582,100 1581,95.6 1581,95.6 1581,95.6 1581.3,100.1 1581.6,104.6 1582,109.1 1582.4,113.6 1583,118.1 1583.6,122.5 1584.3,127 1584.9,131.4Z" fill="#9aa854"/>
<path d="M1583.9,129.6 1583.7,125.6 1583.5,121.6 1583.3,117.7 1583,113.7 1582.5,109.8 1582,105.8 1581.5,101.9 1580.9,97.9 1580.9,97.9 1580.9,97.9 1580.8,101.9 1580.8,105.9 1580.9,109.9 1580.9,113.9 1581.2,117.8 1581.5,121.8 1581.8,125.7 1582.1,129.7Z" fill="#9aa854"/>
<path d="M1581,127.4 1581.2,124 1581.4,120.6 1581.6,117.2 1581.7,113.7 1581.6,110.3 1581.6,106.9 1581.5,103.4 1581.3,100 1581.3,100 1581.3,100 1580.8,103.4 1580.4,106.8 1580,110.2 1579.7,113.6 1579.5,117.1 1579.4,120.5 1579.3,123.9 1579.2,127.4Z" fill="#a9b45e"/>
<path d="M1598.2,135.1 1598.4,131.1 1598.7,127 1598.9,123 1599,119 1599,114.9 1598.9,110.9 1598.8,106.8 1598.7,102.8 1598.7,102.8 1598.7,102.8 1598.2,106.8 1597.7,110.8 1597.4,114.9 1597,118.9 1596.8,122.9 1596.7,126.9 1596.6,131 1596.5,135Z" fill="#a9b45e"/>
<path d="M1580.3,132 1580.1,128.8 1579.8,125.5 1579.6,122.3 1579.2,119.1 1578.7,115.9 1578.2,112.7 1577.6,109.5 1577,106.3 1577,106.3 1577,106.3 1576.9,109.6 1577,112.8 1577.1,116.1 1577.2,119.3 1577.5,122.5 1577.8,125.7 1578.2,128.9 1578.6,132.1Z" fill="#c2c278"/>
<path d="M1603.2,143.9 1603.7,140.4 1604.1,136.8 1604.6,133.2 1604.9,129.6 1605.1,126 1605.3,122.4 1605.5,118.7 1605.6,115.1 1605.6,115.1 1605.6,115.1 1604.8,118.7 1604.2,122.2 1603.5,125.8 1602.9,129.4 1602.5,133 1602.1,136.6 1601.8,140.1 1601.4,143.7Z" fill="#c2c278"/>
<path d="M1565.5,251 L1568.7,265.5 L1609.5,265.5 L1612.7,251 Z" fill="#a95d52"/>
<ellipse cx="1589.1" cy="250.3" rx="23.6" ry="3.4" fill="#4d4a48" stroke="#c47f72" stroke-width="1.7"/>
<path d="M1585.1,250 L1583.3,222 L1584.7,222 L1586.9,250 Z" fill="#7fa83c"/>
<path d="M1587.1,250 L1586.1,222 L1587.5,222 L1588.9,250 Z" fill="#6a9a32"/>
<path d="M1589.1,250 L1588.9,222 L1590.3,222 L1590.9,250 Z" fill="#8cb046"/>
<path d="M1591.1,250 L1591.7,222 L1593.1,222 L1592.9,250 Z" fill="#5f922c"/>
<path d="M1593.1,250 L1594.5,222 L1595.9,222 L1594.9,250 Z" fill="#79a43a"/>
<path d="M1595.1,250 L1597.3,222 L1598.7,222 L1596.9,250 Z" fill="#6b9c34"/>
<path d="M1641.8,247 1642.3,235.1 1643.7,222.4 1645.8,208.9 1648.5,194.9 1651.7,180.4 1655.3,165.6 1659.2,150.7 1663.2,135.8 1667.2,121 1670.8,106.5 1674.3,92.3 1677.4,78.7 1680,65.9 1682,53.9 1682,53.9 1682,53.9 1679.4,65.7 1676.3,78.5 1672.8,92 1669,106 1665,120.5 1661.1,135.3 1657.3,150.3 1653.6,165.2 1650.2,180.1 1647.2,194.6 1644.6,208.7 1642.7,222.2 1641.5,235.1 1641.1,247Z" fill="#2b6c1a"/>
<path d="M1642.7,247 1643.2,236.7 1644.4,224.3 1646.3,210 1648.8,194.4 1651.7,177.9 1654.9,161 1658.5,144.1 1662.3,127.6 1666.2,112.1 1669.9,97.8 1673.4,85.4 1676.8,75.1 1679.9,67.5 1682.7,63 1682.7,63 1682.7,63 1679.3,67.2 1675.7,74.7 1671.8,84.8 1667.8,97.2 1663.8,111.5 1660,127.1 1656.4,143.6 1653,160.6 1649.9,177.6 1647.2,194.2 1645,209.8 1643.3,224.1 1642.2,236.7 1641.9,247Z" fill="#66a742"/>
<path d="M1642.5,247 1642.9,239 1644,228.6 1645.6,216.2 1647.7,202.2 1650.3,187 1653.3,171.1 1656.6,154.8 1660.2,138.6 1664,122.8 1667.7,107.8 1671.4,94 1675.2,81.9 1678.9,71.8 1682.6,64.2 1682.6,64.2 1682.6,64.2 1678.3,71.5 1674,81.4 1669.7,93.5 1665.5,107.2 1661.4,122.1 1657.8,138 1654.4,154.4 1651.3,170.7 1648.5,186.7 1646.1,202 1644.2,216 1642.8,228.5 1641.9,238.9 1641.7,247Z" fill="#72ae4c"/>
<path d="M1645.8,247 1646.2,236.2 1647,224.2 1648.2,211.3 1649.8,197.6 1651.8,183.4 1654,168.9 1656.5,154.3 1659.2,139.8 1662.1,125.7 1664.7,112.1 1667.5,99.2 1670.2,87.4 1672.9,76.7 1675.4,67.4 1675.4,67.4 1675.4,67.4 1672.2,76.5 1668.9,87 1665.7,98.8 1662.5,111.6 1659.5,125.2 1656.8,139.4 1654.3,153.9 1652,168.6 1650,183.2 1648.2,197.4 1646.8,211.2 1645.8,224.1 1645.2,236.2 1645,247Z" fill="#66a742"/>
<path d="M1644.1,247 1644.5,239.7 1645.4,230.8 1646.7,220.6 1648.5,209.1 1650.7,196.7 1653.2,183.5 1656,169.8 1659.1,155.8 1662.3,141.8 1665.5,127.7 1668.7,114 1671.9,100.8 1675.1,88.4 1678.3,77 1678.3,77 1678.3,77 1674.4,88.2 1670.6,100.5 1666.8,113.5 1663.2,127.2 1659.7,141.1 1656.6,155.3 1653.8,169.4 1651.2,183.1 1648.9,196.4 1646.9,208.8 1645.3,220.4 1644.1,230.7 1643.4,239.7 1643.3,247Z" fill="#30741e"/>
<path d="M1643.1,247 1643.5,237.6 1644.6,226.8 1646.3,214.8 1648.4,202.1 1651,188.7 1653.8,175 1656.9,161.2 1660.2,147.5 1663.6,134.3 1666.7,121.7 1669.6,110 1672.4,99.5 1675,90.5 1677.1,83.1 1677.1,83.1 1677.1,83.1 1674.3,90.2 1671.2,99.2 1667.9,109.6 1664.5,121.1 1661,133.7 1657.9,147 1654.8,160.7 1651.9,174.6 1649.2,188.4 1646.8,201.8 1644.9,214.6 1643.4,226.6 1642.5,237.5 1642.3,247Z" fill="#378024"/>
<path d="M1645.8,247 1645.8,241.6 1645.4,234.7 1644.8,226.7 1643.9,217.6 1642.8,207.7 1641.5,197.2 1640,186.4 1638.4,175.3 1636.7,164.4 1634.6,153.7 1632.4,143.5 1630.2,133.9 1627.9,125.3 1625.6,117.9 1625.6,117.9 1625.6,117.9 1627.2,125.5 1629,134.2 1630.7,143.8 1632.5,154.1 1634.2,164.8 1636.1,175.7 1637.9,186.7 1639.6,197.5 1641,207.9 1642.3,217.8 1643.4,226.8 1644.3,234.8 1644.8,241.6 1645.1,247Z" fill="#72ae4c"/>
<path d="M1643.9,247 1643.9,242 1643.5,235.8 1642.9,228.4 1642,220 1640.9,210.9 1639.6,201.3 1638.1,191.2 1636.6,180.9 1634.9,170.7 1632.9,160.6 1630.7,150.9 1628.6,141.8 1626.4,133.3 1624.2,125.9 1624.2,125.9 1624.2,125.9 1625.7,133.5 1627.3,142 1628.9,151.3 1630.5,161 1632.2,171.2 1634.1,181.4 1635.8,191.6 1637.5,201.6 1639,211.2 1640.3,220.2 1641.4,228.5 1642.2,235.9 1642.8,242.1 1643.1,247Z" fill="#3a8024"/>
<path d="M1644.5,247 1644.5,240.8 1644,233.4 1643.3,225.1 1642.3,216 1641,206.4 1639.6,196.4 1637.9,186.3 1636.2,176.3 1634.4,166.5 1632.2,157.3 1630,148.7 1627.8,141 1625.6,134.4 1623.5,129.1 1623.5,129.1 1623.5,129.1 1624.9,134.6 1626.5,141.3 1628.2,149.1 1630,157.7 1631.8,167 1633.8,176.8 1635.7,186.7 1637.5,196.8 1639.2,206.7 1640.6,216.2 1641.9,225.2 1642.8,233.5 1643.4,240.8 1643.7,247Z" fill="#418629"/>
<path d="M1646.7,247 1646.6,239.8 1646.1,231.5 1645.2,222.4 1644,212.6 1642.5,202.4 1640.8,192 1638.9,181.8 1636.9,171.8 1634.7,162.3 1632.3,153.7 1629.8,146 1627.4,139.6 1625,134.7 1622.7,131.6 1622.7,131.6 1622.7,131.6 1624.3,135.1 1626.1,140.1 1628,146.6 1630,154.3 1632.1,162.9 1634.4,172.3 1636.6,182.2 1638.7,192.4 1640.6,202.7 1642.3,212.8 1643.8,222.5 1644.9,231.6 1645.6,239.9 1645.9,247Z" fill="#4f9532"/>
<path d="M1646.6,247 1646.6,240.3 1646.2,233.1 1645.6,225.7 1644.7,217.9 1643.6,210 1642.3,202 1640.9,193.9 1639.3,185.9 1637.7,177.9 1635.7,170.2 1633.7,162.8 1631.7,155.7 1629.6,149 1627.5,142.8 1627.5,142.8 1627.5,142.8 1629,149.2 1630.6,156 1632.3,163.2 1633.9,170.7 1635.6,178.4 1637.4,186.3 1639.1,194.3 1640.7,202.3 1642.1,210.2 1643.4,218.1 1644.4,225.8 1645.2,233.2 1645.7,240.3 1646,247Z" fill="#30741e"/>
<path d="M1646.7,247 1646.6,243.1 1646.1,238.1 1645.4,232.1 1644.3,225.4 1643.1,217.9 1641.6,209.9 1640,201.6 1638.3,193.1 1636.6,184.6 1634.5,176.2 1632.4,168.2 1630.4,160.5 1628.4,153.5 1626.5,147.3 1626.5,147.3 1626.5,147.3 1627.6,153.7 1629,160.9 1630.5,168.6 1632.1,176.8 1633.8,185.2 1635.7,193.7 1637.7,202.1 1639.5,210.4 1641.1,218.3 1642.6,225.7 1643.9,232.4 1644.8,238.3 1645.5,243.2 1645.8,247Z" fill="#458a2c"/>
<path d="M1644.5,247 1645.3,240 1646.5,232.4 1647.9,224.2 1649.5,215.2 1651.2,205.3 1653.1,194.4 1654.9,182.4 1656.7,169.1 1658.4,154.5 1659.6,138.3 1660.6,120.6 1661.2,101.1 1661.5,79.8 1661.3,56.5 1661.3,56.5 1661.3,56.5 1660.7,79.8 1659.9,101.1 1658.7,120.5 1657.2,138.1 1655.6,154.2 1654.2,168.8 1652.6,182.1 1651,194.1 1649.4,205 1647.8,214.9 1646.4,224 1645.2,232.2 1644.3,239.9 1643.7,247Z" fill="#418629"/>
<path d="M1641.9,247 1642.6,239.4 1643.6,230.8 1644.9,221.3 1646.3,210.8 1647.8,199.3 1649.4,187 1651,173.8 1652.5,159.6 1653.9,144.6 1654.8,128.7 1655.4,112 1655.6,94.4 1655.5,76 1654.8,56.9 1654.8,56.9 1654.8,56.9 1654.5,76 1653.9,94.4 1653,111.9 1651.8,128.5 1650.5,144.3 1649.4,159.3 1648.1,173.5 1646.8,186.7 1645.5,199.1 1644.2,210.5 1643,221 1642.1,230.6 1641.3,239.3 1640.8,247Z" fill="#5a9e38"/>
<path d="M1647.6,247 1647.4,240.3 1647,232.9 1646.6,224.7 1646,215.7 1645.4,205.7 1644.7,194.7 1644,182.6 1643.4,169.3 1642.7,154.7 1642.2,138.7 1641.3,121.2 1640.4,102.2 1639.7,81.5 1639,59.1 1639,59.1 1639,59.1 1638.6,81.5 1638.5,102.2 1638.5,121.3 1638.8,138.8 1639.5,154.8 1640.4,169.5 1641.3,182.8 1642.2,194.9 1643.1,205.9 1644,215.8 1644.8,224.8 1645.5,233 1646.1,240.3 1646.6,247Z" fill="#458a2c"/>
<path d="M1645.1,247 1645,240.7 1644.9,233.4 1644.7,225.2 1644.4,216.1 1644.2,205.8 1643.9,194.5 1643.6,182 1643.3,168.4 1642.8,153.6 1642.3,137.4 1641.8,120 1641.3,101.2 1640.9,81 1640.6,59.3 1640.6,59.3 1640.6,59.3 1640.2,81 1640.1,101.2 1640.1,120 1640.1,137.5 1640.3,153.6 1640.6,168.5 1641.1,182.1 1641.6,194.6 1642.2,205.9 1642.7,216.1 1643.2,225.3 1643.6,233.5 1644,240.7 1644.3,247Z" fill="#30741e"/>
<path d="M1645.8,247 1645.4,240.1 1644.6,232.1 1643.7,223 1642.6,212.9 1641.4,201.7 1640.1,189.5 1638.9,176.4 1637.7,162.4 1636.6,147.5 1635.6,131.8 1634.9,115.2 1634,97.8 1633.4,79.7 1633,60.9 1633,60.9 1633,60.9 1632.4,79.7 1632.2,97.9 1632.4,115.3 1633.3,131.9 1634.4,147.7 1635.7,162.6 1637,176.6 1638.4,189.7 1639.9,201.9 1641.2,213 1642.5,223.1 1643.6,232.2 1644.5,240.2 1645.1,247Z" fill="#3a8024"/>
<path d="M1645.3,247 1645.8,239.7 1646.5,231.9 1647.3,223.7 1648.2,214.9 1649.2,205.3 1650.3,194.8 1651.3,183.2 1652.3,170.5 1653.3,156.4 1654.2,140.9 1654.7,123.8 1654.9,104.9 1654.7,84.2 1654.2,61.4 1654.2,61.4 1654.2,61.4 1653.7,84.2 1653,104.9 1652.2,123.7 1651.5,140.8 1650.8,156.3 1650,170.3 1649.2,183.1 1648.3,194.6 1647.5,205.1 1646.7,214.8 1645.9,223.6 1645.3,231.8 1644.8,239.6 1644.5,247Z" fill="#458a2c"/>
<path d="M1644.3,247 1643.9,241.1 1643.3,234 1642.4,225.6 1641.4,216.2 1640.4,205.5 1639.2,193.8 1638.1,180.9 1637,167 1636.1,152 1635.3,136 1634.4,119 1633.5,101.1 1632.8,82.2 1632.4,62.3 1632.4,62.3 1632.4,62.3 1631.6,82.2 1631.3,101.1 1631.3,119.1 1631.9,136.2 1633,152.2 1634.2,167.2 1635.5,181.1 1636.8,194 1638.2,205.8 1639.5,216.4 1640.7,225.8 1641.8,234.1 1642.6,241.2 1643.3,247Z" fill="#458a2c"/>
<path d="M1641.6,247 1641.2,240.2 1640.6,232.5 1639.8,223.7 1638.8,213.8 1637.8,203 1636.7,191.2 1635.6,178.4 1634.6,164.7 1633.7,150 1632.9,134.4 1632.2,117.9 1631.3,100.5 1630.7,82.2 1630.1,63 1630.1,63 1630.1,63 1629.4,82.2 1629.2,100.5 1629.3,118 1630.1,134.5 1631.1,150.2 1632.2,164.9 1633.4,178.6 1634.7,191.4 1636,203.2 1637.2,214 1638.3,223.8 1639.3,232.6 1640.1,240.3 1640.7,247Z" fill="#418629"/>
<path d="M1645.5,247 1645.9,240.5 1646.6,233.3 1647.4,225.5 1648.3,216.9 1649.2,207.3 1650.2,196.8 1651.2,185.2 1652.2,172.3 1653.1,158.2 1653.8,142.6 1654.2,125.5 1654.4,106.8 1654.4,86.4 1654.1,64.2 1654.1,64.2 1654.1,64.2 1653.7,86.4 1653.2,106.8 1652.5,125.5 1651.6,142.5 1650.8,158.1 1650.1,172.2 1649.3,185 1648.5,196.7 1647.6,207.2 1646.8,216.7 1646.1,225.4 1645.5,233.2 1645.1,240.4 1644.8,247Z" fill="#72ae4c"/>
<path d="M1646.4,247 1647.2,239.6 1648.3,232 1649.7,223.9 1651.3,215.3 1653.1,206.1 1654.9,196 1656.7,184.9 1658.5,172.7 1660.1,159.3 1661.5,144.5 1662.6,128.2 1662.9,110.2 1662.8,90.5 1662.2,68.8 1662.2,68.8 1662.2,68.8 1661.7,90.5 1661,110.2 1659.8,128.1 1658.8,144.3 1657.5,159 1656.1,172.4 1654.5,184.6 1652.9,195.6 1651.3,205.8 1649.7,215.1 1648.3,223.7 1647.1,231.8 1646.2,239.5 1645.5,247Z" fill="#4f9532"/>
<path d="M1642.7,247 1642.5,239.5 1642.2,231.8 1641.8,223.8 1641.3,215.3 1640.8,206.2 1640.3,196.3 1639.7,185.6 1639.2,173.7 1638.7,160.7 1638.3,146.4 1637.7,130.5 1637,113.1 1636.3,93.9 1635.7,72.7 1635.7,72.7 1635.7,72.7 1635.1,93.9 1634.9,113.1 1634.9,130.6 1635.2,146.5 1635.9,160.8 1636.6,173.9 1637.3,185.7 1638.1,196.5 1638.8,206.4 1639.6,215.5 1640.2,223.9 1640.8,231.9 1641.3,239.6 1641.7,247Z" fill="#66a742"/>
<path d="M1642.1,247 1642.2,241.4 1642.5,234.5 1642.7,226.2 1643,216.8 1643.4,206.3 1643.7,194.7 1644,182.1 1644.3,168.6 1644.6,154.4 1644.9,139.4 1645,123.7 1644.8,107.5 1644.6,90.7 1644.1,73.6 1644.1,73.6 1644.1,73.6 1643.7,90.7 1643.3,107.5 1642.9,123.7 1642.7,139.3 1642.6,154.3 1642.4,168.6 1642.2,182.1 1642.1,194.6 1641.9,206.2 1641.7,216.8 1641.6,226.2 1641.5,234.5 1641.4,241.4 1641.4,247Z" fill="#5a9e38"/>
<path d="M1646.1,247 1646.2,240.3 1646.3,233.2 1646.4,225.5 1646.6,217.2 1646.7,208.2 1646.8,198.3 1646.9,187.4 1647,175.5 1647.2,162.5 1647,148.1 1646.8,132.4 1646.6,115.2 1646.4,96.5 1646.1,76 1646.1,76 1646.1,76 1645.7,96.5 1645.5,115.2 1645.2,132.4 1645,148.1 1644.8,162.5 1644.9,175.5 1645,187.4 1645,198.3 1645.1,208.1 1645.1,217.2 1645.2,225.5 1645.3,233.2 1645.3,240.3 1645.4,247Z" fill="#4f9532"/>
<path d="M1643.7,247 1644.1,239.7 1644.5,232 1645,223.8 1645.6,215 1646.3,205.7 1646.9,195.6 1647.6,184.7 1648.3,172.9 1648.9,160.2 1649.5,146.5 1650,131.6 1650,115.6 1649.9,98.3 1649.6,79.6 1649.6,79.6 1649.6,79.6 1649,98.3 1648.3,115.6 1647.7,131.6 1647.3,146.4 1646.9,160.2 1646.4,172.9 1645.9,184.6 1645.4,195.5 1644.8,205.6 1644.3,214.9 1643.9,223.7 1643.5,231.9 1643.2,239.6 1643.1,247Z" fill="#4c8c30"/>
<path d="M1646.8,247 1647.6,240.5 1648.7,233.2 1650.1,225.3 1651.7,216.5 1653.4,206.9 1655.1,196.5 1657,185.3 1658.7,173.1 1660.4,160 1661.9,146 1663.1,130.9 1663.7,114.9 1664,97.8 1663.7,79.7 1663.7,79.7 1663.7,79.7 1663,97.8 1661.9,114.8 1660.6,130.8 1659.3,145.7 1657.9,159.7 1656.4,172.8 1654.8,185 1653.2,196.2 1651.6,206.6 1650.1,216.2 1648.7,225 1647.5,233.1 1646.6,240.4 1645.9,247Z" fill="#2b6c1a"/>
<path d="M1643.3,247 1644,241.7 1644.9,235.2 1646.1,227.4 1647.4,218.6 1648.8,208.7 1650.3,197.8 1651.7,186 1653.2,173.4 1654.5,160 1655.7,145.9 1656.5,131.1 1656.8,115.8 1656.8,100 1656.3,83.7 1656.3,83.7 1656.3,83.7 1655.7,99.9 1654.9,115.7 1653.8,131 1652.8,145.7 1651.8,159.7 1650.7,173.1 1649.4,185.8 1648.2,197.5 1646.9,208.4 1645.7,218.4 1644.6,227.2 1643.6,235 1642.9,241.6 1642.4,247Z" fill="#5a9e38"/>
<path d="M1643.5,247 1643.3,241 1643,234 1642.6,225.8 1642.1,216.7 1641.6,206.6 1641,195.7 1640.5,183.9 1640,171.4 1639.5,158.2 1639.1,144.3 1638.8,129.9 1638.1,115 1637.6,99.6 1637,83.8 1637,83.8 1637,83.8 1636.4,99.6 1636.1,115 1636,130 1636.5,144.4 1637.1,158.3 1637.7,171.5 1638.4,184 1639.1,195.8 1639.9,206.7 1640.6,216.8 1641.2,225.9 1641.8,234 1642.3,241.1 1642.6,247Z" fill="#4f9532"/>
<path d="M1642,247 1642.5,241.7 1643.2,235.4 1644.1,228 1645.1,219.6 1646.1,210.2 1647.3,199.9 1648.4,188.6 1649.5,176.5 1650.6,163.5 1651.5,149.6 1652.3,134.9 1652.6,119.4 1652.6,103.2 1652.2,86.2 1652.2,86.2 1652.2,86.2 1651.5,103.1 1650.7,119.4 1649.8,134.8 1649,149.5 1648.2,163.3 1647.4,176.3 1646.4,188.5 1645.5,199.7 1644.5,210.1 1643.6,219.4 1642.8,227.9 1642.1,235.3 1641.6,241.6 1641.2,247Z" fill="#66a742"/>
<path d="M1645.7,247.1 1646.8,240.6 1648.3,233.4 1650.2,225.4 1652.3,216.7 1654.6,207.2 1657,196.9 1659.4,186 1661.7,174.3 1663.9,162 1665.4,149 1666.6,135.3 1667.3,121 1667.5,106.2 1667,90.8 1667,90.8 1667,90.8 1666.5,106.2 1665.6,120.9 1664.2,135.1 1662.4,148.6 1660.4,161.5 1658.5,173.8 1656.4,185.4 1654.3,196.4 1652.2,206.6 1650.2,216.2 1648.3,225 1646.7,233.1 1645.5,240.4 1644.7,246.9Z" fill="#66a742"/>
<path d="M1646.7,247 1646.3,241 1645.7,234.5 1644.9,227.5 1644,219.8 1643.1,211.4 1642,202.2 1641,192.3 1639.9,181.4 1639,169.7 1638.1,157 1637,143.3 1636,128.4 1635.1,112.4 1634.4,95.2 1634.4,95.2 1634.4,95.2 1634.1,112.5 1634.2,128.5 1634.5,143.4 1635.1,157.2 1636.1,170 1637.3,181.7 1638.5,192.5 1639.8,202.5 1641.1,211.6 1642.3,220 1643.4,227.7 1644.3,234.7 1645.1,241.1 1645.7,247Z" fill="#4f9532"/>
<path d="M1644.3,247.1 1645.2,240.9 1646.3,234.5 1647.8,227.6 1649.4,220.2 1651.2,212.2 1653.1,203.4 1655,193.9 1656.8,183.5 1658.5,172.1 1660,159.6 1661.3,146 1661.7,131.1 1661.7,114.9 1661.1,97.4 1661.1,97.4 1661.1,97.4 1660.4,114.9 1659.4,131 1658.2,145.8 1657.1,159.3 1655.8,171.7 1654.3,183.1 1652.7,193.5 1651,203 1649.3,211.8 1647.7,219.8 1646.3,227.3 1645,234.2 1644,240.8 1643.4,246.9Z" fill="#418629"/>
<path d="M1644.6,247 1644.1,242.3 1643.3,236.4 1642.3,229.4 1641.1,221.4 1639.8,212.4 1638.4,202.6 1637,191.8 1635.7,180.3 1634.4,168.1 1633.1,155.3 1631.9,141.9 1631,127.9 1630.4,113.5 1630.1,98.7 1630.1,98.7 1630.1,98.7 1629.8,113.5 1629.9,128 1630.4,142 1631.1,155.5 1632.1,168.4 1633.5,180.6 1635,192.1 1636.5,202.8 1638.1,212.7 1639.6,221.7 1641,229.6 1642.2,236.6 1643.2,242.4 1643.9,247Z" fill="#418629"/>
<path d="M1646.8,247 1646.7,241.5 1646.5,235.1 1646.1,227.9 1645.7,219.8 1645.3,211 1644.8,201.5 1644.3,191.2 1643.9,180.3 1643.4,168.8 1642.7,156.7 1642,144.1 1641.5,131 1641,117.4 1640.6,103.3 1640.6,103.3 1640.6,103.3 1640.2,117.4 1640,131 1640,144.2 1640.2,156.8 1640.4,168.9 1641,180.5 1641.7,191.4 1642.4,201.6 1643.1,211.2 1643.8,220 1644.5,228 1645,235.2 1645.5,241.6 1645.9,247Z" fill="#30741e"/>
<path d="M1643.8,247.1 1644.7,242.8 1646,237.6 1647.5,231.4 1649.3,224.3 1651.2,216.3 1653.2,207.5 1655.2,197.8 1657.2,187.4 1659,176.3 1660.6,164.6 1661.5,152.1 1662,139.1 1662,125.5 1661.3,111.5 1661.3,111.5 1661.3,111.5 1660.8,125.5 1659.9,139 1658.7,151.9 1657.2,164.2 1655.8,175.9 1654.3,187 1652.6,197.4 1650.8,207 1649,215.8 1647.4,223.9 1645.8,231 1644.5,237.3 1643.5,242.6 1642.8,246.9Z" fill="#2b6c1a"/>
<path d="M1644.8,247 1645.2,242.8 1645.7,237.9 1646.3,232.3 1646.9,225.9 1647.7,218.7 1648.4,210.7 1649.2,201.9 1649.9,192.2 1650.6,181.5 1650.9,169.9 1651.1,157.4 1651.2,143.8 1651.2,129.2 1650.9,113.5 1650.9,113.5 1650.9,113.5 1650.4,129.2 1649.8,143.8 1649.2,157.3 1648.4,169.8 1647.6,181.4 1647.1,192 1646.6,201.7 1646.1,210.6 1645.5,218.6 1645.1,225.7 1644.6,232.2 1644.3,237.8 1644,242.7 1643.8,247Z" fill="#30741e"/>
<path d="M1643.9,247.1 1644.9,242 1646.3,236.5 1648,230.4 1650,223.8 1652.1,216.5 1654.4,208.6 1656.6,199.9 1658.8,190.5 1660.9,180.2 1662.8,169 1664.4,156.9 1665.3,143.8 1665.7,129.7 1665.5,114.6 1665.5,114.6 1665.5,114.6 1664.7,129.7 1663.6,143.7 1662.1,156.7 1660.6,168.7 1658.9,179.8 1657,190.1 1654.9,199.5 1652.8,208.2 1650.7,216.2 1648.8,223.5 1646.9,230.1 1645.4,236.2 1644.1,241.8 1643.3,246.9Z" fill="#4f9532"/>
<path d="M1646.8,247.2 1648.4,243.5 1650.7,239 1653.5,233.8 1656.7,227.8 1660.3,221 1664,213.5 1667.7,205.2 1671.4,196.2 1674.8,186.4 1677.9,175.8 1680.4,164.5 1682.1,152.5 1682.9,139.7 1682.8,126.3 1682.8,126.3 1682.8,126.3 1681.8,139.7 1680.1,152.2 1677.8,164 1675.2,175.1 1672.3,185.6 1669,195.3 1665.6,204.3 1662.1,212.6 1658.6,220.2 1655.2,227 1652.2,233.1 1649.5,238.4 1647.4,243 1646,246.8Z" fill="#5a9e38"/>
<path d="M1646.4,246.9 1645.9,243.4 1645.1,239.1 1644.1,234.1 1643,228.3 1641.7,221.8 1640.4,214.6 1639.1,206.6 1637.8,197.9 1636.6,188.5 1635.5,178.4 1634.3,167.6 1633.4,156.1 1632.7,143.8 1632.3,130.8 1632.3,130.8 1632.3,130.8 1631.9,143.8 1632,156.1 1632.4,167.8 1633,178.7 1634.2,188.8 1635.5,198.3 1637,207 1638.5,214.9 1640,222.2 1641.5,228.6 1642.8,234.4 1644,239.3 1644.9,243.6 1645.6,247.1Z" fill="#4c8c30"/>
<path d="M1636.8,124.8 1636.9,120.2 1636.9,115.5 1637,110.9 1636.9,106.2 1636.7,101.6 1636.5,97 1636.2,92.3 1635.9,87.7 1635.9,87.7 1635.9,87.7 1635.5,92.3 1635.3,97 1635.1,101.6 1634.9,106.2 1634.9,110.9 1634.9,115.5 1635,120.2 1635.1,124.8Z" fill="#c2c278"/>
<path d="M1640.2,119.5 1640.3,115.3 1640.3,111.1 1640.4,106.9 1640.4,102.7 1640.2,98.4 1639.9,94.2 1639.7,90 1639.4,85.8 1639.4,85.8 1639.4,85.8 1639,90 1638.8,94.2 1638.5,98.4 1638.3,102.6 1638.3,106.9 1638.3,111.1 1638.4,115.3 1638.4,119.5Z" fill="#c2c278"/>
<path d="M1647.9,82.1 1647.6,79.1 1647.3,76.1 1647,73.2 1646.6,70.2 1646,67.3 1645.4,64.4 1644.8,61.5 1644.1,58.6 1644.1,58.6 1644.1,58.6 1644.1,61.6 1644.2,64.5 1644.4,67.5 1644.5,70.5 1644.8,73.4 1645.3,76.4 1645.7,79.3 1646.1,82.3Z" fill="#a9b45e"/>
<path d="M1671.1,116.4 1671.1,111.7 1671.2,107 1671.2,102.4 1671.2,97.7 1671,93 1670.7,88.4 1670.5,83.7 1670.1,79 1670.1,79 1670.1,79 1669.8,83.7 1669.5,88.4 1669.3,93 1669.1,97.7 1669.1,102.4 1669.2,107.1 1669.3,111.7 1669.3,116.4Z" fill="#b8bd6c"/>
<path d="M1663.1,105.1 1663.6,100.5 1664.1,95.9 1664.7,91.3 1665.1,86.7 1665.3,82.1 1665.6,77.4 1665.8,72.8 1666,68.2 1666,68.2 1666,68.2 1665.2,72.7 1664.4,77.3 1663.7,81.9 1663.1,86.5 1662.5,91.1 1662.1,95.7 1661.7,100.3 1661.3,105Z" fill="#c2c278"/>
<path d="M1642.2,108.1 1642,103.6 1641.7,99.2 1641.5,94.8 1641.2,90.3 1640.7,85.9 1640.2,81.5 1639.7,77.1 1639,72.7 1639,72.7 1639,72.7 1639,77.1 1639,81.6 1639.1,86 1639.2,90.5 1639.4,94.9 1639.7,99.3 1640.1,103.7 1640.4,108.2Z" fill="#b8bd6c"/>
<path d="M1633.7,106.6 1633.8,102.2 1633.9,97.8 1634,93.5 1634,89.1 1633.9,84.7 1633.7,80.4 1633.5,76 1633.2,71.6 1633.2,71.6 1633.2,71.6 1632.8,76 1632.5,80.4 1632.2,84.7 1632,89.1 1631.9,93.5 1631.9,97.8 1632,102.2 1632,106.6Z" fill="#9aa854"/>
<path d="M1643.4,95.3 1643,91.7 1642.5,88.1 1642.1,84.5 1641.6,80.9 1640.9,77.4 1640.1,73.8 1639.4,70.2 1638.6,66.7 1638.6,66.7 1638.6,66.7 1638.7,70.3 1639,74 1639.2,77.6 1639.5,81.2 1640,84.8 1640.5,88.4 1641.1,91.9 1641.6,95.5Z" fill="#c2c278"/>
<path d="M1635.2,98.5 1635.1,94.3 1635,90 1634.8,85.8 1634.6,81.6 1634.2,77.4 1633.7,73.2 1633.3,69 1632.7,64.8 1632.7,64.8 1632.7,64.8 1632.6,69 1632.6,73.3 1632.5,77.5 1632.5,81.7 1632.7,85.9 1632.9,90.1 1633.2,94.4 1633.5,98.6Z" fill="#b8bd6c"/>
<path d="M1643.9,113 1644.1,109.6 1644.4,106.2 1644.6,102.9 1644.7,99.5 1644.7,96.1 1644.6,92.8 1644.6,89.4 1644.4,86 1644.4,86 1644.4,86 1643.9,89.3 1643.5,92.7 1643.1,96 1642.7,99.4 1642.5,102.8 1642.4,106.1 1642.3,109.5 1642.1,112.9Z" fill="#9aa854"/>
<path d="M1640.3,104.3 1640.6,101 1641,97.7 1641.3,94.4 1641.5,91 1641.6,87.7 1641.7,84.3 1641.7,81 1641.7,77.6 1641.7,77.6 1641.7,77.6 1641.1,80.9 1640.5,84.2 1640,87.5 1639.5,90.8 1639.2,94.2 1639,97.5 1638.7,100.8 1638.5,104.2Z" fill="#a9b45e"/>
<path d="M1640.4,102.7 1640.5,99.2 1640.6,95.7 1640.7,92.2 1640.8,88.7 1640.6,85.2 1640.4,81.7 1640.2,78.2 1639.9,74.7 1639.9,74.7 1639.9,74.7 1639.5,78.2 1639.2,81.7 1639,85.2 1638.7,88.7 1638.6,92.2 1638.6,95.7 1638.6,99.2 1638.7,102.7Z" fill="#a9b45e"/>
<path d="M1619.9,251 L1623.1,265.5 L1664.8,265.5 L1668,251 Z" fill="#a95d52"/>
<ellipse cx="1643.9" cy="250.3" rx="24.1" ry="3.4" fill="#4d4a48" stroke="#c47f72" stroke-width="1.7"/>
<path d="M1638.5,250 L1636.7,222 L1638.1,222 L1640.3,250 Z" fill="#7fa83c"/>
<path d="M1640.5,250 L1639.5,222 L1640.9,222 L1642.3,250 Z" fill="#6a9a32"/>
<path d="M1642.5,250 L1642.3,222 L1643.7,222 L1644.3,250 Z" fill="#8cb046"/>
<path d="M1644.5,250 L1645.1,222 L1646.5,222 L1646.3,250 Z" fill="#5f922c"/>
<path d="M1646.5,250 L1647.9,222 L1649.3,222 L1648.3,250 Z" fill="#79a43a"/>
<path d="M1648.5,250 L1650.7,222 L1652.1,222 L1650.3,250 Z" fill="#6b9c34"/>
<path d="M1701.6,247 1701.5,236.4 1701.2,224.7 1700.7,212 1699.9,198.7 1699,185 1697.8,171.2 1696.6,157.6 1695.2,144.4 1693.7,131.8 1691.8,120.2 1689.9,109.9 1687.9,101 1685.9,93.9 1683.8,88.8 1683.8,88.8 1683.8,88.8 1685.2,94.1 1686.7,101.3 1688.2,110.2 1689.7,120.6 1691.2,132.2 1692.9,144.6 1694.5,157.8 1695.9,171.4 1697.2,185.2 1698.4,198.8 1699.3,212.1 1700.1,224.7 1700.6,236.4 1700.8,247Z" fill="#3a8024"/>
<path d="M1701.8,247 1701.8,240.9 1701.5,232.8 1700.9,223.1 1700.1,212 1699.2,199.9 1698.1,187 1696.8,173.7 1695.5,160.4 1694.2,147.2 1692.6,134.7 1690.9,122.9 1689.3,112.4 1687.7,103.3 1686.2,96.1 1686.2,96.1 1686.2,96.1 1687.1,103.4 1688.2,112.5 1689.3,123.1 1690.6,134.9 1691.9,147.5 1693.4,160.6 1694.9,173.9 1696.3,187.2 1697.5,200 1698.7,212.1 1699.6,223.2 1700.4,232.9 1700.9,240.9 1701.1,247Z" fill="#418629"/>
<path d="M1704.2,247 1704.1,237.8 1703.5,227.9 1702.7,217.7 1701.5,207 1700.1,196.1 1698.6,185 1696.8,173.9 1695,162.8 1693.1,151.8 1691,141.2 1688.8,130.9 1686.8,121 1684.8,111.7 1683,103.1 1683,103.1 1683,103.1 1684.1,111.9 1685.5,121.3 1687,131.2 1688.7,141.6 1690.5,152.3 1692.5,163.2 1694.6,174.3 1696.5,185.3 1698.3,196.4 1699.9,207.2 1701.3,217.8 1702.3,228 1703,237.8 1703.3,247Z" fill="#66a742"/>
<path d="M1705,247 1704.9,238.2 1704.3,228.7 1703.4,218.5 1702.1,207.9 1700.6,196.9 1698.9,185.7 1697.1,174.4 1695.1,163.2 1693.1,152.3 1690.9,141.7 1688.7,131.7 1686.7,122.3 1684.8,113.7 1683,106 1683,106 1683,106 1684.2,113.8 1685.6,122.5 1687.3,131.9 1689.1,142.1 1691,152.7 1693.2,163.6 1695.3,174.7 1697.3,186 1699.2,197.1 1700.8,208.1 1702.3,218.7 1703.4,228.8 1704.1,238.3 1704.4,247Z" fill="#378024"/>
<path d="M1702.5,247 1702.5,241 1702.2,233.5 1701.7,224.5 1701,214.5 1700.1,203.7 1699.1,192.5 1698,181 1696.8,169.5 1695.5,158.4 1693.9,148 1692.2,138.5 1690.6,130.2 1689,123.4 1687.3,118.5 1687.3,118.5 1687.3,118.5 1688.3,123.6 1689.5,130.4 1690.7,138.8 1691.9,148.3 1693.2,158.7 1694.6,169.8 1696,181.2 1697.3,192.6 1698.5,203.9 1699.6,214.6 1700.4,224.6 1701.1,233.5 1701.6,241.1 1701.8,247Z" fill="#4c8c30"/>
<path d="M1703.2,247 1703.2,241.2 1702.9,233.6 1702.4,224.4 1701.7,214.1 1700.8,203 1699.7,191.3 1698.5,179.6 1697.2,168.1 1695.7,157.2 1693.8,147.2 1691.8,138.4 1689.8,131.3 1687.6,126.2 1685.4,123.6 1685.4,123.6 1685.4,123.6 1686.9,126.6 1688.5,131.7 1690,138.9 1691.5,147.6 1693,157.6 1694.7,168.4 1696.2,179.9 1697.7,191.6 1698.9,203.1 1700,214.2 1701,224.5 1701.7,233.6 1702.2,241.3 1702.4,247Z" fill="#72ae4c"/>
<path d="M1703.6,247 1704,243.7 1705.1,239.6 1706.8,235 1709.1,230 1711.8,224.6 1714.9,219.1 1718.3,213.5 1721.9,208 1725.7,202.6 1729.4,197.5 1733.1,192.8 1736.7,188.7 1740.2,185.2 1743.5,182.4 1743.5,182.4 1743.5,182.4 1739.8,184.6 1735.9,187.8 1731.8,191.7 1727.7,196.2 1723.7,201.2 1720,206.7 1716.5,212.4 1713.2,218.1 1710.3,223.8 1707.7,229.3 1705.6,234.5 1704,239.3 1703.1,243.5 1702.8,247Z" fill="#30741e"/>
<path d="M1706,247.1 1706.6,243.7 1708.1,239.9 1710.3,235.6 1713.1,231.1 1716.5,226.3 1720.4,221.5 1724.5,216.7 1728.8,212.1 1733.2,207.8 1737.4,203.6 1741.4,199.8 1745.2,196.7 1748.5,194.2 1751.4,192.5 1751.4,192.5 1751.4,192.5 1748.2,193.6 1744.4,195.7 1740.4,198.5 1736,202 1731.5,206 1727.2,210.6 1722.9,215.4 1718.9,220.3 1715.2,225.3 1711.9,230.3 1709.1,235 1707,239.4 1705.7,243.5 1705.3,246.9Z" fill="#378024"/>
<path d="M1706.5,247.1 1706.9,244.1 1708.1,240.9 1709.8,237.4 1712,233.6 1714.7,229.7 1717.7,225.7 1721.1,221.6 1724.7,217.6 1728.5,213.7 1732.1,209.7 1735.8,206 1739.4,202.5 1742.9,199.4 1746.3,196.6 1746.3,196.6 1746.3,196.6 1742.4,198.7 1738.5,201.4 1734.5,204.5 1730.4,207.9 1726.3,211.6 1722.7,215.8 1719.1,220 1715.9,224.3 1713,228.5 1710.4,232.7 1708.3,236.7 1706.8,240.4 1705.8,243.9 1705.6,246.9Z" fill="#5a9e38"/>
<path d="M1702.2,247.1 1702.8,244.2 1704.4,240.8 1706.9,237.1 1710.1,233 1713.9,228.8 1718.2,224.6 1722.9,220.3 1727.8,216.2 1732.7,212.4 1737.5,208.6 1742.1,205.3 1746.4,202.6 1750.3,200.4 1753.6,198.9 1753.6,198.9 1753.6,198.9 1750,199.8 1745.9,201.6 1741.2,204 1736.3,207 1731.3,210.5 1726.4,214.6 1721.6,218.9 1717,223.3 1712.7,227.7 1709,232.1 1705.9,236.4 1703.5,240.3 1702,243.9 1701.5,246.9Z" fill="#72ae4c"/>
<path d="M1704.1,247.1 1704.7,245.3 1706,242.9 1708,239.9 1710.7,236.5 1713.9,232.8 1717.7,228.9 1721.7,224.9 1726.1,221 1730.7,217.3 1735.2,213.7 1739.8,210.5 1744.2,207.8 1748.6,205.7 1752.7,204.4 1752.7,204.4 1752.7,204.4 1748.4,205.2 1743.8,206.9 1739,209.3 1734.2,212.3 1729.4,215.7 1724.9,219.6 1720.5,223.7 1716.5,227.8 1712.9,231.9 1709.7,235.8 1707.1,239.3 1705.2,242.4 1703.9,245 1703.5,246.9Z" fill="#5a9e38"/>
<path d="M1704.4,247.1 1704.9,245.1 1706,242.9 1707.8,240.3 1710.1,237.4 1712.9,234.4 1716.1,231.2 1719.5,228 1723.2,224.7 1727,221.5 1730.6,218.2 1734.2,215.1 1737.7,212.1 1741,209.4 1743.9,207 1743.9,207 1743.9,207 1740.6,208.9 1737,211.2 1733.3,213.9 1729.4,216.7 1725.5,219.8 1721.8,223.2 1718.2,226.6 1714.8,230 1711.7,233.3 1709,236.5 1706.8,239.6 1705.1,242.3 1704.1,244.8 1703.7,246.9Z" fill="#5a9e38"/>
<path d="M1703.9,247.1 1704.6,240.7 1705.7,233.2 1706.9,224.6 1708.4,215 1709.9,204.5 1711.5,193.1 1713.2,180.8 1714.8,167.7 1716.3,153.9 1717.6,139.4 1718.4,124.1 1719,108.4 1719.2,92.1 1719,75.3 1719,75.3 1719,75.3 1718.2,92 1717.2,108.3 1715.9,124 1714.5,139.1 1713.2,153.6 1711.9,167.4 1710.5,180.5 1709.1,192.8 1707.7,204.2 1706.4,214.8 1705.2,224.4 1704.2,233 1703.4,240.5 1702.9,246.9Z" fill="#378024"/>
<path d="M1703,247.1 1703.8,241.2 1704.9,234.2 1706.3,226.1 1707.9,217 1709.6,206.7 1711.4,195.5 1713.2,183.3 1714.9,170.3 1716.4,156.3 1717.4,141.6 1718.1,126 1718.6,109.8 1718.6,92.9 1718,75.3 1718,75.3 1718,75.3 1717.7,92.9 1717.1,109.7 1716.1,125.9 1714.8,141.4 1713.3,156 1711.9,169.9 1710.4,183 1708.9,195.2 1707.4,206.4 1706,216.6 1704.6,225.9 1703.5,234 1702.6,241.1 1702.1,246.9Z" fill="#72ae4c"/>
<path d="M1704.8,247 1705.1,241.1 1705.6,234.4 1706,226.8 1706.6,218.4 1707.2,209.1 1707.8,198.9 1708.4,187.6 1709,175.4 1709.5,162 1710,147.6 1709.9,132 1709.7,115.3 1709.4,97.3 1708.8,78 1708.8,78 1708.8,78 1708.2,97.3 1707.7,115.2 1707.1,132 1706.4,147.5 1706.2,161.9 1705.9,175.3 1705.6,187.5 1705.2,198.7 1704.9,209 1704.5,218.3 1704.2,226.7 1704,234.3 1703.8,241 1703.8,247Z" fill="#30741e"/>
<path d="M1707.4,247 1707.2,239.7 1706.8,231.9 1706.4,223.6 1705.9,214.7 1705.3,205.1 1704.7,194.9 1704.1,183.9 1703.5,172 1703,159.2 1702.5,145.4 1702,130.6 1701.2,114.7 1700.6,97.5 1700.1,79.2 1700.1,79.2 1700.1,79.2 1699.4,97.6 1699.2,114.7 1699.1,130.7 1699.4,145.5 1700.1,159.3 1700.8,172.1 1701.6,184 1702.4,195 1703.3,205.3 1704.1,214.8 1704.8,223.7 1705.4,232 1706,239.7 1706.4,247Z" fill="#2b6c1a"/>
<path d="M1702.6,247.1 1703.9,241.8 1705.5,235.4 1707.6,227.8 1710,219.2 1712.5,209.6 1715.2,199 1718,187.4 1720.6,174.8 1723.2,161.4 1725.5,147 1727.5,131.8 1728.7,115.7 1729.3,98.9 1729.3,81.3 1729.3,81.3 1729.3,81.3 1728.3,98.8 1726.8,115.6 1724.9,131.5 1723,146.6 1720.8,161 1718.5,174.4 1716,186.9 1713.4,198.6 1710.9,209.2 1708.5,218.9 1706.3,227.5 1704.4,235.1 1702.9,241.6 1701.9,246.9Z" fill="#3a8024"/>
<path d="M1704.3,247 1704.4,241.4 1704.4,235.2 1704.4,228.1 1704.5,220.3 1704.5,211.6 1704.5,202 1704.5,191.5 1704.5,180 1704.5,167.5 1704.2,154.1 1703.8,139.5 1703.4,123.9 1703,107.1 1702.6,89.1 1702.6,89.1 1702.6,89.1 1702.1,107.1 1701.7,123.9 1701.5,139.5 1701.3,154.1 1701.1,167.6 1701.4,180 1701.6,191.5 1701.9,202 1702.1,211.6 1702.4,220.3 1702.6,228.1 1702.9,235.2 1703.1,241.5 1703.3,247Z" fill="#72ae4c"/>
<path d="M1703,247 1703.1,241.8 1703.3,235.5 1703.4,228.1 1703.6,219.7 1703.8,210.4 1704,200.2 1704.2,189.1 1704.3,177.3 1704.5,164.7 1704.3,151.4 1704.1,137.4 1703.9,122.9 1703.6,107.9 1703.2,92.3 1703.2,92.3 1703.2,92.3 1702.8,107.9 1702.5,122.9 1702.2,137.4 1701.9,151.4 1701.6,164.7 1701.6,177.3 1701.6,189.1 1701.7,200.2 1701.7,210.4 1701.8,219.7 1701.9,228.1 1701.9,235.5 1702,241.8 1702.1,247Z" fill="#72ae4c"/>
<path d="M1707.3,247 1707.1,241 1706.7,234.6 1706.3,227.8 1705.8,220.3 1705.2,212.2 1704.6,203.2 1704.1,193.5 1703.5,182.8 1703,171 1702.5,158.2 1702.2,144.1 1701.5,128.8 1701,112 1700.5,93.8 1700.5,93.8 1700.5,93.8 1699.9,112 1699.7,128.8 1699.6,144.2 1700.1,158.3 1700.7,171.1 1701.4,182.9 1702.1,193.6 1702.9,203.4 1703.6,212.3 1704.3,220.4 1705,227.9 1705.6,234.7 1706.1,241.1 1706.5,247Z" fill="#2b6c1a"/>
<path d="M1707,247 1707.3,241.5 1707.6,235.4 1707.9,228.9 1708.3,221.8 1708.7,213.9 1709.2,205.3 1709.6,195.7 1710,185.2 1710.4,173.7 1710.6,160.9 1710.5,147 1710.4,131.7 1710.1,115.1 1709.7,96.9 1709.7,96.9 1709.7,96.9 1709.3,115.1 1708.9,131.7 1708.5,147 1708.1,160.9 1707.7,173.6 1707.5,185.1 1707.3,195.6 1707.1,205.2 1706.8,213.8 1706.6,221.7 1706.5,228.9 1706.3,235.4 1706.2,241.4 1706.2,247Z" fill="#30741e"/>
<path d="M1705,247 1704.9,241.2 1704.6,234.4 1704.3,226.8 1703.9,218.4 1703.4,209.2 1703,199.3 1702.5,188.7 1702,177.4 1701.5,165.6 1700.8,153.2 1700.2,140.3 1699.7,127 1699.2,113.2 1698.8,99.1 1698.8,99.1 1698.8,99.1 1698.5,113.2 1698.5,127 1698.5,140.4 1698.7,153.3 1699,165.7 1699.5,177.5 1700.2,188.8 1700.9,199.4 1701.6,209.3 1702.2,218.5 1702.9,226.9 1703.4,234.5 1703.9,241.2 1704.2,247Z" fill="#3a8024"/>
<path d="M1701.9,247.1 1703.4,241.8 1705.7,235.8 1708.4,229 1711.7,221.4 1715.1,213 1718.8,203.7 1722.4,193.7 1726,182.8 1729.3,171.1 1732.2,158.6 1734.5,145.2 1735.9,130.9 1736.3,115.9 1735.7,100 1735.7,100 1735.7,100 1735.3,115.8 1734.1,130.8 1732.2,144.9 1730,158.2 1727.3,170.6 1724.2,182.3 1720.8,193.1 1717.3,203.2 1713.8,212.4 1710.5,220.9 1707.4,228.6 1704.7,235.4 1702.6,241.6 1701.2,246.9Z" fill="#3a8024"/>
<path d="M1704.3,247 1704.6,242.6 1705,237.6 1705.4,231.7 1705.9,225.1 1706.4,217.6 1707,209.2 1707.5,199.7 1708.1,189.3 1708.6,177.7 1708.7,165 1708.7,151.1 1708.7,135.9 1708.5,119.4 1708.1,101.5 1708.1,101.5 1708.1,101.5 1707.6,119.4 1707.1,135.9 1706.6,151.1 1706,165 1705.4,177.6 1705.1,189.2 1704.8,199.6 1704.5,209 1704.2,217.5 1703.9,225 1703.7,231.6 1703.5,237.5 1703.3,242.6 1703.3,247Z" fill="#2b6c1a"/>
<path d="M1700.7,247 1701.3,242.6 1702.2,237.1 1703.2,230.7 1704.4,223.3 1705.7,214.9 1707.1,205.7 1708.4,195.6 1709.7,184.6 1710.9,172.7 1711.8,160 1712.3,146.5 1712.6,132.3 1712.5,117.2 1712,101.5 1712,101.5 1712,101.5 1711.6,117.2 1711.1,132.2 1710.3,146.4 1709.2,159.9 1708.2,172.5 1707.2,184.3 1706.1,195.3 1704.9,205.4 1703.8,214.7 1702.7,223 1701.7,230.4 1700.9,236.9 1700.2,242.4 1699.8,247Z" fill="#418629"/>
<path d="M1703.1,247 1702.5,240.7 1701.6,234 1700.4,226.7 1699.1,219 1697.6,210.6 1696.1,201.7 1694.5,192.1 1693,181.8 1691.5,170.8 1689.9,159 1688.6,146.4 1687.4,132.8 1686.6,118.4 1686,103 1686,103 1686,103 1685.9,118.4 1686.3,132.9 1687,146.5 1688,159.2 1689.2,171.1 1690.8,182.1 1692.5,192.4 1694.2,202 1696,210.9 1697.6,219.2 1699.1,227 1700.5,234.1 1701.6,240.8 1702.4,247Z" fill="#378024"/>
<path d="M1707.5,247.1 1708.9,240.9 1711,234.2 1713.6,226.8 1716.6,218.8 1719.8,210.3 1723.2,201.1 1726.6,191.2 1729.9,180.8 1732.9,169.7 1735.5,157.9 1737.6,145.5 1738.6,132.5 1738.8,118.8 1737.9,104.6 1737.9,104.6 1737.9,104.6 1737.6,118.8 1736.5,132.3 1734.7,145.1 1732.8,157.4 1730.4,169.1 1727.6,180.1 1724.5,190.5 1721.3,200.4 1718.1,209.6 1715,218.3 1712.2,226.3 1709.8,233.8 1707.9,240.7 1706.6,246.9Z" fill="#2b6c1a"/>
<path d="M1704.7,247.1 1705.5,242.8 1706.6,237.7 1708,231.6 1709.6,224.7 1711.4,217 1713.2,208.4 1715,198.9 1716.7,188.6 1718.3,177.5 1719.6,165.6 1720.3,152.8 1720.8,139.4 1720.7,125.1 1720.1,110.1 1720.1,110.1 1720.1,110.1 1720,125.1 1719.4,139.3 1718.5,152.7 1717.2,165.4 1715.9,177.2 1714.5,188.3 1712.9,198.5 1711.3,208 1709.7,216.6 1708.1,224.4 1706.7,231.3 1705.5,237.4 1704.6,242.6 1704,246.9Z" fill="#378024"/>
<path d="M1706.6,247.2 1708.5,241.8 1711.3,236 1714.9,229.7 1719,222.8 1723.5,215.2 1728.1,207.1 1732.8,198.2 1737.2,188.6 1741.3,178.2 1744.9,167 1747.4,154.8 1748.8,141.8 1749,128 1747.7,113.2 1747.7,113.2 1747.7,113.2 1747.7,128 1746.6,141.6 1744.5,154.3 1741.6,166.1 1738.4,177.2 1734.6,187.5 1730.4,197 1726,205.9 1721.5,214.2 1717.3,221.8 1713.4,228.8 1710,235.3 1707.3,241.3 1705.6,246.8Z" fill="#66a742"/>
<path d="M1705.5,247.2 1707.3,241.9 1709.9,236.3 1713,230.3 1716.6,223.7 1720.5,216.5 1724.5,208.6 1728.7,200 1732.8,190.6 1736.7,180.3 1739.8,169 1742.4,156.7 1744.4,143.5 1745.6,129.1 1745.8,113.6 1745.8,113.6 1745.8,113.6 1744.6,129 1742.7,143.2 1740.1,156.3 1736.9,168.2 1733.3,179.2 1729.8,189.4 1726,198.8 1722.1,207.5 1718.3,215.4 1714.6,222.7 1711.3,229.4 1708.4,235.7 1706.1,241.5 1704.5,246.8Z" fill="#4f9532"/>
<path d="M1705.1,247 1705.5,241.8 1706,235.9 1706.7,229.4 1707.4,222.3 1708.2,214.6 1709,206.2 1709.8,197.2 1710.7,187.5 1711.4,177.1 1712.1,166.1 1712.5,154.3 1712.6,141.8 1712.6,128.6 1712.2,114.7 1712.2,114.7 1712.2,114.7 1711.7,128.6 1711.2,141.8 1710.5,154.2 1709.9,166 1709.3,177 1708.7,187.4 1708.1,197.1 1707.4,206.1 1706.7,214.5 1706.1,222.2 1705.5,229.3 1705,235.8 1704.7,241.7 1704.4,247Z" fill="#66a742"/>
<path d="M1704.9,246.9 1704.1,241.4 1702.8,235.5 1701.2,229.2 1699.4,222.4 1697.4,215 1695.3,207.1 1693.2,198.5 1691.2,189.2 1689.3,179.1 1687.7,168.2 1686.1,156.4 1684.8,143.7 1684,129.9 1683.7,115.1 1683.7,115.1 1683.7,115.1 1683.3,130 1683.5,143.8 1684.3,156.6 1685.5,168.5 1687.3,179.5 1689.3,189.6 1691.5,198.9 1693.8,207.5 1696,215.4 1698.2,222.7 1700.2,229.5 1701.9,235.7 1703.3,241.6 1704.2,247.1Z" fill="#418629"/>
<path d="M1700.8,247.1 1702.8,242.9 1705.6,237.9 1709,232.2 1713,225.8 1717.4,218.6 1721.9,210.8 1726.5,202.4 1731,193.3 1735.2,183.6 1738.9,173.3 1741.9,162.5 1743.9,151 1744.8,139.1 1744.4,126.7 1744.4,126.7 1744.4,126.7 1743.8,139 1742.2,150.8 1739.7,162 1736.9,172.7 1733.3,182.9 1729.3,192.6 1725,201.6 1720.6,210.1 1716.2,217.9 1712,225.1 1708.1,231.6 1704.7,237.4 1702,242.5 1700.2,246.9Z" fill="#72ae4c"/>
<path d="M1701.7,246.9 1701,243 1699.9,238.3 1698.6,232.9 1697,226.7 1695.3,219.9 1693.5,212.4 1691.7,204.2 1690,195.3 1688.4,185.8 1686.9,175.7 1685.4,165 1684.3,153.6 1683.5,141.6 1683.2,129 1683.2,129 1683.2,129 1682.6,141.6 1682.6,153.7 1683.1,165.2 1684,176 1685.4,186.3 1687.2,195.8 1689.1,204.7 1691.2,212.9 1693.2,220.4 1695.2,227.2 1697,233.3 1698.5,238.6 1699.8,243.2 1700.7,247.1Z" fill="#3a8024"/>
<path d="M1703.6,247.1 1704.6,243.2 1706.1,238.7 1708,233.6 1710.1,227.8 1712.4,221.3 1714.8,214.2 1717.2,206.3 1719.5,197.8 1721.7,188.5 1723.5,178.4 1725,167.6 1725.6,155.9 1725.4,143.5 1724.5,130.3 1724.5,130.3 1724.5,130.3 1724.1,143.5 1723.2,155.8 1721.9,167.2 1720.6,178 1719,187.9 1717,197.2 1714.9,205.7 1712.7,213.6 1710.5,220.7 1708.4,227.2 1706.5,233.1 1704.8,238.3 1703.5,242.9 1702.7,246.9Z" fill="#5a9e38"/>
<path d="M1701.4,247.1 1703.3,242.3 1706.1,237.2 1709.6,231.7 1713.6,225.7 1718,219.3 1722.6,212.4 1727.2,205 1731.6,197.1 1735.7,188.5 1739.3,179.4 1741.9,169.5 1743.6,159 1744.1,147.8 1743.4,136 1743.4,136 1743.4,136 1743.3,147.8 1742.2,158.8 1740,169 1737.1,178.6 1733.7,187.7 1729.8,196.2 1725.6,204.1 1721.2,211.5 1716.8,218.5 1712.5,225 1708.6,231 1705.2,236.7 1702.5,242 1700.7,246.9Z" fill="#3a8024"/>
<path d="M1701,247.1 1701.9,243.2 1703.2,239 1704.7,234.4 1706.5,229.4 1708.4,223.8 1710.4,217.7 1712.4,210.9 1714.4,203.4 1716.3,195.1 1717.6,186 1718.6,175.9 1719.3,164.9 1719.6,153 1719.3,140 1719.3,140 1719.3,140 1718.6,153 1717.6,164.8 1716.3,175.7 1714.7,185.5 1713,194.5 1711.4,202.7 1709.7,210.2 1707.9,217 1706.2,223.2 1704.5,228.8 1703,233.9 1701.7,238.6 1700.7,242.9 1700,246.9Z" fill="#72ae4c"/>
<path d="M1707.1,246.9 1706.5,243.6 1705.5,239.7 1704.3,235.2 1703,230.1 1701.4,224.3 1699.8,217.9 1698.2,210.8 1696.6,203 1695.2,194.6 1693.5,185.4 1692.1,175.5 1690.9,164.9 1690.1,153.4 1689.6,141.2 1689.6,141.2 1689.6,141.2 1689.2,153.5 1689.4,165 1690,175.8 1690.9,185.8 1692.1,195.1 1693.8,203.6 1695.6,211.4 1697.5,218.5 1699.3,224.9 1701.1,230.6 1702.7,235.7 1704.2,240.1 1705.3,243.9 1706.2,247.1Z" fill="#458a2c"/>
<path d="M1707,247.2 1708.8,243.1 1711.4,238.6 1714.7,233.7 1718.5,228.3 1722.7,222.4 1727,216.1 1731.3,209.4 1735.5,202.2 1739.3,194.5 1742.7,186.4 1745.3,177.8 1746.7,168.7 1747.1,159.2 1746.1,149.4 1746.1,149.4 1746.1,149.4 1745.9,159.2 1744.7,168.4 1742.5,177.1 1740,185.5 1736.9,193.5 1733.3,201 1729.4,208.2 1725.2,215 1721.1,221.4 1717.1,227.3 1713.5,232.9 1710.3,238 1707.8,242.6 1706.2,246.8Z" fill="#458a2c"/>
<path d="M1707.1,247.1 1708.8,243.2 1711.2,239.2 1714.2,235 1717.7,230.5 1721.5,225.6 1725.5,220.3 1729.5,214.5 1733.4,208.1 1737,201.1 1740.2,193.3 1742.8,184.7 1744.3,175.3 1744.8,165 1744.2,153.8 1744.2,153.8 1744.2,153.8 1743.9,165 1742.6,175.1 1740.5,184.2 1738.1,192.6 1735.1,200.2 1731.7,207.2 1728,213.5 1724.2,219.4 1720.3,224.7 1716.7,229.7 1713.3,234.3 1710.3,238.7 1708,242.9 1706.4,246.9Z" fill="#458a2c"/>
<path d="M1718.3,110.6 1718.2,106.1 1718.2,101.5 1718.1,96.9 1717.9,92.3 1717.6,87.7 1717.2,83.2 1716.8,78.6 1716.3,74 1716.3,74 1716.3,74 1716.1,78.6 1716,83.2 1715.9,87.8 1715.9,92.4 1716,97 1716.2,101.5 1716.4,106.1 1716.6,110.7Z" fill="#9aa854"/>
<path d="M1694.7,137.5 1694.1,134.2 1693.6,131 1693,127.8 1692.4,124.5 1691.6,121.4 1690.7,118.2 1689.9,115 1688.9,111.8 1688.9,111.8 1688.9,111.8 1689.2,115.1 1689.6,118.4 1690,121.7 1690.4,124.9 1690.9,128.2 1691.6,131.4 1692.3,134.6 1692.9,137.8Z" fill="#b8bd6c"/>
<path d="M1693.5,118.1 1693.3,115.2 1693.1,112.4 1692.9,109.5 1692.6,106.6 1692.1,103.8 1691.7,100.9 1691.2,98.1 1690.6,95.3 1690.6,95.3 1690.6,95.3 1690.5,98.2 1690.5,101.1 1690.5,103.9 1690.6,106.8 1690.8,109.7 1691.1,112.5 1691.4,115.4 1691.8,118.3Z" fill="#9aa854"/>
<path d="M1704.8,110 1704.6,106.1 1704.4,102.2 1704.2,98.3 1703.8,94.4 1703.3,90.5 1702.8,86.7 1702.3,82.8 1701.7,78.9 1701.7,78.9 1701.7,78.9 1701.6,82.8 1701.7,86.7 1701.7,90.7 1701.8,94.6 1702,98.5 1702.4,102.4 1702.7,106.3 1703.1,110.2Z" fill="#9aa854"/>
<path d="M1692.7,126.5 1692.2,122.7 1691.8,118.9 1691.3,115 1690.7,111.2 1690,107.4 1689.2,103.6 1688.4,99.8 1687.6,96.1 1687.6,96.1 1687.6,96.1 1687.8,99.9 1688.1,103.8 1688.4,107.6 1688.7,111.5 1689.2,115.3 1689.8,119.1 1690.4,123 1691,126.8Z" fill="#b8bd6c"/>
<path d="M1716.8,108.1 1717,104.9 1717.2,101.8 1717.4,98.6 1717.5,95.5 1717.5,92.3 1717.4,89.2 1717.3,86 1717.2,82.8 1717.2,82.8 1717.2,82.8 1716.7,86 1716.3,89.1 1715.9,92.2 1715.5,95.4 1715.3,98.5 1715.2,101.7 1715.1,104.8 1715,108Z" fill="#9aa854"/>
<path d="M1696.3,143.6 1696.2,139.8 1696.2,136 1696.2,132.3 1696,128.5 1695.7,124.7 1695.4,121 1695.1,117.2 1694.7,113.4 1694.7,113.4 1694.7,113.4 1694.4,117.2 1694.3,121 1694.1,124.8 1694,128.5 1694.1,132.3 1694.2,136.1 1694.4,139.8 1694.5,143.6Z" fill="#a9b45e"/>
<path d="M1706.1,108.1 1706.2,104.1 1706.3,100 1706.4,96 1706.4,92 1706.3,88 1706.1,84 1705.9,80 1705.6,76 1705.6,76 1705.6,76 1705.2,80 1704.9,84 1704.7,88 1704.4,92 1704.3,96 1704.3,100 1704.3,104 1704.3,108Z" fill="#c2c278"/>
<path d="M1734.9,106.5 1735.3,103.6 1735.8,100.7 1736.2,97.9 1736.6,95 1736.8,92.1 1737,89.2 1737.1,86.3 1737.2,83.3 1737.2,83.3 1737.2,83.3 1736.4,86.2 1735.8,89 1735.2,91.9 1734.6,94.7 1734.1,97.6 1733.8,100.5 1733.5,103.3 1733.1,106.2Z" fill="#b8bd6c"/>
<path d="M1735.1,113.2 1735.7,109.6 1736.2,105.9 1736.8,102.2 1737.2,98.5 1737.5,94.8 1737.7,91.1 1738,87.3 1738.1,83.6 1738.1,83.6 1738.1,83.6 1737.3,87.2 1736.6,90.9 1735.9,94.6 1735.2,98.2 1734.7,101.9 1734.2,105.6 1733.8,109.3 1733.4,113Z" fill="#c2c278"/>
<path d="M1701,134.4 1701.1,131.7 1701.3,128.9 1701.5,126.1 1701.5,123.3 1701.4,120.5 1701.3,117.8 1701.1,115 1700.9,112.2 1700.9,112.2 1700.9,112.2 1700.5,114.9 1700.1,117.7 1699.8,120.5 1699.5,123.3 1699.3,126 1699.3,128.8 1699.3,131.6 1699.2,134.4Z" fill="#a9b45e"/>
<path d="M1712.4,134.4 1712.3,130.1 1712.2,125.7 1712.1,121.4 1711.9,117 1711.5,112.7 1711.1,108.3 1710.7,104 1710.1,99.6 1710.1,99.6 1710.1,99.6 1710,104 1709.9,108.4 1709.9,112.7 1709.8,117.1 1710,121.4 1710.2,125.8 1710.4,130.1 1710.7,134.5Z" fill="#b8bd6c"/>
<path d="M1678.8,251 L1682,265.5 L1725.5,265.5 L1728.7,251 Z" fill="#a95d52"/>
<ellipse cx="1703.8" cy="250.3" rx="24.9" ry="3.4" fill="#4d4a48" stroke="#c47f72" stroke-width="1.7"/>
<path d="M1697.7,250 L1695.9,222 L1697.3,222 L1699.5,250 Z" fill="#7fa83c"/>
<path d="M1699.7,250 L1698.7,222 L1700.1,222 L1701.5,250 Z" fill="#6a9a32"/>
<path d="M1701.7,250 L1701.5,222 L1702.9,222 L1703.5,250 Z" fill="#8cb046"/>
<path d="M1703.7,250 L1704.3,222 L1705.7,222 L1705.5,250 Z" fill="#5f922c"/>
<path d="M1705.7,250 L1707.1,222 L1708.5,222 L1707.5,250 Z" fill="#79a43a"/>
<path d="M1707.7,250 L1709.9,222 L1711.3,222 L1709.5,250 Z" fill="#6b9c34"/>
<rect x="1749.7" y="232" width="2.2" height="25.7" fill="#e8e8e8"/>
<text x="1160.8" y="284.3" font-size="15.8" fill="#222">WT</text>
<text x="1221.3" y="284.3" font-size="15.8" fill="#222">H28</text>
<text x="1282.1" y="284.3" font-size="15.8" fill="#222">H21</text>
<text x="1343.9" y="284.3" font-size="15.8" fill="#222">H20</text>
<text x="1403.4" y="284.3" font-size="15.8" fill="#222">H15</text>
<text x="1459.2" y="284.3" font-size="15.8" fill="#222">H14</text>
<text x="1515.7" y="284.3" font-size="15.8" fill="#222">H11</text>
<text x="1581.4" y="284.3" font-size="15.8" fill="#222">H8</text>
<text x="1636.3" y="284.3" font-size="15.8" fill="#222">H2</text>
<text x="1691.4" y="284.3" font-size="15.8" fill="#222" font-style="italic">hd1</text>
<rect x="1152.3" y="393.6" width="19.4" height="190.3" fill="#aee0ec" stroke="#ad9f9f" stroke-width="0.8"/>
<line x1="1162" y1="393.6" x2="1162" y2="385.7" stroke="#555" stroke-width="0.9"/>
<line x1="1157.2" y1="385.7" x2="1166.8" y2="385.7" stroke="#777" stroke-width="0.9"/>
<circle cx="1162.7" cy="385.7" r="1.45" fill="#1a1a1a"/>
<circle cx="1162.5" cy="395" r="1.45" fill="#1a1a1a"/>
<circle cx="1161.3" cy="400.1" r="1.45" fill="#1a1a1a"/>
<line x1="1162" y1="583.9" x2="1162" y2="587.5" stroke="#4a4a4a" stroke-width="1.2"/>
<text x="1152.3" y="602.8" font-size="12.6" fill="#2a2a2a">WT</text>
<rect x="1181.8" y="402.1" width="19.4" height="181.8" fill="#fddbb8" stroke="#ad9f9f" stroke-width="0.8"/>
<line x1="1191.5" y1="402.1" x2="1191.5" y2="390.5" stroke="#555" stroke-width="0.9"/>
<line x1="1186.7" y1="390.5" x2="1196.2" y2="390.5" stroke="#777" stroke-width="0.9"/>
<circle cx="1191.2" cy="390.5" r="1.45" fill="#1a1a1a"/>
<circle cx="1190.2" cy="395.2" r="1.45" fill="#1a1a1a"/>
<circle cx="1190.8" cy="420.8" r="1.45" fill="#1a1a1a"/>
<line x1="1191.5" y1="583.9" x2="1191.5" y2="587.5" stroke="#4a4a4a" stroke-width="1.2"/>
<text x="1179.6" y="602.8" font-size="12.6" fill="#2a2a2a">H28</text>
<rect x="1211.2" y="469.3" width="19.4" height="114.6" fill="#fddbb8" stroke="#ad9f9f" stroke-width="0.8"/>
<line x1="1220.9" y1="469.3" x2="1220.9" y2="449.1" stroke="#555" stroke-width="0.9"/>
<line x1="1216.1" y1="449.1" x2="1225.7" y2="449.1" stroke="#777" stroke-width="0.9"/>
<circle cx="1219.1" cy="449.1" r="1.45" fill="#1a1a1a"/>
<circle cx="1220.2" cy="466" r="1.45" fill="#1a1a1a"/>
<circle cx="1219.2" cy="493.2" r="1.45" fill="#1a1a1a"/>
<line x1="1220.9" y1="583.9" x2="1220.9" y2="587.5" stroke="#4a4a4a" stroke-width="1.2"/>
<text x="1209.1" y="602.8" font-size="12.6" fill="#2a2a2a">H21</text>
<rect x="1240.6" y="472.4" width="19.4" height="111.5" fill="#fddbb8" stroke="#ad9f9f" stroke-width="0.8"/>
<line x1="1250.3" y1="472.4" x2="1250.3" y2="460.9" stroke="#555" stroke-width="0.9"/>
<line x1="1245.5" y1="460.9" x2="1255.1" y2="460.9" stroke="#777" stroke-width="0.9"/>
<circle cx="1249.8" cy="460.8" r="1.45" fill="#1a1a1a"/>
<circle cx="1251.8" cy="478" r="1.45" fill="#1a1a1a"/>
<circle cx="1251.2" cy="480.1" r="1.45" fill="#1a1a1a"/>
<line x1="1250.3" y1="583.9" x2="1250.3" y2="587.5" stroke="#4a4a4a" stroke-width="1.2"/>
<text x="1238.5" y="602.8" font-size="12.6" fill="#2a2a2a">H20</text>
<rect x="1270.1" y="477.6" width="19.4" height="106.3" fill="#fddbb8" stroke="#ad9f9f" stroke-width="0.8"/>
<line x1="1279.8" y1="477.6" x2="1279.8" y2="474.5" stroke="#555" stroke-width="0.9"/>
<line x1="1275" y1="474.5" x2="1284.6" y2="474.5" stroke="#777" stroke-width="0.9"/>
<circle cx="1278.1" cy="474.8" r="1.45" fill="#1a1a1a"/>
<circle cx="1279.4" cy="477" r="1.45" fill="#1a1a1a"/>
<circle cx="1280.9" cy="482" r="1.45" fill="#1a1a1a"/>
<line x1="1279.8" y1="583.9" x2="1279.8" y2="587.5" stroke="#4a4a4a" stroke-width="1.2"/>
<text x="1268" y="602.8" font-size="12.6" fill="#2a2a2a">H15</text>
<rect x="1299.5" y="485.1" width="19.4" height="98.8" fill="#fddbb8" stroke="#ad9f9f" stroke-width="0.8"/>
<line x1="1309.2" y1="485.1" x2="1309.2" y2="479.5" stroke="#555" stroke-width="0.9"/>
<line x1="1304.5" y1="479.5" x2="1314" y2="479.5" stroke="#777" stroke-width="0.9"/>
<circle cx="1309" cy="480.1" r="1.45" fill="#1a1a1a"/>
<circle cx="1306.2" cy="486.1" r="1.45" fill="#1a1a1a"/>
<circle cx="1311.8" cy="490.4" r="1.45" fill="#1a1a1a"/>
<line x1="1309.2" y1="583.9" x2="1309.2" y2="587.5" stroke="#4a4a4a" stroke-width="1.2"/>
<text x="1297.4" y="602.8" font-size="12.6" fill="#2a2a2a">H14</text>
<rect x="1329" y="535.9" width="19.4" height="48" fill="#fddbb8" stroke="#ad9f9f" stroke-width="0.8"/>
<line x1="1338.7" y1="535.9" x2="1338.7" y2="531.2" stroke="#555" stroke-width="0.9"/>
<line x1="1333.9" y1="531.2" x2="1343.5" y2="531.2" stroke="#777" stroke-width="0.9"/>
<circle cx="1338.5" cy="531.6" r="1.45" fill="#1a1a1a"/>
<circle cx="1336.9" cy="536.5" r="1.45" fill="#1a1a1a"/>
<circle cx="1339.4" cy="538.7" r="1.45" fill="#1a1a1a"/>
<line x1="1338.7" y1="583.9" x2="1338.7" y2="587.5" stroke="#4a4a4a" stroke-width="1.2"/>
<text x="1327.4" y="602.8" font-size="12.6" fill="#2a2a2a">H11</text>
<rect x="1358.5" y="575.8" width="19.4" height="8.1" fill="#fddbb8" stroke="#ad9f9f" stroke-width="0.8"/>
<line x1="1368.2" y1="575.8" x2="1368.2" y2="574.3" stroke="#555" stroke-width="0.9"/>
<line x1="1363.4" y1="574.3" x2="1373" y2="574.3" stroke="#777" stroke-width="0.9"/>
<circle cx="1367.2" cy="575.2" r="1.45" fill="#1a1a1a"/>
<circle cx="1368.7" cy="575.5" r="1.45" fill="#1a1a1a"/>
<line x1="1368.2" y1="583.9" x2="1368.2" y2="587.5" stroke="#4a4a4a" stroke-width="1.2"/>
<text x="1359.9" y="602.8" font-size="12.6" fill="#2a2a2a">H8</text>
<rect x="1387.9" y="574" width="19.4" height="9.9" fill="#fddbb8" stroke="#ad9f9f" stroke-width="0.8"/>
<line x1="1397.6" y1="574" x2="1397.6" y2="572.5" stroke="#555" stroke-width="0.9"/>
<line x1="1392.8" y1="572.5" x2="1402.4" y2="572.5" stroke="#777" stroke-width="0.9"/>
<circle cx="1394.6" cy="574.6" r="1.45" fill="#1a1a1a"/>
<circle cx="1398.3" cy="573.6" r="1.45" fill="#1a1a1a"/>
<line x1="1397.6" y1="583.9" x2="1397.6" y2="587.5" stroke="#4a4a4a" stroke-width="1.2"/>
<text x="1389.4" y="602.8" font-size="12.6" fill="#2a2a2a">H2</text>
<line x1="1147.8" y1="340.2" x2="1147.8" y2="583.9" stroke="#4a4a4a" stroke-width="1.3"/>
<line x1="1143.3" y1="583.9" x2="1412.5" y2="583.9" stroke="#4a4a4a" stroke-width="1.5"/>
<line x1="1143.3" y1="340.7" x2="1147.8" y2="340.7" stroke="#4a4a4a" stroke-width="1.2"/>
<text x="1121.2" y="348.7" font-size="12.5" fill="#2a2a2a">1.6</text>
<line x1="1143.3" y1="371.1" x2="1147.8" y2="371.1" stroke="#4a4a4a" stroke-width="1.2"/>
<text x="1121.1" y="378.4" font-size="12.5" fill="#2a2a2a">1.4</text>
<line x1="1143.3" y1="401.5" x2="1147.8" y2="401.5" stroke="#4a4a4a" stroke-width="1.2"/>
<text x="1121.3" y="408.2" font-size="12.5" fill="#2a2a2a">1.2</text>
<line x1="1143.3" y1="431.9" x2="1147.8" y2="431.9" stroke="#4a4a4a" stroke-width="1.2"/>
<text x="1121.2" y="437.9" font-size="12.5" fill="#2a2a2a">1.0</text>
<line x1="1143.3" y1="462.3" x2="1147.8" y2="462.3" stroke="#4a4a4a" stroke-width="1.2"/>
<text x="1121.2" y="467.7" font-size="12.5" fill="#2a2a2a">0.8</text>
<line x1="1143.3" y1="492.7" x2="1147.8" y2="492.7" stroke="#4a4a4a" stroke-width="1.2"/>
<text x="1121.2" y="497.4" font-size="12.5" fill="#2a2a2a">0.6</text>
<line x1="1143.3" y1="523.1" x2="1147.8" y2="523.1" stroke="#4a4a4a" stroke-width="1.2"/>
<text x="1121.1" y="527.1" font-size="12.5" fill="#2a2a2a">0.4</text>
<line x1="1143.3" y1="553.5" x2="1147.8" y2="553.5" stroke="#4a4a4a" stroke-width="1.2"/>
<text x="1121.3" y="556.9" font-size="12.5" fill="#2a2a2a">0.2</text>
<text x="1131.6" y="586.6" font-size="12.5" fill="#2a2a2a">0</text>
<g transform="translate(1116.8,554.2) rotate(-90)"><text x="-1" y="0" font-size="12.8" fill="#2a2a2a">Relative expression level</text><text x="145.8" y="0" font-size="12.1" fill="#2a2a2a">(10</text><text x="165" y="-6.3" font-size="6.2" fill="#2a2a2a">-1</text><text x="170.9" y="0" font-size="12.8" fill="#2a2a2a">)</text></g>
<rect x="1475.4" y="342" width="19.4" height="242.6" fill="#aee0ec" stroke="#ad9f9f" stroke-width="0.8"/>
<line x1="1485.1" y1="342" x2="1485.1" y2="329.7" stroke="#555" stroke-width="0.9"/>
<line x1="1480.3" y1="329.7" x2="1489.9" y2="329.7" stroke="#777" stroke-width="0.9"/>
<circle cx="1484.1" cy="329.7" r="1.35" fill="#1a1a1a"/>
<circle cx="1486.1" cy="333.5" r="1.35" fill="#1a1a1a"/>
<circle cx="1483.1" cy="335.5" r="1.35" fill="#1a1a1a"/>
<circle cx="1487.1" cy="336" r="1.35" fill="#1a1a1a"/>
<circle cx="1484.1" cy="341" r="1.35" fill="#1a1a1a"/>
<circle cx="1486.6" cy="346.6" r="1.35" fill="#1a1a1a"/>
<circle cx="1482.1" cy="352" r="1.35" fill="#1a1a1a"/>
<circle cx="1487.6" cy="358" r="1.35" fill="#1a1a1a"/>
<line x1="1485.1" y1="584.6" x2="1485.1" y2="588.2" stroke="#4a4a4a" stroke-width="1.2"/>
<text x="1475.4" y="602.1" font-size="12.6" fill="#2a2a2a">WT</text>
<text x="1481.1" y="319.4" font-size="13.4" fill="#2a2a2a">a</text>
<rect x="1505.4" y="398" width="19.4" height="186.6" fill="#fddbb8" stroke="#ad9f9f" stroke-width="0.8"/>
<line x1="1515.1" y1="398" x2="1515.1" y2="392" stroke="#555" stroke-width="0.9"/>
<line x1="1510.3" y1="392" x2="1519.9" y2="392" stroke="#777" stroke-width="0.9"/>
<circle cx="1514.1" cy="392" r="1.35" fill="#1a1a1a"/>
<circle cx="1516.1" cy="394" r="1.35" fill="#1a1a1a"/>
<circle cx="1512.1" cy="396" r="1.35" fill="#1a1a1a"/>
<circle cx="1517.1" cy="396" r="1.35" fill="#1a1a1a"/>
<circle cx="1513.1" cy="401" r="1.35" fill="#1a1a1a"/>
<circle cx="1516.1" cy="401" r="1.35" fill="#1a1a1a"/>
<circle cx="1518.1" cy="404" r="1.35" fill="#1a1a1a"/>
<circle cx="1514.1" cy="404" r="1.35" fill="#1a1a1a"/>
<line x1="1515.1" y1="584.6" x2="1515.1" y2="588.2" stroke="#4a4a4a" stroke-width="1.2"/>
<text x="1503.3" y="602.1" font-size="12.6" fill="#2a2a2a">H28</text>
<text x="1511.2" y="384.1" font-size="13.4" fill="#2a2a2a">b</text>
<rect x="1535.3" y="412.1" width="19.4" height="172.5" fill="#fddbb8" stroke="#ad9f9f" stroke-width="0.8"/>
<line x1="1545" y1="412.1" x2="1545" y2="403.6" stroke="#555" stroke-width="0.9"/>
<line x1="1540.2" y1="403.6" x2="1549.8" y2="403.6" stroke="#777" stroke-width="0.9"/>
<circle cx="1545" cy="403.6" r="1.35" fill="#1a1a1a"/>
<circle cx="1546" cy="408" r="1.35" fill="#1a1a1a"/>
<circle cx="1544" cy="414" r="1.35" fill="#1a1a1a"/>
<circle cx="1547" cy="420" r="1.35" fill="#1a1a1a"/>
<circle cx="1548" cy="430" r="1.35" fill="#1a1a1a"/>
<circle cx="1543" cy="438" r="1.35" fill="#1a1a1a"/>
<circle cx="1547" cy="438" r="1.35" fill="#1a1a1a"/>
<line x1="1545" y1="584.6" x2="1545" y2="588.2" stroke="#4a4a4a" stroke-width="1.2"/>
<text x="1533.3" y="602.1" font-size="12.6" fill="#2a2a2a">H21</text>
<text x="1541.6" y="397.7" font-size="13.4" fill="#2a2a2a">c</text>
<rect x="1565.3" y="422.2" width="19.4" height="162.4" fill="#fddbb8" stroke="#ad9f9f" stroke-width="0.8"/>
<line x1="1575" y1="422.2" x2="1575" y2="414.8" stroke="#555" stroke-width="0.9"/>
<line x1="1570.2" y1="414.8" x2="1579.8" y2="414.8" stroke="#777" stroke-width="0.9"/>
<circle cx="1575" cy="414.8" r="1.35" fill="#1a1a1a"/>
<circle cx="1573" cy="416" r="1.35" fill="#1a1a1a"/>
<circle cx="1577" cy="416" r="1.35" fill="#1a1a1a"/>
<circle cx="1574" cy="422" r="1.35" fill="#1a1a1a"/>
<circle cx="1576" cy="427" r="1.35" fill="#1a1a1a"/>
<circle cx="1573" cy="431" r="1.35" fill="#1a1a1a"/>
<circle cx="1578" cy="433" r="1.35" fill="#1a1a1a"/>
<circle cx="1574" cy="437" r="1.35" fill="#1a1a1a"/>
<line x1="1575" y1="584.6" x2="1575" y2="588.2" stroke="#4a4a4a" stroke-width="1.2"/>
<text x="1563.2" y="602.1" font-size="12.6" fill="#2a2a2a">H20</text>
<text x="1571.6" y="397.7" font-size="13.4" fill="#2a2a2a">c</text>
<rect x="1595.3" y="447" width="19.4" height="137.6" fill="#fddbb8" stroke="#ad9f9f" stroke-width="0.8"/>
<line x1="1605" y1="447" x2="1605" y2="431.9" stroke="#555" stroke-width="0.9"/>
<line x1="1600.2" y1="431.9" x2="1609.8" y2="431.9" stroke="#777" stroke-width="0.9"/>
<circle cx="1605" cy="421.3" r="1.35" fill="#1a1a1a"/>
<circle cx="1605" cy="431.9" r="1.35" fill="#1a1a1a"/>
<circle cx="1603" cy="437" r="1.35" fill="#1a1a1a"/>
<circle cx="1607" cy="440" r="1.35" fill="#1a1a1a"/>
<circle cx="1604" cy="444" r="1.35" fill="#1a1a1a"/>
<circle cx="1607" cy="450" r="1.35" fill="#1a1a1a"/>
<circle cx="1603" cy="456" r="1.35" fill="#1a1a1a"/>
<circle cx="1605" cy="462" r="1.35" fill="#1a1a1a"/>
<circle cx="1605" cy="472.4" r="1.35" fill="#1a1a1a"/>
<line x1="1605" y1="584.6" x2="1605" y2="588.2" stroke="#4a4a4a" stroke-width="1.2"/>
<text x="1593.2" y="602.1" font-size="12.6" fill="#2a2a2a">H15</text>
<text x="1601.4" y="417.7" font-size="13.4" fill="#2a2a2a">d</text>
<rect x="1625.2" y="460.2" width="19.4" height="124.4" fill="#fddbb8" stroke="#ad9f9f" stroke-width="0.8"/>
<line x1="1634.9" y1="460.2" x2="1634.9" y2="443.7" stroke="#555" stroke-width="0.9"/>
<line x1="1630.1" y1="443.7" x2="1639.7" y2="443.7" stroke="#777" stroke-width="0.9"/>
<circle cx="1634.9" cy="443.7" r="1.35" fill="#1a1a1a"/>
<circle cx="1634.9" cy="448" r="1.35" fill="#1a1a1a"/>
<circle cx="1633.9" cy="455" r="1.35" fill="#1a1a1a"/>
<circle cx="1636.9" cy="462" r="1.35" fill="#1a1a1a"/>
<circle cx="1632.9" cy="467" r="1.35" fill="#1a1a1a"/>
<circle cx="1635.9" cy="471" r="1.35" fill="#1a1a1a"/>
<circle cx="1632.9" cy="478" r="1.35" fill="#1a1a1a"/>
<circle cx="1636.9" cy="478" r="1.35" fill="#1a1a1a"/>
<line x1="1634.9" y1="584.6" x2="1634.9" y2="588.2" stroke="#4a4a4a" stroke-width="1.2"/>
<text x="1623.1" y="602.1" font-size="12.6" fill="#2a2a2a">H14</text>
<text x="1631.3" y="436.1" font-size="13.4" fill="#2a2a2a">e</text>
<rect x="1655.2" y="478.1" width="19.4" height="106.5" fill="#fddbb8" stroke="#ad9f9f" stroke-width="0.8"/>
<line x1="1664.9" y1="478.1" x2="1664.9" y2="454.4" stroke="#555" stroke-width="0.9"/>
<line x1="1660.1" y1="454.4" x2="1669.7" y2="454.4" stroke="#777" stroke-width="0.9"/>
<circle cx="1664.9" cy="454.4" r="1.35" fill="#1a1a1a"/>
<circle cx="1663.9" cy="463" r="1.35" fill="#1a1a1a"/>
<circle cx="1665.9" cy="470" r="1.35" fill="#1a1a1a"/>
<circle cx="1663.9" cy="475" r="1.35" fill="#1a1a1a"/>
<circle cx="1666.9" cy="478" r="1.35" fill="#1a1a1a"/>
<circle cx="1662.9" cy="483" r="1.35" fill="#1a1a1a"/>
<circle cx="1665.9" cy="490" r="1.35" fill="#1a1a1a"/>
<circle cx="1663.9" cy="495" r="1.35" fill="#1a1a1a"/>
<circle cx="1666.9" cy="495" r="1.35" fill="#1a1a1a"/>
<line x1="1664.9" y1="584.6" x2="1664.9" y2="588.2" stroke="#4a4a4a" stroke-width="1.2"/>
<text x="1653.6" y="602.1" font-size="12.6" fill="#2a2a2a">H11</text>
<text x="1662.9" y="448.2" font-size="13.4" fill="#2a2a2a">f</text>
<rect x="1685.2" y="523.4" width="19.4" height="61.2" fill="#fddbb8" stroke="#ad9f9f" stroke-width="0.8"/>
<line x1="1694.9" y1="523.4" x2="1694.9" y2="506" stroke="#555" stroke-width="0.9"/>
<line x1="1690.1" y1="506" x2="1699.7" y2="506" stroke="#777" stroke-width="0.9"/>
<circle cx="1694.9" cy="506" r="1.35" fill="#1a1a1a"/>
<circle cx="1694.9" cy="512" r="1.35" fill="#1a1a1a"/>
<circle cx="1691.9" cy="517.5" r="1.35" fill="#1a1a1a"/>
<circle cx="1695.9" cy="517.5" r="1.35" fill="#1a1a1a"/>
<circle cx="1691.9" cy="523.5" r="1.35" fill="#1a1a1a"/>
<circle cx="1694.9" cy="523.5" r="1.35" fill="#1a1a1a"/>
<circle cx="1697.9" cy="523.5" r="1.35" fill="#1a1a1a"/>
<circle cx="1690.9" cy="529" r="1.35" fill="#1a1a1a"/>
<circle cx="1694.9" cy="529" r="1.35" fill="#1a1a1a"/>
<circle cx="1694.9" cy="535" r="1.35" fill="#1a1a1a"/>
<circle cx="1693.9" cy="546" r="1.35" fill="#1a1a1a"/>
<line x1="1694.9" y1="584.6" x2="1694.9" y2="588.2" stroke="#4a4a4a" stroke-width="1.2"/>
<text x="1686.6" y="602.1" font-size="12.6" fill="#2a2a2a">H8</text>
<text x="1687.6" y="498.2" font-size="13.4" fill="#2a2a2a">gh</text>
<rect x="1715.2" y="532.5" width="19.4" height="52.1" fill="#fddbb8" stroke="#ad9f9f" stroke-width="0.8"/>
<line x1="1724.9" y1="532.5" x2="1724.9" y2="517.5" stroke="#555" stroke-width="0.9"/>
<line x1="1720.1" y1="517.5" x2="1729.7" y2="517.5" stroke="#777" stroke-width="0.9"/>
<circle cx="1724.9" cy="517.5" r="1.35" fill="#1a1a1a"/>
<circle cx="1724.9" cy="523.5" r="1.35" fill="#1a1a1a"/>
<circle cx="1724.9" cy="529" r="1.35" fill="#1a1a1a"/>
<circle cx="1722.9" cy="534.5" r="1.35" fill="#1a1a1a"/>
<circle cx="1726.9" cy="534.5" r="1.35" fill="#1a1a1a"/>
<circle cx="1722.9" cy="540.5" r="1.35" fill="#1a1a1a"/>
<circle cx="1726.9" cy="540.5" r="1.35" fill="#1a1a1a"/>
<circle cx="1722.9" cy="546" r="1.35" fill="#1a1a1a"/>
<circle cx="1726.9" cy="546" r="1.35" fill="#1a1a1a"/>
<line x1="1724.9" y1="584.6" x2="1724.9" y2="588.2" stroke="#4a4a4a" stroke-width="1.2"/>
<text x="1716.6" y="602.1" font-size="12.6" fill="#2a2a2a">H2</text>
<text x="1721.1" y="509.3" font-size="13.4" fill="#2a2a2a">h</text>
<rect x="1745.1" y="518.3" width="19.4" height="66.3" fill="#f5c9a0" stroke="#ad9f9f" stroke-width="0.8"/>
<line x1="1754.8" y1="518.3" x2="1754.8" y2="494.9" stroke="#555" stroke-width="0.9"/>
<line x1="1750" y1="494.9" x2="1759.6" y2="494.9" stroke="#777" stroke-width="0.9"/>
<circle cx="1758.5" cy="494.9" r="1.35" fill="#1a1a1a"/>
<circle cx="1754.8" cy="506" r="1.35" fill="#1a1a1a"/>
<circle cx="1754.8" cy="518.5" r="1.35" fill="#1a1a1a"/>
<circle cx="1754.8" cy="523.5" r="1.35" fill="#1a1a1a"/>
<circle cx="1752.8" cy="529" r="1.35" fill="#1a1a1a"/>
<circle cx="1756.8" cy="529" r="1.35" fill="#1a1a1a"/>
<circle cx="1754.8" cy="535" r="1.35" fill="#1a1a1a"/>
<line x1="1754.8" y1="584.6" x2="1754.8" y2="588.2" stroke="#4a4a4a" stroke-width="1.2"/>
<text x="1744.8" y="602.1" font-size="12.6" fill="#2a2a2a" font-style="italic">hd1</text>
<text x="1751.3" y="487.7" font-size="13.4" fill="#2a2a2a">g</text>
<rect x="1471.5" y="551.6" width="299" height="4.6" fill="#fff"/>
<line x1="1470.3" y1="323.5" x2="1470.3" y2="551" stroke="#4a4a4a" stroke-width="1.3"/>
<line x1="1470.3" y1="557" x2="1470.3" y2="584.6" stroke="#4a4a4a" stroke-width="1.3"/>
<line x1="1465.6" y1="555" x2="1475.3" y2="549.7" stroke="#4a4a4a" stroke-width="1.3"/>
<line x1="1465.6" y1="558.3" x2="1475.3" y2="553.4" stroke="#4a4a4a" stroke-width="1.3"/>
<line x1="1465.6" y1="584.6" x2="1770" y2="584.6" stroke="#4a4a4a" stroke-width="1.5"/>
<line x1="1465.6" y1="324" x2="1470.3" y2="324" stroke="#4a4a4a" stroke-width="1.2"/>
<line x1="1465.6" y1="352.4" x2="1470.3" y2="352.4" stroke="#4a4a4a" stroke-width="1.2"/>
<line x1="1465.6" y1="380.9" x2="1470.3" y2="380.9" stroke="#4a4a4a" stroke-width="1.2"/>
<line x1="1465.6" y1="409.3" x2="1470.3" y2="409.3" stroke="#4a4a4a" stroke-width="1.2"/>
<line x1="1465.6" y1="437.8" x2="1470.3" y2="437.8" stroke="#4a4a4a" stroke-width="1.2"/>
<line x1="1465.6" y1="466.2" x2="1470.3" y2="466.2" stroke="#4a4a4a" stroke-width="1.2"/>
<line x1="1465.6" y1="494.6" x2="1470.3" y2="494.6" stroke="#4a4a4a" stroke-width="1.2"/>
<line x1="1465.6" y1="523.1" x2="1470.3" y2="523.1" stroke="#4a4a4a" stroke-width="1.2"/>
<text x="1439.4" y="332.3" font-size="12.6" fill="#2a2a2a">115</text>
<text x="1439.3" y="358.7" font-size="12.6" fill="#2a2a2a">110</text>
<text x="1438.5" y="384.5" font-size="12.6" fill="#2a2a2a">105</text>
<text x="1438.5" y="409.4" font-size="12.6" fill="#2a2a2a">100</text>
<text x="1445.5" y="434.7" font-size="12.6" fill="#2a2a2a">95</text>
<text x="1445.5" y="459.6" font-size="12.6" fill="#2a2a2a">90</text>
<text x="1445.5" y="483.2" font-size="12.6" fill="#2a2a2a">85</text>
<text x="1445.5" y="510.2" font-size="12.6" fill="#2a2a2a">80</text>
<text x="1445.5" y="534" font-size="12.6" fill="#2a2a2a">75</text>
<text x="1445.5" y="560.9" font-size="12.6" fill="#2a2a2a">70</text>
<text x="1452.4" y="587.9" font-size="12.6" fill="#2a2a2a">0</text>
<ellipse cx="1412.4" cy="305.6" rx="0.9" ry="1.5" transform="rotate(30 1412.4 305.6)" fill="#333"/>
<ellipse cx="1426.2" cy="305.8" rx="0.9" ry="1.5" transform="rotate(-35 1426.2 305.8)" fill="#333"/>
<line x1="1062" y1="607.6" x2="1771" y2="607.6" stroke="#e6e6e6" stroke-width="0.8" stroke-dasharray="1 2.2"/>
<g transform="translate(1434.7,500.1) rotate(-90)"><text x="-1.1" y="0" font-size="13.3" fill="#2a2a2a">Days to heading</text></g>
</svg>
</body></html>
